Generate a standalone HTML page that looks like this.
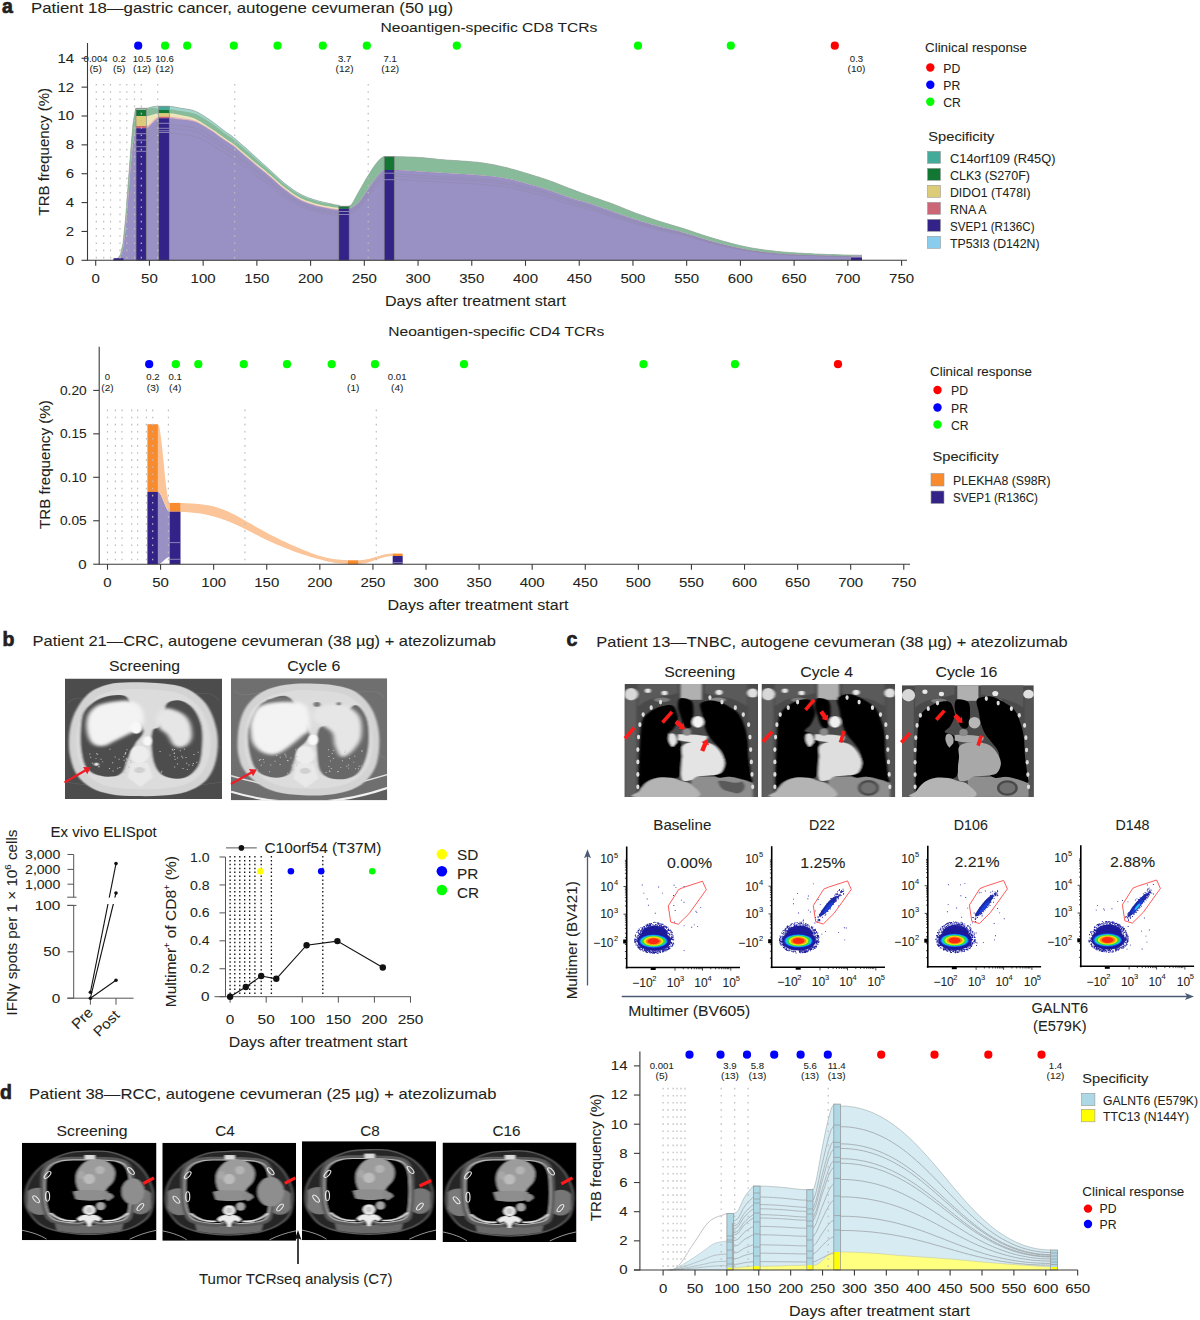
<!DOCTYPE html>
<html><head><meta charset="utf-8"><title>Figure</title>
<style>
html,body{margin:0;padding:0;background:#fff;}
body{width:1200px;height:1320px;overflow:hidden;position:relative;}
svg{position:absolute;left:0;top:0;}
text{font-family:"Liberation Sans",sans-serif;fill:#231f20;stroke:#231f20;stroke-width:0.07px;}
</style></head><body>
<svg width="1200" height="1320" viewBox="0 0 1200 1320">
<defs><filter id="bl1" x="-10%" y="-10%" width="120%" height="120%"><feGaussianBlur stdDeviation="1.2"/></filter>
<filter id="bl2" x="-10%" y="-10%" width="120%" height="120%"><feGaussianBlur stdDeviation="2.2"/></filter>
<filter id="bl05" x="-10%" y="-10%" width="120%" height="120%"><feGaussianBlur stdDeviation="0.6"/></filter>
<clipPath id="cpb1"><rect x="65" y="678.5" width="157" height="120.5"/></clipPath>
<clipPath id="cpb2"><rect x="231" y="678.2" width="156.2" height="122"/></clipPath>
<clipPath id="cpc1"><rect x="624.5" y="684" width="133.5" height="113"/></clipPath>
<clipPath id="cpc2"><rect x="761.5" y="684" width="133.7" height="113"/></clipPath>
<clipPath id="cpc3"><rect x="901.9" y="685.2" width="131.9" height="111.7"/></clipPath>
<clipPath id="cpd1"><rect x="22" y="1142.8" width="134.5" height="97.4"/></clipPath>
<clipPath id="cpd2"><rect x="162.3" y="1142.8" width="133.8" height="98"/></clipPath>
<clipPath id="cpd3"><rect x="302" y="1141.2" width="134" height="99"/></clipPath>
<clipPath id="cpd4"><rect x="442.5" y="1142.5" width="134" height="99.5"/></clipPath></defs>
<text x="2" y="12.8" font-size="19.5" font-weight="bold" style="stroke-width:0.7px">a</text>
<text x="31" y="12.8" font-size="14.6" textLength="422" lengthAdjust="spacingAndGlyphs" >Patient 18—gastric cancer, autogene cevumeran (50 µg)</text>
<text x="380.4" y="32.4" font-size="13.6" textLength="217" lengthAdjust="spacingAndGlyphs" >Neoantigen-specific CD8 TCRs</text>
<polygon points="113.0,260.3 115.5,259.8 118.0,258.2 120.5,254.5 123.0,243.4 125.5,219.1 128.0,186.4 130.5,153.1 133.0,123.7 135.5,108.8 138.1,108.3 140.6,108.3 143.1,108.3 145.6,108.3 148.1,108.1 150.6,107.3 153.1,106.7 155.6,106.4 158.1,106.3 160.6,106.3 163.1,106.3 165.6,106.3 168.1,106.3 170.6,106.4 173.1,106.7 175.6,107.2 178.1,107.7 180.6,108.2 183.1,108.6 185.6,108.9 188.2,109.3 190.7,109.8 193.2,110.5 195.7,111.4 198.2,112.6 200.7,114.0 203.2,115.5 205.7,117.1 208.2,118.8 210.7,120.5 213.2,122.3 215.7,124.2 218.2,126.1 220.7,128.1 223.2,130.0 225.7,131.9 228.2,133.6 230.7,135.3 233.2,137.2 235.7,139.3 238.3,141.5 240.8,143.8 243.3,145.9 245.8,148.1 248.3,150.3 250.8,152.6 253.3,154.9 255.8,157.2 258.3,159.4 260.8,161.7 263.3,164.0 265.8,166.2 268.3,168.5 270.8,170.7 273.3,173.1 275.8,175.4 278.3,177.8 280.8,180.0 283.3,182.2 285.8,184.2 288.4,186.2 290.9,188.1 293.4,189.9 295.9,191.5 298.4,193.0 300.9,194.4 303.4,195.6 305.9,196.7 308.4,197.7 310.9,198.6 313.4,199.4 315.9,200.2 318.4,200.9 320.9,201.6 323.4,202.2 325.9,202.7 328.4,203.3 330.9,203.8 333.4,204.4 335.9,204.9 338.5,205.2 341.0,206.3 343.5,206.3 346.0,206.3 348.5,206.3 351.0,205.3 353.5,201.6 356.0,196.7 358.5,192.2 361.0,187.9 363.5,183.5 366.0,179.1 368.5,175.1 371.0,171.0 373.5,167.2 376.0,163.8 378.5,160.8 381.0,158.2 383.5,156.8 386.0,156.7 388.6,156.7 391.1,156.7 393.6,156.7 396.1,156.7 398.6,156.7 401.1,156.8 403.6,156.8 406.1,156.9 408.6,156.9 411.1,157.0 413.6,157.1 416.1,157.3 418.6,157.4 421.1,157.6 423.6,157.8 426.1,158.0 428.6,158.3 431.1,158.6 433.6,158.8 436.1,159.1 438.7,159.4 441.2,159.6 443.7,159.8 446.2,160.0 448.7,160.2 451.2,160.3 453.7,160.5 456.2,160.6 458.7,160.8 461.2,161.0 463.7,161.1 466.2,161.3 468.7,161.5 471.2,161.7 473.7,161.9 476.2,162.1 478.7,162.4 481.2,162.7 483.7,163.1 486.2,163.4 488.8,163.9 491.3,164.3 493.8,164.8 496.3,165.3 498.8,165.9 501.3,166.4 503.8,167.0 506.3,167.6 508.8,168.2 511.3,168.9 513.8,169.6 516.3,170.3 518.8,171.0 521.3,171.8 523.8,172.5 526.3,173.3 528.8,174.0 531.3,174.8 533.8,175.6 536.3,176.4 538.9,177.1 541.4,178.0 543.9,178.8 546.4,179.6 548.9,180.5 551.4,181.4 553.9,182.3 556.4,183.3 558.9,184.3 561.4,185.3 563.9,186.3 566.4,187.2 568.9,188.2 571.4,189.1 573.9,190.1 576.4,191.0 578.9,191.9 581.4,192.9 583.9,193.8 586.4,194.7 589.0,195.6 591.5,196.5 594.0,197.4 596.5,198.3 599.0,199.1 601.5,200.0 604.0,200.9 606.5,201.7 609.0,202.6 611.5,203.5 614.0,204.5 616.5,205.4 619.0,206.4 621.5,207.4 624.0,208.5 626.5,209.5 629.0,210.5 631.5,211.5 634.0,212.4 636.5,213.4 639.1,214.3 641.6,215.2 644.1,216.1 646.6,217.0 649.1,217.8 651.6,218.7 654.1,219.5 656.6,220.4 659.1,221.2 661.6,222.0 664.1,222.7 666.6,223.5 669.1,224.2 671.6,225.0 674.1,225.7 676.6,226.5 679.1,227.2 681.6,228.0 684.1,228.8 686.6,229.6 689.2,230.5 691.7,231.3 694.2,232.2 696.7,233.0 699.2,233.8 701.7,234.7 704.2,235.5 706.7,236.3 709.2,237.1 711.7,237.8 714.2,238.6 716.7,239.3 719.2,240.0 721.7,240.7 724.2,241.4 726.7,242.1 729.2,242.8 731.7,243.5 734.2,244.1 736.7,244.8 739.3,245.4 741.8,245.9 744.3,246.5 746.8,247.0 749.3,247.5 751.8,248.0 754.3,248.4 756.8,248.8 759.3,249.2 761.8,249.5 764.3,249.9 766.8,250.2 769.3,250.5 771.8,250.8 774.3,251.1 776.8,251.4 779.3,251.6 781.8,251.9 784.3,252.1 786.8,252.3 789.4,252.5 791.9,252.7 794.4,252.8 796.9,253.0 799.4,253.1 801.9,253.2 804.4,253.4 806.9,253.5 809.4,253.6 811.9,253.7 814.4,253.9 816.9,254.0 819.4,254.1 821.9,254.2 824.4,254.3 826.9,254.4 829.4,254.5 831.9,254.6 834.4,254.6 836.9,254.7 839.5,254.8 842.0,254.9 844.5,254.9 847.0,255.0 849.5,255.1 852.0,255.1 854.5,255.2 857.0,255.2 859.5,255.3 862.0,255.3 862.0,260.3 859.5,260.3 857.0,260.3 854.5,260.3 852.0,260.3 849.5,260.3 847.0,260.3 844.5,260.3 842.0,260.3 839.5,260.3 836.9,260.3 834.4,260.3 831.9,260.3 829.4,260.3 826.9,260.3 824.4,260.3 821.9,260.3 819.4,260.3 816.9,260.3 814.4,260.3 811.9,260.3 809.4,260.3 806.9,260.3 804.4,260.3 801.9,260.3 799.4,260.3 796.9,260.3 794.4,260.3 791.9,260.3 789.4,260.3 786.8,260.3 784.3,260.3 781.8,260.3 779.3,260.3 776.8,260.3 774.3,260.3 771.8,260.3 769.3,260.3 766.8,260.3 764.3,260.3 761.8,260.3 759.3,260.3 756.8,260.3 754.3,260.3 751.8,260.3 749.3,260.3 746.8,260.3 744.3,260.3 741.8,260.3 739.3,260.3 736.7,260.3 734.2,260.3 731.7,260.3 729.2,260.3 726.7,260.3 724.2,260.3 721.7,260.3 719.2,260.3 716.7,260.3 714.2,260.3 711.7,260.3 709.2,260.3 706.7,260.3 704.2,260.3 701.7,260.3 699.2,260.3 696.7,260.3 694.2,260.3 691.7,260.3 689.2,260.3 686.6,260.3 684.1,260.3 681.6,260.3 679.1,260.3 676.6,260.3 674.1,260.3 671.6,260.3 669.1,260.3 666.6,260.3 664.1,260.3 661.6,260.3 659.1,260.3 656.6,260.3 654.1,260.3 651.6,260.3 649.1,260.3 646.6,260.3 644.1,260.3 641.6,260.3 639.1,260.3 636.5,260.3 634.0,260.3 631.5,260.3 629.0,260.3 626.5,260.3 624.0,260.3 621.5,260.3 619.0,260.3 616.5,260.3 614.0,260.3 611.5,260.3 609.0,260.3 606.5,260.3 604.0,260.3 601.5,260.3 599.0,260.3 596.5,260.3 594.0,260.3 591.5,260.3 589.0,260.3 586.4,260.3 583.9,260.3 581.4,260.3 578.9,260.3 576.4,260.3 573.9,260.3 571.4,260.3 568.9,260.3 566.4,260.3 563.9,260.3 561.4,260.3 558.9,260.3 556.4,260.3 553.9,260.3 551.4,260.3 548.9,260.3 546.4,260.3 543.9,260.3 541.4,260.3 538.9,260.3 536.3,260.3 533.8,260.3 531.3,260.3 528.8,260.3 526.3,260.3 523.8,260.3 521.3,260.3 518.8,260.3 516.3,260.3 513.8,260.3 511.3,260.3 508.8,260.3 506.3,260.3 503.8,260.3 501.3,260.3 498.8,260.3 496.3,260.3 493.8,260.3 491.3,260.3 488.8,260.3 486.2,260.3 483.7,260.3 481.2,260.3 478.7,260.3 476.2,260.3 473.7,260.3 471.2,260.3 468.7,260.3 466.2,260.3 463.7,260.3 461.2,260.3 458.7,260.3 456.2,260.3 453.7,260.3 451.2,260.3 448.7,260.3 446.2,260.3 443.7,260.3 441.2,260.3 438.7,260.3 436.1,260.3 433.6,260.3 431.1,260.3 428.6,260.3 426.1,260.3 423.6,260.3 421.1,260.3 418.6,260.3 416.1,260.3 413.6,260.3 411.1,260.3 408.6,260.3 406.1,260.3 403.6,260.3 401.1,260.3 398.6,260.3 396.1,260.3 393.6,260.3 391.1,260.3 388.6,260.3 386.0,260.3 383.5,260.3 381.0,260.3 378.5,260.3 376.0,260.3 373.5,260.3 371.0,260.3 368.5,260.3 366.0,260.3 363.5,260.3 361.0,260.3 358.5,260.3 356.0,260.3 353.5,260.3 351.0,260.3 348.5,260.3 346.0,260.3 343.5,260.3 341.0,260.3 338.5,260.3 335.9,260.3 333.4,260.3 330.9,260.3 328.4,260.3 325.9,260.3 323.4,260.3 320.9,260.3 318.4,260.3 315.9,260.3 313.4,260.3 310.9,260.3 308.4,260.3 305.9,260.3 303.4,260.3 300.9,260.3 298.4,260.3 295.9,260.3 293.4,260.3 290.9,260.3 288.4,260.3 285.8,260.3 283.3,260.3 280.8,260.3 278.3,260.3 275.8,260.3 273.3,260.3 270.8,260.3 268.3,260.3 265.8,260.3 263.3,260.3 260.8,260.3 258.3,260.3 255.8,260.3 253.3,260.3 250.8,260.3 248.3,260.3 245.8,260.3 243.3,260.3 240.8,260.3 238.3,260.3 235.7,260.3 233.2,260.3 230.7,260.3 228.2,260.3 225.7,260.3 223.2,260.3 220.7,260.3 218.2,260.3 215.7,260.3 213.2,260.3 210.7,260.3 208.2,260.3 205.7,260.3 203.2,260.3 200.7,260.3 198.2,260.3 195.7,260.3 193.2,260.3 190.7,260.3 188.2,260.3 185.6,260.3 183.1,260.3 180.6,260.3 178.1,260.3 175.6,260.3 173.1,260.3 170.6,260.3 168.1,260.3 165.6,260.3 163.1,260.3 160.6,260.3 158.1,260.3 155.6,260.3 153.1,260.3 150.6,260.3 148.1,260.3 145.6,260.3 143.1,260.3 140.6,260.3 138.1,260.3 135.5,260.3 133.0,260.3 130.5,260.3 128.0,260.3 125.5,260.3 123.0,260.3 120.5,260.3 118.0,260.3 115.5,260.3 113.0,260.3" fill="#88bb99" />
<polygon points="113.0,260.3 115.5,259.8 118.0,258.2 120.5,254.5 123.0,243.4 125.5,219.1 128.0,186.4 130.5,153.1 133.0,123.7 135.5,108.8 138.1,108.3 140.6,108.3 143.1,108.3 145.6,108.3 148.1,108.4 150.6,108.2 153.1,108.1 155.6,108.3 158.1,108.7 160.6,110.0 163.1,110.0 165.6,110.0 168.1,110.0 170.6,109.4 173.1,109.7 175.6,110.1 178.1,110.6 180.6,111.0 183.1,111.4 185.6,111.7 188.2,112.0 190.7,112.5 193.2,113.1 195.7,114.0 198.2,115.1 200.7,116.5 203.2,118.0 205.7,119.6 208.2,121.2 210.7,122.9 213.2,124.6 215.7,126.5 218.2,128.4 220.7,130.3 223.2,132.2 225.7,134.0 228.2,135.7 230.7,137.4 233.2,139.2 235.7,141.3 238.3,143.5 240.8,145.7 243.3,147.8 245.8,150.0 248.3,152.2 250.8,154.4 253.3,156.6 255.8,158.9 258.3,161.1 260.8,163.3 263.3,165.6 265.8,167.8 268.3,170.0 270.8,172.2 273.3,174.5 275.8,176.8 278.3,179.1 280.8,181.4 283.3,183.5 285.8,185.5 288.4,187.4 290.9,189.3 293.4,191.0 295.9,192.6 298.4,194.1 300.9,195.5 303.4,196.6 305.9,197.7 308.4,198.6 310.9,199.4 313.4,200.2 315.9,201.0 318.4,201.7 320.9,202.3 323.4,202.9 325.9,203.4 328.4,203.9 330.9,203.8 333.4,204.4 335.9,204.9 338.5,205.2 341.0,206.3 343.5,206.3 346.0,206.3 348.5,206.3 351.0,205.3 353.5,201.6 356.0,196.7 358.5,192.2 361.0,187.9 363.5,183.5 366.0,179.1 368.5,175.1 371.0,171.0 373.5,167.2 376.0,163.8 378.5,160.8 381.0,158.2 383.5,156.8 386.0,156.7 388.6,156.7 391.1,156.7 393.6,156.7 396.1,156.7 398.6,156.7 401.1,156.8 403.6,156.8 406.1,156.9 408.6,156.9 411.1,157.0 413.6,157.1 416.1,157.3 418.6,157.4 421.1,157.6 423.6,157.8 426.1,158.0 428.6,158.3 431.1,158.6 433.6,158.8 436.1,159.1 438.7,159.4 441.2,159.6 443.7,159.8 446.2,160.0 448.7,160.2 451.2,160.3 453.7,160.5 456.2,160.6 458.7,160.8 461.2,161.0 463.7,161.1 466.2,161.3 468.7,161.5 471.2,161.7 473.7,161.9 476.2,162.1 478.7,162.4 481.2,162.7 483.7,163.1 486.2,163.4 488.8,163.9 491.3,164.3 493.8,164.8 496.3,165.3 498.8,165.9 501.3,166.4 503.8,167.0 506.3,167.6 508.8,168.2 511.3,168.9 513.8,169.6 516.3,170.3 518.8,171.0 521.3,171.8 523.8,172.5 526.3,173.3 528.8,174.0 531.3,174.8 533.8,175.6 536.3,176.4 538.9,177.1 541.4,178.0 543.9,178.8 546.4,179.6 548.9,180.5 551.4,181.4 553.9,182.3 556.4,183.3 558.9,184.3 561.4,185.3 563.9,186.3 566.4,187.2 568.9,188.2 571.4,189.1 573.9,190.1 576.4,191.0 578.9,191.9 581.4,192.9 583.9,193.8 586.4,194.7 589.0,195.6 591.5,196.5 594.0,197.4 596.5,198.3 599.0,199.1 601.5,200.0 604.0,200.9 606.5,201.7 609.0,202.6 611.5,203.5 614.0,204.5 616.5,205.4 619.0,206.4 621.5,207.4 624.0,208.5 626.5,209.5 629.0,210.5 631.5,211.5 634.0,212.4 636.5,213.4 639.1,214.3 641.6,215.2 644.1,216.1 646.6,217.0 649.1,217.8 651.6,218.7 654.1,219.5 656.6,220.4 659.1,221.2 661.6,222.0 664.1,222.7 666.6,223.5 669.1,224.2 671.6,225.0 674.1,225.7 676.6,226.5 679.1,227.2 681.6,228.0 684.1,228.8 686.6,229.6 689.2,230.5 691.7,231.3 694.2,232.2 696.7,233.0 699.2,233.8 701.7,234.7 704.2,235.5 706.7,236.3 709.2,237.1 711.7,237.8 714.2,238.6 716.7,239.3 719.2,240.0 721.7,240.7 724.2,241.4 726.7,242.1 729.2,242.8 731.7,243.5 734.2,244.1 736.7,244.8 739.3,245.4 741.8,245.9 744.3,246.5 746.8,247.0 749.3,247.5 751.8,248.0 754.3,248.4 756.8,248.8 759.3,249.2 761.8,249.5 764.3,249.9 766.8,250.2 769.3,250.5 771.8,250.8 774.3,251.1 776.8,251.4 779.3,251.6 781.8,251.9 784.3,252.1 786.8,252.3 789.4,252.5 791.9,252.7 794.4,252.8 796.9,253.0 799.4,253.1 801.9,253.2 804.4,253.4 806.9,253.5 809.4,253.6 811.9,253.7 814.4,253.9 816.9,254.0 819.4,254.1 821.9,254.2 824.4,254.3 826.9,254.4 829.4,254.5 831.9,254.6 834.4,254.6 836.9,254.7 839.5,254.8 842.0,254.9 844.5,254.9 847.0,255.0 849.5,255.1 852.0,255.1 854.5,255.2 857.0,255.2 859.5,255.3 862.0,255.3 862.0,260.3 859.5,260.3 857.0,260.3 854.5,260.3 852.0,260.3 849.5,260.3 847.0,260.3 844.5,260.3 842.0,260.3 839.5,260.3 836.9,260.3 834.4,260.3 831.9,260.3 829.4,260.3 826.9,260.3 824.4,260.3 821.9,260.3 819.4,260.3 816.9,260.3 814.4,260.3 811.9,260.3 809.4,260.3 806.9,260.3 804.4,260.3 801.9,260.3 799.4,260.3 796.9,260.3 794.4,260.3 791.9,260.3 789.4,260.3 786.8,260.3 784.3,260.3 781.8,260.3 779.3,260.3 776.8,260.3 774.3,260.3 771.8,260.3 769.3,260.3 766.8,260.3 764.3,260.3 761.8,260.3 759.3,260.3 756.8,260.3 754.3,260.3 751.8,260.3 749.3,260.3 746.8,260.3 744.3,260.3 741.8,260.3 739.3,260.3 736.7,260.3 734.2,260.3 731.7,260.3 729.2,260.3 726.7,260.3 724.2,260.3 721.7,260.3 719.2,260.3 716.7,260.3 714.2,260.3 711.7,260.3 709.2,260.3 706.7,260.3 704.2,260.3 701.7,260.3 699.2,260.3 696.7,260.3 694.2,260.3 691.7,260.3 689.2,260.3 686.6,260.3 684.1,260.3 681.6,260.3 679.1,260.3 676.6,260.3 674.1,260.3 671.6,260.3 669.1,260.3 666.6,260.3 664.1,260.3 661.6,260.3 659.1,260.3 656.6,260.3 654.1,260.3 651.6,260.3 649.1,260.3 646.6,260.3 644.1,260.3 641.6,260.3 639.1,260.3 636.5,260.3 634.0,260.3 631.5,260.3 629.0,260.3 626.5,260.3 624.0,260.3 621.5,260.3 619.0,260.3 616.5,260.3 614.0,260.3 611.5,260.3 609.0,260.3 606.5,260.3 604.0,260.3 601.5,260.3 599.0,260.3 596.5,260.3 594.0,260.3 591.5,260.3 589.0,260.3 586.4,260.3 583.9,260.3 581.4,260.3 578.9,260.3 576.4,260.3 573.9,260.3 571.4,260.3 568.9,260.3 566.4,260.3 563.9,260.3 561.4,260.3 558.9,260.3 556.4,260.3 553.9,260.3 551.4,260.3 548.9,260.3 546.4,260.3 543.9,260.3 541.4,260.3 538.9,260.3 536.3,260.3 533.8,260.3 531.3,260.3 528.8,260.3 526.3,260.3 523.8,260.3 521.3,260.3 518.8,260.3 516.3,260.3 513.8,260.3 511.3,260.3 508.8,260.3 506.3,260.3 503.8,260.3 501.3,260.3 498.8,260.3 496.3,260.3 493.8,260.3 491.3,260.3 488.8,260.3 486.2,260.3 483.7,260.3 481.2,260.3 478.7,260.3 476.2,260.3 473.7,260.3 471.2,260.3 468.7,260.3 466.2,260.3 463.7,260.3 461.2,260.3 458.7,260.3 456.2,260.3 453.7,260.3 451.2,260.3 448.7,260.3 446.2,260.3 443.7,260.3 441.2,260.3 438.7,260.3 436.1,260.3 433.6,260.3 431.1,260.3 428.6,260.3 426.1,260.3 423.6,260.3 421.1,260.3 418.6,260.3 416.1,260.3 413.6,260.3 411.1,260.3 408.6,260.3 406.1,260.3 403.6,260.3 401.1,260.3 398.6,260.3 396.1,260.3 393.6,260.3 391.1,260.3 388.6,260.3 386.0,260.3 383.5,260.3 381.0,260.3 378.5,260.3 376.0,260.3 373.5,260.3 371.0,260.3 368.5,260.3 366.0,260.3 363.5,260.3 361.0,260.3 358.5,260.3 356.0,260.3 353.5,260.3 351.0,260.3 348.5,260.3 346.0,260.3 343.5,260.3 341.0,260.3 338.5,260.3 335.9,260.3 333.4,260.3 330.9,260.3 328.4,260.3 325.9,260.3 323.4,260.3 320.9,260.3 318.4,260.3 315.9,260.3 313.4,260.3 310.9,260.3 308.4,260.3 305.9,260.3 303.4,260.3 300.9,260.3 298.4,260.3 295.9,260.3 293.4,260.3 290.9,260.3 288.4,260.3 285.8,260.3 283.3,260.3 280.8,260.3 278.3,260.3 275.8,260.3 273.3,260.3 270.8,260.3 268.3,260.3 265.8,260.3 263.3,260.3 260.8,260.3 258.3,260.3 255.8,260.3 253.3,260.3 250.8,260.3 248.3,260.3 245.8,260.3 243.3,260.3 240.8,260.3 238.3,260.3 235.7,260.3 233.2,260.3 230.7,260.3 228.2,260.3 225.7,260.3 223.2,260.3 220.7,260.3 218.2,260.3 215.7,260.3 213.2,260.3 210.7,260.3 208.2,260.3 205.7,260.3 203.2,260.3 200.7,260.3 198.2,260.3 195.7,260.3 193.2,260.3 190.7,260.3 188.2,260.3 185.6,260.3 183.1,260.3 180.6,260.3 178.1,260.3 175.6,260.3 173.1,260.3 170.6,260.3 168.1,260.3 165.6,260.3 163.1,260.3 160.6,260.3 158.1,260.3 155.6,260.3 153.1,260.3 150.6,260.3 148.1,260.3 145.6,260.3 143.1,260.3 140.6,260.3 138.1,260.3 135.5,260.3 133.0,260.3 130.5,260.3 128.0,260.3 125.5,260.3 123.0,260.3 120.5,260.3 118.0,260.3 115.5,260.3 113.0,260.3" fill="#88bb99" />
<polygon points="146.0,108.3 148.5,107.9 151.0,107.1 153.6,106.6 156.1,106.4 158.6,106.3 161.1,106.3 163.6,106.3 166.2,106.3 168.7,106.3 171.2,106.5 173.7,106.8 176.2,107.3 178.8,107.8 181.3,108.3 183.8,108.7 186.3,109.0 188.8,109.4 191.4,110.0 193.9,110.7 196.4,111.7 198.9,113.0 201.5,114.4 204.0,116.0 206.5,117.6 209.0,119.3 211.5,121.1 214.1,122.9 216.6,124.8 219.1,126.8 221.6,128.8 224.1,130.7 226.7,132.5 229.2,134.3 231.7,136.0 234.2,137.9 236.7,140.1 239.3,142.4 241.8,144.7 244.3,146.8 246.8,149.1 249.3,151.3 251.9,153.6 254.4,155.9 256.9,158.2 259.4,160.5 261.9,162.7 264.5,165.0 267.0,167.3 269.5,169.6 272.0,171.9 274.5,174.2 277.1,176.6 279.6,178.9 282.1,181.2 284.6,183.3 287.2,185.3 289.7,187.2 292.2,189.0 294.7,190.8 297.2,192.4 299.8,193.8 302.3,195.1 304.8,196.2 307.3,197.3 309.8,198.2 312.4,199.1 314.9,199.9 317.4,200.7 319.9,201.3 322.4,202.0 325.0,202.5 327.5,203.1 330.0,203.6 330.0,203.6 327.5,203.7 325.0,203.2 322.4,202.7 319.9,202.1 317.4,201.4 314.9,200.7 312.4,199.9 309.8,199.1 307.3,198.2 304.8,197.2 302.3,196.1 299.8,194.9 297.2,193.5 294.7,191.9 292.2,190.2 289.7,188.4 287.2,186.5 284.6,184.6 282.1,182.5 279.6,180.3 277.1,178.0 274.5,175.6 272.0,173.3 269.5,171.1 267.0,168.8 264.5,166.6 261.9,164.4 259.4,162.1 256.9,159.9 254.4,157.6 251.9,155.3 249.3,153.1 246.8,150.9 244.3,148.7 241.8,146.6 239.3,144.4 236.7,142.1 234.2,140.0 231.7,138.1 229.2,136.4 226.7,134.7 224.1,132.9 221.6,131.0 219.1,129.0 216.6,127.1 214.1,125.2 211.5,123.4 209.0,121.7 206.5,120.1 204.0,118.5 201.5,116.9 198.9,115.5 196.4,114.3 193.9,113.4 191.4,112.7 188.8,112.2 186.3,111.8 183.8,111.5 181.3,111.1 178.8,110.7 176.2,110.2 173.7,109.8 171.2,109.4 168.7,110.0 166.2,110.0 163.6,110.0 161.1,110.0 158.6,108.8 156.1,108.4 153.6,108.1 151.0,108.1 148.5,108.4 146.0,108.3" fill="#a1d4cc" />
<polygon points="113.0,260.3 115.5,260.1 118.0,259.2 120.5,257.0 123.0,249.5 125.5,231.0 128.0,201.8 130.5,168.6 133.0,142.7 135.5,128.8 138.1,116.0 140.6,116.0 143.1,116.0 145.6,116.0 148.1,115.9 150.6,115.3 153.1,114.5 155.6,113.7 158.1,113.3 160.6,113.3 163.1,113.3 165.6,113.3 168.1,113.3 170.6,113.3 173.1,113.6 175.6,114.0 178.1,114.6 180.6,115.1 183.1,115.6 185.6,116.1 188.2,116.6 190.7,117.2 193.2,118.0 195.7,119.1 198.2,120.4 200.7,121.8 203.2,123.4 205.7,125.0 208.2,126.7 210.7,128.2 213.2,129.9 215.7,131.6 218.2,133.5 220.7,135.3 223.2,137.1 225.7,138.8 228.2,140.4 230.7,142.0 233.2,143.7 235.7,145.7 238.3,148.0 240.8,150.2 243.3,152.3 245.8,154.5 248.3,156.6 250.8,158.7 253.3,160.9 255.8,163.0 258.3,165.0 260.8,167.1 263.3,169.1 265.8,171.1 268.3,173.2 270.8,175.3 273.3,177.5 275.8,179.7 278.3,182.0 280.8,184.2 283.3,186.3 285.8,188.2 288.4,190.1 290.9,192.0 293.4,193.7 295.9,195.3 298.4,196.8 300.9,198.2 303.4,199.3 305.9,200.4 308.4,201.3 310.9,202.1 313.4,202.9 315.9,203.7 318.4,204.3 320.9,204.9 323.4,205.4 325.9,205.9 328.4,206.3 330.9,206.8 333.4,207.2 335.9,207.6 338.5,207.8 341.0,210.0 343.5,209.8 346.0,209.4 348.5,208.8 351.0,207.8 353.5,206.5 356.0,204.8 358.5,202.5 361.0,199.4 363.5,195.7 366.0,192.0 368.5,188.4 371.0,184.7 373.5,181.1 376.0,177.8 378.5,174.7 381.0,171.8 383.5,170.1 386.0,170.0 388.6,170.0 391.1,170.0 393.6,170.0 396.1,170.0 398.6,170.1 401.1,170.2 403.6,170.3 406.1,170.5 408.6,170.7 411.1,170.9 413.6,171.0 416.1,171.2 418.6,171.4 421.1,171.6 423.6,171.7 426.1,171.9 428.6,172.0 431.1,172.2 433.6,172.3 436.1,172.5 438.7,172.7 441.2,172.8 443.7,173.0 446.2,173.1 448.7,173.3 451.2,173.4 453.7,173.6 456.2,173.7 458.7,173.8 461.2,174.0 463.7,174.1 466.2,174.3 468.7,174.5 471.2,174.6 473.7,174.8 476.2,175.0 478.7,175.2 481.2,175.4 483.7,175.6 486.2,175.9 488.8,176.1 491.3,176.3 493.8,176.6 496.3,176.9 498.8,177.2 501.3,177.6 503.8,178.0 506.3,178.4 508.8,179.0 511.3,179.5 513.8,180.1 516.3,180.8 518.8,181.4 521.3,182.1 523.8,182.8 526.3,183.5 528.8,184.2 531.3,184.9 533.8,185.6 536.3,186.3 538.9,187.1 541.4,187.8 543.9,188.6 546.4,189.4 548.9,190.2 551.4,191.0 553.9,191.9 556.4,192.8 558.9,193.8 561.4,194.7 563.9,195.6 566.4,196.5 568.9,197.3 571.4,198.2 573.9,198.9 576.4,199.7 578.9,200.4 581.4,201.1 583.9,201.8 586.4,202.6 589.0,203.3 591.5,204.1 594.0,204.9 596.5,205.8 599.0,206.7 601.5,207.5 604.0,208.4 606.5,209.3 609.0,210.2 611.5,211.1 614.0,212.0 616.5,212.9 619.0,213.8 621.5,214.7 624.0,215.5 626.5,216.4 629.0,217.3 631.5,218.2 634.0,219.0 636.5,219.8 639.1,220.6 641.6,221.4 644.1,222.1 646.6,222.9 649.1,223.6 651.6,224.4 654.1,225.1 656.6,225.8 659.1,226.4 661.6,227.1 664.1,227.7 666.6,228.2 669.1,228.8 671.6,229.4 674.1,230.0 676.6,230.6 679.1,231.3 681.6,232.0 684.1,232.7 686.6,233.4 689.2,234.2 691.7,235.0 694.2,235.8 696.7,236.6 699.2,237.4 701.7,238.2 704.2,239.0 706.7,239.8 709.2,240.5 711.7,241.3 714.2,241.9 716.7,242.6 719.2,243.3 721.7,243.9 724.2,244.6 726.7,245.2 729.2,245.8 731.7,246.4 734.2,247.0 736.7,247.5 739.3,248.0 741.8,248.6 744.3,249.0 746.8,249.5 749.3,249.9 751.8,250.4 754.3,250.8 756.8,251.1 759.3,251.5 761.8,251.8 764.3,252.1 766.8,252.4 769.3,252.7 771.8,252.9 774.3,253.2 776.8,253.4 779.3,253.6 781.8,253.9 784.3,254.0 786.8,254.2 789.4,254.4 791.9,254.5 794.4,254.6 796.9,254.7 799.4,254.8 801.9,254.9 804.4,255.0 806.9,255.1 809.4,255.2 811.9,255.2 814.4,255.3 816.9,255.4 819.4,255.5 821.9,255.6 824.4,255.7 826.9,255.8 829.4,255.8 831.9,255.9 834.4,256.0 836.9,256.1 839.5,256.1 842.0,256.2 844.5,256.2 847.0,256.3 849.5,256.4 852.0,256.4 854.5,256.5 857.0,256.5 859.5,256.6 862.0,256.6 862.0,260.3 859.5,260.3 857.0,260.3 854.5,260.3 852.0,260.3 849.5,260.3 847.0,260.3 844.5,260.3 842.0,260.3 839.5,260.3 836.9,260.3 834.4,260.3 831.9,260.3 829.4,260.3 826.9,260.3 824.4,260.3 821.9,260.3 819.4,260.3 816.9,260.3 814.4,260.3 811.9,260.3 809.4,260.3 806.9,260.3 804.4,260.3 801.9,260.3 799.4,260.3 796.9,260.3 794.4,260.3 791.9,260.3 789.4,260.3 786.8,260.3 784.3,260.3 781.8,260.3 779.3,260.3 776.8,260.3 774.3,260.3 771.8,260.3 769.3,260.3 766.8,260.3 764.3,260.3 761.8,260.3 759.3,260.3 756.8,260.3 754.3,260.3 751.8,260.3 749.3,260.3 746.8,260.3 744.3,260.3 741.8,260.3 739.3,260.3 736.7,260.3 734.2,260.3 731.7,260.3 729.2,260.3 726.7,260.3 724.2,260.3 721.7,260.3 719.2,260.3 716.7,260.3 714.2,260.3 711.7,260.3 709.2,260.3 706.7,260.3 704.2,260.3 701.7,260.3 699.2,260.3 696.7,260.3 694.2,260.3 691.7,260.3 689.2,260.3 686.6,260.3 684.1,260.3 681.6,260.3 679.1,260.3 676.6,260.3 674.1,260.3 671.6,260.3 669.1,260.3 666.6,260.3 664.1,260.3 661.6,260.3 659.1,260.3 656.6,260.3 654.1,260.3 651.6,260.3 649.1,260.3 646.6,260.3 644.1,260.3 641.6,260.3 639.1,260.3 636.5,260.3 634.0,260.3 631.5,260.3 629.0,260.3 626.5,260.3 624.0,260.3 621.5,260.3 619.0,260.3 616.5,260.3 614.0,260.3 611.5,260.3 609.0,260.3 606.5,260.3 604.0,260.3 601.5,260.3 599.0,260.3 596.5,260.3 594.0,260.3 591.5,260.3 589.0,260.3 586.4,260.3 583.9,260.3 581.4,260.3 578.9,260.3 576.4,260.3 573.9,260.3 571.4,260.3 568.9,260.3 566.4,260.3 563.9,260.3 561.4,260.3 558.9,260.3 556.4,260.3 553.9,260.3 551.4,260.3 548.9,260.3 546.4,260.3 543.9,260.3 541.4,260.3 538.9,260.3 536.3,260.3 533.8,260.3 531.3,260.3 528.8,260.3 526.3,260.3 523.8,260.3 521.3,260.3 518.8,260.3 516.3,260.3 513.8,260.3 511.3,260.3 508.8,260.3 506.3,260.3 503.8,260.3 501.3,260.3 498.8,260.3 496.3,260.3 493.8,260.3 491.3,260.3 488.8,260.3 486.2,260.3 483.7,260.3 481.2,260.3 478.7,260.3 476.2,260.3 473.7,260.3 471.2,260.3 468.7,260.3 466.2,260.3 463.7,260.3 461.2,260.3 458.7,260.3 456.2,260.3 453.7,260.3 451.2,260.3 448.7,260.3 446.2,260.3 443.7,260.3 441.2,260.3 438.7,260.3 436.1,260.3 433.6,260.3 431.1,260.3 428.6,260.3 426.1,260.3 423.6,260.3 421.1,260.3 418.6,260.3 416.1,260.3 413.6,260.3 411.1,260.3 408.6,260.3 406.1,260.3 403.6,260.3 401.1,260.3 398.6,260.3 396.1,260.3 393.6,260.3 391.1,260.3 388.6,260.3 386.0,260.3 383.5,260.3 381.0,260.3 378.5,260.3 376.0,260.3 373.5,260.3 371.0,260.3 368.5,260.3 366.0,260.3 363.5,260.3 361.0,260.3 358.5,260.3 356.0,260.3 353.5,260.3 351.0,260.3 348.5,260.3 346.0,260.3 343.5,260.3 341.0,260.3 338.5,260.3 335.9,260.3 333.4,260.3 330.9,260.3 328.4,260.3 325.9,260.3 323.4,260.3 320.9,260.3 318.4,260.3 315.9,260.3 313.4,260.3 310.9,260.3 308.4,260.3 305.9,260.3 303.4,260.3 300.9,260.3 298.4,260.3 295.9,260.3 293.4,260.3 290.9,260.3 288.4,260.3 285.8,260.3 283.3,260.3 280.8,260.3 278.3,260.3 275.8,260.3 273.3,260.3 270.8,260.3 268.3,260.3 265.8,260.3 263.3,260.3 260.8,260.3 258.3,260.3 255.8,260.3 253.3,260.3 250.8,260.3 248.3,260.3 245.8,260.3 243.3,260.3 240.8,260.3 238.3,260.3 235.7,260.3 233.2,260.3 230.7,260.3 228.2,260.3 225.7,260.3 223.2,260.3 220.7,260.3 218.2,260.3 215.7,260.3 213.2,260.3 210.7,260.3 208.2,260.3 205.7,260.3 203.2,260.3 200.7,260.3 198.2,260.3 195.7,260.3 193.2,260.3 190.7,260.3 188.2,260.3 185.6,260.3 183.1,260.3 180.6,260.3 178.1,260.3 175.6,260.3 173.1,260.3 170.6,260.3 168.1,260.3 165.6,260.3 163.1,260.3 160.6,260.3 158.1,260.3 155.6,260.3 153.1,260.3 150.6,260.3 148.1,260.3 145.6,260.3 143.1,260.3 140.6,260.3 138.1,260.3 135.5,260.3 133.0,260.3 130.5,260.3 128.0,260.3 125.5,260.3 123.0,260.3 120.5,260.3 118.0,260.3 115.5,260.3 113.0,260.3" fill="#eee5bb" />
<polygon points="113.0,260.3 115.5,260.1 118.0,259.2 120.5,257.0 123.0,249.5 125.5,231.0 128.0,201.8 130.5,168.6 133.0,142.7 135.5,128.8 138.1,126.0 140.6,126.0 143.1,126.0 145.6,126.0 148.1,125.5 150.6,123.4 153.1,120.7 155.6,118.2 158.1,116.8 160.6,116.7 163.1,116.7 165.6,116.7 168.1,116.7 170.6,116.7 173.1,117.0 175.6,117.3 178.1,117.7 180.6,118.1 183.1,118.5 185.6,118.8 188.2,119.1 190.7,119.5 193.2,120.2 195.7,121.0 198.2,122.2 200.7,123.5 203.2,124.9 205.7,126.5 208.2,128.1 210.7,129.6 213.2,131.3 215.7,133.0 218.2,134.9 220.7,136.7 223.2,138.5 225.7,140.2 228.2,141.8 230.7,143.4 233.2,145.1 235.7,147.1 238.3,149.4 240.8,151.6 243.3,153.7 245.8,155.9 248.3,158.0 250.8,160.1 253.3,162.3 255.8,164.4 258.3,166.4 260.8,168.5 263.3,170.5 265.8,172.5 268.3,174.6 270.8,176.7 273.3,178.9 275.8,181.1 278.3,183.4 280.8,185.6 283.3,187.7 285.8,189.6 288.4,191.5 290.9,193.4 293.4,195.1 295.9,196.7 298.4,198.2 300.9,199.6 303.4,200.7 305.9,201.8 308.4,202.7 310.9,203.5 313.4,204.3 315.9,205.1 318.4,205.7 320.9,206.3 323.4,206.8 325.9,207.3 328.4,207.7 330.9,208.2 333.4,208.6 335.9,209.0 338.5,209.2 341.0,210.0 343.5,209.8 346.0,209.4 348.5,208.8 351.0,207.8 353.5,206.5 356.0,204.8 358.5,202.5 361.0,199.4 363.5,195.7 366.0,192.0 368.5,188.4 371.0,184.7 373.5,181.1 376.0,177.8 378.5,174.7 381.0,171.8 383.5,170.1 386.0,170.0 388.6,170.0 391.1,170.0 393.6,170.0 396.1,170.0 398.6,170.1 401.1,170.2 403.6,170.3 406.1,170.5 408.6,170.7 411.1,170.9 413.6,171.0 416.1,171.2 418.6,171.4 421.1,171.6 423.6,171.7 426.1,171.9 428.6,172.0 431.1,172.2 433.6,172.3 436.1,172.5 438.7,172.7 441.2,172.8 443.7,173.0 446.2,173.1 448.7,173.3 451.2,173.4 453.7,173.6 456.2,173.7 458.7,173.8 461.2,174.0 463.7,174.1 466.2,174.3 468.7,174.5 471.2,174.6 473.7,174.8 476.2,175.0 478.7,175.2 481.2,175.4 483.7,175.6 486.2,175.9 488.8,176.1 491.3,176.3 493.8,176.6 496.3,176.9 498.8,177.2 501.3,177.6 503.8,178.0 506.3,178.4 508.8,179.0 511.3,179.5 513.8,180.1 516.3,180.8 518.8,181.4 521.3,182.1 523.8,182.8 526.3,183.5 528.8,184.2 531.3,184.9 533.8,185.6 536.3,186.3 538.9,187.1 541.4,187.8 543.9,188.6 546.4,189.4 548.9,190.2 551.4,191.0 553.9,191.9 556.4,192.8 558.9,193.8 561.4,194.7 563.9,195.6 566.4,196.5 568.9,197.3 571.4,198.2 573.9,198.9 576.4,199.7 578.9,200.4 581.4,201.1 583.9,201.8 586.4,202.6 589.0,203.3 591.5,204.1 594.0,204.9 596.5,205.8 599.0,206.7 601.5,207.5 604.0,208.4 606.5,209.3 609.0,210.2 611.5,211.1 614.0,212.0 616.5,212.9 619.0,213.8 621.5,214.7 624.0,215.5 626.5,216.4 629.0,217.3 631.5,218.2 634.0,219.0 636.5,219.8 639.1,220.6 641.6,221.4 644.1,222.1 646.6,222.9 649.1,223.6 651.6,224.4 654.1,225.1 656.6,225.8 659.1,226.4 661.6,227.1 664.1,227.7 666.6,228.2 669.1,228.8 671.6,229.4 674.1,230.0 676.6,230.6 679.1,231.3 681.6,232.0 684.1,232.7 686.6,233.4 689.2,234.2 691.7,235.0 694.2,235.8 696.7,236.6 699.2,237.4 701.7,238.2 704.2,239.0 706.7,239.8 709.2,240.5 711.7,241.3 714.2,241.9 716.7,242.6 719.2,243.3 721.7,243.9 724.2,244.6 726.7,245.2 729.2,245.8 731.7,246.4 734.2,247.0 736.7,247.5 739.3,248.0 741.8,248.6 744.3,249.0 746.8,249.5 749.3,249.9 751.8,250.4 754.3,250.8 756.8,251.1 759.3,251.5 761.8,251.8 764.3,252.1 766.8,252.4 769.3,252.7 771.8,252.9 774.3,253.2 776.8,253.4 779.3,253.6 781.8,253.9 784.3,254.0 786.8,254.2 789.4,254.4 791.9,254.5 794.4,254.6 796.9,254.7 799.4,254.8 801.9,254.9 804.4,255.0 806.9,255.1 809.4,255.2 811.9,255.2 814.4,255.3 816.9,255.4 819.4,255.5 821.9,255.6 824.4,255.7 826.9,255.8 829.4,255.8 831.9,255.9 834.4,256.0 836.9,256.1 839.5,256.1 842.0,256.2 844.5,256.2 847.0,256.3 849.5,256.4 852.0,256.4 854.5,256.5 857.0,256.5 859.5,256.6 862.0,256.6 862.0,260.3 859.5,260.3 857.0,260.3 854.5,260.3 852.0,260.3 849.5,260.3 847.0,260.3 844.5,260.3 842.0,260.3 839.5,260.3 836.9,260.3 834.4,260.3 831.9,260.3 829.4,260.3 826.9,260.3 824.4,260.3 821.9,260.3 819.4,260.3 816.9,260.3 814.4,260.3 811.9,260.3 809.4,260.3 806.9,260.3 804.4,260.3 801.9,260.3 799.4,260.3 796.9,260.3 794.4,260.3 791.9,260.3 789.4,260.3 786.8,260.3 784.3,260.3 781.8,260.3 779.3,260.3 776.8,260.3 774.3,260.3 771.8,260.3 769.3,260.3 766.8,260.3 764.3,260.3 761.8,260.3 759.3,260.3 756.8,260.3 754.3,260.3 751.8,260.3 749.3,260.3 746.8,260.3 744.3,260.3 741.8,260.3 739.3,260.3 736.7,260.3 734.2,260.3 731.7,260.3 729.2,260.3 726.7,260.3 724.2,260.3 721.7,260.3 719.2,260.3 716.7,260.3 714.2,260.3 711.7,260.3 709.2,260.3 706.7,260.3 704.2,260.3 701.7,260.3 699.2,260.3 696.7,260.3 694.2,260.3 691.7,260.3 689.2,260.3 686.6,260.3 684.1,260.3 681.6,260.3 679.1,260.3 676.6,260.3 674.1,260.3 671.6,260.3 669.1,260.3 666.6,260.3 664.1,260.3 661.6,260.3 659.1,260.3 656.6,260.3 654.1,260.3 651.6,260.3 649.1,260.3 646.6,260.3 644.1,260.3 641.6,260.3 639.1,260.3 636.5,260.3 634.0,260.3 631.5,260.3 629.0,260.3 626.5,260.3 624.0,260.3 621.5,260.3 619.0,260.3 616.5,260.3 614.0,260.3 611.5,260.3 609.0,260.3 606.5,260.3 604.0,260.3 601.5,260.3 599.0,260.3 596.5,260.3 594.0,260.3 591.5,260.3 589.0,260.3 586.4,260.3 583.9,260.3 581.4,260.3 578.9,260.3 576.4,260.3 573.9,260.3 571.4,260.3 568.9,260.3 566.4,260.3 563.9,260.3 561.4,260.3 558.9,260.3 556.4,260.3 553.9,260.3 551.4,260.3 548.9,260.3 546.4,260.3 543.9,260.3 541.4,260.3 538.9,260.3 536.3,260.3 533.8,260.3 531.3,260.3 528.8,260.3 526.3,260.3 523.8,260.3 521.3,260.3 518.8,260.3 516.3,260.3 513.8,260.3 511.3,260.3 508.8,260.3 506.3,260.3 503.8,260.3 501.3,260.3 498.8,260.3 496.3,260.3 493.8,260.3 491.3,260.3 488.8,260.3 486.2,260.3 483.7,260.3 481.2,260.3 478.7,260.3 476.2,260.3 473.7,260.3 471.2,260.3 468.7,260.3 466.2,260.3 463.7,260.3 461.2,260.3 458.7,260.3 456.2,260.3 453.7,260.3 451.2,260.3 448.7,260.3 446.2,260.3 443.7,260.3 441.2,260.3 438.7,260.3 436.1,260.3 433.6,260.3 431.1,260.3 428.6,260.3 426.1,260.3 423.6,260.3 421.1,260.3 418.6,260.3 416.1,260.3 413.6,260.3 411.1,260.3 408.6,260.3 406.1,260.3 403.6,260.3 401.1,260.3 398.6,260.3 396.1,260.3 393.6,260.3 391.1,260.3 388.6,260.3 386.0,260.3 383.5,260.3 381.0,260.3 378.5,260.3 376.0,260.3 373.5,260.3 371.0,260.3 368.5,260.3 366.0,260.3 363.5,260.3 361.0,260.3 358.5,260.3 356.0,260.3 353.5,260.3 351.0,260.3 348.5,260.3 346.0,260.3 343.5,260.3 341.0,260.3 338.5,260.3 335.9,260.3 333.4,260.3 330.9,260.3 328.4,260.3 325.9,260.3 323.4,260.3 320.9,260.3 318.4,260.3 315.9,260.3 313.4,260.3 310.9,260.3 308.4,260.3 305.9,260.3 303.4,260.3 300.9,260.3 298.4,260.3 295.9,260.3 293.4,260.3 290.9,260.3 288.4,260.3 285.8,260.3 283.3,260.3 280.8,260.3 278.3,260.3 275.8,260.3 273.3,260.3 270.8,260.3 268.3,260.3 265.8,260.3 263.3,260.3 260.8,260.3 258.3,260.3 255.8,260.3 253.3,260.3 250.8,260.3 248.3,260.3 245.8,260.3 243.3,260.3 240.8,260.3 238.3,260.3 235.7,260.3 233.2,260.3 230.7,260.3 228.2,260.3 225.7,260.3 223.2,260.3 220.7,260.3 218.2,260.3 215.7,260.3 213.2,260.3 210.7,260.3 208.2,260.3 205.7,260.3 203.2,260.3 200.7,260.3 198.2,260.3 195.7,260.3 193.2,260.3 190.7,260.3 188.2,260.3 185.6,260.3 183.1,260.3 180.6,260.3 178.1,260.3 175.6,260.3 173.1,260.3 170.6,260.3 168.1,260.3 165.6,260.3 163.1,260.3 160.6,260.3 158.1,260.3 155.6,260.3 153.1,260.3 150.6,260.3 148.1,260.3 145.6,260.3 143.1,260.3 140.6,260.3 138.1,260.3 135.5,260.3 133.0,260.3 130.5,260.3 128.0,260.3 125.5,260.3 123.0,260.3 120.5,260.3 118.0,260.3 115.5,260.3 113.0,260.3" fill="#e5b2bb" />
<polygon points="113.0,260.3 115.5,260.1 118.0,259.2 120.5,257.0 123.0,249.5 125.5,231.0 128.0,201.8 130.5,168.6 133.0,142.7 135.5,128.8 138.1,128.3 140.6,128.3 143.1,128.3 145.6,128.3 148.1,127.5 150.6,125.0 153.1,122.5 155.6,120.0 158.1,118.4 160.6,118.3 163.1,118.3 165.6,118.3 168.1,118.3 170.6,118.3 173.1,118.5 175.6,118.9 178.1,119.2 180.6,119.6 183.1,119.8 185.6,120.1 188.2,120.3 190.7,120.7 193.2,121.2 195.7,122.0 198.2,123.1 200.7,124.4 203.2,125.8 205.7,127.3 208.2,128.9 210.7,130.4 213.2,132.1 215.7,133.8 218.2,135.7 220.7,137.5 223.2,139.3 225.7,141.0 228.2,142.6 230.7,144.2 233.2,145.9 235.7,147.9 238.3,150.2 240.8,152.4 243.3,154.5 245.8,156.7 248.3,158.8 250.8,160.9 253.3,163.1 255.8,165.2 258.3,167.2 260.8,169.3 263.3,171.3 265.8,173.3 268.3,175.4 270.8,177.5 273.3,179.7 275.8,181.9 278.3,184.2 280.8,186.4 283.3,188.5 285.8,190.4 288.4,192.3 290.9,194.2 293.4,195.9 295.9,197.5 298.4,199.0 300.9,200.4 303.4,201.5 305.9,202.6 308.4,203.5 310.9,204.3 313.4,205.1 315.9,205.9 318.4,206.5 320.9,207.1 323.4,207.6 325.9,208.1 328.4,208.5 330.9,209.0 333.4,209.4 335.9,209.8 338.5,210.0 341.0,210.0 343.5,209.8 346.0,209.4 348.5,208.8 351.0,207.8 353.5,206.5 356.0,204.8 358.5,202.5 361.0,199.4 363.5,195.7 366.0,192.0 368.5,188.4 371.0,184.7 373.5,181.1 376.0,177.8 378.5,174.7 381.0,171.8 383.5,170.1 386.0,170.0 388.6,170.0 391.1,170.0 393.6,170.0 396.1,170.0 398.6,170.1 401.1,170.2 403.6,170.3 406.1,170.5 408.6,170.7 411.1,170.9 413.6,171.0 416.1,171.2 418.6,171.4 421.1,171.6 423.6,171.7 426.1,171.9 428.6,172.0 431.1,172.2 433.6,172.3 436.1,172.5 438.7,172.7 441.2,172.8 443.7,173.0 446.2,173.1 448.7,173.3 451.2,173.4 453.7,173.6 456.2,173.7 458.7,173.8 461.2,174.0 463.7,174.1 466.2,174.3 468.7,174.5 471.2,174.6 473.7,174.8 476.2,175.0 478.7,175.2 481.2,175.4 483.7,175.6 486.2,175.9 488.8,176.1 491.3,176.3 493.8,176.6 496.3,176.9 498.8,177.2 501.3,177.6 503.8,178.0 506.3,178.4 508.8,179.0 511.3,179.5 513.8,180.1 516.3,180.8 518.8,181.4 521.3,182.1 523.8,182.8 526.3,183.5 528.8,184.2 531.3,184.9 533.8,185.6 536.3,186.3 538.9,187.1 541.4,187.8 543.9,188.6 546.4,189.4 548.9,190.2 551.4,191.0 553.9,191.9 556.4,192.8 558.9,193.8 561.4,194.7 563.9,195.6 566.4,196.5 568.9,197.3 571.4,198.2 573.9,198.9 576.4,199.7 578.9,200.4 581.4,201.1 583.9,201.8 586.4,202.6 589.0,203.3 591.5,204.1 594.0,204.9 596.5,205.8 599.0,206.7 601.5,207.5 604.0,208.4 606.5,209.3 609.0,210.2 611.5,211.1 614.0,212.0 616.5,212.9 619.0,213.8 621.5,214.7 624.0,215.5 626.5,216.4 629.0,217.3 631.5,218.2 634.0,219.0 636.5,219.8 639.1,220.6 641.6,221.4 644.1,222.1 646.6,222.9 649.1,223.6 651.6,224.4 654.1,225.1 656.6,225.8 659.1,226.4 661.6,227.1 664.1,227.7 666.6,228.2 669.1,228.8 671.6,229.4 674.1,230.0 676.6,230.6 679.1,231.3 681.6,232.0 684.1,232.7 686.6,233.4 689.2,234.2 691.7,235.0 694.2,235.8 696.7,236.6 699.2,237.4 701.7,238.2 704.2,239.0 706.7,239.8 709.2,240.5 711.7,241.3 714.2,241.9 716.7,242.6 719.2,243.3 721.7,243.9 724.2,244.6 726.7,245.2 729.2,245.8 731.7,246.4 734.2,247.0 736.7,247.5 739.3,248.0 741.8,248.6 744.3,249.0 746.8,249.5 749.3,249.9 751.8,250.4 754.3,250.8 756.8,251.1 759.3,251.5 761.8,251.8 764.3,252.1 766.8,252.4 769.3,252.7 771.8,252.9 774.3,253.2 776.8,253.4 779.3,253.6 781.8,253.9 784.3,254.0 786.8,254.2 789.4,254.4 791.9,254.5 794.4,254.6 796.9,254.7 799.4,254.8 801.9,254.9 804.4,255.0 806.9,255.1 809.4,255.2 811.9,255.2 814.4,255.3 816.9,255.4 819.4,255.5 821.9,255.6 824.4,255.7 826.9,255.8 829.4,255.8 831.9,255.9 834.4,256.0 836.9,256.1 839.5,256.1 842.0,256.2 844.5,256.2 847.0,256.3 849.5,256.4 852.0,256.4 854.5,256.5 857.0,256.5 859.5,256.6 862.0,256.6 862.0,260.3 859.5,260.3 857.0,260.3 854.5,260.3 852.0,260.3 849.5,260.3 847.0,260.3 844.5,260.3 842.0,260.3 839.5,260.3 836.9,260.3 834.4,260.3 831.9,260.3 829.4,260.3 826.9,260.3 824.4,260.3 821.9,260.3 819.4,260.3 816.9,260.3 814.4,260.3 811.9,260.3 809.4,260.3 806.9,260.3 804.4,260.3 801.9,260.3 799.4,260.3 796.9,260.3 794.4,260.3 791.9,260.3 789.4,260.3 786.8,260.3 784.3,260.3 781.8,260.3 779.3,260.3 776.8,260.3 774.3,260.3 771.8,260.3 769.3,260.3 766.8,260.3 764.3,260.3 761.8,260.3 759.3,260.3 756.8,260.3 754.3,260.3 751.8,260.3 749.3,260.3 746.8,260.3 744.3,260.3 741.8,260.3 739.3,260.3 736.7,260.3 734.2,260.3 731.7,260.3 729.2,260.3 726.7,260.3 724.2,260.3 721.7,260.3 719.2,260.3 716.7,260.3 714.2,260.3 711.7,260.3 709.2,260.3 706.7,260.3 704.2,260.3 701.7,260.3 699.2,260.3 696.7,260.3 694.2,260.3 691.7,260.3 689.2,260.3 686.6,260.3 684.1,260.3 681.6,260.3 679.1,260.3 676.6,260.3 674.1,260.3 671.6,260.3 669.1,260.3 666.6,260.3 664.1,260.3 661.6,260.3 659.1,260.3 656.6,260.3 654.1,260.3 651.6,260.3 649.1,260.3 646.6,260.3 644.1,260.3 641.6,260.3 639.1,260.3 636.5,260.3 634.0,260.3 631.5,260.3 629.0,260.3 626.5,260.3 624.0,260.3 621.5,260.3 619.0,260.3 616.5,260.3 614.0,260.3 611.5,260.3 609.0,260.3 606.5,260.3 604.0,260.3 601.5,260.3 599.0,260.3 596.5,260.3 594.0,260.3 591.5,260.3 589.0,260.3 586.4,260.3 583.9,260.3 581.4,260.3 578.9,260.3 576.4,260.3 573.9,260.3 571.4,260.3 568.9,260.3 566.4,260.3 563.9,260.3 561.4,260.3 558.9,260.3 556.4,260.3 553.9,260.3 551.4,260.3 548.9,260.3 546.4,260.3 543.9,260.3 541.4,260.3 538.9,260.3 536.3,260.3 533.8,260.3 531.3,260.3 528.8,260.3 526.3,260.3 523.8,260.3 521.3,260.3 518.8,260.3 516.3,260.3 513.8,260.3 511.3,260.3 508.8,260.3 506.3,260.3 503.8,260.3 501.3,260.3 498.8,260.3 496.3,260.3 493.8,260.3 491.3,260.3 488.8,260.3 486.2,260.3 483.7,260.3 481.2,260.3 478.7,260.3 476.2,260.3 473.7,260.3 471.2,260.3 468.7,260.3 466.2,260.3 463.7,260.3 461.2,260.3 458.7,260.3 456.2,260.3 453.7,260.3 451.2,260.3 448.7,260.3 446.2,260.3 443.7,260.3 441.2,260.3 438.7,260.3 436.1,260.3 433.6,260.3 431.1,260.3 428.6,260.3 426.1,260.3 423.6,260.3 421.1,260.3 418.6,260.3 416.1,260.3 413.6,260.3 411.1,260.3 408.6,260.3 406.1,260.3 403.6,260.3 401.1,260.3 398.6,260.3 396.1,260.3 393.6,260.3 391.1,260.3 388.6,260.3 386.0,260.3 383.5,260.3 381.0,260.3 378.5,260.3 376.0,260.3 373.5,260.3 371.0,260.3 368.5,260.3 366.0,260.3 363.5,260.3 361.0,260.3 358.5,260.3 356.0,260.3 353.5,260.3 351.0,260.3 348.5,260.3 346.0,260.3 343.5,260.3 341.0,260.3 338.5,260.3 335.9,260.3 333.4,260.3 330.9,260.3 328.4,260.3 325.9,260.3 323.4,260.3 320.9,260.3 318.4,260.3 315.9,260.3 313.4,260.3 310.9,260.3 308.4,260.3 305.9,260.3 303.4,260.3 300.9,260.3 298.4,260.3 295.9,260.3 293.4,260.3 290.9,260.3 288.4,260.3 285.8,260.3 283.3,260.3 280.8,260.3 278.3,260.3 275.8,260.3 273.3,260.3 270.8,260.3 268.3,260.3 265.8,260.3 263.3,260.3 260.8,260.3 258.3,260.3 255.8,260.3 253.3,260.3 250.8,260.3 248.3,260.3 245.8,260.3 243.3,260.3 240.8,260.3 238.3,260.3 235.7,260.3 233.2,260.3 230.7,260.3 228.2,260.3 225.7,260.3 223.2,260.3 220.7,260.3 218.2,260.3 215.7,260.3 213.2,260.3 210.7,260.3 208.2,260.3 205.7,260.3 203.2,260.3 200.7,260.3 198.2,260.3 195.7,260.3 193.2,260.3 190.7,260.3 188.2,260.3 185.6,260.3 183.1,260.3 180.6,260.3 178.1,260.3 175.6,260.3 173.1,260.3 170.6,260.3 168.1,260.3 165.6,260.3 163.1,260.3 160.6,260.3 158.1,260.3 155.6,260.3 153.1,260.3 150.6,260.3 148.1,260.3 145.6,260.3 143.1,260.3 140.6,260.3 138.1,260.3 135.5,260.3 133.0,260.3 130.5,260.3 128.0,260.3 125.5,260.3 123.0,260.3 120.5,260.3 118.0,260.3 115.5,260.3 113.0,260.3" fill="#9990c3" />
<polyline points="113.0,260.3 115.5,259.8 118.0,258.2 120.5,254.5 123.0,243.4 125.5,219.1 128.0,186.4 130.5,153.1 133.0,123.7 135.5,108.8 138.1,108.3 140.6,108.3 143.1,108.3 145.6,108.3 148.1,108.1 150.6,107.3 153.1,106.7 155.6,106.4 158.1,106.3 160.6,106.3 163.1,106.3 165.6,106.3 168.1,106.3 170.6,106.4 173.1,106.7 175.6,107.2 178.1,107.7 180.6,108.2 183.1,108.6 185.6,108.9 188.2,109.3 190.7,109.8 193.2,110.5 195.7,111.4 198.2,112.6 200.7,114.0 203.2,115.5 205.7,117.1 208.2,118.8 210.7,120.5 213.2,122.3 215.7,124.2 218.2,126.1 220.7,128.1 223.2,130.0 225.7,131.9 228.2,133.6 230.7,135.3 233.2,137.2 235.7,139.3 238.3,141.5 240.8,143.8 243.3,145.9 245.8,148.1 248.3,150.3 250.8,152.6 253.3,154.9 255.8,157.2 258.3,159.4 260.8,161.7 263.3,164.0 265.8,166.2 268.3,168.5 270.8,170.7 273.3,173.1 275.8,175.4 278.3,177.8 280.8,180.0 283.3,182.2 285.8,184.2 288.4,186.2 290.9,188.1 293.4,189.9 295.9,191.5 298.4,193.0 300.9,194.4 303.4,195.6 305.9,196.7 308.4,197.7 310.9,198.6 313.4,199.4 315.9,200.2 318.4,200.9 320.9,201.6 323.4,202.2 325.9,202.7 328.4,203.3 330.9,203.8 333.4,204.4 335.9,204.9 338.5,205.2 341.0,206.3 343.5,206.3 346.0,206.3 348.5,206.3 351.0,205.3 353.5,201.6 356.0,196.7 358.5,192.2 361.0,187.9 363.5,183.5 366.0,179.1 368.5,175.1 371.0,171.0 373.5,167.2 376.0,163.8 378.5,160.8 381.0,158.2 383.5,156.8 386.0,156.7 388.6,156.7 391.1,156.7 393.6,156.7 396.1,156.7 398.6,156.7 401.1,156.8 403.6,156.8 406.1,156.9 408.6,156.9 411.1,157.0 413.6,157.1 416.1,157.3 418.6,157.4 421.1,157.6 423.6,157.8 426.1,158.0 428.6,158.3 431.1,158.6 433.6,158.8 436.1,159.1 438.7,159.4 441.2,159.6 443.7,159.8 446.2,160.0 448.7,160.2 451.2,160.3 453.7,160.5 456.2,160.6 458.7,160.8 461.2,161.0 463.7,161.1 466.2,161.3 468.7,161.5 471.2,161.7 473.7,161.9 476.2,162.1 478.7,162.4 481.2,162.7 483.7,163.1 486.2,163.4 488.8,163.9 491.3,164.3 493.8,164.8 496.3,165.3 498.8,165.9 501.3,166.4 503.8,167.0 506.3,167.6 508.8,168.2 511.3,168.9 513.8,169.6 516.3,170.3 518.8,171.0 521.3,171.8 523.8,172.5 526.3,173.3 528.8,174.0 531.3,174.8 533.8,175.6 536.3,176.4 538.9,177.1 541.4,178.0 543.9,178.8 546.4,179.6 548.9,180.5 551.4,181.4 553.9,182.3 556.4,183.3 558.9,184.3 561.4,185.3 563.9,186.3 566.4,187.2 568.9,188.2 571.4,189.1 573.9,190.1 576.4,191.0 578.9,191.9 581.4,192.9 583.9,193.8 586.4,194.7 589.0,195.6 591.5,196.5 594.0,197.4 596.5,198.3 599.0,199.1 601.5,200.0 604.0,200.9 606.5,201.7 609.0,202.6 611.5,203.5 614.0,204.5 616.5,205.4 619.0,206.4 621.5,207.4 624.0,208.5 626.5,209.5 629.0,210.5 631.5,211.5 634.0,212.4 636.5,213.4 639.1,214.3 641.6,215.2 644.1,216.1 646.6,217.0 649.1,217.8 651.6,218.7 654.1,219.5 656.6,220.4 659.1,221.2 661.6,222.0 664.1,222.7 666.6,223.5 669.1,224.2 671.6,225.0 674.1,225.7 676.6,226.5 679.1,227.2 681.6,228.0 684.1,228.8 686.6,229.6 689.2,230.5 691.7,231.3 694.2,232.2 696.7,233.0 699.2,233.8 701.7,234.7 704.2,235.5 706.7,236.3 709.2,237.1 711.7,237.8 714.2,238.6 716.7,239.3 719.2,240.0 721.7,240.7 724.2,241.4 726.7,242.1 729.2,242.8 731.7,243.5 734.2,244.1 736.7,244.8 739.3,245.4 741.8,245.9 744.3,246.5 746.8,247.0 749.3,247.5 751.8,248.0 754.3,248.4 756.8,248.8 759.3,249.2 761.8,249.5 764.3,249.9 766.8,250.2 769.3,250.5 771.8,250.8 774.3,251.1 776.8,251.4 779.3,251.6 781.8,251.9 784.3,252.1 786.8,252.3 789.4,252.5 791.9,252.7 794.4,252.8 796.9,253.0 799.4,253.1 801.9,253.2 804.4,253.4 806.9,253.5 809.4,253.6 811.9,253.7 814.4,253.9 816.9,254.0 819.4,254.1 821.9,254.2 824.4,254.3 826.9,254.4 829.4,254.5 831.9,254.6 834.4,254.6 836.9,254.7 839.5,254.8 842.0,254.9 844.5,254.9 847.0,255.0 849.5,255.1 852.0,255.1 854.5,255.2 857.0,255.2 859.5,255.3 862.0,255.3" fill="none" stroke="#9aa9a0" stroke-width="0.7" />
<polyline points="146.3,134.2 148.8,132.9 151.3,130.3 153.8,128.0 156.3,125.7 158.8,124.7 161.3,124.7 163.8,124.7 166.3,124.7 168.8,124.7 171.3,124.8 173.8,125.0 176.4,125.3 178.9,125.7 181.4,126.0 183.9,126.2 186.4,126.4 188.9,126.7 191.4,127.1 193.9,127.7 196.4,128.5 198.9,129.6 201.4,130.9 203.9,132.2 206.4,133.7 208.9,135.2 211.4,136.7 213.9,138.3 216.4,140.0 218.9,141.8 221.4,143.5 223.9,145.2 226.4,146.8 228.9,148.3 231.4,149.9 233.9,151.6 236.5,153.6 239.0,155.7 241.5,157.8 244.0,159.8 246.5,161.9 249.0,163.9 251.5,166.0 254.0,168.0 256.5,170.0 259.0,172.0 261.5,173.9 264.0,175.8 266.5,177.8 269.0,179.8 271.5,181.8 274.0,183.9 276.5,186.1 279.0,188.2 281.5,190.3 284.0,192.2 286.5,194.1 289.0,195.9 291.5,197.6 294.0,199.2 296.6,200.7 299.1,202.1 301.6,203.4 304.1,204.5 306.6,205.4 309.1,206.3 311.6,207.1 314.1,207.8 316.6,208.5 319.1,209.1 321.6,209.6 324.1,210.1 326.6,210.5 329.1,211.0 331.6,211.4 334.1,211.8 336.6,212.2 339.1,212.3 341.6,212.2 344.1,212.0 346.6,211.6 349.1,210.9 351.6,209.8 354.1,208.5 356.7,206.8 359.2,204.4 361.7,201.2 364.2,197.7 366.7,194.2 369.2,190.7 371.7,187.2 374.2,183.8 376.7,180.8 379.2,177.8 381.7,175.2 384.2,174.1 386.7,174.1 389.2,174.1 391.7,174.1 394.2,174.1 396.7,174.1 399.2,174.2 401.7,174.3 404.2,174.4 406.7,174.6 409.2,174.7 411.7,174.9 414.3,175.1 416.8,175.3 419.3,175.5 421.8,175.6 424.3,175.7 426.8,175.9 429.3,176.0 431.8,176.2 434.3,176.3 436.8,176.5 439.3,176.6 441.8,176.8 444.3,176.9 446.8,177.1 449.3,177.2 451.8,177.4 454.3,177.5 456.8,177.6 459.3,177.8 461.8,177.9 464.3,178.1 466.8,178.2 469.3,178.4 471.8,178.5 474.4,178.7 476.9,178.9 479.4,179.1 481.9,179.3 484.4,179.5 486.9,179.7 489.4,180.0 491.9,180.2 494.4,180.4 496.9,180.7 499.4,181.0 501.9,181.4 504.4,181.8 506.9,182.2 509.4,182.8 511.9,183.3 514.4,183.9 516.9,184.5 519.4,185.2 521.9,185.8 524.4,186.5 526.9,187.1 529.4,187.8 531.9,188.4 534.5,189.1 537.0,189.8 539.5,190.5 542.0,191.3 544.5,192.0 547.0,192.8 549.5,193.5 552.0,194.4 554.5,195.2 557.0,196.1 559.5,197.0 562.0,197.8 564.5,198.7 567.0,199.6 569.5,200.4 572.0,201.1 574.5,201.9 577.0,202.6 579.5,203.3 582.0,204.0 584.5,204.6 587.0,205.3 589.5,206.1 592.0,206.8 594.6,207.6 597.1,208.4 599.6,209.3 602.1,210.1 604.6,211.0 607.1,211.8 609.6,212.7 612.1,213.5 614.6,214.4 617.1,215.2 619.6,216.1 622.1,216.9 624.6,217.8 627.1,218.6 629.6,219.4 632.1,220.2 634.6,221.0 637.1,221.8 639.6,222.6 642.1,223.3 644.6,224.0 647.1,224.8 649.6,225.5 652.2,226.1 654.7,226.8 657.2,227.5 659.7,228.1 662.2,228.7 664.7,229.3 667.2,229.8 669.7,230.4 672.2,230.9 674.7,231.5 677.2,232.1 679.7,232.7 682.2,233.4 684.7,234.1 687.2,234.8 689.7,235.6 692.2,236.3 694.7,237.1 697.2,237.9 699.7,238.6 702.2,239.4 704.7,240.1 707.2,240.9 709.7,241.6 712.3,242.3 714.8,242.9 717.3,243.5 719.8,244.2 722.3,244.8 724.8,245.4 727.3,246.0 729.8,246.6 732.3,247.1 734.8,247.7 737.3,248.2 739.8,248.7 742.3,249.2 744.8,249.7 747.3,250.1 749.8,250.5 752.3,250.9 754.8,251.3 757.3,251.6 759.8,251.9 762.3,252.2 764.8,252.5 767.3,252.8 769.8,253.1 772.4,253.3 774.9,253.5 777.4,253.8 779.9,254.0 782.4,254.2 784.9,254.4 787.4,254.5 789.9,254.7 792.4,254.8 794.9,254.9 797.4,255.0 799.9,255.1 802.4,255.2 804.9,255.2 807.4,255.3 809.9,255.4 812.4,255.5 814.9,255.6 817.4,255.7 819.9,255.8 822.4,255.8 824.9,255.9 827.4,256.0 829.9,256.1 832.5,256.1 835.0,256.2 837.5,256.3 840.0,256.3 842.5,256.4 845.0,256.4 847.5,256.5 850.0,256.6 852.5,256.6 855.0,256.6 857.5,256.7 860.0,256.7" fill="none" stroke="#8f8aa8" stroke-width="0.6" opacity="0.8"/>
<polyline points="146.3,137.5 148.8,136.2 151.3,133.7 153.8,131.5 156.3,129.3 158.8,128.2 161.3,128.2 163.8,128.2 166.3,128.2 168.8,128.2 171.3,128.3 173.8,128.5 176.4,128.9 178.9,129.2 181.4,129.5 183.9,129.7 186.4,129.9 188.9,130.2 191.4,130.6 193.9,131.2 196.4,132.0 198.9,133.0 201.4,134.2 203.9,135.6 206.4,137.0 208.9,138.5 211.4,140.0 213.9,141.5 216.4,143.2 218.9,144.9 221.4,146.5 223.9,148.2 226.4,149.8 228.9,151.3 231.4,152.8 233.9,154.4 236.5,156.4 239.0,158.5 241.5,160.5 244.0,162.5 246.5,164.5 249.0,166.5 251.5,168.4 254.0,170.4 256.5,172.4 259.0,174.3 261.5,176.2 264.0,178.0 266.5,179.9 269.0,181.9 271.5,183.8 274.0,185.9 276.5,188.0 279.0,190.1 281.5,192.1 284.0,194.0 286.5,195.8 289.0,197.6 291.5,199.2 294.0,200.8 296.6,202.3 299.1,203.7 301.6,204.9 304.1,205.9 306.6,206.9 309.1,207.7 311.6,208.5 314.1,209.2 316.6,209.8 319.1,210.4 321.6,211.0 324.1,211.4 326.6,211.8 329.1,212.3 331.6,212.7 334.1,213.1 336.6,213.4 339.1,213.5 341.6,213.5 344.1,213.3 346.6,212.9 349.1,212.1 351.6,211.2 354.1,209.9 356.7,208.2 359.2,205.8 361.7,202.8 364.2,199.3 366.7,195.9 369.2,192.5 371.7,189.1 374.2,185.8 376.7,182.8 379.2,179.9 381.7,177.4 384.2,176.3 386.7,176.3 389.2,176.3 391.7,176.3 394.2,176.3 396.7,176.3 399.2,176.4 401.7,176.5 404.2,176.7 406.7,176.8 409.2,177.0 411.7,177.2 414.3,177.3 416.8,177.5 419.3,177.7 421.8,177.8 424.3,178.0 426.8,178.1 429.3,178.2 431.8,178.4 434.3,178.5 436.8,178.7 439.3,178.8 441.8,179.0 444.3,179.1 446.8,179.3 449.3,179.4 451.8,179.5 454.3,179.7 456.8,179.8 459.3,179.9 461.8,180.1 464.3,180.2 466.8,180.4 469.3,180.5 471.8,180.7 474.4,180.8 476.9,181.0 479.4,181.2 481.9,181.4 484.4,181.6 486.9,181.8 489.4,182.1 491.9,182.3 494.4,182.5 496.9,182.8 499.4,183.1 501.9,183.5 504.4,183.8 506.9,184.3 509.4,184.8 511.9,185.3 514.4,185.9 516.9,186.5 519.4,187.1 521.9,187.8 524.4,188.4 526.9,189.0 529.4,189.7 531.9,190.3 534.5,191.0 537.0,191.7 539.5,192.4 542.0,193.1 544.5,193.8 547.0,194.5 549.5,195.3 552.0,196.1 554.5,196.9 557.0,197.8 559.5,198.6 562.0,199.5 564.5,200.3 567.0,201.1 569.5,201.9 572.0,202.7 574.5,203.4 577.0,204.1 579.5,204.8 582.0,205.4 584.5,206.1 587.0,206.8 589.5,207.5 592.0,208.2 594.6,209.0 597.1,209.8 599.6,210.6 602.1,211.4 604.6,212.3 607.1,213.1 609.6,213.9 612.1,214.8 614.6,215.6 617.1,216.4 619.6,217.2 622.1,218.0 624.6,218.9 627.1,219.7 629.6,220.5 632.1,221.3 634.6,222.1 637.1,222.8 639.6,223.5 642.1,224.3 644.6,225.0 647.1,225.7 649.6,226.4 652.2,227.0 654.7,227.7 657.2,228.3 659.7,228.9 662.2,229.5 664.7,230.1 667.2,230.6 669.7,231.1 672.2,231.7 674.7,232.2 677.2,232.8 679.7,233.4 682.2,234.1 684.7,234.8 687.2,235.5 689.7,236.2 692.2,237.0 694.7,237.7 697.2,238.5 699.7,239.2 702.2,239.9 704.7,240.7 707.2,241.4 709.7,242.1 712.3,242.7 714.8,243.4 717.3,244.0 719.8,244.6 722.3,245.2 724.8,245.8 727.3,246.4 729.8,246.9 732.3,247.5 734.8,248.0 737.3,248.5 739.8,249.0 742.3,249.5 744.8,249.9 747.3,250.4 749.8,250.8 752.3,251.1 754.8,251.5 757.3,251.8 759.8,252.2 762.3,252.5 764.8,252.7 767.3,253.0 769.8,253.3 772.4,253.5 774.9,253.7 777.4,253.9 779.9,254.2 782.4,254.3 784.9,254.5 787.4,254.7 789.9,254.8 792.4,254.9 794.9,255.0 797.4,255.1 799.9,255.2 802.4,255.3 804.9,255.4 807.4,255.5 809.9,255.5 812.4,255.6 814.9,255.7 817.4,255.8 819.9,255.9 822.4,256.0 824.9,256.0 827.4,256.1 829.9,256.2 832.5,256.2 835.0,256.3 837.5,256.4 840.0,256.4 842.5,256.5 845.0,256.5 847.5,256.6 850.0,256.6 852.5,256.7 855.0,256.7 857.5,256.8 860.0,256.8" fill="none" stroke="#8f8aa8" stroke-width="0.6" opacity="0.8"/>
<polyline points="146.3,142.2 148.8,140.9 151.3,138.4 153.8,136.3 156.3,134.2 158.8,133.2 161.3,133.2 163.8,133.2 166.3,133.2 168.8,133.2 171.3,133.3 173.8,133.5 176.4,133.8 178.9,134.1 181.4,134.4 183.9,134.6 186.4,134.8 188.9,135.1 191.4,135.5 193.9,136.0 196.4,136.8 198.9,137.8 201.4,139.0 203.9,140.3 206.4,141.7 208.9,143.1 211.4,144.5 213.9,146.0 216.4,147.6 218.9,149.2 221.4,150.8 223.9,152.4 226.4,153.9 228.9,155.4 231.4,156.8 233.9,158.4 236.5,160.3 239.0,162.3 241.5,164.2 244.0,166.2 246.5,168.1 249.0,170.0 251.5,171.9 254.0,173.8 256.5,175.7 259.0,177.5 261.5,179.3 264.0,181.1 266.5,183.0 269.0,184.8 271.5,186.7 274.0,188.7 276.5,190.7 279.0,192.7 281.5,194.7 284.0,196.5 286.5,198.3 289.0,199.9 291.5,201.5 294.0,203.1 296.6,204.5 299.1,205.8 301.6,206.9 304.1,208.0 306.6,208.9 309.1,209.7 311.6,210.4 314.1,211.1 316.6,211.7 319.1,212.3 321.6,212.8 324.1,213.3 326.6,213.7 329.1,214.1 331.6,214.5 334.1,214.9 336.6,215.2 339.1,215.3 341.6,215.2 344.1,215.0 346.6,214.6 349.1,214.0 351.6,213.0 354.1,211.8 356.7,210.1 359.2,207.9 361.7,204.9 364.2,201.6 366.7,198.3 369.2,195.1 371.7,191.8 374.2,188.6 376.7,185.8 379.2,183.0 381.7,180.5 384.2,179.5 386.7,179.5 389.2,179.5 391.7,179.5 394.2,179.5 396.7,179.5 399.2,179.6 401.7,179.7 404.2,179.8 406.7,180.0 409.2,180.1 411.7,180.3 414.3,180.5 416.8,180.6 419.3,180.8 421.8,180.9 424.3,181.1 426.8,181.2 429.3,181.3 431.8,181.5 434.3,181.6 436.8,181.8 439.3,181.9 441.8,182.0 444.3,182.2 446.8,182.3 449.3,182.4 451.8,182.6 454.3,182.7 456.8,182.8 459.3,183.0 461.8,183.1 464.3,183.2 466.8,183.4 469.3,183.5 471.8,183.7 474.4,183.8 476.9,184.0 479.4,184.2 481.9,184.4 484.4,184.6 486.9,184.8 489.4,185.0 491.9,185.2 494.4,185.5 496.9,185.7 499.4,186.0 501.9,186.3 504.4,186.7 506.9,187.2 509.4,187.6 511.9,188.1 514.4,188.7 516.9,189.3 519.4,189.9 521.9,190.5 524.4,191.1 526.9,191.7 529.4,192.3 531.9,193.0 534.5,193.6 537.0,194.2 539.5,194.9 542.0,195.6 544.5,196.3 547.0,197.0 549.5,197.7 552.0,198.5 554.5,199.3 557.0,200.1 559.5,200.9 562.0,201.8 564.5,202.6 567.0,203.4 569.5,204.1 572.0,204.9 574.5,205.5 577.0,206.2 579.5,206.8 582.0,207.5 584.5,208.1 587.0,208.8 589.5,209.5 592.0,210.2 594.6,210.9 597.1,211.7 599.6,212.5 602.1,213.3 604.6,214.1 607.1,214.9 609.6,215.7 612.1,216.5 614.6,217.3 617.1,218.0 619.6,218.8 622.1,219.6 624.6,220.4 627.1,221.2 629.6,222.0 632.1,222.8 634.6,223.5 637.1,224.2 639.6,224.9 642.1,225.6 644.6,226.3 647.1,227.0 649.6,227.6 652.2,228.3 654.7,228.9 657.2,229.5 659.7,230.1 662.2,230.7 664.7,231.2 667.2,231.7 669.7,232.2 672.2,232.8 674.7,233.3 677.2,233.9 679.7,234.4 682.2,235.1 684.7,235.7 687.2,236.4 689.7,237.1 692.2,237.8 694.7,238.6 697.2,239.3 699.7,240.0 702.2,240.7 704.7,241.4 707.2,242.1 709.7,242.8 712.3,243.4 714.8,244.0 717.3,244.6 719.8,245.2 722.3,245.8 724.8,246.3 727.3,246.9 729.8,247.4 732.3,248.0 734.8,248.5 737.3,249.0 739.8,249.4 742.3,249.9 744.8,250.3 747.3,250.7 749.8,251.1 752.3,251.5 754.8,251.8 757.3,252.2 759.8,252.5 762.3,252.7 764.8,253.0 767.3,253.3 769.8,253.5 772.4,253.8 774.9,254.0 777.4,254.2 779.9,254.4 782.4,254.6 784.9,254.7 787.4,254.9 789.9,255.0 792.4,255.1 794.9,255.2 797.4,255.3 799.9,255.4 802.4,255.5 804.9,255.6 807.4,255.6 809.9,255.7 812.4,255.8 814.9,255.9 817.4,256.0 819.9,256.0 822.4,256.1 824.9,256.2 827.4,256.3 829.9,256.3 832.5,256.4 835.0,256.4 837.5,256.5 840.0,256.6 842.5,256.6 845.0,256.7 847.5,256.7 850.0,256.8 852.5,256.8 855.0,256.9 857.5,256.9 860.0,257.0" fill="none" stroke="#8f8aa8" stroke-width="0.6" opacity="0.8"/>
<rect x="113.5" y="258.2" width="10" height="2.1" fill="#332288" />
<rect x="136" y="108.3" width="10.3" height="1.7" fill="#9bb8a8" /><rect x="136" y="110" width="10.3" height="6" fill="#117733" /><rect x="136" y="116" width="10.3" height="10" fill="#ddcc77" /><rect x="136" y="126" width="10.3" height="2.3" fill="#cc6677" /><rect x="136" y="128.3" width="10.3" height="132" fill="#332288" /><rect x="136" y="108.3" width="10.3" height="152" fill="none" stroke="#8a8a8a" stroke-width="0.7" />
<rect x="158.7" y="106.3" width="10.6" height="3.7" fill="#44aa99" /><rect x="158.7" y="110" width="10.6" height="3.3" fill="#117733" /><rect x="158.7" y="113.3" width="10.6" height="3.4" fill="#ddcc77" /><rect x="158.7" y="116.7" width="10.6" height="1.6" fill="#cc6677" /><rect x="158.7" y="118.3" width="10.6" height="142" fill="#332288" /><rect x="158.7" y="106.3" width="10.6" height="154" fill="none" stroke="#8a8a8a" stroke-width="0.7" />
<rect x="338.8" y="206.3" width="10.4" height="2.5" fill="#117733" /><rect x="338.8" y="208.8" width="10.4" height="51.5" fill="#332288" /><rect x="338.8" y="206.3" width="10.4" height="54" fill="none" stroke="#8a8a8a" stroke-width="0.7" />
<rect x="384.2" y="156.7" width="10.1" height="13.3" fill="#117733" /><rect x="384.2" y="170" width="10.1" height="90.3" fill="#332288" /><rect x="384.2" y="156.7" width="10.1" height="103.6" fill="none" stroke="#8a8a8a" stroke-width="0.7" />
<rect x="851" y="255.3" width="11" height="2.3" fill="#a5a0b8" />
<rect x="851" y="257.6" width="11" height="2.7" fill="#332288" />
<line x1="136" y1="133.7" x2="146.3" y2="133.7" stroke="#a29cc4" stroke-width="0.8" />
<line x1="136" y1="140" x2="146.3" y2="140" stroke="#a29cc4" stroke-width="0.8" />
<line x1="136" y1="146.7" x2="146.3" y2="146.7" stroke="#a29cc4" stroke-width="0.8" />
<line x1="136" y1="151.3" x2="146.3" y2="151.3" stroke="#a29cc4" stroke-width="0.8" />
<line x1="158.7" y1="123.3" x2="169.3" y2="123.3" stroke="#a29cc4" stroke-width="0.8" />
<line x1="158.7" y1="128.3" x2="169.3" y2="128.3" stroke="#a29cc4" stroke-width="0.8" />
<line x1="158.7" y1="130.8" x2="169.3" y2="130.8" stroke="#a29cc4" stroke-width="0.8" />
<line x1="158.7" y1="132.5" x2="169.3" y2="132.5" stroke="#a29cc4" stroke-width="0.8" />
<line x1="338.8" y1="211.5" x2="349.2" y2="211.5" stroke="#a29cc4" stroke-width="0.8" />
<line x1="338.8" y1="214.5" x2="349.2" y2="214.5" stroke="#a29cc4" stroke-width="0.8" />
<line x1="384.2" y1="173.2" x2="394.3" y2="173.2" stroke="#a29cc4" stroke-width="0.8" />
<line x1="384.2" y1="179.7" x2="394.3" y2="179.7" stroke="#a29cc4" stroke-width="0.8" />
<line x1="96.3" y1="84" x2="96.3" y2="259.5" stroke="#bdbdbd" stroke-width="1.2" stroke-dasharray="1.6 5.6"/>
<line x1="103.7" y1="84" x2="103.7" y2="259.5" stroke="#bdbdbd" stroke-width="1.2" stroke-dasharray="1.6 5.6"/>
<line x1="110.5" y1="84" x2="110.5" y2="259.5" stroke="#bdbdbd" stroke-width="1.2" stroke-dasharray="1.6 5.6"/>
<line x1="120" y1="84" x2="120" y2="259.5" stroke="#bdbdbd" stroke-width="1.2" stroke-dasharray="1.6 5.6"/>
<line x1="126.8" y1="84" x2="126.8" y2="259.5" stroke="#bdbdbd" stroke-width="1.2" stroke-dasharray="1.6 5.6"/>
<line x1="134.5" y1="84" x2="134.5" y2="259.5" stroke="#bdbdbd" stroke-width="1.2" stroke-dasharray="1.6 5.6"/>
<line x1="141.3" y1="84" x2="141.3" y2="259.5" stroke="#bdbdbd" stroke-width="1.2" stroke-dasharray="1.6 5.6"/>
<line x1="157.7" y1="84" x2="157.7" y2="259.5" stroke="#bdbdbd" stroke-width="1.2" stroke-dasharray="1.6 5.6"/>
<line x1="234.7" y1="84" x2="234.7" y2="259.5" stroke="#bdbdbd" stroke-width="1.2" stroke-dasharray="1.6 5.6"/>
<line x1="368.2" y1="84" x2="368.2" y2="259.5" stroke="#bdbdbd" stroke-width="1.2" stroke-dasharray="1.6 5.6"/>
<circle cx="138.2" cy="45.7" r="4.1" fill="#0000ff" />
<circle cx="165.1" cy="45.7" r="4.1" fill="#00ff00" />
<circle cx="187.2" cy="45.7" r="4.1" fill="#00ff00" />
<circle cx="233.8" cy="45.7" r="4.1" fill="#00ff00" />
<circle cx="277.5" cy="45.7" r="4.1" fill="#00ff00" />
<circle cx="322.8" cy="45.7" r="4.1" fill="#00ff00" />
<circle cx="366.8" cy="45.7" r="4.1" fill="#00ff00" />
<circle cx="456.8" cy="45.7" r="4.1" fill="#00ff00" />
<circle cx="638" cy="45.7" r="4.1" fill="#00ff00" />
<circle cx="730.8" cy="45.7" r="4.1" fill="#00ff00" />
<circle cx="834.8" cy="45.7" r="4.1" fill="#ff0000" />
<text x="95.6" y="61.6" font-size="9.6" text-anchor="middle" >0.004</text>
<text x="95.6" y="72.4" font-size="9.6" text-anchor="middle" textLength="12.32" lengthAdjust="spacingAndGlyphs" >(5)</text>
<text x="119.2" y="61.6" font-size="9.6" text-anchor="middle" >0.2</text>
<text x="119.2" y="72.4" font-size="9.6" text-anchor="middle" textLength="12.32" lengthAdjust="spacingAndGlyphs" >(5)</text>
<text x="142" y="61.6" font-size="9.6" text-anchor="middle" >10.5</text>
<text x="142" y="72.4" font-size="9.6" text-anchor="middle" textLength="17.93" lengthAdjust="spacingAndGlyphs" >(12)</text>
<text x="164.6" y="61.6" font-size="9.6" text-anchor="middle" >10.6</text>
<text x="164.6" y="72.4" font-size="9.6" text-anchor="middle" textLength="17.93" lengthAdjust="spacingAndGlyphs" >(12)</text>
<text x="344.6" y="61.6" font-size="9.6" text-anchor="middle" >3.7</text>
<text x="344.6" y="72.4" font-size="9.6" text-anchor="middle" textLength="17.93" lengthAdjust="spacingAndGlyphs" >(12)</text>
<text x="390.2" y="61.6" font-size="9.6" text-anchor="middle" >7.1</text>
<text x="390.2" y="72.4" font-size="9.6" text-anchor="middle" textLength="17.93" lengthAdjust="spacingAndGlyphs" >(12)</text>
<text x="856.5" y="61.6" font-size="9.6" text-anchor="middle" >0.3</text>
<text x="856.5" y="72.4" font-size="9.6" text-anchor="middle" textLength="17.93" lengthAdjust="spacingAndGlyphs" >(10)</text>
<line x1="87.5" y1="43" x2="87.5" y2="260.8" stroke="#3a3a3a" stroke-width="1.1" />
<line x1="87.5" y1="260.3" x2="907" y2="260.3" stroke="#3a3a3a" stroke-width="1.1" />
<line x1="81.5" y1="260.3" x2="87.5" y2="260.3" stroke="#3a3a3a" stroke-width="1.1" />
<text x="74.2" y="264.7" font-size="12.5" text-anchor="end" textLength="8.34" lengthAdjust="spacingAndGlyphs" >0</text>
<line x1="81.5" y1="231.44" x2="87.5" y2="231.44" stroke="#3a3a3a" stroke-width="1.1" />
<text x="74.2" y="235.84" font-size="12.5" text-anchor="end" textLength="8.34" lengthAdjust="spacingAndGlyphs" >2</text>
<line x1="81.5" y1="202.58" x2="87.5" y2="202.58" stroke="#3a3a3a" stroke-width="1.1" />
<text x="74.2" y="206.98" font-size="12.5" text-anchor="end" textLength="8.34" lengthAdjust="spacingAndGlyphs" >4</text>
<line x1="81.5" y1="173.72" x2="87.5" y2="173.72" stroke="#3a3a3a" stroke-width="1.1" />
<text x="74.2" y="178.12" font-size="12.5" text-anchor="end" textLength="8.34" lengthAdjust="spacingAndGlyphs" >6</text>
<line x1="81.5" y1="144.86" x2="87.5" y2="144.86" stroke="#3a3a3a" stroke-width="1.1" />
<text x="74.2" y="149.26" font-size="12.5" text-anchor="end" textLength="8.34" lengthAdjust="spacingAndGlyphs" >8</text>
<line x1="81.5" y1="116" x2="87.5" y2="116" stroke="#3a3a3a" stroke-width="1.1" />
<text x="74.2" y="120.4" font-size="12.5" text-anchor="end" textLength="16.69" lengthAdjust="spacingAndGlyphs" >10</text>
<line x1="81.5" y1="87.14" x2="87.5" y2="87.14" stroke="#3a3a3a" stroke-width="1.1" />
<text x="74.2" y="91.54" font-size="12.5" text-anchor="end" textLength="16.69" lengthAdjust="spacingAndGlyphs" >12</text>
<line x1="81.5" y1="58.28" x2="87.5" y2="58.28" stroke="#3a3a3a" stroke-width="1.1" />
<text x="74.2" y="62.68" font-size="12.5" text-anchor="end" textLength="16.69" lengthAdjust="spacingAndGlyphs" >14</text>
<line x1="95.7" y1="260.3" x2="95.7" y2="265.8" stroke="#3a3a3a" stroke-width="1.1" />
<text x="95.7" y="283.1" font-size="12.5" text-anchor="middle" textLength="8.34" lengthAdjust="spacingAndGlyphs" >0</text>
<line x1="149.43" y1="260.3" x2="149.43" y2="265.8" stroke="#3a3a3a" stroke-width="1.1" />
<text x="149.43" y="283.1" font-size="12.5" text-anchor="middle" textLength="16.69" lengthAdjust="spacingAndGlyphs" >50</text>
<line x1="203.15" y1="260.3" x2="203.15" y2="265.8" stroke="#3a3a3a" stroke-width="1.1" />
<text x="203.15" y="283.1" font-size="12.5" text-anchor="middle" textLength="25.03" lengthAdjust="spacingAndGlyphs" >100</text>
<line x1="256.88" y1="260.3" x2="256.88" y2="265.8" stroke="#3a3a3a" stroke-width="1.1" />
<text x="256.88" y="283.1" font-size="12.5" text-anchor="middle" textLength="25.03" lengthAdjust="spacingAndGlyphs" >150</text>
<line x1="310.6" y1="260.3" x2="310.6" y2="265.8" stroke="#3a3a3a" stroke-width="1.1" />
<text x="310.6" y="283.1" font-size="12.5" text-anchor="middle" textLength="25.03" lengthAdjust="spacingAndGlyphs" >200</text>
<line x1="364.32" y1="260.3" x2="364.32" y2="265.8" stroke="#3a3a3a" stroke-width="1.1" />
<text x="364.32" y="283.1" font-size="12.5" text-anchor="middle" textLength="25.03" lengthAdjust="spacingAndGlyphs" >250</text>
<line x1="418.05" y1="260.3" x2="418.05" y2="265.8" stroke="#3a3a3a" stroke-width="1.1" />
<text x="418.05" y="283.1" font-size="12.5" text-anchor="middle" textLength="25.03" lengthAdjust="spacingAndGlyphs" >300</text>
<line x1="471.77" y1="260.3" x2="471.77" y2="265.8" stroke="#3a3a3a" stroke-width="1.1" />
<text x="471.77" y="283.1" font-size="12.5" text-anchor="middle" textLength="25.03" lengthAdjust="spacingAndGlyphs" >350</text>
<line x1="525.5" y1="260.3" x2="525.5" y2="265.8" stroke="#3a3a3a" stroke-width="1.1" />
<text x="525.5" y="283.1" font-size="12.5" text-anchor="middle" textLength="25.03" lengthAdjust="spacingAndGlyphs" >400</text>
<line x1="579.23" y1="260.3" x2="579.23" y2="265.8" stroke="#3a3a3a" stroke-width="1.1" />
<text x="579.23" y="283.1" font-size="12.5" text-anchor="middle" textLength="25.03" lengthAdjust="spacingAndGlyphs" >450</text>
<line x1="632.95" y1="260.3" x2="632.95" y2="265.8" stroke="#3a3a3a" stroke-width="1.1" />
<text x="632.95" y="283.1" font-size="12.5" text-anchor="middle" textLength="25.03" lengthAdjust="spacingAndGlyphs" >500</text>
<line x1="686.68" y1="260.3" x2="686.68" y2="265.8" stroke="#3a3a3a" stroke-width="1.1" />
<text x="686.68" y="283.1" font-size="12.5" text-anchor="middle" textLength="25.03" lengthAdjust="spacingAndGlyphs" >550</text>
<line x1="740.4" y1="260.3" x2="740.4" y2="265.8" stroke="#3a3a3a" stroke-width="1.1" />
<text x="740.4" y="283.1" font-size="12.5" text-anchor="middle" textLength="25.03" lengthAdjust="spacingAndGlyphs" >600</text>
<line x1="794.12" y1="260.3" x2="794.12" y2="265.8" stroke="#3a3a3a" stroke-width="1.1" />
<text x="794.12" y="283.1" font-size="12.5" text-anchor="middle" textLength="25.03" lengthAdjust="spacingAndGlyphs" >650</text>
<line x1="847.85" y1="260.3" x2="847.85" y2="265.8" stroke="#3a3a3a" stroke-width="1.1" />
<text x="847.85" y="283.1" font-size="12.5" text-anchor="middle" textLength="25.03" lengthAdjust="spacingAndGlyphs" >700</text>
<line x1="901.58" y1="260.3" x2="901.58" y2="265.8" stroke="#3a3a3a" stroke-width="1.1" />
<text x="901.58" y="283.1" font-size="12.5" text-anchor="middle" textLength="25.03" lengthAdjust="spacingAndGlyphs" >750</text>
<text x="385" y="306" font-size="14.6" textLength="181" lengthAdjust="spacingAndGlyphs" >Days after treatment start</text>
<text x="48.7" y="151.7" font-size="15" text-anchor="middle" textLength="127.5" lengthAdjust="spacingAndGlyphs" transform="rotate(-90 48.7 151.7)" >TRB frequency (%)</text>
<text x="925" y="52.2" font-size="12.2" textLength="102" lengthAdjust="spacingAndGlyphs" >Clinical response</text>
<circle cx="930.3" cy="67.5" r="4.2" fill="#ff0000" />
<text x="943.3" y="72.6" font-size="12.2" >PD</text>
<circle cx="930.3" cy="84.7" r="4.2" fill="#0000ff" />
<text x="943.3" y="89.8" font-size="12.2" >PR</text>
<circle cx="930.3" cy="101.7" r="4.2" fill="#00ff00" />
<text x="943.3" y="106.8" font-size="12.2" >CR</text>
<text x="928.3" y="140.8" font-size="12.2" textLength="66" lengthAdjust="spacingAndGlyphs" >Specificity</text>
<rect x="927.5" y="151.3" width="13" height="12" fill="#44aa99" stroke="#9a9a9a" stroke-width="0.6" />
<text x="950" y="162.5" font-size="12.2" textLength="105.5" lengthAdjust="spacingAndGlyphs" >C14orf109 (R45Q)</text>
<rect x="927.5" y="168.3" width="13" height="12" fill="#117733" stroke="#9a9a9a" stroke-width="0.6" />
<text x="950" y="179.5" font-size="12.2" textLength="80" lengthAdjust="spacingAndGlyphs" >CLK3 (S270F)</text>
<rect x="927.5" y="185.3" width="13" height="12" fill="#ddcc77" stroke="#9a9a9a" stroke-width="0.6" />
<text x="950" y="196.5" font-size="12.2" textLength="80.5" lengthAdjust="spacingAndGlyphs" >DIDO1 (T478I)</text>
<rect x="927.5" y="202.3" width="13" height="12" fill="#cc6677" stroke="#9a9a9a" stroke-width="0.6" />
<text x="950" y="213.5" font-size="12.2" textLength="36.5" lengthAdjust="spacingAndGlyphs" >RNA A</text>
<rect x="927.5" y="219.3" width="13" height="12" fill="#332288" stroke="#9a9a9a" stroke-width="0.6" />
<text x="950" y="230.5" font-size="12.2" textLength="84.5" lengthAdjust="spacingAndGlyphs" >SVEP1 (R136C)</text>
<rect x="927.5" y="236.3" width="13" height="12" fill="#88ccee" stroke="#9a9a9a" stroke-width="0.6" />
<text x="950" y="247.5" font-size="12.2" textLength="89.5" lengthAdjust="spacingAndGlyphs" >TP53I3 (D142N)</text>
<text x="388.3" y="335.8" font-size="13.6" textLength="216" lengthAdjust="spacingAndGlyphs" >Neoantigen-specific CD4 TCRs</text>
<polygon points="157.9,491.9 158.6,492.1 159.4,492.8 160.1,493.7 160.8,495.0 161.6,496.5 162.3,498.2 163.0,500.0 163.8,501.8 164.5,503.6 165.2,505.4 165.9,507.1 166.7,508.6 167.4,509.9 168.1,510.8 168.9,511.5 169.6,511.7 169.6,557.0 168.9,557.1 168.1,557.3 167.4,557.7 166.7,558.1 165.9,558.7 165.2,559.3 164.5,559.9 163.8,560.6 163.0,561.3 162.3,561.9 161.6,562.5 160.8,563.1 160.1,563.5 159.4,563.9 158.6,564.1 157.9,564.2" fill="#9990c3" />
<polygon points="157.9,424.2 158.5,424.8 159.1,426.4 159.7,429.0 160.2,432.4 160.8,436.5 161.4,441.2 162.0,446.4 162.6,451.9 163.2,457.7 163.8,463.5 164.3,469.4 164.9,475.2 165.5,480.7 166.1,485.9 166.7,490.6 167.3,494.7 167.8,498.1 168.4,500.7 169.0,502.3 169.6,502.9 169.6,511.7 169.0,511.6 168.4,511.1 167.8,510.5 167.3,509.6 166.7,508.6 166.1,507.4 165.5,506.1 164.9,504.7 164.3,503.3 163.8,501.8 163.2,500.3 162.6,498.9 162.0,497.5 161.4,496.2 160.8,495.0 160.2,494.0 159.7,493.1 159.1,492.5 158.5,492.0 157.9,491.9" fill="#fbc599" />
<polygon points="180.5,502.9 183.0,503.1 185.5,503.2 188.0,503.3 190.5,503.4 193.0,503.6 195.5,503.8 198.0,504.0 200.5,504.3 203.0,504.6 205.5,504.9 208.0,505.3 210.5,505.8 213.0,506.3 215.5,507.0 218.0,507.8 220.5,508.7 223.0,509.6 225.5,510.6 228.0,511.6 230.5,512.7 233.0,513.9 235.5,515.3 238.0,516.6 240.5,518.0 243.0,519.4 245.5,520.8 248.0,522.2 250.5,523.6 253.0,525.1 255.5,526.5 258.0,527.9 260.5,529.3 263.0,530.7 265.5,532.1 268.0,533.5 270.5,534.8 273.0,536.0 275.5,537.3 278.0,538.5 280.5,539.7 283.0,540.9 285.5,542.1 288.0,543.2 290.5,544.4 293.0,545.5 295.5,546.6 298.0,547.7 300.5,548.7 303.0,549.8 305.5,550.8 308.0,551.8 310.5,552.8 313.0,553.7 315.5,554.6 318.0,555.4 320.5,556.1 323.0,556.8 325.5,557.4 328.0,558.0 330.5,558.5 333.0,558.9 335.5,559.3 338.0,559.6 340.5,559.8 343.0,560.0 345.5,560.1 348.0,560.3 348.0,564.0 345.5,563.8 343.0,563.6 340.5,563.4 338.0,563.2 335.5,562.9 333.0,562.5 330.5,562.0 328.0,561.5 325.5,560.9 323.0,560.3 320.5,559.6 318.0,559.0 315.5,558.3 313.0,557.6 310.5,556.9 308.0,556.1 305.5,555.3 303.0,554.5 300.5,553.7 298.0,552.8 295.5,551.9 293.0,551.0 290.5,550.0 288.0,549.1 285.5,548.1 283.0,547.1 280.5,546.0 278.0,545.0 275.5,543.9 273.0,542.8 270.5,541.7 268.0,540.6 265.5,539.4 263.0,538.2 260.5,536.9 258.0,535.6 255.5,534.4 253.0,533.1 250.5,531.8 248.0,530.5 245.5,529.3 243.0,528.1 240.5,526.8 238.0,525.6 235.5,524.4 233.0,523.3 230.5,522.2 228.0,521.2 225.5,520.3 223.0,519.4 220.5,518.6 218.0,517.8 215.5,517.0 213.0,516.3 210.5,515.7 208.0,515.1 205.5,514.5 203.0,514.0 200.5,513.6 198.0,513.2 195.5,512.9 193.0,512.7 190.5,512.5 188.0,512.3 185.5,512.1 183.0,511.9 180.5,511.7" fill="#fbc599" />
<polygon points="358.4,560.3 360.1,560.3 361.8,560.1 363.5,559.9 365.3,559.6 367.0,559.3 368.7,558.9 370.4,558.4 372.1,557.9 373.8,557.5 375.5,557.0 377.3,556.4 379.0,556.0 380.7,555.5 382.4,555.0 384.1,554.6 385.8,554.3 387.6,554.0 389.3,553.8 391.0,553.6 392.7,553.6 392.7,556.0 391.0,556.1 389.3,556.2 387.6,556.5 385.8,556.8 384.1,557.2 382.4,557.7 380.7,558.3 379.0,558.8 377.3,559.4 375.5,560.0 373.8,560.6 372.1,561.2 370.4,561.7 368.7,562.3 367.0,562.8 365.3,563.2 363.5,563.5 361.8,563.8 360.1,563.9 358.4,564.0" fill="#fbc599" />
<rect x="147.4" y="424.2" width="10.5" height="67.7" fill="#f78b2e" /><rect x="147.4" y="491.9" width="10.5" height="72.3" fill="#332288" /><rect x="147.4" y="424.2" width="10.5" height="-163.9" fill="none" stroke="#9a9a9a" stroke-width="0.7" />
<rect x="169.6" y="502.9" width="10.9" height="8.8" fill="#f78b2e" /><rect x="169.6" y="511.7" width="10.9" height="52.5" fill="#332288" /><rect x="169.6" y="502.9" width="10.9" height="-242.6" fill="none" stroke="#9a9a9a" stroke-width="0.7" />
<rect x="348" y="560.3" width="10.4" height="3.9" fill="#f78b2e" /><rect x="348" y="560.3" width="10.4" height="-300" fill="none" stroke="#9a9a9a" stroke-width="0.7" />
<rect x="392.7" y="553.6" width="10" height="2.4" fill="#f78b2e" /><rect x="392.7" y="556" width="10" height="8.2" fill="#332288" /><rect x="392.7" y="553.6" width="10" height="-293.3" fill="none" stroke="#9a9a9a" stroke-width="0.7" />
<line x1="169.6" y1="542.6" x2="180.5" y2="542.6" stroke="#a29cc4" stroke-width="0.8" />
<line x1="169.6" y1="559.3" x2="180.5" y2="559.3" stroke="#a29cc4" stroke-width="0.8" />
<line x1="392.7" y1="562.7" x2="402.7" y2="562.7" stroke="#a29cc4" stroke-width="0.8" />
<line x1="107.5" y1="409.6" x2="107.5" y2="563.5" stroke="#bdbdbd" stroke-width="1.2" stroke-dasharray="1.6 5.5"/>
<line x1="115.4" y1="409.6" x2="115.4" y2="563.5" stroke="#bdbdbd" stroke-width="1.2" stroke-dasharray="1.6 5.5"/>
<line x1="122" y1="409.6" x2="122" y2="563.5" stroke="#bdbdbd" stroke-width="1.2" stroke-dasharray="1.6 5.5"/>
<line x1="131.7" y1="409.6" x2="131.7" y2="563.5" stroke="#bdbdbd" stroke-width="1.2" stroke-dasharray="1.6 5.5"/>
<line x1="137.6" y1="409.6" x2="137.6" y2="563.5" stroke="#bdbdbd" stroke-width="1.2" stroke-dasharray="1.6 5.5"/>
<line x1="146.4" y1="409.6" x2="146.4" y2="563.5" stroke="#bdbdbd" stroke-width="1.2" stroke-dasharray="1.6 5.5"/>
<line x1="152.7" y1="409.6" x2="152.7" y2="563.5" stroke="#bdbdbd" stroke-width="1.2" stroke-dasharray="1.6 5.5"/>
<line x1="168.4" y1="409.6" x2="168.4" y2="563.5" stroke="#bdbdbd" stroke-width="1.2" stroke-dasharray="1.6 5.5"/>
<line x1="244.9" y1="409.6" x2="244.9" y2="563.5" stroke="#bdbdbd" stroke-width="1.2" stroke-dasharray="1.6 5.5"/>
<line x1="376.3" y1="409.6" x2="376.3" y2="563.5" stroke="#bdbdbd" stroke-width="1.2" stroke-dasharray="1.6 5.5"/>
<circle cx="149.2" cy="364.2" r="4.1" fill="#0000ff" />
<circle cx="175.8" cy="364.2" r="4.1" fill="#00ff00" />
<circle cx="198.3" cy="364.2" r="4.1" fill="#00ff00" />
<circle cx="243.75" cy="364.2" r="4.1" fill="#00ff00" />
<circle cx="287" cy="364.2" r="4.1" fill="#00ff00" />
<circle cx="331.7" cy="364.2" r="4.1" fill="#00ff00" />
<circle cx="375" cy="364.2" r="4.1" fill="#00ff00" />
<circle cx="464" cy="364.2" r="4.1" fill="#00ff00" />
<circle cx="643.5" cy="364.2" r="4.1" fill="#00ff00" />
<circle cx="735" cy="364.2" r="4.1" fill="#00ff00" />
<circle cx="838" cy="364.2" r="4.1" fill="#ff0000" />
<text x="107.5" y="379.8" font-size="9.6" text-anchor="middle" >0</text>
<text x="107.5" y="390.6" font-size="9.6" text-anchor="middle" textLength="12.32" lengthAdjust="spacingAndGlyphs" >(2)</text>
<text x="153" y="379.8" font-size="9.6" text-anchor="middle" >0.2</text>
<text x="153" y="390.6" font-size="9.6" text-anchor="middle" textLength="12.32" lengthAdjust="spacingAndGlyphs" >(3)</text>
<text x="175.2" y="379.8" font-size="9.6" text-anchor="middle" >0.1</text>
<text x="175.2" y="390.6" font-size="9.6" text-anchor="middle" textLength="12.32" lengthAdjust="spacingAndGlyphs" >(4)</text>
<text x="353.2" y="379.8" font-size="9.6" text-anchor="middle" >0</text>
<text x="353.2" y="390.6" font-size="9.6" text-anchor="middle" textLength="12.32" lengthAdjust="spacingAndGlyphs" >(1)</text>
<text x="397.2" y="379.8" font-size="9.6" text-anchor="middle" >0.01</text>
<text x="397.2" y="390.6" font-size="9.6" text-anchor="middle" textLength="12.32" lengthAdjust="spacingAndGlyphs" >(4)</text>
<line x1="99.2" y1="346.7" x2="99.2" y2="564.7" stroke="#3a3a3a" stroke-width="1.1" />
<line x1="99.2" y1="564.2" x2="910" y2="564.2" stroke="#3a3a3a" stroke-width="1.1" />
<line x1="93.2" y1="564.2" x2="99.2" y2="564.2" stroke="#3a3a3a" stroke-width="1.1" />
<text x="86.7" y="568.6" font-size="12.5" text-anchor="end" textLength="8.34" lengthAdjust="spacingAndGlyphs" >0</text>
<line x1="93.2" y1="520.75" x2="99.2" y2="520.75" stroke="#3a3a3a" stroke-width="1.1" />
<text x="86.7" y="525.15" font-size="12.5" text-anchor="end" textLength="26.76" lengthAdjust="spacingAndGlyphs" >0.05</text>
<line x1="93.2" y1="477.3" x2="99.2" y2="477.3" stroke="#3a3a3a" stroke-width="1.1" />
<text x="86.7" y="481.7" font-size="12.5" text-anchor="end" textLength="26.76" lengthAdjust="spacingAndGlyphs" >0.10</text>
<line x1="93.2" y1="433.85" x2="99.2" y2="433.85" stroke="#3a3a3a" stroke-width="1.1" />
<text x="86.7" y="438.25" font-size="12.5" text-anchor="end" textLength="26.76" lengthAdjust="spacingAndGlyphs" >0.15</text>
<line x1="93.2" y1="390.4" x2="99.2" y2="390.4" stroke="#3a3a3a" stroke-width="1.1" />
<text x="86.7" y="394.8" font-size="12.5" text-anchor="end" textLength="26.76" lengthAdjust="spacingAndGlyphs" >0.20</text>
<line x1="107.5" y1="564.2" x2="107.5" y2="569.7" stroke="#3a3a3a" stroke-width="1.1" />
<text x="107.5" y="587.2" font-size="12.5" text-anchor="middle" textLength="8.34" lengthAdjust="spacingAndGlyphs" >0</text>
<line x1="160.59" y1="564.2" x2="160.59" y2="569.7" stroke="#3a3a3a" stroke-width="1.1" />
<text x="160.59" y="587.2" font-size="12.5" text-anchor="middle" textLength="16.69" lengthAdjust="spacingAndGlyphs" >50</text>
<line x1="213.67" y1="564.2" x2="213.67" y2="569.7" stroke="#3a3a3a" stroke-width="1.1" />
<text x="213.67" y="587.2" font-size="12.5" text-anchor="middle" textLength="25.03" lengthAdjust="spacingAndGlyphs" >100</text>
<line x1="266.75" y1="564.2" x2="266.75" y2="569.7" stroke="#3a3a3a" stroke-width="1.1" />
<text x="266.75" y="587.2" font-size="12.5" text-anchor="middle" textLength="25.03" lengthAdjust="spacingAndGlyphs" >150</text>
<line x1="319.84" y1="564.2" x2="319.84" y2="569.7" stroke="#3a3a3a" stroke-width="1.1" />
<text x="319.84" y="587.2" font-size="12.5" text-anchor="middle" textLength="25.03" lengthAdjust="spacingAndGlyphs" >200</text>
<line x1="372.93" y1="564.2" x2="372.93" y2="569.7" stroke="#3a3a3a" stroke-width="1.1" />
<text x="372.93" y="587.2" font-size="12.5" text-anchor="middle" textLength="25.03" lengthAdjust="spacingAndGlyphs" >250</text>
<line x1="426.01" y1="564.2" x2="426.01" y2="569.7" stroke="#3a3a3a" stroke-width="1.1" />
<text x="426.01" y="587.2" font-size="12.5" text-anchor="middle" textLength="25.03" lengthAdjust="spacingAndGlyphs" >300</text>
<line x1="479.1" y1="564.2" x2="479.1" y2="569.7" stroke="#3a3a3a" stroke-width="1.1" />
<text x="479.1" y="587.2" font-size="12.5" text-anchor="middle" textLength="25.03" lengthAdjust="spacingAndGlyphs" >350</text>
<line x1="532.18" y1="564.2" x2="532.18" y2="569.7" stroke="#3a3a3a" stroke-width="1.1" />
<text x="532.18" y="587.2" font-size="12.5" text-anchor="middle" textLength="25.03" lengthAdjust="spacingAndGlyphs" >400</text>
<line x1="585.27" y1="564.2" x2="585.27" y2="569.7" stroke="#3a3a3a" stroke-width="1.1" />
<text x="585.27" y="587.2" font-size="12.5" text-anchor="middle" textLength="25.03" lengthAdjust="spacingAndGlyphs" >450</text>
<line x1="638.35" y1="564.2" x2="638.35" y2="569.7" stroke="#3a3a3a" stroke-width="1.1" />
<text x="638.35" y="587.2" font-size="12.5" text-anchor="middle" textLength="25.03" lengthAdjust="spacingAndGlyphs" >500</text>
<line x1="691.44" y1="564.2" x2="691.44" y2="569.7" stroke="#3a3a3a" stroke-width="1.1" />
<text x="691.44" y="587.2" font-size="12.5" text-anchor="middle" textLength="25.03" lengthAdjust="spacingAndGlyphs" >550</text>
<line x1="744.52" y1="564.2" x2="744.52" y2="569.7" stroke="#3a3a3a" stroke-width="1.1" />
<text x="744.52" y="587.2" font-size="12.5" text-anchor="middle" textLength="25.03" lengthAdjust="spacingAndGlyphs" >600</text>
<line x1="797.61" y1="564.2" x2="797.61" y2="569.7" stroke="#3a3a3a" stroke-width="1.1" />
<text x="797.61" y="587.2" font-size="12.5" text-anchor="middle" textLength="25.03" lengthAdjust="spacingAndGlyphs" >650</text>
<line x1="850.69" y1="564.2" x2="850.69" y2="569.7" stroke="#3a3a3a" stroke-width="1.1" />
<text x="850.69" y="587.2" font-size="12.5" text-anchor="middle" textLength="25.03" lengthAdjust="spacingAndGlyphs" >700</text>
<line x1="903.78" y1="564.2" x2="903.78" y2="569.7" stroke="#3a3a3a" stroke-width="1.1" />
<text x="903.78" y="587.2" font-size="12.5" text-anchor="middle" textLength="25.03" lengthAdjust="spacingAndGlyphs" >750</text>
<text x="387.5" y="609.5" font-size="14.6" textLength="181" lengthAdjust="spacingAndGlyphs" >Days after treatment start</text>
<text x="49.7" y="464.6" font-size="15" text-anchor="middle" textLength="128.6" lengthAdjust="spacingAndGlyphs" transform="rotate(-90 49.7 464.6)" >TRB frequency (%)</text>
<text x="930" y="376" font-size="12.2" textLength="102" lengthAdjust="spacingAndGlyphs" >Clinical response</text>
<circle cx="937.5" cy="390" r="4.2" fill="#ff0000" />
<text x="951" y="395.1" font-size="12.2" >PD</text>
<circle cx="937.5" cy="407.5" r="4.2" fill="#0000ff" />
<text x="951" y="412.6" font-size="12.2" >PR</text>
<circle cx="937.5" cy="424.5" r="4.2" fill="#00ff00" />
<text x="951" y="429.6" font-size="12.2" >CR</text>
<text x="932.5" y="461" font-size="12.2" textLength="66" lengthAdjust="spacingAndGlyphs" >Specificity</text>
<rect x="931" y="473.5" width="13" height="12.5" fill="#f78b2e" stroke="#9a9a9a" stroke-width="0.6" />
<text x="953" y="484.5" font-size="12.2" textLength="97.5" lengthAdjust="spacingAndGlyphs" >PLEKHA8 (S98R)</text>
<rect x="931" y="491" width="13" height="12.5" fill="#332288" stroke="#9a9a9a" stroke-width="0.6" />
<text x="953" y="502" font-size="12.2" textLength="85" lengthAdjust="spacingAndGlyphs" >SVEP1 (R136C)</text>
<text x="2.5" y="646.3" font-size="19.5" font-weight="bold" style="stroke-width:0.7px">b</text>
<text x="32.5" y="646.3" font-size="14.6" textLength="463.5" lengthAdjust="spacingAndGlyphs" >Patient 21—CRC, autogene cevumeran (38 µg) + atezolizumab</text>
<text x="144.6" y="670.8" font-size="14.6" text-anchor="middle" textLength="71" lengthAdjust="spacingAndGlyphs" >Screening</text>
<text x="313.8" y="670.8" font-size="14.6" text-anchor="middle" textLength="53" lengthAdjust="spacingAndGlyphs" >Cycle 6</text>
<g clip-path="url(#cpb1)"><rect x="65" y="678.5" width="157" height="120.5" fill="#4c4c4c" /><g transform="translate(65 678.5) scale(1.5700 1.2050)"><path d="M2 20 C10 10 20 25 30 12 M70 8 C80 20 90 5 98 18 M88 30 C95 40 90 50 99 58 M5 60 C10 50 3 40 8 30" stroke="#5a5a5a" stroke-width="0.7" fill="none"/><path d="M0 86 Q50 96 100 86" stroke="#5e5e5e" stroke-width="0.8" fill="none"/><g filter="url(#bl05)"><path d="M2.5 50.7 C2.6 45.9 3.1 40.5 4.2 35.6 C5.3 30.8 7.1 25.7 9.2 21.6 C11.3 17.5 13.6 13.6 16.7 10.8 C19.8 8.0 23.3 6.2 27.5 4.9 C31.7 3.6 36.6 3.4 41.7 3.2 C46.8 3.0 53.0 3.2 58.3 3.8 C63.6 4.3 69.1 5.0 73.3 6.5 C77.5 8.0 80.2 9.8 83.3 12.9 C86.4 16.0 89.5 19.8 91.7 24.8 C93.9 29.8 95.8 37.2 96.7 43.1 C97.6 49.0 97.5 55.0 97.1 60.4 C96.7 65.8 95.7 71.2 94.2 75.5 C92.7 79.8 91.1 83.2 88.3 86.3 C85.5 89.4 81.8 92.1 77.5 93.9 C73.2 95.7 67.8 96.5 62.5 97.1 C57.2 97.7 51.3 97.8 45.8 97.6 C40.2 97.4 34.0 97.2 29.2 96.0 C24.4 94.8 20.3 93.3 16.7 90.6 C13.1 87.9 9.7 84.1 7.5 79.8 C5.3 75.5 4.1 69.5 3.3 64.7 C2.5 59.9 2.4 55.6 2.5 50.7Z" fill="#d3d3d3"/><path d="M7.2 50.6 C7.4 46.3 7.8 41.6 8.8 37.3 C9.8 33.1 11.4 28.6 13.3 25.0 C15.2 21.4 17.3 18.0 20.0 15.5 C22.8 13.1 26.0 11.4 29.8 10.3 C33.5 9.2 37.9 9.0 42.5 8.8 C47.1 8.7 52.7 8.9 57.5 9.3 C62.2 9.8 67.2 10.4 71.0 11.7 C74.7 13.1 77.2 14.7 80.0 17.4 C82.7 20.0 85.5 23.4 87.5 27.8 C89.5 32.3 91.2 38.7 92.0 43.9 C92.8 49.1 92.8 54.4 92.4 59.2 C92.0 63.9 91.1 68.6 89.8 72.4 C88.5 76.2 87.0 79.2 84.5 81.9 C82.0 84.6 78.6 87.0 74.8 88.6 C70.9 90.2 66.0 90.9 61.2 91.4 C56.5 92.0 51.2 92.0 46.2 91.9 C41.2 91.7 35.6 91.5 31.3 90.5 C26.9 89.5 23.3 88.1 20.0 85.7 C16.8 83.4 13.8 80.0 11.8 76.2 C9.7 72.4 8.7 67.2 8.0 62.9 C7.2 58.7 7.1 54.9 7.2 50.6Z" fill="#dcdcdc"/><path d="M12.5 27.0 C14.7 22.5 19.0 18.3 23.3 16.2 C27.6 14.1 35.0 12.8 38.3 14.6 C41.6 16.4 41.3 22.2 43.3 27.0 C45.2 31.8 49.7 38.6 50.0 43.1 C50.3 47.6 46.7 49.9 45.0 53.9 C43.3 57.9 41.4 62.9 40.0 66.9 C38.6 70.9 38.4 75.3 36.7 77.7 C35.0 80.1 32.8 81.1 30.0 81.4 C27.2 81.8 22.8 81.1 20.0 79.8 C17.2 78.5 14.9 76.6 13.3 73.4 C11.7 70.2 11.0 65.5 10.4 60.4 C9.8 55.3 9.7 48.7 10.0 43.1 C10.3 37.5 10.3 31.5 12.5 27.0Z" fill="#4e4e4e"/><path d="M65.0 20.5 C66.7 18.6 70.5 17.6 73.3 18.3 C76.1 19.0 79.5 21.6 81.7 24.8 C83.9 28.1 85.7 32.9 86.7 37.8 C87.7 42.6 87.7 48.5 87.5 53.9 C87.3 59.3 87.0 65.8 85.8 70.1 C84.5 74.4 82.3 77.6 80.0 79.8 C77.7 82.0 74.8 83.1 71.7 83.1 C68.7 83.1 64.2 82.0 61.7 79.8 C59.2 77.6 57.8 74.4 56.7 70.1 C55.6 65.8 55.1 58.4 55.0 53.9 C54.9 49.4 55.0 45.4 55.8 43.1 C56.6 40.8 58.8 42.1 60.0 39.9 C61.2 37.7 62.2 33.2 63.0 30.0 C63.8 26.8 63.3 22.4 65.0 20.5Z" fill="#4e4e4e"/></g><g filter="url(#bl1)"><path d="M14.2 32.4 C15.0 28.8 17.0 25.8 19.2 23.7 C21.4 21.6 24.2 20.9 27.5 20.0 C30.8 19.1 36.0 18.0 39.2 18.3 C42.4 18.6 44.9 19.6 46.7 21.6 C48.5 23.6 49.7 27.0 50.0 30.2 C50.3 33.4 50.0 38.3 48.3 41.0 C46.6 43.7 42.8 44.6 40.0 46.4 C37.2 48.2 34.3 50.2 31.7 51.8 C29.1 53.4 26.6 55.8 24.2 56.1 C21.8 56.5 19.2 55.7 17.5 53.9 C15.8 52.1 14.8 48.9 14.2 45.3 C13.6 41.7 13.4 36.0 14.2 32.4Z" fill="#f3f3f3"/><path d="M63.3 24.8 C65.8 24.1 70.6 26.2 73.3 28.0 C76.0 29.8 78.0 32.2 79.2 35.6 C80.5 39.0 81.2 45.1 80.8 48.5 C80.4 51.9 78.5 54.8 76.7 56.1 C74.9 57.4 72.0 57.7 70.0 56.1 C68.0 54.5 66.7 48.9 65.0 46.4 C63.3 43.9 61.1 43.3 60.0 41.0 C58.9 38.7 57.8 35.1 58.3 32.4 C58.8 29.7 60.8 25.5 63.3 24.8Z" fill="#e6e6e6"/></g><g filter="url(#bl05)"><ellipse cx="47.5" cy="63" rx="6" ry="7.5" fill="#ededed"/><path d="M42 70 L53 70 L56 82 L48 90 L40 82Z" fill="#e9e9e9"/><ellipse cx="47.5" cy="76" rx="3.5" ry="2.5" fill="#d0d0d0"/><ellipse cx="45.4" cy="41" rx="3.75" ry="4.9" fill="#f8f8f8"/><ellipse cx="52.5" cy="51.8" rx="2.9" ry="3.8" fill="#f8f8f8"/><circle cx="20" cy="71.2" r="1.4" fill="#f0f0f0"/></g><path fill="#bdbdbd" d="M73.1 59.6h.7v.8h-.7zM68.4 59.1h.7v.8h-.7zM69.5 64.5h.7v.8h-.7zM28.0 74.3h.7v.8h-.7zM76.7 65.2h.7v.8h-.7zM61.3 76.6h.7v.8h-.7zM38.9 66.5h.7v.8h-.7zM69.5 73.1h.7v.8h-.7zM66.5 63.2h.7v.8h-.7zM75.7 58.3h.7v.8h-.7zM16.0 64.9h.7v.8h-.7zM19.4 65.9h.7v.8h-.7zM78.6 71.4h.7v.8h-.7zM37.3 67.5h.7v.8h-.7zM37.9 62.4h.7v.8h-.7zM69.4 58.5h.7v.8h-.7zM74.0 64.1h.7v.8h-.7zM38.4 69.6h.7v.8h-.7zM81.8 62.7h.7v.8h-.7zM15.5 62.3h.7v.8h-.7zM33.2 74.1h.7v.8h-.7zM41.7 69.5h.7v.8h-.7zM77.1 70.0h.7v.8h-.7zM21.1 72.9h.7v.8h-.7zM22.6 66.7h.7v.8h-.7zM34.1 66.7h.7v.8h-.7zM69.8 66.9h.7v.8h-.7zM69.3 61.4h.7v.8h-.7zM40.3 73.2h.7v.8h-.7zM30.0 69.6h.7v.8h-.7zM30.2 76.3h.7v.8h-.7zM81.4 70.2h.7v.8h-.7zM23.6 68.8h.7v.8h-.7zM38.3 61.0h.7v.8h-.7zM39.4 67.1h.7v.8h-.7zM81.0 71.6h.7v.8h-.7zM77.6 75.0h.7v.8h-.7zM39.1 58.7h.7v.8h-.7zM31.6 64.8h.7v.8h-.7zM21.4 72.9h.7v.8h-.7zM84.5 60.8h.7v.8h-.7zM17.1 70.0h.7v.8h-.7zM74.6 65.3h.7v.8h-.7zM71.3 65.5h.7v.8h-.7zM38.6 66.2h.7v.8h-.7zM37.0 64.5h.7v.8h-.7zM69.2 61.8h.7v.8h-.7zM41.4 67.6h.7v.8h-.7zM38.2 61.9h.7v.8h-.7zM28.3 58.3h.7v.8h-.7zM71.3 70.5h.7v.8h-.7zM68.0 58.4h.7v.8h-.7zM19.8 62.0h.7v.8h-.7zM74.8 74.2h.7v.8h-.7zM34.6 73.5h.7v.8h-.7zM20.4 62.5h.7v.8h-.7zM83.6 69.1h.7v.8h-.7zM37.9 77.4h.7v.8h-.7zM61.0 77.5h.7v.8h-.7zM60.2 60.2h.7v.8h-.7z"/></g></g>
<g clip-path="url(#cpb2)"><rect x="231" y="678.2" width="156.2" height="122" fill="#6f6f6f" /><g transform="translate(231 678.2) scale(1.5620 1.2200)"><path d="M2 10 C10 20 20 5 30 15 M70 6 C80 18 92 4 98 16 M90 40 C96 50 90 60 99 66 M4 60 C10 50 3 40 8 30" stroke="#7a7a7a" stroke-width="0.7" fill="none"/><path d="M0 93 Q50 112 100 90 L100 100 L0 100Z" fill="#5e5e5e"/><path d="M0 80 Q50 100 100 79" stroke="#e0e0e0" stroke-width="1.2" fill="none"/><path d="M0 93 Q50 112 100 90" stroke="#f0f0f0" stroke-width="1.6" fill="none"/><g filter="url(#bl05)"><path d="M4.2 51.5 C4.3 46.7 4.7 40.4 5.8 35.4 C6.9 30.4 8.3 25.6 10.8 21.5 C13.3 17.4 16.8 13.4 20.8 10.7 C24.8 8.0 30.1 6.5 35.0 5.4 C39.9 4.3 44.7 4.2 50.0 4.3 C55.3 4.4 61.8 4.8 66.7 5.9 C71.6 7.0 75.6 8.1 79.2 10.7 C82.8 13.3 86.0 17.4 88.3 21.5 C90.6 25.6 92.2 30.4 93.3 35.4 C94.4 40.4 95.0 45.8 95.0 51.5 C95.0 57.2 94.5 64.5 93.3 69.7 C92.0 74.9 90.1 79.0 87.5 82.6 C84.9 86.2 81.7 89.0 77.5 91.2 C73.3 93.4 67.8 94.7 62.5 95.5 C57.2 96.3 51.3 96.4 45.8 96.0 C40.2 95.6 34.0 95.0 29.2 93.3 C24.4 91.6 20.2 88.8 16.7 85.8 C13.2 82.8 10.2 78.7 8.3 75.1 C6.4 71.5 5.7 68.3 5.0 64.4 C4.3 60.5 4.1 56.3 4.2 51.5Z" fill="#d3d3d3"/><path d="M8.8 51.3 C8.9 47.1 9.2 41.6 10.2 37.2 C11.2 32.8 12.5 28.5 14.7 24.9 C17.0 21.3 20.1 17.8 23.7 15.4 C27.3 13.1 32.1 11.7 36.5 10.8 C40.9 9.8 45.2 9.7 50.0 9.8 C54.8 9.9 60.6 10.3 65.0 11.2 C69.4 12.1 73.0 13.1 76.3 15.4 C79.5 17.7 82.4 21.3 84.5 24.9 C86.6 28.5 88.0 32.8 89.0 37.2 C90.0 41.6 90.5 46.3 90.5 51.3 C90.5 56.4 90.1 62.8 89.0 67.3 C87.8 71.9 86.1 75.5 83.8 78.7 C81.4 81.8 78.5 84.4 74.8 86.3 C71.0 88.1 66.0 89.3 61.2 90.0 C56.5 90.7 51.2 90.8 46.2 90.5 C41.2 90.2 35.6 89.6 31.3 88.1 C26.9 86.6 23.2 84.2 20.0 81.5 C16.9 78.8 14.2 75.2 12.5 72.1 C10.7 68.9 10.1 66.1 9.5 62.7 C8.9 59.2 8.7 55.6 8.8 51.3Z" fill="#dcdcdc"/><path d="M12.5 35.4 C13.5 31.8 14.9 27.6 16.7 24.7 C18.5 21.8 19.8 19.6 23.3 18.2 C26.8 16.8 33.0 11.8 37.5 16.1 C42.0 20.4 48.2 38.1 50.0 44.0 C51.8 49.9 49.4 49.2 48.3 51.5 C47.2 53.8 44.7 55.0 43.3 58.0 C41.9 61.0 41.0 66.3 40.0 69.7 C39.0 73.1 39.2 76.3 37.5 78.3 C35.8 80.3 32.8 81.3 30.0 81.5 C27.2 81.7 23.3 80.8 20.8 79.4 C18.3 78.0 16.5 76.2 15.0 73.0 C13.5 69.8 12.4 64.6 11.7 60.1 C11.0 55.6 10.7 50.2 10.8 46.1 C10.9 42.0 11.5 39.0 12.5 35.4Z" fill="#686868"/><path d="M56.7 40.8 C57.9 39.1 59.5 39.8 62.0 38.0 C64.5 36.2 69.0 32.7 72.0 30.0 C75.0 27.3 77.5 21.6 80.0 22.0 C82.5 22.4 85.3 27.8 86.7 32.2 C88.1 36.6 88.3 42.9 88.3 48.3 C88.3 53.7 87.8 59.6 86.7 64.4 C85.6 69.2 83.9 74.3 81.7 77.3 C79.5 80.3 76.5 81.9 73.3 82.6 C70.1 83.3 65.3 82.8 62.5 81.5 C59.7 80.2 58.0 78.7 56.7 75.1 C55.5 71.5 55.3 64.6 55.0 60.1 C54.7 55.6 54.7 51.5 55.0 48.3 C55.3 45.1 55.5 42.5 56.7 40.8Z" fill="#686868"/></g><g filter="url(#bl1)"><path d="M12.8 35.4 C13.5 32.4 14.7 27.2 16.7 24.7 C18.7 22.2 21.5 21.3 25.0 20.4 C28.5 19.5 33.9 19.1 37.5 19.3 C41.1 19.5 44.6 19.7 46.7 21.5 C48.8 23.3 49.5 26.4 50.0 30.0 C50.5 33.6 50.5 40.2 50.0 42.9 C49.5 45.6 48.8 44.0 46.7 46.1 C44.6 48.2 40.4 53.1 37.5 55.8 C34.6 58.5 32.0 61.3 29.2 62.2 C26.4 63.1 23.3 62.6 20.8 61.2 C18.3 59.8 15.6 56.7 14.2 53.6 C12.8 50.5 12.7 45.9 12.5 42.9 C12.3 39.9 12.1 38.4 12.8 35.4Z" fill="#f3f3f3"/><path d="M53.3 26.8 C54.8 24.5 59.7 22.0 63.3 21.5 C66.9 21.0 71.8 21.8 75.0 23.6 C78.2 25.4 81.1 28.1 82.5 32.2 C83.9 36.3 84.1 43.6 83.3 48.3 C82.5 52.9 79.6 57.4 77.5 60.1 C75.4 62.8 72.6 65.1 70.8 64.4 C69.0 63.7 67.7 59.0 66.7 55.8 C65.7 52.6 66.1 47.8 65.0 45.1 C63.9 42.4 61.8 41.3 60.0 39.7 C58.2 38.1 55.3 37.5 54.2 35.4 C53.1 33.2 51.8 29.1 53.3 26.8Z" fill="#e6e6e6"/></g><g filter="url(#bl05)"><ellipse cx="47.5" cy="63" rx="6" ry="7.5" fill="#ededed"/><path d="M42 70 L53 70 L56 82 L48 90 L40 82Z" fill="#e9e9e9"/><ellipse cx="47.5" cy="76" rx="3.5" ry="2.5" fill="#d0d0d0"/><ellipse cx="52.5" cy="50.4" rx="3.3" ry="4.3" fill="#f8f8f8"/><ellipse cx="55" cy="21.5" rx="2.2" ry="2" fill="#7a7a7a"/><ellipse cx="69" cy="21" rx="1.6" ry="1.4" fill="#8a8a8a"/><path d="M23 18.5 C28 16.5 33 16.5 38 17.5" stroke="#777" stroke-width="1.2" fill="none"/></g><path fill="#bdbdbd" d="M84.6 71.4h.7v.8h-.7zM68.4 76.0h.7v.8h-.7zM36.2 67.2h.7v.8h-.7zM64.5 61.4h.7v.8h-.7zM70.0 72.7h.7v.8h-.7zM20.4 66.2h.7v.8h-.7zM83.6 59.5h.7v.8h-.7zM35.8 67.0h.7v.8h-.7zM41.1 68.4h.7v.8h-.7zM41.8 71.0h.7v.8h-.7zM27.8 67.6h.7v.8h-.7zM31.1 70.3h.7v.8h-.7zM25.1 70.7h.7v.8h-.7zM74.9 70.8h.7v.8h-.7zM65.3 65.4h.7v.8h-.7zM34.9 64.1h.7v.8h-.7zM41.1 58.3h.7v.8h-.7zM75.6 65.5h.7v.8h-.7zM38.0 65.0h.7v.8h-.7zM17.8 67.1h.7v.8h-.7zM73.7 71.8h.7v.8h-.7zM34.7 62.7h.7v.8h-.7zM72.8 59.2h.7v.8h-.7zM20.8 68.4h.7v.8h-.7zM74.9 73.3h.7v.8h-.7zM63.3 67.5h.7v.8h-.7zM62.1 58.2h.7v.8h-.7zM19.1 70.9h.7v.8h-.7zM18.7 66.3h.7v.8h-.7zM72.4 60.6h.7v.8h-.7zM31.2 64.4h.7v.8h-.7zM81.7 71.8h.7v.8h-.7zM18.3 58.5h.7v.8h-.7zM83.3 59.0h.7v.8h-.7zM38.0 76.1h.7v.8h-.7zM14.2 77.8h.7v.8h-.7zM71.0 67.2h.7v.8h-.7zM28.9 63.0h.7v.8h-.7zM62.7 75.6h.7v.8h-.7zM83.1 71.6h.7v.8h-.7zM62.3 71.9h.7v.8h-.7zM62.3 63.7h.7v.8h-.7zM41.9 63.8h.7v.8h-.7zM79.4 73.8h.7v.8h-.7zM60.6 76.9h.7v.8h-.7zM65.2 58.8h.7v.8h-.7zM62.9 76.1h.7v.8h-.7zM78.9 63.6h.7v.8h-.7zM24.3 76.2h.7v.8h-.7zM34.1 61.7h.7v.8h-.7zM38.8 70.9h.7v.8h-.7zM68.0 76.2h.7v.8h-.7zM36.0 77.6h.7v.8h-.7zM39.7 74.4h.7v.8h-.7zM63.9 73.6h.7v.8h-.7zM16.7 74.7h.7v.8h-.7zM39.4 71.1h.7v.8h-.7zM17.9 66.7h.7v.8h-.7zM78.2 68.4h.7v.8h-.7zM81.2 73.9h.7v.8h-.7z"/></g></g>
<line x1="64.5" y1="782.5" x2="85.61" y2="770.3" stroke="#ee1c25" stroke-width="2.2" /><polygon points="90.8,767.3 87.27,774.19 83.07,766.92" fill="#ee1c25"/>
<line x1="231" y1="784" x2="251.47" y2="772.45" stroke="#ee1c25" stroke-width="2.2" /><polygon points="256.7,769.5 253.1,776.35 248.98,769.04" fill="#ee1c25"/>
<text x="50.5" y="836.7" font-size="14.6" textLength="106.3" lengthAdjust="spacingAndGlyphs" >Ex vivo ELISpot</text>
<line x1="73.7" y1="854.5" x2="73.7" y2="897.2" stroke="#555" stroke-width="1" />
<line x1="73.7" y1="905.4" x2="73.7" y2="998.2" stroke="#555" stroke-width="1" />
<line x1="67.2" y1="998.2" x2="133.6" y2="998.2" stroke="#555" stroke-width="1" />
<line x1="67.5" y1="854.5" x2="73.7" y2="854.5" stroke="#555" stroke-width="1" />
<text x="60.3" y="859.1" font-size="12.8" text-anchor="end" textLength="35.24" lengthAdjust="spacingAndGlyphs" >3,000</text>
<line x1="67.5" y1="869.4" x2="73.7" y2="869.4" stroke="#555" stroke-width="1" />
<text x="60.3" y="874" font-size="12.8" text-anchor="end" textLength="35.24" lengthAdjust="spacingAndGlyphs" >2,000</text>
<line x1="67.5" y1="884.2" x2="73.7" y2="884.2" stroke="#555" stroke-width="1" />
<text x="60.3" y="888.8" font-size="12.8" text-anchor="end" textLength="35.24" lengthAdjust="spacingAndGlyphs" >1,000</text>
<line x1="67.5" y1="905.4" x2="73.7" y2="905.4" stroke="#555" stroke-width="1" />
<text x="60.3" y="910" font-size="12.8" text-anchor="end" textLength="25.63" lengthAdjust="spacingAndGlyphs" >100</text>
<line x1="67.5" y1="951.8" x2="73.7" y2="951.8" stroke="#555" stroke-width="1" />
<text x="60.3" y="956.4" font-size="12.8" text-anchor="end" textLength="17.09" lengthAdjust="spacingAndGlyphs" >50</text>
<line x1="67.5" y1="998.2" x2="73.7" y2="998.2" stroke="#555" stroke-width="1" />
<text x="60.3" y="1002.8" font-size="12.8" text-anchor="end" textLength="8.54" lengthAdjust="spacingAndGlyphs" >0</text>
<line x1="67.2" y1="897.2" x2="76.5" y2="897.2" stroke="#555" stroke-width="1" />
<line x1="67.2" y1="905.4" x2="76.5" y2="905.4" stroke="#555" stroke-width="1" />
<line x1="90.4" y1="998.2" x2="90.4" y2="1004.7" stroke="#555" stroke-width="1" />
<line x1="116" y1="998.2" x2="116" y2="1004.7" stroke="#555" stroke-width="1" />
<line x1="90.4" y1="998.2" x2="116" y2="980.2" stroke="#111" stroke-width="1.1" />
<line x1="90.4" y1="992.3" x2="116" y2="863.6" stroke="#111" stroke-width="1.1" />
<line x1="90.4" y1="998.2" x2="116" y2="893" stroke="#111" stroke-width="1.1" />
<rect x="78" y="897.6" width="40" height="6.4" fill="#fff" />
<circle cx="90.4" cy="992.3" r="1.8" fill="#111" />
<circle cx="90.4" cy="998.2" r="1.8" fill="#111" />
<circle cx="116" cy="863.6" r="1.8" fill="#111" />
<circle cx="116" cy="893" r="1.8" fill="#111" />
<circle cx="116" cy="980.2" r="1.8" fill="#111" />
<text x="94" y="1013.5" font-size="14.5" text-anchor="end" textLength="23.5" lengthAdjust="spacingAndGlyphs" transform="rotate(-45 94 1013.5)" >Pre</text>
<text x="120.5" y="1016" font-size="14" text-anchor="end" textLength="30.5" lengthAdjust="spacingAndGlyphs" transform="rotate(-45 120.5 1016)" >Post</text>
<text x="17.5" y="922.6" font-size="14.2" text-anchor="middle" transform="rotate(-90 17.5 922.6)" textLength="186" lengthAdjust="spacingAndGlyphs">IFNγ spots per 1 × 10<tspan font-size="9" dy="-6">6</tspan><tspan dy="6"> cells</tspan></text>
<line x1="230.1" y1="856" x2="230.1" y2="996.7" stroke="#111" stroke-width="1.3" stroke-dasharray="1.5 2.4"/>
<line x1="234.8" y1="856" x2="234.8" y2="996.7" stroke="#111" stroke-width="1.3" stroke-dasharray="1.5 2.4"/>
<line x1="239.8" y1="856" x2="239.8" y2="996.7" stroke="#111" stroke-width="1.3" stroke-dasharray="1.5 2.4"/>
<line x1="244.7" y1="856" x2="244.7" y2="996.7" stroke="#111" stroke-width="1.3" stroke-dasharray="1.5 2.4"/>
<line x1="249.7" y1="856" x2="249.7" y2="996.7" stroke="#111" stroke-width="1.3" stroke-dasharray="1.5 2.4"/>
<line x1="254.9" y1="856" x2="254.9" y2="996.7" stroke="#111" stroke-width="1.3" stroke-dasharray="1.5 2.4"/>
<line x1="261.2" y1="856" x2="261.2" y2="996.7" stroke="#111" stroke-width="1.3" stroke-dasharray="1.5 2.4"/>
<line x1="271.4" y1="856" x2="271.4" y2="996.7" stroke="#111" stroke-width="1.3" stroke-dasharray="1.5 2.4"/>
<line x1="322.8" y1="856" x2="322.8" y2="996.7" stroke="#111" stroke-width="1.3" stroke-dasharray="1.5 2.4"/>
<line x1="225.5" y1="857" x2="225.5" y2="996.7" stroke="#555" stroke-width="1" />
<line x1="214.5" y1="996.7" x2="410.8" y2="996.7" stroke="#555" stroke-width="1" />
<line x1="219.5" y1="996.7" x2="225.5" y2="996.7" stroke="#555" stroke-width="1" />
<text x="209.5" y="1001.3" font-size="12.8" text-anchor="end" textLength="8.54" lengthAdjust="spacingAndGlyphs" >0</text>
<line x1="219.5" y1="968.76" x2="225.5" y2="968.76" stroke="#555" stroke-width="1" />
<text x="209.5" y="973.36" font-size="12.8" text-anchor="end" textLength="19.57" lengthAdjust="spacingAndGlyphs" >0.2</text>
<line x1="219.5" y1="940.82" x2="225.5" y2="940.82" stroke="#555" stroke-width="1" />
<text x="209.5" y="945.42" font-size="12.8" text-anchor="end" textLength="19.57" lengthAdjust="spacingAndGlyphs" >0.4</text>
<line x1="219.5" y1="912.88" x2="225.5" y2="912.88" stroke="#555" stroke-width="1" />
<text x="209.5" y="917.48" font-size="12.8" text-anchor="end" textLength="19.57" lengthAdjust="spacingAndGlyphs" >0.6</text>
<line x1="219.5" y1="884.94" x2="225.5" y2="884.94" stroke="#555" stroke-width="1" />
<text x="209.5" y="889.54" font-size="12.8" text-anchor="end" textLength="19.57" lengthAdjust="spacingAndGlyphs" >0.8</text>
<line x1="219.5" y1="857" x2="225.5" y2="857" stroke="#555" stroke-width="1" />
<text x="209.5" y="861.6" font-size="12.8" text-anchor="end" textLength="19.57" lengthAdjust="spacingAndGlyphs" >1.0</text>
<line x1="230.1" y1="996.7" x2="230.1" y2="1002.7" stroke="#555" stroke-width="1" />
<text x="230.1" y="1023.9" font-size="12.8" text-anchor="middle" textLength="8.54" lengthAdjust="spacingAndGlyphs" >0</text>
<line x1="266.18" y1="996.7" x2="266.18" y2="1002.7" stroke="#555" stroke-width="1" />
<text x="266.18" y="1023.9" font-size="12.8" text-anchor="middle" textLength="17.09" lengthAdjust="spacingAndGlyphs" >50</text>
<line x1="302.25" y1="996.7" x2="302.25" y2="1002.7" stroke="#555" stroke-width="1" />
<text x="302.25" y="1023.9" font-size="12.8" text-anchor="middle" textLength="25.63" lengthAdjust="spacingAndGlyphs" >100</text>
<line x1="338.32" y1="996.7" x2="338.32" y2="1002.7" stroke="#555" stroke-width="1" />
<text x="338.32" y="1023.9" font-size="12.8" text-anchor="middle" textLength="25.63" lengthAdjust="spacingAndGlyphs" >150</text>
<line x1="374.4" y1="996.7" x2="374.4" y2="1002.7" stroke="#555" stroke-width="1" />
<text x="374.4" y="1023.9" font-size="12.8" text-anchor="middle" textLength="25.63" lengthAdjust="spacingAndGlyphs" >200</text>
<line x1="410.48" y1="996.7" x2="410.48" y2="1002.7" stroke="#555" stroke-width="1" />
<text x="410.48" y="1023.9" font-size="12.8" text-anchor="middle" textLength="25.63" lengthAdjust="spacingAndGlyphs" >250</text>
<text x="228.8" y="1047.3" font-size="14.6" textLength="178.7" lengthAdjust="spacingAndGlyphs" >Days after treatment start</text>
<text x="176" y="931.7" font-size="14.2" text-anchor="middle" transform="rotate(-90 176 931.7)" textLength="151" lengthAdjust="spacingAndGlyphs">Multimer<tspan font-size="8.5" dy="-5.5">+</tspan><tspan dy="5.5"> of CD8</tspan><tspan font-size="8.5" dy="-5.5">+</tspan><tspan dy="5.5"> (%)</tspan></text>
<polyline points="230.1,996.7 245.8,987.0 261.2,976.0 276.3,978.8 306.6,945.2 337.4,941.1 382.8,967.5" fill="none" stroke="#111" stroke-width="1.1" />
<circle cx="230.1" cy="996.7" r="3.2" fill="#111" />
<circle cx="245.8" cy="987" r="3.2" fill="#111" />
<circle cx="261.2" cy="976" r="3.2" fill="#111" />
<circle cx="276.3" cy="978.8" r="3.2" fill="#111" />
<circle cx="306.6" cy="945.2" r="3.2" fill="#111" />
<circle cx="337.4" cy="941.1" r="3.2" fill="#111" />
<circle cx="382.8" cy="967.5" r="3.2" fill="#111" />
<line x1="226" y1="847.9" x2="256.8" y2="847.9" stroke="#555" stroke-width="1" />
<circle cx="241.4" cy="847.9" r="2.8" fill="#111" />
<text x="264.5" y="852.8" font-size="14.6" textLength="117" lengthAdjust="spacingAndGlyphs" >C10orf54 (T37M)</text>
<circle cx="260.4" cy="871.3" r="3.3" fill="#ffff00" />
<circle cx="290.9" cy="871.3" r="3.3" fill="#0000ff" />
<circle cx="321.2" cy="871.3" r="3.3" fill="#0000ff" />
<circle cx="372.3" cy="871.3" r="3.3" fill="#00ff00" />
<circle cx="441.9" cy="854.2" r="5.3" fill="#ffff00" />
<text x="457" y="859.9" font-size="14.6" textLength="21.3" lengthAdjust="spacingAndGlyphs" >SD</text>
<circle cx="441.9" cy="871.3" r="5.3" fill="#0000ff" />
<text x="457" y="879.4" font-size="14.6" textLength="21.3" lengthAdjust="spacingAndGlyphs" >PR</text>
<circle cx="441.9" cy="890" r="5.3" fill="#00ff00" />
<text x="457" y="898.4" font-size="14.6" textLength="22.14" lengthAdjust="spacingAndGlyphs" >CR</text>
<text x="566.5" y="646.3" font-size="19.5" font-weight="bold" style="stroke-width:0.7px">c</text>
<text x="596.3" y="646.5" font-size="14.6" textLength="471.4" lengthAdjust="spacingAndGlyphs" >Patient 13—TNBC, autogene cevumeran (38 µg) + atezolizumab</text>
<text x="699.7" y="676.8" font-size="14.6" text-anchor="middle" textLength="71" lengthAdjust="spacingAndGlyphs" >Screening</text>
<text x="826.7" y="676.8" font-size="14.6" text-anchor="middle" textLength="53" lengthAdjust="spacingAndGlyphs" >Cycle 4</text>
<text x="966.4" y="676.8" font-size="14.6" text-anchor="middle" textLength="62" lengthAdjust="spacingAndGlyphs" >Cycle 16</text>
<g clip-path="url(#cpc1)"><rect x="624.5" y="684" width="133.5" height="113" fill="#4a4a4a" /><g transform="translate(624.5 684) scale(1.3350 1.1300)"><g filter="url(#bl05)"><rect x="0" y="10" width="9" height="90" fill="#5e5e5e"/><rect x="93" y="10" width="7" height="90" fill="#525252"/><path d="M10 20 C20 10 30 12 40 8 L40 0 L10 0Z" fill="#5a5a5a"/><path d="M60 8 C70 12 80 10 92 20 L92 0 L60 0Z" fill="#5a5a5a"/><path d="M42 0 L58 0 L58 14 L42 14Z" fill="#b0b0b0"/><ellipse cx="5" cy="9" rx="5" ry="5.5" fill="#d8d8d8"/><ellipse cx="96" cy="8" rx="4" ry="4" fill="#e0e0e0"/><circle cx="17.5" cy="5.9" r="2" fill="#e8e8e8"/><circle cx="30" cy="7.9" r="2" fill="#e8e8e8"/><circle cx="70.8" cy="7.4" r="2.3" fill="#e8e8e8"/><ellipse cx="70" cy="14" rx="6" ry="2" fill="#8a8a8a"/><ellipse cx="28" cy="14" rx="6" ry="2" fill="#7a7a7a"/><rect x="50" y="82" width="46" height="18" fill="#8e8e8e"/><path d="M70 86 C76 84 82 90 88 86 C92 90 90 96 84 97 C78 94 72 96 70 86Z" fill="#5a5a5a"/><path d="M15.0 28.7 C16.8 26.1 20.5 23.3 23.3 21.7 C26.1 20.1 29.5 19.1 31.7 18.8 C33.9 18.5 35.5 18.7 36.7 19.8 C38.0 20.9 38.7 23.7 39.2 25.7 C39.8 27.7 40.4 29.3 40.0 31.6 C39.6 33.9 38.0 37.4 36.7 39.5 C35.5 41.6 32.1 43.2 32.5 44.5 C32.9 45.8 37.4 45.6 39.2 47.4 C41.0 49.2 42.6 51.7 43.3 55.3 C44.0 58.9 43.6 64.9 43.3 69.2 C43.0 73.5 43.1 78.5 41.7 81.0 C40.3 83.5 37.8 83.7 35.0 84.0 C32.2 84.3 28.1 82.5 25.0 83.0 C21.9 83.5 19.1 85.0 16.7 87.0 C14.3 89.0 11.8 97.9 10.8 94.9 C9.8 91.9 10.7 76.8 10.8 69.2 C11.0 61.6 11.4 54.7 11.7 49.4 C12.0 44.1 11.9 41.0 12.5 37.5 C13.1 34.0 13.2 31.3 15.0 28.7Z" fill="#000"/><path d="M56.7 17.8 C57.5 15.7 60.9 15.1 63.3 14.8 C65.6 14.5 68.1 14.8 70.8 15.8 C73.5 16.8 76.7 19.0 79.2 20.8 C81.7 22.6 84.0 23.9 85.8 26.7 C87.6 29.5 88.9 33.7 90.0 37.5 C91.1 41.3 92.0 44.9 92.5 49.4 C93.0 53.9 92.9 59.3 93.3 64.2 C93.7 69.1 94.6 75.2 95.0 79.0 C95.4 82.8 96.6 86.0 95.8 87.0 C95.0 88.0 92.8 85.8 90.0 85.0 C87.2 84.2 82.4 82.3 79.2 82.0 C76.0 81.7 72.9 83.5 70.8 83.0 C68.7 82.5 66.3 81.0 66.7 79.0 C67.1 77.0 72.2 74.0 73.3 71.1 C74.4 68.1 74.1 64.2 73.3 61.3 C72.5 58.3 70.0 55.9 68.3 53.4 C66.6 50.9 64.7 49.0 63.3 46.4 C61.9 43.8 60.8 40.6 60.0 37.5 C59.2 34.4 58.8 31.0 58.3 27.7 C57.8 24.4 55.9 19.9 56.7 17.8Z" fill="#000"/><path d="M41.7 12.8 C43.4 12.0 48.3 12.8 50.0 14.8 C51.7 16.8 51.7 20.9 51.7 24.7 C51.7 28.5 51.1 35.4 50.0 37.5 C48.9 39.6 46.4 39.1 45.0 37.5 C43.6 35.9 42.5 30.6 41.7 27.7 C40.9 24.8 40.0 22.3 40.0 19.8 C40.0 17.3 40.0 13.6 41.7 12.8Z" fill="#050505"/><path d="M10.8 94.9 C12.2 92.7 14.3 89.0 16.7 87.0 C19.1 85.0 21.9 83.7 25.0 83.0 C28.1 82.3 31.9 82.5 35.0 83.0 C38.0 83.5 40.8 85.0 43.3 86.0 C45.8 87.0 48.2 86.6 50.0 88.9 C51.8 91.2 61.2 98.2 54.2 100.0 C47.2 101.8 15.5 100.8 8.3 100.0 C1.1 99.2 9.4 97.1 10.8 94.9Z" fill="#b4b4b4"/><path d="M43.3 55.3 C44.4 53.2 47.2 52.0 50.0 51.4 C52.8 50.8 57.0 50.8 60.0 51.4 C63.0 52.0 66.1 53.3 68.3 55.3 C70.5 57.3 72.2 60.6 73.3 63.2 C74.4 65.8 75.3 68.5 75.0 71.1 C74.7 73.7 73.7 77.3 71.7 79.0 C69.8 80.7 66.2 80.5 63.3 81.0 C60.4 81.5 56.4 81.3 54.2 82.0 C52.0 82.7 51.8 84.5 50.0 85.0 C48.2 85.5 44.5 86.8 43.3 85.0 C42.0 83.2 42.5 77.6 42.5 74.1 C42.5 70.6 43.2 67.3 43.3 64.2 C43.4 61.1 42.2 57.4 43.3 55.3Z" fill="#e4e4e4"/><ellipse cx="55" cy="33.6" rx="4.4" ry="5.2" fill="#f4f4f4"/><path d="M40 44.5 C48 44 56 45 61.7 46 C63 49 60 51.5 56 51.5 C50 51.5 44 51 40 49.5Z" fill="#e4e4e4"/><circle cx="46.7" cy="42.5" r="3.2" fill="#8a8a8a"/><path d="M34 44 C37 42 40 46 39 52 L36 56 C33 52 32 47 34 44Z" fill="#e4e4e4"/></g><ellipse cx="11.5" cy="36" rx="1.2" ry="2.1" fill="#dcdcdc"/><ellipse cx="10.5" cy="47" rx="1.2" ry="2.1" fill="#dcdcdc"/><ellipse cx="10" cy="58" rx="1.2" ry="2.1" fill="#dcdcdc"/><ellipse cx="10" cy="69" rx="1.2" ry="2.1" fill="#dcdcdc"/><ellipse cx="10" cy="80" rx="1.2" ry="2.1" fill="#dcdcdc"/><ellipse cx="10" cy="91" rx="1.2" ry="2.1" fill="#dcdcdc"/><ellipse cx="14" cy="27" rx="1.2" ry="2.1" fill="#dcdcdc"/><ellipse cx="20" cy="21" rx="1.2" ry="2.1" fill="#dcdcdc"/><ellipse cx="27" cy="16" rx="1.2" ry="2.1" fill="#dcdcdc"/><ellipse cx="93" cy="36" rx="1.2" ry="2.1" fill="#dcdcdc"/><ellipse cx="94" cy="47" rx="1.2" ry="2.1" fill="#dcdcdc"/><ellipse cx="94.5" cy="58" rx="1.2" ry="2.1" fill="#dcdcdc"/><ellipse cx="95" cy="69" rx="1.2" ry="2.1" fill="#dcdcdc"/><ellipse cx="95.5" cy="80" rx="1.2" ry="2.1" fill="#dcdcdc"/><ellipse cx="96" cy="91" rx="1.2" ry="2.1" fill="#dcdcdc"/><ellipse cx="89" cy="27" rx="1.2" ry="2.1" fill="#dcdcdc"/><ellipse cx="83" cy="21" rx="1.2" ry="2.1" fill="#dcdcdc"/><ellipse cx="73" cy="16" rx="1.2" ry="2.1" fill="#dcdcdc"/><ellipse cx="64" cy="12" rx="1.2" ry="2.1" fill="#dcdcdc"/></g></g>
<g clip-path="url(#cpc2)"><rect x="761.5" y="684" width="133.7" height="113" fill="#4a4a4a" /><g transform="translate(761.5 684) scale(1.3370 1.1300)"><g filter="url(#bl05)"><rect x="0" y="10" width="9" height="90" fill="#5e5e5e"/><rect x="93" y="10" width="7" height="90" fill="#525252"/><path d="M10 20 C20 10 30 12 40 8 L40 0 L10 0Z" fill="#5a5a5a"/><path d="M60 8 C70 12 80 10 92 20 L92 0 L60 0Z" fill="#5a5a5a"/><path d="M42 0 L58 0 L58 14 L42 14Z" fill="#b0b0b0"/><ellipse cx="5" cy="9" rx="5" ry="5.5" fill="#d8d8d8"/><ellipse cx="96" cy="8" rx="4" ry="4" fill="#e0e0e0"/><circle cx="17.5" cy="5.9" r="2" fill="#e8e8e8"/><circle cx="30" cy="7.9" r="2" fill="#e8e8e8"/><circle cx="70.8" cy="7.4" r="2.3" fill="#e8e8e8"/><ellipse cx="70" cy="14" rx="6" ry="2" fill="#8a8a8a"/><ellipse cx="28" cy="14" rx="6" ry="2" fill="#7a7a7a"/><rect x="50" y="82" width="46" height="18" fill="#8e8e8e"/><ellipse cx="80" cy="92" rx="8" ry="7" fill="#4a4a4a"/><ellipse cx="80" cy="92" rx="6" ry="5" fill="#707070"/><path d="M15.0 24.3 C16.8 21.4 20.5 18.5 23.3 16.7 C26.1 14.9 29.5 13.9 31.7 13.6 C33.9 13.2 35.5 13.4 36.7 14.6 C38.0 15.9 38.7 18.9 39.2 21.0 C39.8 23.2 40.4 25.0 40.0 27.5 C39.6 29.9 38.0 33.7 36.7 36.0 C35.5 38.4 32.1 40.0 32.5 41.5 C32.9 42.9 37.4 42.7 39.2 44.6 C41.0 46.6 42.6 49.2 43.3 53.2 C44.0 57.1 43.6 63.6 43.3 68.3 C43.0 72.9 43.1 78.4 41.7 81.0 C40.3 83.6 37.8 83.7 35.0 84.0 C32.2 84.3 28.1 82.5 25.0 83.0 C21.9 83.5 19.1 85.0 16.7 87.0 C14.3 89.0 11.8 98.0 10.8 94.9 C9.8 91.8 10.7 76.3 10.8 68.3 C11.0 60.3 11.4 52.5 11.7 46.8 C12.0 41.0 11.9 37.6 12.5 33.9 C13.1 30.1 13.2 27.2 15.0 24.3Z" fill="#000"/><path d="M56.7 12.5 C57.5 10.1 60.9 9.6 63.3 9.2 C65.6 8.8 68.1 9.2 70.8 10.3 C73.5 11.4 76.7 13.8 79.2 15.7 C81.7 17.7 84.0 19.1 85.8 22.1 C87.6 25.2 88.9 29.7 90.0 33.9 C91.1 38.0 92.0 41.9 92.5 46.8 C93.0 51.6 92.9 57.5 93.3 62.8 C93.7 68.2 94.6 74.9 95.0 78.9 C95.4 82.9 96.6 86.0 95.8 87.0 C95.0 88.0 92.8 85.8 90.0 85.0 C87.2 84.2 82.4 82.3 79.2 82.0 C76.0 81.7 72.9 83.5 70.8 83.0 C68.7 82.5 66.3 81.0 66.7 78.9 C67.1 76.8 72.2 73.5 73.3 70.3 C74.4 67.1 74.1 62.9 73.3 59.7 C72.5 56.5 70.0 53.8 68.3 51.1 C66.6 48.4 64.7 46.4 63.3 43.5 C61.9 40.6 60.8 37.2 60.0 33.9 C59.2 30.5 58.8 26.8 58.3 23.2 C57.8 19.7 55.9 14.8 56.7 12.5Z" fill="#000"/><path d="M41.7 12.8 C43.4 12.0 48.3 12.8 50.0 14.8 C51.7 16.8 51.7 20.9 51.7 24.7 C51.7 28.5 51.1 35.4 50.0 37.5 C48.9 39.6 46.4 39.1 45.0 37.5 C43.6 35.9 42.5 30.6 41.7 27.7 C40.9 24.8 40.0 22.3 40.0 19.8 C40.0 17.3 40.0 13.6 41.7 12.8Z" fill="#050505"/><path d="M10.8 94.9 C12.2 92.7 14.3 89.0 16.7 87.0 C19.1 85.0 21.9 83.7 25.0 83.0 C28.1 82.3 31.9 82.5 35.0 83.0 C38.0 83.5 40.8 85.0 43.3 86.0 C45.8 87.0 48.2 86.6 50.0 88.9 C51.8 91.2 61.2 98.2 54.2 100.0 C47.2 101.8 15.5 100.8 8.3 100.0 C1.1 99.2 9.4 97.1 10.8 94.9Z" fill="#b4b4b4"/><path d="M43.3 55.3 C44.4 53.2 47.2 52.0 50.0 51.4 C52.8 50.8 57.0 50.8 60.0 51.4 C63.0 52.0 66.1 53.3 68.3 55.3 C70.5 57.3 72.2 60.6 73.3 63.2 C74.4 65.8 75.3 68.5 75.0 71.1 C74.7 73.7 73.7 77.3 71.7 79.0 C69.8 80.7 66.2 80.5 63.3 81.0 C60.4 81.5 56.4 81.3 54.2 82.0 C52.0 82.7 51.8 84.5 50.0 85.0 C48.2 85.5 44.5 86.8 43.3 85.0 C42.0 83.2 42.5 77.6 42.5 74.1 C42.5 70.6 43.2 67.3 43.3 64.2 C43.4 61.1 42.2 57.4 43.3 55.3Z" fill="#dedede"/><ellipse cx="55" cy="33.6" rx="4.4" ry="5.2" fill="#f0f0f0"/><path d="M40 44.5 C48 44 56 45 61.7 46 C63 49 60 51.5 56 51.5 C50 51.5 44 51 40 49.5Z" fill="#dedede"/><circle cx="46.7" cy="42.5" r="3.2" fill="#8a8a8a"/><path d="M34 44 C37 42 40 46 39 52 L36 56 C33 52 32 47 34 44Z" fill="#dedede"/></g><ellipse cx="11.5" cy="36" rx="1.2" ry="2.1" fill="#dcdcdc"/><ellipse cx="10.5" cy="47" rx="1.2" ry="2.1" fill="#dcdcdc"/><ellipse cx="10" cy="58" rx="1.2" ry="2.1" fill="#dcdcdc"/><ellipse cx="10" cy="69" rx="1.2" ry="2.1" fill="#dcdcdc"/><ellipse cx="10" cy="80" rx="1.2" ry="2.1" fill="#dcdcdc"/><ellipse cx="10" cy="91" rx="1.2" ry="2.1" fill="#dcdcdc"/><ellipse cx="14" cy="27" rx="1.2" ry="2.1" fill="#dcdcdc"/><ellipse cx="20" cy="21" rx="1.2" ry="2.1" fill="#dcdcdc"/><ellipse cx="27" cy="16" rx="1.2" ry="2.1" fill="#dcdcdc"/><ellipse cx="93" cy="36" rx="1.2" ry="2.1" fill="#dcdcdc"/><ellipse cx="94" cy="47" rx="1.2" ry="2.1" fill="#dcdcdc"/><ellipse cx="94.5" cy="58" rx="1.2" ry="2.1" fill="#dcdcdc"/><ellipse cx="95" cy="69" rx="1.2" ry="2.1" fill="#dcdcdc"/><ellipse cx="95.5" cy="80" rx="1.2" ry="2.1" fill="#dcdcdc"/><ellipse cx="96" cy="91" rx="1.2" ry="2.1" fill="#dcdcdc"/><ellipse cx="89" cy="27" rx="1.2" ry="2.1" fill="#dcdcdc"/><ellipse cx="83" cy="21" rx="1.2" ry="2.1" fill="#dcdcdc"/><ellipse cx="73" cy="16" rx="1.2" ry="2.1" fill="#dcdcdc"/><ellipse cx="64" cy="12" rx="1.2" ry="2.1" fill="#dcdcdc"/></g></g>
<g clip-path="url(#cpc3)"><rect x="901.9" y="685.2" width="131.9" height="111.7" fill="#4a4a4a" /><g transform="translate(901.9 685.2) scale(1.3190 1.1170)"><g filter="url(#bl05)"><rect x="0" y="10" width="9" height="90" fill="#5e5e5e"/><rect x="93" y="10" width="7" height="90" fill="#525252"/><path d="M10 20 C20 10 30 12 40 8 L40 0 L10 0Z" fill="#5a5a5a"/><path d="M60 8 C70 12 80 10 92 20 L92 0 L60 0Z" fill="#5a5a5a"/><path d="M42 0 L58 0 L58 14 L42 14Z" fill="#b0b0b0"/><ellipse cx="5" cy="9" rx="5" ry="5.5" fill="#d8d8d8"/><ellipse cx="96" cy="8" rx="4" ry="4" fill="#e0e0e0"/><circle cx="17.5" cy="5.9" r="2" fill="#e8e8e8"/><circle cx="30" cy="7.9" r="2" fill="#e8e8e8"/><circle cx="70.8" cy="7.4" r="2.3" fill="#e8e8e8"/><ellipse cx="70" cy="14" rx="6" ry="2" fill="#8a8a8a"/><ellipse cx="28" cy="14" rx="6" ry="2" fill="#7a7a7a"/><rect x="50" y="82" width="46" height="18" fill="#8e8e8e"/><ellipse cx="80" cy="92" rx="8" ry="7" fill="#4a4a4a"/><ellipse cx="80" cy="92" rx="6" ry="5" fill="#707070"/><path d="M15.0 25.0 C16.8 22.2 20.5 19.3 23.3 17.5 C26.1 15.8 29.5 14.8 31.7 14.4 C33.9 14.1 35.5 14.3 36.7 15.5 C38.0 16.7 38.7 19.7 39.2 21.8 C39.8 23.9 40.4 25.7 40.0 28.1 C39.6 30.6 38.0 34.3 36.7 36.6 C35.5 38.9 32.1 40.6 32.5 42.0 C32.9 43.4 37.4 43.1 39.2 45.1 C41.0 47.0 42.6 49.6 43.3 53.5 C44.0 57.4 43.6 63.9 43.3 68.4 C43.0 73.0 43.1 78.4 41.7 81.0 C40.3 83.6 37.8 83.7 35.0 84.0 C32.2 84.3 28.1 82.5 25.0 83.0 C21.9 83.5 19.1 85.0 16.7 87.0 C14.3 89.0 11.8 98.0 10.8 94.9 C9.8 91.8 10.7 76.4 10.8 68.4 C11.0 60.5 11.4 52.9 11.7 47.2 C12.0 41.6 11.9 38.2 12.5 34.5 C13.1 30.8 13.2 27.9 15.0 25.0Z" fill="#000"/><path d="M56.7 13.4 C57.5 11.1 60.9 10.5 63.3 10.1 C65.6 9.8 68.1 10.1 70.8 11.2 C73.5 12.3 76.7 14.6 79.2 16.6 C81.7 18.5 84.0 19.9 85.8 22.9 C87.6 25.9 88.9 30.4 90.0 34.5 C91.1 38.5 92.0 42.4 92.5 47.2 C93.0 52.0 92.9 57.8 93.3 63.1 C93.7 68.4 94.6 74.9 95.0 78.9 C95.4 82.9 96.6 86.0 95.8 87.0 C95.0 88.0 92.8 85.8 90.0 85.0 C87.2 84.2 82.4 82.3 79.2 82.0 C76.0 81.7 72.9 83.5 70.8 83.0 C68.7 82.5 66.3 81.0 66.7 78.9 C67.1 76.8 72.2 73.6 73.3 70.5 C74.4 67.3 74.1 63.1 73.3 60.0 C72.5 56.8 70.0 54.2 68.3 51.5 C66.6 48.8 64.7 46.8 63.3 44.0 C61.9 41.2 60.8 37.8 60.0 34.5 C59.2 31.1 58.8 27.5 58.3 24.0 C57.8 20.4 55.9 15.7 56.7 13.4Z" fill="#000"/><path d="M41.7 12.8 C43.4 12.0 48.3 12.8 50.0 14.8 C51.7 16.8 51.7 20.9 51.7 24.7 C51.7 28.5 51.1 35.4 50.0 37.5 C48.9 39.6 46.4 39.1 45.0 37.5 C43.6 35.9 42.5 30.6 41.7 27.7 C40.9 24.8 40.0 22.3 40.0 19.8 C40.0 17.3 40.0 13.6 41.7 12.8Z" fill="#050505"/><path d="M10.8 94.9 C12.2 92.7 14.3 89.0 16.7 87.0 C19.1 85.0 21.9 83.7 25.0 83.0 C28.1 82.3 31.9 82.5 35.0 83.0 C38.0 83.5 40.8 85.0 43.3 86.0 C45.8 87.0 48.2 86.6 50.0 88.9 C51.8 91.2 61.2 98.2 54.2 100.0 C47.2 101.8 15.5 100.8 8.3 100.0 C1.1 99.2 9.4 97.1 10.8 94.9Z" fill="#b4b4b4"/><path d="M43.3 55.3 C44.4 53.2 47.2 52.0 50.0 51.4 C52.8 50.8 57.0 50.8 60.0 51.4 C63.0 52.0 66.1 53.3 68.3 55.3 C70.5 57.3 72.2 60.6 73.3 63.2 C74.4 65.8 75.3 68.5 75.0 71.1 C74.7 73.7 73.7 77.3 71.7 79.0 C69.8 80.7 66.2 80.5 63.3 81.0 C60.4 81.5 56.4 81.3 54.2 82.0 C52.0 82.7 51.8 84.5 50.0 85.0 C48.2 85.5 44.5 86.8 43.3 85.0 C42.0 83.2 42.5 77.6 42.5 74.1 C42.5 70.6 43.2 67.3 43.3 64.2 C43.4 61.1 42.2 57.4 43.3 55.3Z" fill="#a8a8a8"/><ellipse cx="55" cy="33.6" rx="4.4" ry="5.2" fill="#b8b8b8"/><path d="M40 44.5 C48 44 56 45 61.7 46 C63 49 60 51.5 56 51.5 C50 51.5 44 51 40 49.5Z" fill="#a8a8a8"/><circle cx="46.7" cy="42.5" r="3.2" fill="#8a8a8a"/><path d="M34 44 C37 42 40 46 39 52 L36 56 C33 52 32 47 34 44Z" fill="#a8a8a8"/></g><ellipse cx="11.5" cy="36" rx="1.2" ry="2.1" fill="#dcdcdc"/><ellipse cx="10.5" cy="47" rx="1.2" ry="2.1" fill="#dcdcdc"/><ellipse cx="10" cy="58" rx="1.2" ry="2.1" fill="#dcdcdc"/><ellipse cx="10" cy="69" rx="1.2" ry="2.1" fill="#dcdcdc"/><ellipse cx="10" cy="80" rx="1.2" ry="2.1" fill="#dcdcdc"/><ellipse cx="10" cy="91" rx="1.2" ry="2.1" fill="#dcdcdc"/><ellipse cx="14" cy="27" rx="1.2" ry="2.1" fill="#dcdcdc"/><ellipse cx="20" cy="21" rx="1.2" ry="2.1" fill="#dcdcdc"/><ellipse cx="27" cy="16" rx="1.2" ry="2.1" fill="#dcdcdc"/><ellipse cx="93" cy="36" rx="1.2" ry="2.1" fill="#dcdcdc"/><ellipse cx="94" cy="47" rx="1.2" ry="2.1" fill="#dcdcdc"/><ellipse cx="94.5" cy="58" rx="1.2" ry="2.1" fill="#dcdcdc"/><ellipse cx="95" cy="69" rx="1.2" ry="2.1" fill="#dcdcdc"/><ellipse cx="95.5" cy="80" rx="1.2" ry="2.1" fill="#dcdcdc"/><ellipse cx="96" cy="91" rx="1.2" ry="2.1" fill="#dcdcdc"/><ellipse cx="89" cy="27" rx="1.2" ry="2.1" fill="#dcdcdc"/><ellipse cx="83" cy="21" rx="1.2" ry="2.1" fill="#dcdcdc"/><ellipse cx="73" cy="16" rx="1.2" ry="2.1" fill="#dcdcdc"/><ellipse cx="64" cy="12" rx="1.2" ry="2.1" fill="#dcdcdc"/></g></g>
<line x1="625.1" y1="738.3" x2="634" y2="727.8" stroke="#ff1a1a" stroke-width="3.6" stroke-linecap="butt"/>
<line x1="662.5" y1="722.5" x2="672" y2="711.9" stroke="#ff1a1a" stroke-width="3.6" stroke-linecap="butt"/>
<line x1="762.8" y1="741.8" x2="772.1" y2="731.8" stroke="#ff1a1a" stroke-width="3.6" stroke-linecap="butt"/>
<line x1="805.5" y1="709.9" x2="814.1" y2="699.8" stroke="#ff1a1a" stroke-width="3.6" stroke-linecap="butt"/>
<line x1="840.5" y1="742.5" x2="844" y2="730.9" stroke="#ff1a1a" stroke-width="3.6" stroke-linecap="butt"/>
<line x1="901.3" y1="742.5" x2="910" y2="733.1" stroke="#ff1a1a" stroke-width="3.6" stroke-linecap="butt"/>
<line x1="936.3" y1="719.8" x2="944.4" y2="710.6" stroke="#ff1a1a" stroke-width="3.6" stroke-linecap="butt"/>
<line x1="978.1" y1="745.6" x2="981.3" y2="735.6" stroke="#ff1a1a" stroke-width="3.6" stroke-linecap="butt"/>
<line x1="675.9" y1="721.5" x2="681.48" y2="726.27" stroke="#ff1a1a" stroke-width="4.4" /><polygon points="684.9,729.2 678.5,728.99 683.7,722.91" fill="#ff1a1a"/>
<line x1="821.1" y1="711.5" x2="825.1" y2="717.13" stroke="#ff1a1a" stroke-width="4.4" /><polygon points="827.7,720.8 821.54,719.04 828.07,714.41" fill="#ff1a1a"/>
<line x1="955" y1="715.3" x2="959.38" y2="719.86" stroke="#ff1a1a" stroke-width="4.4" /><polygon points="962.5,723.1 956.15,722.27 961.92,716.72" fill="#ff1a1a"/>
<line x1="702.2" y1="751" x2="705.44" y2="743.34" stroke="#ff1a1a" stroke-width="4.4" /><polygon points="707.2,739.2 708.93,745.36 701.57,742.24" fill="#ff1a1a"/>
<text x="682.3" y="830" font-size="14.6" text-anchor="middle" textLength="58" lengthAdjust="spacingAndGlyphs" >Baseline</text>
<text x="822" y="830" font-size="14.6" text-anchor="middle" textLength="26" lengthAdjust="spacingAndGlyphs" >D22</text>
<text x="970.8" y="830" font-size="14.6" text-anchor="middle" textLength="34" lengthAdjust="spacingAndGlyphs" >D106</text>
<text x="1132.5" y="830" font-size="14.6" text-anchor="middle" textLength="34" lengthAdjust="spacingAndGlyphs" >D148</text>
<ellipse cx="654" cy="940.7" rx="16.8" ry="10" fill="#1a1a9a"/><ellipse cx="654.5" cy="933.7" rx="13" ry="8" fill="#1a1a9a"/><path fill="#2020a0" d="M666.8 949.5h.9v.9h-.9zM655.4 925.8h.9v.9h-.9zM637.0 940.5h.9v.9h-.9zM643.1 926.2h.9v.9h-.9zM666.1 945.5h.9v.9h-.9zM662.7 927.0h.9v.9h-.9zM655.1 927.1h.9v.9h-.9zM636.6 944.2h.9v.9h-.9zM656.6 952.9h.9v.9h-.9zM665.9 932.5h.9v.9h-.9zM671.3 942.0h.9v.9h-.9zM669.4 934.6h.9v.9h-.9zM657.5 950.8h.9v.9h-.9zM669.4 942.0h.9v.9h-.9zM638.1 944.4h.9v.9h-.9zM655.7 950.3h.9v.9h-.9zM657.3 951.0h.9v.9h-.9zM650.4 949.3h.9v.9h-.9zM663.2 926.5h.9v.9h-.9zM644.3 929.2h.9v.9h-.9zM673.3 939.4h.9v.9h-.9zM665.8 947.5h.9v.9h-.9zM650.7 923.7h.9v.9h-.9zM669.5 934.2h.9v.9h-.9zM662.8 925.7h.9v.9h-.9zM648.2 951.0h.9v.9h-.9zM668.2 928.4h.9v.9h-.9zM636.3 939.7h.9v.9h-.9zM669.4 942.4h.9v.9h-.9zM658.9 925.6h.9v.9h-.9zM662.2 950.2h.9v.9h-.9zM648.7 924.3h.9v.9h-.9zM642.1 948.0h.9v.9h-.9zM635.2 939.3h.9v.9h-.9zM637.5 938.2h.9v.9h-.9zM639.4 940.8h.9v.9h-.9zM671.7 943.4h.9v.9h-.9zM671.7 938.5h.9v.9h-.9zM641.9 946.4h.9v.9h-.9zM634.0 939.9h.9v.9h-.9zM656.2 924.4h.9v.9h-.9zM664.1 929.2h.9v.9h-.9zM634.3 938.6h.9v.9h-.9zM639.0 932.9h.9v.9h-.9zM651.9 951.5h.9v.9h-.9zM668.0 936.7h.9v.9h-.9zM658.0 923.2h.9v.9h-.9zM668.0 929.1h.9v.9h-.9zM660.3 925.5h.9v.9h-.9zM638.4 934.4h.9v.9h-.9zM672.1 944.5h.9v.9h-.9zM639.9 934.2h.9v.9h-.9zM636.8 939.7h.9v.9h-.9zM643.8 948.5h.9v.9h-.9zM636.6 936.3h.9v.9h-.9zM641.1 930.1h.9v.9h-.9zM669.5 942.0h.9v.9h-.9zM661.8 950.5h.9v.9h-.9zM666.2 927.0h.9v.9h-.9zM659.5 923.6h.9v.9h-.9zM653.4 952.6h.9v.9h-.9zM647.1 928.2h.9v.9h-.9zM668.5 941.2h.9v.9h-.9zM654.6 925.8h.9v.9h-.9zM667.9 947.6h.9v.9h-.9zM645.7 948.2h.9v.9h-.9zM663.4 949.7h.9v.9h-.9zM661.9 949.2h.9v.9h-.9zM649.9 925.1h.9v.9h-.9zM646.5 950.2h.9v.9h-.9zM670.4 941.8h.9v.9h-.9zM640.4 945.0h.9v.9h-.9zM669.1 948.2h.9v.9h-.9zM638.4 939.3h.9v.9h-.9zM639.0 929.5h.9v.9h-.9zM668.4 941.4h.9v.9h-.9zM665.2 949.7h.9v.9h-.9zM663.8 950.3h.9v.9h-.9zM646.4 925.8h.9v.9h-.9zM657.7 952.9h.9v.9h-.9zM659.1 925.1h.9v.9h-.9zM657.0 951.7h.9v.9h-.9zM640.0 947.2h.9v.9h-.9zM646.2 950.7h.9v.9h-.9zM669.0 944.0h.9v.9h-.9zM673.0 936.7h.9v.9h-.9zM647.3 951.9h.9v.9h-.9zM646.7 952.1h.9v.9h-.9zM653.4 924.9h.9v.9h-.9zM653.8 949.6h.9v.9h-.9zM664.6 931.0h.9v.9h-.9zM662.4 923.8h.9v.9h-.9zM640.1 934.2h.9v.9h-.9zM667.4 926.8h.9v.9h-.9zM649.1 925.1h.9v.9h-.9zM642.2 947.6h.9v.9h-.9zM659.0 951.5h.9v.9h-.9zM639.8 944.3h.9v.9h-.9zM668.4 947.4h.9v.9h-.9zM649.1 950.9h.9v.9h-.9zM645.2 951.3h.9v.9h-.9zM665.8 932.4h.9v.9h-.9zM659.0 950.2h.9v.9h-.9zM672.8 938.8h.9v.9h-.9zM645.7 948.8h.9v.9h-.9zM645.2 924.7h.9v.9h-.9zM668.9 934.0h.9v.9h-.9zM667.5 929.0h.9v.9h-.9zM634.1 941.5h.9v.9h-.9zM655.8 952.1h.9v.9h-.9zM667.3 945.3h.9v.9h-.9zM667.3 932.6h.9v.9h-.9zM655.0 924.0h.9v.9h-.9zM662.9 927.5h.9v.9h-.9zM645.4 949.0h.9v.9h-.9zM666.0 928.2h.9v.9h-.9zM672.6 935.2h.9v.9h-.9zM665.6 948.7h.9v.9h-.9zM665.6 946.0h.9v.9h-.9zM671.3 945.7h.9v.9h-.9zM658.5 923.3h.9v.9h-.9zM644.3 949.9h.9v.9h-.9zM657.3 925.4h.9v.9h-.9zM639.8 934.0h.9v.9h-.9zM667.9 945.3h.9v.9h-.9zM667.6 930.0h.9v.9h-.9zM669.2 933.2h.9v.9h-.9zM650.8 952.2h.9v.9h-.9zM660.8 928.5h.9v.9h-.9zM646.8 928.2h.9v.9h-.9zM668.6 948.5h.9v.9h-.9zM669.3 942.7h.9v.9h-.9zM670.8 939.1h.9v.9h-.9zM665.5 946.8h.9v.9h-.9zM655.0 952.2h.9v.9h-.9zM669.6 947.8h.9v.9h-.9zM639.6 949.1h.9v.9h-.9zM667.6 932.3h.9v.9h-.9zM653.6 951.3h.9v.9h-.9zM668.6 947.1h.9v.9h-.9zM668.1 942.5h.9v.9h-.9zM670.0 938.6h.9v.9h-.9zM640.1 931.4h.9v.9h-.9zM648.3 949.0h.9v.9h-.9zM671.0 930.8h.9v.9h-.9zM668.8 937.6h.9v.9h-.9zM657.9 951.5h.9v.9h-.9zM671.4 938.2h.9v.9h-.9zM647.1 924.9h.9v.9h-.9zM653.0 951.5h.9v.9h-.9zM648.4 949.8h.9v.9h-.9zM668.0 945.3h.9v.9h-.9zM670.9 938.6h.9v.9h-.9zM643.6 926.8h.9v.9h-.9zM669.5 934.7h.9v.9h-.9zM648.3 950.1h.9v.9h-.9zM646.2 951.5h.9v.9h-.9zM666.7 931.1h.9v.9h-.9zM645.2 950.0h.9v.9h-.9zM638.4 932.5h.9v.9h-.9zM654.4 949.6h.9v.9h-.9zM654.6 949.8h.9v.9h-.9zM639.9 935.9h.9v.9h-.9zM670.0 945.5h.9v.9h-.9zM649.2 952.0h.9v.9h-.9zM634.7 940.7h.9v.9h-.9zM663.8 949.4h.9v.9h-.9zM658.2 927.2h.9v.9h-.9zM668.6 935.8h.9v.9h-.9zM657.3 922.2h.9v.9h-.9zM661.1 926.9h.9v.9h-.9zM667.6 947.2h.9v.9h-.9zM668.1 933.1h.9v.9h-.9zM666.0 931.6h.9v.9h-.9zM666.4 933.1h.9v.9h-.9zM646.1 951.8h.9v.9h-.9zM660.5 923.4h.9v.9h-.9zM664.1 925.9h.9v.9h-.9zM648.3 927.1h.9v.9h-.9zM640.0 944.3h.9v.9h-.9zM650.0 924.0h.9v.9h-.9zM653.8 949.8h.9v.9h-.9zM672.5 936.3h.9v.9h-.9zM637.3 935.3h.9v.9h-.9zM664.1 927.7h.9v.9h-.9zM641.0 946.6h.9v.9h-.9zM653.3 949.6h.9v.9h-.9zM643.8 928.0h.9v.9h-.9zM640.6 934.4h.9v.9h-.9zM644.7 948.0h.9v.9h-.9zM665.2 947.5h.9v.9h-.9zM661.9 926.8h.9v.9h-.9zM639.5 946.9h.9v.9h-.9zM655.5 949.5h.9v.9h-.9zM637.0 937.4h.9v.9h-.9zM644.0 927.8h.9v.9h-.9zM646.8 924.6h.9v.9h-.9zM655.3 951.3h.9v.9h-.9zM638.4 941.5h.9v.9h-.9zM639.0 946.2h.9v.9h-.9zM670.3 930.3h.9v.9h-.9zM651.1 951.7h.9v.9h-.9zM668.2 943.1h.9v.9h-.9zM634.7 938.9h.9v.9h-.9zM664.1 950.4h.9v.9h-.9zM666.0 930.3h.9v.9h-.9zM647.2 923.8h.9v.9h-.9zM641.3 948.8h.9v.9h-.9zM652.5 924.0h.9v.9h-.9zM666.1 926.3h.9v.9h-.9zM671.1 936.2h.9v.9h-.9zM661.1 949.4h.9v.9h-.9zM657.6 951.4h.9v.9h-.9zM654.7 926.8h.9v.9h-.9zM646.3 924.9h.9v.9h-.9zM644.0 949.4h.9v.9h-.9zM663.5 950.5h.9v.9h-.9zM673.3 943.5h.9v.9h-.9zM660.4 924.9h.9v.9h-.9zM651.8 952.8h.9v.9h-.9zM668.7 936.7h.9v.9h-.9zM657.1 922.9h.9v.9h-.9zM644.1 926.1h.9v.9h-.9zM635.5 944.5h.9v.9h-.9zM670.3 937.5h.9v.9h-.9zM659.5 925.6h.9v.9h-.9zM662.3 949.3h.9v.9h-.9zM667.7 949.2h.9v.9h-.9zM668.6 936.7h.9v.9h-.9zM640.5 931.2h.9v.9h-.9zM665.9 947.2h.9v.9h-.9zM654.2 952.3h.9v.9h-.9zM669.5 940.5h.9v.9h-.9zM640.5 943.7h.9v.9h-.9zM641.6 928.5h.9v.9h-.9zM662.0 928.0h.9v.9h-.9zM650.2 951.2h.9v.9h-.9zM651.4 951.6h.9v.9h-.9zM653.9 952.0h.9v.9h-.9zM658.8 923.5h.9v.9h-.9zM671.3 937.6h.9v.9h-.9zM634.8 940.9h.9v.9h-.9zM656.1 924.2h.9v.9h-.9zM642.1 947.2h.9v.9h-.9zM668.8 947.9h.9v.9h-.9zM667.7 948.4h.9v.9h-.9zM634.9 935.1h.9v.9h-.9zM655.4 922.1h.9v.9h-.9zM665.3 948.6h.9v.9h-.9zM639.5 933.7h.9v.9h-.9zM637.6 939.9h.9v.9h-.9zM639.8 937.9h.9v.9h-.9zM638.1 944.1h.9v.9h-.9zM648.4 950.4h.9v.9h-.9zM657.8 923.9h.9v.9h-.9zM635.9 940.8h.9v.9h-.9zM642.8 947.2h.9v.9h-.9zM670.0 940.5h.9v.9h-.9zM638.2 930.0h.9v.9h-.9zM662.3 926.3h.9v.9h-.9zM671.0 938.9h.9v.9h-.9zM662.5 927.0h.9v.9h-.9zM653.3 922.0h.9v.9h-.9zM648.8 949.6h.9v.9h-.9zM641.3 929.3h.9v.9h-.9zM644.8 947.4h.9v.9h-.9zM641.1 947.2h.9v.9h-.9zM638.0 947.2h.9v.9h-.9zM638.0 931.6h.9v.9h-.9zM668.9 930.0h.9v.9h-.9zM635.4 940.8h.9v.9h-.9zM642.5 927.5h.9v.9h-.9zM642.5 929.1h.9v.9h-.9zM641.6 928.3h.9v.9h-.9zM671.4 933.6h.9v.9h-.9zM664.7 926.1h.9v.9h-.9zM661.1 925.3h.9v.9h-.9zM644.7 948.6h.9v.9h-.9zM649.0 923.2h.9v.9h-.9zM639.3 936.4h.9v.9h-.9zM662.6 926.6h.9v.9h-.9zM639.6 942.2h.9v.9h-.9zM635.4 939.1h.9v.9h-.9zM639.5 945.2h.9v.9h-.9zM646.0 929.1h.9v.9h-.9zM634.3 939.4h.9v.9h-.9zM647.9 926.0h.9v.9h-.9zM647.3 925.1h.9v.9h-.9zM658.0 950.0h.9v.9h-.9zM666.0 930.6h.9v.9h-.9zM671.0 945.8h.9v.9h-.9zM637.7 938.0h.9v.9h-.9zM635.5 939.0h.9v.9h-.9zM662.9 950.4h.9v.9h-.9zM649.7 923.3h.9v.9h-.9zM651.8 951.7h.9v.9h-.9zM656.0 951.5h.9v.9h-.9zM662.8 951.0h.9v.9h-.9zM664.9 929.2h.9v.9h-.9zM657.4 952.9h.9v.9h-.9zM648.8 923.4h.9v.9h-.9zM673.1 942.6h.9v.9h-.9zM642.3 929.9h.9v.9h-.9zM637.0 945.2h.9v.9h-.9zM657.4 926.4h.9v.9h-.9zM643.2 930.2h.9v.9h-.9zM670.7 937.6h.9v.9h-.9zM669.8 931.4h.9v.9h-.9zM641.5 931.2h.9v.9h-.9zM639.0 937.9h.9v.9h-.9zM665.9 949.3h.9v.9h-.9zM642.0 949.5h.9v.9h-.9zM655.1 952.1h.9v.9h-.9zM650.8 925.8h.9v.9h-.9zM667.1 946.9h.9v.9h-.9zM639.0 940.7h.9v.9h-.9zM659.7 949.0h.9v.9h-.9zM638.1 930.0h.9v.9h-.9zM657.1 949.5h.9v.9h-.9zM648.6 923.6h.9v.9h-.9zM671.4 936.6h.9v.9h-.9zM643.5 950.6h.9v.9h-.9zM667.5 948.2h.9v.9h-.9zM667.8 946.3h.9v.9h-.9zM637.4 940.5h.9v.9h-.9zM661.7 949.1h.9v.9h-.9zM661.3 926.1h.9v.9h-.9zM640.3 933.3h.9v.9h-.9zM650.4 925.7h.9v.9h-.9zM637.7 930.3h.9v.9h-.9zM668.7 939.7h.9v.9h-.9zM659.7 923.4h.9v.9h-.9zM647.0 949.9h.9v.9h-.9zM636.8 931.6h.9v.9h-.9zM638.3 947.6h.9v.9h-.9zM654.8 926.3h.9v.9h-.9zM666.4 933.4h.9v.9h-.9zM665.1 949.5h.9v.9h-.9zM669.5 944.0h.9v.9h-.9zM665.7 948.2h.9v.9h-.9zM664.5 925.2h.9v.9h-.9zM668.4 942.3h.9v.9h-.9zM661.9 928.9h.9v.9h-.9zM651.8 949.9h.9v.9h-.9zM666.3 945.3h.9v.9h-.9zM641.9 927.3h.9v.9h-.9zM646.6 924.1h.9v.9h-.9zM645.4 927.2h.9v.9h-.9zM640.5 926.9h.9v.9h-.9zM644.0 929.0h.9v.9h-.9zM672.3 944.9h.9v.9h-.9zM640.2 932.1h.9v.9h-.9zM640.1 930.3h.9v.9h-.9zM639.4 938.3h.9v.9h-.9zM643.9 948.8h.9v.9h-.9zM660.1 952.1h.9v.9h-.9zM637.9 945.6h.9v.9h-.9zM649.8 923.7h.9v.9h-.9zM650.6 923.5h.9v.9h-.9zM653.8 953.1h.9v.9h-.9zM665.4 950.5h.9v.9h-.9zM665.7 926.3h.9v.9h-.9zM668.1 943.4h.9v.9h-.9zM660.6 925.8h.9v.9h-.9zM640.3 949.6h.9v.9h-.9zM670.9 943.0h.9v.9h-.9zM639.8 943.6h.9v.9h-.9zM639.4 947.5h.9v.9h-.9zM664.8 931.2h.9v.9h-.9zM639.2 938.1h.9v.9h-.9zM658.6 927.3h.9v.9h-.9zM670.2 942.5h.9v.9h-.9zM652.2 925.5h.9v.9h-.9zM666.9 949.1h.9v.9h-.9zM660.7 923.8h.9v.9h-.9zM648.4 950.5h.9v.9h-.9zM654.5 951.6h.9v.9h-.9zM646.1 949.5h.9v.9h-.9zM658.2 922.5h.9v.9h-.9zM641.0 933.3h.9v.9h-.9zM644.3 927.5h.9v.9h-.9zM672.4 938.9h.9v.9h-.9zM663.3 925.8h.9v.9h-.9zM635.0 936.3h.9v.9h-.9zM661.9 927.4h.9v.9h-.9zM663.1 949.1h.9v.9h-.9zM639.1 938.4h.9v.9h-.9zM644.0 949.6h.9v.9h-.9zM672.3 943.5h.9v.9h-.9zM644.6 928.2h.9v.9h-.9zM649.1 950.3h.9v.9h-.9zM645.5 950.9h.9v.9h-.9zM636.6 940.1h.9v.9h-.9zM665.6 950.4h.9v.9h-.9zM646.6 949.6h.9v.9h-.9zM672.1 945.6h.9v.9h-.9zM634.6 941.8h.9v.9h-.9zM671.9 932.2h.9v.9h-.9zM661.9 923.8h.9v.9h-.9zM670.7 932.1h.9v.9h-.9zM665.5 948.6h.9v.9h-.9zM636.2 931.9h.9v.9h-.9zM657.9 923.8h.9v.9h-.9zM653.7 925.2h.9v.9h-.9zM670.9 934.4h.9v.9h-.9zM640.0 946.5h.9v.9h-.9zM671.3 938.2h.9v.9h-.9zM661.5 948.8h.9v.9h-.9zM647.2 925.4h.9v.9h-.9zM666.9 932.4h.9v.9h-.9zM638.3 946.6h.9v.9h-.9zM668.3 943.2h.9v.9h-.9zM638.7 936.1h.9v.9h-.9zM666.5 946.6h.9v.9h-.9zM642.3 928.5h.9v.9h-.9zM667.1 944.8h.9v.9h-.9zM664.7 926.9h.9v.9h-.9zM662.9 951.3h.9v.9h-.9zM670.4 941.7h.9v.9h-.9zM664.6 926.5h.9v.9h-.9zM649.9 952.5h.9v.9h-.9zM638.2 930.0h.9v.9h-.9zM667.2 930.6h.9v.9h-.9zM646.1 926.0h.9v.9h-.9zM671.8 934.3h.9v.9h-.9zM651.1 923.1h.9v.9h-.9zM669.9 940.0h.9v.9h-.9zM659.6 951.7h.9v.9h-.9zM656.2 924.5h.9v.9h-.9zM637.3 941.1h.9v.9h-.9zM668.0 928.6h.9v.9h-.9zM641.3 933.4h.9v.9h-.9zM664.1 927.7h.9v.9h-.9zM660.0 949.9h.9v.9h-.9zM648.8 927.9h.9v.9h-.9zM665.8 947.4h.9v.9h-.9zM668.2 929.1h.9v.9h-.9zM671.2 937.3h.9v.9h-.9zM638.2 933.2h.9v.9h-.9zM636.7 937.6h.9v.9h-.9zM662.3 923.8h.9v.9h-.9zM638.9 946.5h.9v.9h-.9zM648.3 950.0h.9v.9h-.9zM636.3 939.6h.9v.9h-.9zM635.0 934.6h.9v.9h-.9zM663.4 950.2h.9v.9h-.9zM672.6 939.6h.9v.9h-.9zM638.9 934.1h.9v.9h-.9zM637.9 947.6h.9v.9h-.9zM668.4 930.1h.9v.9h-.9zM669.8 929.6h.9v.9h-.9zM663.4 927.8h.9v.9h-.9zM635.6 942.9h.9v.9h-.9zM641.0 948.9h.9v.9h-.9zM637.8 941.4h.9v.9h-.9zM639.5 942.9h.9v.9h-.9zM643.8 948.8h.9v.9h-.9zM669.3 941.3h.9v.9h-.9zM652.8 952.6h.9v.9h-.9zM640.4 932.4h.9v.9h-.9zM669.9 940.0h.9v.9h-.9zM635.5 938.7h.9v.9h-.9zM647.9 925.8h.9v.9h-.9zM656.9 924.8h.9v.9h-.9zM650.3 924.9h.9v.9h-.9zM672.2 937.2h.9v.9h-.9zM666.7 945.5h.9v.9h-.9zM669.4 937.2h.9v.9h-.9zM669.7 941.9h.9v.9h-.9zM634.4 941.8h.9v.9h-.9zM639.1 947.3h.9v.9h-.9zM661.6 928.4h.9v.9h-.9zM638.7 928.4h.9v.9h-.9zM637.4 935.3h.9v.9h-.9zM642.7 950.7h.9v.9h-.9zM668.8 937.6h.9v.9h-.9zM638.1 935.2h.9v.9h-.9zM646.9 928.1h.9v.9h-.9zM652.5 950.5h.9v.9h-.9zM635.3 941.8h.9v.9h-.9zM665.8 926.8h.9v.9h-.9zM647.4 928.0h.9v.9h-.9zM640.0 947.7h.9v.9h-.9zM649.3 951.0h.9v.9h-.9zM666.5 932.5h.9v.9h-.9zM663.1 929.3h.9v.9h-.9zM639.2 948.5h.9v.9h-.9zM659.2 950.9h.9v.9h-.9zM637.2 946.5h.9v.9h-.9zM670.0 939.5h.9v.9h-.9zM634.6 940.8h.9v.9h-.9zM639.0 936.2h.9v.9h-.9zM655.0 925.3h.9v.9h-.9zM639.6 941.0h.9v.9h-.9zM672.1 939.1h.9v.9h-.9zM671.8 932.1h.9v.9h-.9zM652.1 951.4h.9v.9h-.9zM636.6 944.6h.9v.9h-.9zM662.6 928.2h.9v.9h-.9zM651.2 952.0h.9v.9h-.9zM641.1 945.4h.9v.9h-.9zM659.9 950.9h.9v.9h-.9zM637.8 929.7h.9v.9h-.9zM636.5 936.9h.9v.9h-.9zM664.0 948.9h.9v.9h-.9zM650.6 951.9h.9v.9h-.9zM652.3 950.3h.9v.9h-.9zM642.5 948.4h.9v.9h-.9zM644.6 950.0h.9v.9h-.9zM662.1 951.6h.9v.9h-.9zM648.0 925.3h.9v.9h-.9zM669.2 944.0h.9v.9h-.9zM647.4 924.9h.9v.9h-.9zM661.4 923.8h.9v.9h-.9zM647.1 950.4h.9v.9h-.9zM646.7 948.8h.9v.9h-.9zM664.1 948.1h.9v.9h-.9zM668.9 946.1h.9v.9h-.9zM648.9 924.8h.9v.9h-.9zM647.7 927.1h.9v.9h-.9zM653.9 921.8h.9v.9h-.9zM696.3 911.9h.9v.9h-.9zM641.8 884.6h.9v.9h-.9zM660.4 925.0h.9v.9h-.9zM646.7 898.5h.9v.9h-.9zM683.7 950.2h.9v.9h-.9zM662.6 924.1h.9v.9h-.9zM673.6 884.8h.9v.9h-.9zM661.9 892.7h.9v.9h-.9zM657.1 935.6h.9v.9h-.9zM683.7 886.0h.9v.9h-.9zM646.3 932.5h.9v.9h-.9zM647.9 904.8h.9v.9h-.9zM658.2 886.6h.9v.9h-.9zM643.4 892.7h.9v.9h-.9zM666.3 946.7h.9v.9h-.9zM681.1 899.7h.9v.9h-.9zM683.6 901.8h.9v.9h-.9zM673.4 905.1h.9v.9h-.9zM700.3 907.2h.9v.9h-.9zM691.3 926.8h.9v.9h-.9zM693.8 924.4h.9v.9h-.9zM695.5 910.8h.9v.9h-.9zM683.6 925.4h.9v.9h-.9zM674.2 921.6h.9v.9h-.9zM674.7 910.0h.9v.9h-.9zM697.2 926.2h.9v.9h-.9zM675.5 886.9h.9v.9h-.9zM673.0 895.1h.9v.9h-.9zM654.8 912.8h.9v.9h-.9z"/><ellipse cx="653.5" cy="941.2" rx="14.4" ry="6.7" fill="#1848f0"/><ellipse cx="653.5" cy="941.2" rx="13.2" ry="6.1" fill="#10c0f0"/><ellipse cx="653.5" cy="941.2" rx="11.8" ry="5.4" fill="#30dc40"/><ellipse cx="653.5" cy="941.2" rx="9.8" ry="4.6" fill="#f0ea10"/><ellipse cx="653.5" cy="941.2" rx="7.9" ry="3.8" fill="#ff8c10"/><ellipse cx="653.5" cy="941.2" rx="5.9" ry="2.9" fill="#ff2810"/><polygon points="668.3,905.9 678.7,889.5 683.3,887.5 702.5,881.2 706.3,889.7 689.2,913.5 678.3,924.3 670.7,922.0" fill="none" stroke="#ff3030" stroke-width="0.8"/><line x1="626.7" y1="846.5" x2="626.7" y2="968.5" stroke="#000" stroke-width="1.6" /><line x1="625.7" y1="967.5" x2="740" y2="967.5" stroke="#000" stroke-width="1.6" /><line x1="623.5" y1="886.5" x2="626.7" y2="886.5" stroke="#000" stroke-width="0.7" /><line x1="624.9" y1="878.22" x2="626.7" y2="878.22" stroke="#000" stroke-width="0.7" /><line x1="624.9" y1="873.38" x2="626.7" y2="873.38" stroke="#000" stroke-width="0.7" /><line x1="624.9" y1="869.94" x2="626.7" y2="869.94" stroke="#000" stroke-width="0.7" /><line x1="624.9" y1="867.28" x2="626.7" y2="867.28" stroke="#000" stroke-width="0.7" /><line x1="624.9" y1="865.1" x2="626.7" y2="865.1" stroke="#000" stroke-width="0.7" /><line x1="624.9" y1="863.26" x2="626.7" y2="863.26" stroke="#000" stroke-width="0.7" /><line x1="624.9" y1="861.67" x2="626.7" y2="861.67" stroke="#000" stroke-width="0.7" /><line x1="624.9" y1="860.26" x2="626.7" y2="860.26" stroke="#000" stroke-width="0.7" /><line x1="623.5" y1="914.2" x2="626.7" y2="914.2" stroke="#000" stroke-width="0.7" /><line x1="624.9" y1="905.92" x2="626.7" y2="905.92" stroke="#000" stroke-width="0.7" /><line x1="624.9" y1="901.08" x2="626.7" y2="901.08" stroke="#000" stroke-width="0.7" /><line x1="624.9" y1="897.64" x2="626.7" y2="897.64" stroke="#000" stroke-width="0.7" /><line x1="624.9" y1="894.98" x2="626.7" y2="894.98" stroke="#000" stroke-width="0.7" /><line x1="624.9" y1="892.8" x2="626.7" y2="892.8" stroke="#000" stroke-width="0.7" /><line x1="624.9" y1="890.96" x2="626.7" y2="890.96" stroke="#000" stroke-width="0.7" /><line x1="624.9" y1="889.37" x2="626.7" y2="889.37" stroke="#000" stroke-width="0.7" /><line x1="624.9" y1="887.96" x2="626.7" y2="887.96" stroke="#000" stroke-width="0.7" /><line x1="623.5" y1="941.5" x2="626.7" y2="941.5" stroke="#000" stroke-width="0.7" /><line x1="624.9" y1="933.22" x2="626.7" y2="933.22" stroke="#000" stroke-width="0.7" /><line x1="624.9" y1="928.38" x2="626.7" y2="928.38" stroke="#000" stroke-width="0.7" /><line x1="624.9" y1="924.94" x2="626.7" y2="924.94" stroke="#000" stroke-width="0.7" /><line x1="624.9" y1="922.28" x2="626.7" y2="922.28" stroke="#000" stroke-width="0.7" /><line x1="624.9" y1="920.1" x2="626.7" y2="920.1" stroke="#000" stroke-width="0.7" /><line x1="624.9" y1="918.26" x2="626.7" y2="918.26" stroke="#000" stroke-width="0.7" /><line x1="624.9" y1="916.67" x2="626.7" y2="916.67" stroke="#000" stroke-width="0.7" /><line x1="624.9" y1="915.26" x2="626.7" y2="915.26" stroke="#000" stroke-width="0.7" /><line x1="675" y1="967.5" x2="675" y2="970.7" stroke="#000" stroke-width="0.7" /><line x1="683.28" y1="967.5" x2="683.28" y2="969.3" stroke="#000" stroke-width="0.7" /><line x1="688.12" y1="967.5" x2="688.12" y2="969.3" stroke="#000" stroke-width="0.7" /><line x1="691.56" y1="967.5" x2="691.56" y2="969.3" stroke="#000" stroke-width="0.7" /><line x1="694.22" y1="967.5" x2="694.22" y2="969.3" stroke="#000" stroke-width="0.7" /><line x1="696.4" y1="967.5" x2="696.4" y2="969.3" stroke="#000" stroke-width="0.7" /><line x1="698.24" y1="967.5" x2="698.24" y2="969.3" stroke="#000" stroke-width="0.7" /><line x1="699.83" y1="967.5" x2="699.83" y2="969.3" stroke="#000" stroke-width="0.7" /><line x1="701.24" y1="967.5" x2="701.24" y2="969.3" stroke="#000" stroke-width="0.7" /><line x1="702.5" y1="967.5" x2="702.5" y2="970.7" stroke="#000" stroke-width="0.7" /><line x1="710.78" y1="967.5" x2="710.78" y2="969.3" stroke="#000" stroke-width="0.7" /><line x1="715.62" y1="967.5" x2="715.62" y2="969.3" stroke="#000" stroke-width="0.7" /><line x1="719.06" y1="967.5" x2="719.06" y2="969.3" stroke="#000" stroke-width="0.7" /><line x1="721.72" y1="967.5" x2="721.72" y2="969.3" stroke="#000" stroke-width="0.7" /><line x1="723.9" y1="967.5" x2="723.9" y2="969.3" stroke="#000" stroke-width="0.7" /><line x1="725.74" y1="967.5" x2="725.74" y2="969.3" stroke="#000" stroke-width="0.7" /><line x1="727.33" y1="967.5" x2="727.33" y2="969.3" stroke="#000" stroke-width="0.7" /><line x1="728.74" y1="967.5" x2="728.74" y2="969.3" stroke="#000" stroke-width="0.7" /><line x1="730.8" y1="967.5" x2="730.8" y2="970.7" stroke="#000" stroke-width="0.7" /><line x1="624.9" y1="937.5" x2="626.7" y2="937.5" stroke="#000" stroke-width="0.7" /><line x1="624.9" y1="944.5" x2="626.7" y2="944.5" stroke="#000" stroke-width="0.7" /><line x1="624.9" y1="951.5" x2="626.7" y2="951.5" stroke="#000" stroke-width="0.7" /><line x1="624.9" y1="958.5" x2="626.7" y2="958.5" stroke="#000" stroke-width="0.7" /><rect x="623.2" y="939.5" width="3.5" height="4" fill="#000" /><rect x="650.7" y="967.5" width="5" height="2.5" fill="#000" /><text x="613.5" y="863.3" font-size="12" text-anchor="end">10</text><text x="613.9" y="857.5" font-size="7.5">5</text><text x="613.5" y="891" font-size="12" text-anchor="end">10</text><text x="613.9" y="885.2" font-size="7.5">4</text><text x="613.5" y="918.3" font-size="12" text-anchor="end">10</text><text x="613.9" y="912.5" font-size="7.5">3</text><text x="613.5" y="946.8" font-size="12" text-anchor="end">−10</text><text x="613.9" y="941" font-size="7.5">2</text><text x="642.5" y="986.7" font-size="12" text-anchor="middle">−10</text><text x="652.2" y="980.5" font-size="7.5">2</text><text x="673.5" y="986.7" font-size="12" text-anchor="middle">10</text><text x="679.95" y="980.5" font-size="7.5">3</text><text x="701" y="986.7" font-size="12" text-anchor="middle">10</text><text x="707.45" y="980.5" font-size="7.5">4</text><text x="729.3" y="986.7" font-size="12" text-anchor="middle">10</text><text x="735.75" y="980.5" font-size="7.5">5</text><text x="689.5" y="867.9" font-size="14.2" text-anchor="middle" textLength="45.1" lengthAdjust="spacingAndGlyphs" >0.00%</text>
<ellipse cx="799" cy="940.4" rx="16.8" ry="10" fill="#1a1a9a"/><ellipse cx="799.5" cy="933.4" rx="13" ry="8" fill="#1a1a9a"/><path fill="#2020a0" d="M818.0 935.0h.9v.9h-.9zM813.0 943.3h.9v.9h-.9zM808.5 925.3h.9v.9h-.9zM791.2 927.0h.9v.9h-.9zM785.0 929.8h.9v.9h-.9zM785.6 933.1h.9v.9h-.9zM783.9 944.4h.9v.9h-.9zM795.6 921.9h.9v.9h-.9zM815.6 934.9h.9v.9h-.9zM784.0 943.4h.9v.9h-.9zM813.2 942.0h.9v.9h-.9zM783.2 942.2h.9v.9h-.9zM784.8 948.5h.9v.9h-.9zM781.6 937.3h.9v.9h-.9zM800.3 949.3h.9v.9h-.9zM792.1 948.7h.9v.9h-.9zM779.0 938.7h.9v.9h-.9zM791.9 927.4h.9v.9h-.9zM813.8 929.2h.9v.9h-.9zM797.1 922.2h.9v.9h-.9zM800.5 922.7h.9v.9h-.9zM786.9 950.2h.9v.9h-.9zM813.9 936.6h.9v.9h-.9zM799.5 923.1h.9v.9h-.9zM782.1 942.6h.9v.9h-.9zM779.4 940.7h.9v.9h-.9zM779.9 939.8h.9v.9h-.9zM787.2 949.9h.9v.9h-.9zM812.8 930.7h.9v.9h-.9zM781.1 932.5h.9v.9h-.9zM796.2 924.4h.9v.9h-.9zM801.9 950.3h.9v.9h-.9zM794.2 926.6h.9v.9h-.9zM812.4 931.9h.9v.9h-.9zM812.7 932.1h.9v.9h-.9zM816.8 935.5h.9v.9h-.9zM781.7 939.5h.9v.9h-.9zM788.7 926.7h.9v.9h-.9zM793.1 949.3h.9v.9h-.9zM779.4 938.6h.9v.9h-.9zM788.4 930.4h.9v.9h-.9zM806.9 924.6h.9v.9h-.9zM812.0 932.1h.9v.9h-.9zM798.5 926.4h.9v.9h-.9zM789.8 928.0h.9v.9h-.9zM801.8 952.3h.9v.9h-.9zM812.6 946.9h.9v.9h-.9zM808.6 928.4h.9v.9h-.9zM803.8 952.1h.9v.9h-.9zM782.7 945.5h.9v.9h-.9zM815.2 942.0h.9v.9h-.9zM807.6 950.3h.9v.9h-.9zM816.2 946.3h.9v.9h-.9zM817.3 941.8h.9v.9h-.9zM814.7 941.3h.9v.9h-.9zM804.9 927.0h.9v.9h-.9zM806.4 950.7h.9v.9h-.9zM787.9 946.2h.9v.9h-.9zM814.3 939.0h.9v.9h-.9zM815.0 942.3h.9v.9h-.9zM785.1 928.7h.9v.9h-.9zM811.4 946.8h.9v.9h-.9zM815.6 942.0h.9v.9h-.9zM800.9 923.0h.9v.9h-.9zM814.3 930.1h.9v.9h-.9zM810.9 927.1h.9v.9h-.9zM783.5 941.6h.9v.9h-.9zM790.4 927.4h.9v.9h-.9zM812.6 946.5h.9v.9h-.9zM809.7 930.1h.9v.9h-.9zM784.7 932.2h.9v.9h-.9zM783.8 938.6h.9v.9h-.9zM814.4 936.3h.9v.9h-.9zM785.8 930.4h.9v.9h-.9zM816.5 941.2h.9v.9h-.9zM808.4 947.3h.9v.9h-.9zM814.0 942.0h.9v.9h-.9zM813.8 946.5h.9v.9h-.9zM779.1 939.0h.9v.9h-.9zM817.3 932.6h.9v.9h-.9zM800.9 950.8h.9v.9h-.9zM798.9 951.4h.9v.9h-.9zM785.5 927.8h.9v.9h-.9zM795.0 925.9h.9v.9h-.9zM783.6 945.1h.9v.9h-.9zM813.6 940.2h.9v.9h-.9zM786.3 945.2h.9v.9h-.9zM796.4 925.7h.9v.9h-.9zM811.5 945.8h.9v.9h-.9zM800.8 950.0h.9v.9h-.9zM782.1 937.9h.9v.9h-.9zM792.4 950.8h.9v.9h-.9zM803.6 952.2h.9v.9h-.9zM817.0 936.0h.9v.9h-.9zM783.2 944.4h.9v.9h-.9zM786.1 933.3h.9v.9h-.9zM783.9 945.4h.9v.9h-.9zM805.3 948.7h.9v.9h-.9zM804.4 925.7h.9v.9h-.9zM779.5 937.7h.9v.9h-.9zM786.6 930.5h.9v.9h-.9zM815.4 938.3h.9v.9h-.9zM817.2 941.3h.9v.9h-.9zM812.0 946.1h.9v.9h-.9zM808.8 925.9h.9v.9h-.9zM815.9 941.0h.9v.9h-.9zM784.5 945.8h.9v.9h-.9zM803.6 951.0h.9v.9h-.9zM813.4 944.5h.9v.9h-.9zM785.3 949.0h.9v.9h-.9zM815.6 945.5h.9v.9h-.9zM805.3 950.6h.9v.9h-.9zM785.7 946.8h.9v.9h-.9zM799.4 924.7h.9v.9h-.9zM809.9 946.7h.9v.9h-.9zM815.8 945.9h.9v.9h-.9zM786.5 925.9h.9v.9h-.9zM793.9 927.5h.9v.9h-.9zM788.8 925.5h.9v.9h-.9zM796.1 924.4h.9v.9h-.9zM788.4 948.5h.9v.9h-.9zM803.8 926.0h.9v.9h-.9zM782.1 937.3h.9v.9h-.9zM817.2 935.0h.9v.9h-.9zM816.4 932.7h.9v.9h-.9zM794.4 949.7h.9v.9h-.9zM783.1 940.6h.9v.9h-.9zM782.6 945.1h.9v.9h-.9zM814.5 932.0h.9v.9h-.9zM805.2 927.5h.9v.9h-.9zM786.6 950.1h.9v.9h-.9zM809.2 948.5h.9v.9h-.9zM812.6 943.8h.9v.9h-.9zM814.8 928.8h.9v.9h-.9zM789.9 928.8h.9v.9h-.9zM794.5 949.7h.9v.9h-.9zM790.3 925.3h.9v.9h-.9zM782.9 944.1h.9v.9h-.9zM812.3 947.2h.9v.9h-.9zM816.8 934.6h.9v.9h-.9zM813.3 946.3h.9v.9h-.9zM795.6 925.8h.9v.9h-.9zM812.5 930.4h.9v.9h-.9zM794.2 925.3h.9v.9h-.9zM817.8 939.4h.9v.9h-.9zM785.3 933.7h.9v.9h-.9zM785.4 943.3h.9v.9h-.9zM783.0 929.9h.9v.9h-.9zM806.3 950.0h.9v.9h-.9zM782.4 941.1h.9v.9h-.9zM794.2 922.5h.9v.9h-.9zM794.3 924.9h.9v.9h-.9zM814.8 936.4h.9v.9h-.9zM798.5 923.4h.9v.9h-.9zM800.4 922.4h.9v.9h-.9zM801.8 951.4h.9v.9h-.9zM784.1 946.7h.9v.9h-.9zM816.8 937.6h.9v.9h-.9zM816.0 940.7h.9v.9h-.9zM794.4 922.7h.9v.9h-.9zM787.8 925.9h.9v.9h-.9zM818.6 941.3h.9v.9h-.9zM796.7 923.8h.9v.9h-.9zM815.1 930.0h.9v.9h-.9zM814.4 947.2h.9v.9h-.9zM800.7 925.8h.9v.9h-.9zM798.4 923.7h.9v.9h-.9zM805.8 951.3h.9v.9h-.9zM810.6 948.7h.9v.9h-.9zM784.5 944.0h.9v.9h-.9zM783.4 933.6h.9v.9h-.9zM804.5 952.2h.9v.9h-.9zM812.0 944.0h.9v.9h-.9zM779.9 941.0h.9v.9h-.9zM788.8 925.6h.9v.9h-.9zM780.8 941.0h.9v.9h-.9zM790.9 948.8h.9v.9h-.9zM784.4 939.7h.9v.9h-.9zM815.4 945.7h.9v.9h-.9zM807.6 950.6h.9v.9h-.9zM802.6 925.0h.9v.9h-.9zM790.4 924.6h.9v.9h-.9zM809.0 929.4h.9v.9h-.9zM807.7 949.1h.9v.9h-.9zM783.3 942.2h.9v.9h-.9zM816.5 940.6h.9v.9h-.9zM815.2 936.8h.9v.9h-.9zM782.9 936.3h.9v.9h-.9zM780.9 944.3h.9v.9h-.9zM792.5 950.8h.9v.9h-.9zM781.6 941.0h.9v.9h-.9zM811.8 933.0h.9v.9h-.9zM806.3 926.7h.9v.9h-.9zM787.5 926.2h.9v.9h-.9zM789.5 927.4h.9v.9h-.9zM807.1 928.4h.9v.9h-.9zM787.9 928.6h.9v.9h-.9zM780.1 936.6h.9v.9h-.9zM804.3 924.2h.9v.9h-.9zM793.4 949.4h.9v.9h-.9zM783.8 942.6h.9v.9h-.9zM795.6 952.5h.9v.9h-.9zM813.5 947.9h.9v.9h-.9zM787.0 947.2h.9v.9h-.9zM792.8 948.7h.9v.9h-.9zM784.2 942.5h.9v.9h-.9zM784.0 943.6h.9v.9h-.9zM814.5 928.9h.9v.9h-.9zM782.1 944.1h.9v.9h-.9zM813.7 933.5h.9v.9h-.9zM811.8 945.9h.9v.9h-.9zM805.8 950.9h.9v.9h-.9zM787.5 947.5h.9v.9h-.9zM803.4 926.1h.9v.9h-.9zM805.5 924.6h.9v.9h-.9zM783.6 947.1h.9v.9h-.9zM788.4 950.4h.9v.9h-.9zM814.4 932.8h.9v.9h-.9zM791.7 923.1h.9v.9h-.9zM798.1 922.9h.9v.9h-.9zM812.4 926.8h.9v.9h-.9zM799.4 921.7h.9v.9h-.9zM794.4 951.1h.9v.9h-.9zM791.1 926.7h.9v.9h-.9zM786.8 946.0h.9v.9h-.9zM814.9 936.0h.9v.9h-.9zM779.7 941.7h.9v.9h-.9zM806.7 951.7h.9v.9h-.9zM809.2 946.7h.9v.9h-.9zM789.3 948.5h.9v.9h-.9zM815.9 931.1h.9v.9h-.9zM800.2 924.5h.9v.9h-.9zM783.8 936.1h.9v.9h-.9zM807.3 926.8h.9v.9h-.9zM795.1 951.3h.9v.9h-.9zM808.5 948.4h.9v.9h-.9zM812.4 933.8h.9v.9h-.9zM808.8 947.8h.9v.9h-.9zM798.9 950.8h.9v.9h-.9zM799.0 950.5h.9v.9h-.9zM799.3 950.1h.9v.9h-.9zM786.5 930.4h.9v.9h-.9zM785.9 948.6h.9v.9h-.9zM813.1 943.6h.9v.9h-.9zM809.0 927.5h.9v.9h-.9zM801.7 926.3h.9v.9h-.9zM780.0 937.4h.9v.9h-.9zM789.1 950.2h.9v.9h-.9zM786.2 930.2h.9v.9h-.9zM815.6 939.6h.9v.9h-.9zM781.3 941.8h.9v.9h-.9zM791.2 951.2h.9v.9h-.9zM784.5 930.6h.9v.9h-.9zM779.6 935.5h.9v.9h-.9zM818.1 938.7h.9v.9h-.9zM782.9 943.0h.9v.9h-.9zM784.5 937.8h.9v.9h-.9zM814.6 948.1h.9v.9h-.9zM812.7 949.1h.9v.9h-.9zM790.6 923.8h.9v.9h-.9zM813.3 944.8h.9v.9h-.9zM803.3 927.3h.9v.9h-.9zM811.9 946.5h.9v.9h-.9zM806.1 948.7h.9v.9h-.9zM791.8 928.0h.9v.9h-.9zM816.8 937.0h.9v.9h-.9zM817.5 943.8h.9v.9h-.9zM799.9 951.0h.9v.9h-.9zM784.8 934.9h.9v.9h-.9zM784.2 939.7h.9v.9h-.9zM805.1 952.0h.9v.9h-.9zM806.6 925.6h.9v.9h-.9zM791.0 923.8h.9v.9h-.9zM810.0 948.5h.9v.9h-.9zM809.2 947.1h.9v.9h-.9zM811.2 946.3h.9v.9h-.9zM813.8 943.2h.9v.9h-.9zM786.0 947.9h.9v.9h-.9zM811.3 926.1h.9v.9h-.9zM795.5 924.5h.9v.9h-.9zM812.3 932.9h.9v.9h-.9zM814.0 947.5h.9v.9h-.9zM788.1 929.7h.9v.9h-.9zM787.4 947.2h.9v.9h-.9zM783.7 944.5h.9v.9h-.9zM783.8 947.2h.9v.9h-.9zM805.6 925.0h.9v.9h-.9zM783.2 941.7h.9v.9h-.9zM800.9 921.8h.9v.9h-.9zM801.4 951.7h.9v.9h-.9zM793.3 924.2h.9v.9h-.9zM816.2 942.1h.9v.9h-.9zM803.6 949.5h.9v.9h-.9zM783.2 932.0h.9v.9h-.9zM785.9 927.9h.9v.9h-.9zM794.0 925.0h.9v.9h-.9zM816.9 943.5h.9v.9h-.9zM807.5 924.3h.9v.9h-.9zM787.0 932.2h.9v.9h-.9zM804.0 949.1h.9v.9h-.9zM787.5 927.9h.9v.9h-.9zM806.7 951.7h.9v.9h-.9zM818.3 937.4h.9v.9h-.9zM783.3 942.2h.9v.9h-.9zM803.9 951.8h.9v.9h-.9zM794.1 926.0h.9v.9h-.9zM813.4 930.6h.9v.9h-.9zM784.7 945.6h.9v.9h-.9zM795.9 924.7h.9v.9h-.9zM790.8 928.3h.9v.9h-.9zM794.3 926.0h.9v.9h-.9zM812.2 932.3h.9v.9h-.9zM790.3 949.7h.9v.9h-.9zM785.4 946.9h.9v.9h-.9zM812.8 933.4h.9v.9h-.9zM801.5 923.3h.9v.9h-.9zM802.8 924.8h.9v.9h-.9zM783.3 942.9h.9v.9h-.9zM783.3 941.6h.9v.9h-.9zM805.2 950.2h.9v.9h-.9zM805.1 950.2h.9v.9h-.9zM784.5 933.3h.9v.9h-.9zM807.6 950.0h.9v.9h-.9zM809.0 928.9h.9v.9h-.9zM785.4 928.9h.9v.9h-.9zM812.7 928.9h.9v.9h-.9zM793.5 949.3h.9v.9h-.9zM807.4 927.3h.9v.9h-.9zM818.3 940.9h.9v.9h-.9zM804.2 949.8h.9v.9h-.9zM792.3 949.2h.9v.9h-.9zM796.4 925.2h.9v.9h-.9zM783.4 943.9h.9v.9h-.9zM806.3 928.4h.9v.9h-.9zM785.7 933.2h.9v.9h-.9zM809.4 949.3h.9v.9h-.9zM788.5 946.6h.9v.9h-.9zM782.4 930.5h.9v.9h-.9zM788.4 927.5h.9v.9h-.9zM805.1 922.9h.9v.9h-.9zM808.4 948.4h.9v.9h-.9zM818.2 936.0h.9v.9h-.9zM804.4 951.3h.9v.9h-.9zM811.5 928.4h.9v.9h-.9zM793.9 924.8h.9v.9h-.9zM800.5 950.0h.9v.9h-.9zM815.8 944.4h.9v.9h-.9zM810.6 948.8h.9v.9h-.9zM785.9 946.8h.9v.9h-.9zM815.4 937.1h.9v.9h-.9zM782.6 941.6h.9v.9h-.9zM802.4 949.8h.9v.9h-.9zM780.4 936.4h.9v.9h-.9zM815.6 946.8h.9v.9h-.9zM792.3 927.9h.9v.9h-.9zM794.5 925.2h.9v.9h-.9zM784.0 938.6h.9v.9h-.9zM781.7 938.9h.9v.9h-.9zM802.6 924.1h.9v.9h-.9zM793.8 923.6h.9v.9h-.9zM801.6 949.2h.9v.9h-.9zM784.0 941.2h.9v.9h-.9zM809.2 948.1h.9v.9h-.9zM781.6 936.1h.9v.9h-.9zM787.0 925.6h.9v.9h-.9zM813.1 946.7h.9v.9h-.9zM814.6 946.0h.9v.9h-.9zM784.9 943.7h.9v.9h-.9zM792.3 950.8h.9v.9h-.9zM779.5 942.0h.9v.9h-.9zM789.0 948.3h.9v.9h-.9zM814.8 932.3h.9v.9h-.9zM813.7 947.5h.9v.9h-.9zM786.1 949.6h.9v.9h-.9zM786.5 926.9h.9v.9h-.9zM812.7 930.3h.9v.9h-.9zM813.3 937.2h.9v.9h-.9zM788.7 950.3h.9v.9h-.9zM817.2 940.5h.9v.9h-.9zM817.5 939.8h.9v.9h-.9zM808.6 929.6h.9v.9h-.9zM781.7 935.8h.9v.9h-.9zM783.6 944.2h.9v.9h-.9zM802.9 926.3h.9v.9h-.9zM816.1 943.1h.9v.9h-.9zM817.7 936.3h.9v.9h-.9zM791.5 926.9h.9v.9h-.9zM811.1 932.3h.9v.9h-.9zM799.4 952.1h.9v.9h-.9zM812.2 930.5h.9v.9h-.9zM811.7 932.5h.9v.9h-.9zM786.8 932.2h.9v.9h-.9zM800.6 949.9h.9v.9h-.9zM815.7 940.3h.9v.9h-.9zM783.0 939.9h.9v.9h-.9zM790.5 928.9h.9v.9h-.9zM781.7 938.2h.9v.9h-.9zM782.9 947.1h.9v.9h-.9zM810.8 947.7h.9v.9h-.9zM783.0 942.6h.9v.9h-.9zM816.4 937.3h.9v.9h-.9zM782.2 938.3h.9v.9h-.9zM780.7 944.8h.9v.9h-.9zM804.5 924.2h.9v.9h-.9zM808.3 949.7h.9v.9h-.9zM810.4 947.5h.9v.9h-.9zM817.2 941.6h.9v.9h-.9zM816.8 937.6h.9v.9h-.9zM784.6 933.8h.9v.9h-.9zM783.1 943.8h.9v.9h-.9zM784.9 944.7h.9v.9h-.9zM802.6 951.8h.9v.9h-.9zM817.2 934.8h.9v.9h-.9zM788.4 930.7h.9v.9h-.9zM792.8 951.6h.9v.9h-.9zM816.3 937.2h.9v.9h-.9zM782.4 932.9h.9v.9h-.9zM799.3 951.8h.9v.9h-.9zM786.3 949.2h.9v.9h-.9zM781.4 942.7h.9v.9h-.9zM782.6 934.4h.9v.9h-.9zM779.8 943.0h.9v.9h-.9zM799.5 924.6h.9v.9h-.9zM779.5 939.3h.9v.9h-.9zM798.7 923.4h.9v.9h-.9zM813.6 936.4h.9v.9h-.9zM784.3 930.4h.9v.9h-.9zM779.9 943.5h.9v.9h-.9zM815.3 936.8h.9v.9h-.9zM785.0 928.5h.9v.9h-.9zM793.5 925.7h.9v.9h-.9zM803.9 925.6h.9v.9h-.9zM810.0 949.3h.9v.9h-.9zM789.1 927.6h.9v.9h-.9zM779.0 940.0h.9v.9h-.9zM805.0 925.6h.9v.9h-.9zM814.0 931.4h.9v.9h-.9zM784.1 946.5h.9v.9h-.9zM803.1 922.5h.9v.9h-.9zM790.3 925.3h.9v.9h-.9zM787.1 945.4h.9v.9h-.9zM784.5 942.6h.9v.9h-.9zM814.4 934.6h.9v.9h-.9zM784.3 929.5h.9v.9h-.9zM807.3 951.1h.9v.9h-.9zM792.2 948.5h.9v.9h-.9zM785.5 931.0h.9v.9h-.9zM813.8 932.4h.9v.9h-.9zM811.1 945.2h.9v.9h-.9zM815.9 942.0h.9v.9h-.9zM795.7 926.8h.9v.9h-.9zM790.8 949.6h.9v.9h-.9zM814.9 929.0h.9v.9h-.9zM811.8 928.3h.9v.9h-.9zM785.0 933.4h.9v.9h-.9zM787.3 930.8h.9v.9h-.9zM792.7 951.6h.9v.9h-.9zM782.1 932.9h.9v.9h-.9zM783.4 942.1h.9v.9h-.9zM781.3 939.5h.9v.9h-.9zM800.0 952.3h.9v.9h-.9zM814.4 938.2h.9v.9h-.9zM799.9 952.2h.9v.9h-.9zM796.2 925.8h.9v.9h-.9zM785.5 932.5h.9v.9h-.9zM810.6 927.6h.9v.9h-.9zM783.7 938.9h.9v.9h-.9zM784.8 946.1h.9v.9h-.9zM789.0 947.5h.9v.9h-.9zM804.9 951.2h.9v.9h-.9zM816.1 932.0h.9v.9h-.9zM784.8 928.5h.9v.9h-.9zM809.4 947.4h.9v.9h-.9zM794.9 927.3h.9v.9h-.9zM815.3 946.0h.9v.9h-.9zM804.1 949.4h.9v.9h-.9zM783.8 947.5h.9v.9h-.9zM818.3 940.7h.9v.9h-.9zM793.0 950.7h.9v.9h-.9zM784.1 941.6h.9v.9h-.9zM813.9 936.3h.9v.9h-.9zM805.6 923.3h.9v.9h-.9zM780.0 943.6h.9v.9h-.9zM813.1 943.7h.9v.9h-.9zM784.2 940.9h.9v.9h-.9zM805.2 925.1h.9v.9h-.9zM803.9 925.9h.9v.9h-.9zM818.2 942.0h.9v.9h-.9zM803.3 950.4h.9v.9h-.9zM811.5 948.1h.9v.9h-.9zM783.8 942.2h.9v.9h-.9zM814.9 942.5h.9v.9h-.9zM802.2 926.2h.9v.9h-.9zM801.4 951.4h.9v.9h-.9zM786.5 926.9h.9v.9h-.9zM787.2 926.1h.9v.9h-.9zM810.0 950.4h.9v.9h-.9zM813.9 941.7h.9v.9h-.9zM814.0 947.3h.9v.9h-.9zM779.4 939.4h.9v.9h-.9zM818.5 937.1h.9v.9h-.9zM786.6 930.1h.9v.9h-.9zM816.9 935.4h.9v.9h-.9zM804.8 950.6h.9v.9h-.9zM813.4 941.1h.9v.9h-.9zM787.1 927.0h.9v.9h-.9zM811.0 926.9h.9v.9h-.9zM811.1 949.0h.9v.9h-.9zM817.1 937.9h.9v.9h-.9zM783.0 941.2h.9v.9h-.9zM815.5 944.4h.9v.9h-.9zM813.7 936.6h.9v.9h-.9zM807.4 923.9h.9v.9h-.9zM787.5 949.8h.9v.9h-.9zM808.0 948.6h.9v.9h-.9zM781.3 932.7h.9v.9h-.9zM784.4 936.9h.9v.9h-.9zM815.0 933.0h.9v.9h-.9zM801.8 925.8h.9v.9h-.9zM791.4 948.2h.9v.9h-.9zM798.1 912.6h.9v.9h-.9zM812.0 927.6h.9v.9h-.9zM838.2 905.6h.9v.9h-.9zM843.9 927.3h.9v.9h-.9zM807.9 895.5h.9v.9h-.9zM845.8 927.6h.9v.9h-.9zM789.2 929.5h.9v.9h-.9zM809.9 911.5h.9v.9h-.9zM834.0 898.1h.9v.9h-.9zM803.1 919.6h.9v.9h-.9zM842.6 888.8h.9v.9h-.9zM838.2 931.9h.9v.9h-.9zM797.5 927.9h.9v.9h-.9zM825.0 931.2h.9v.9h-.9zM819.8 904.2h.9v.9h-.9zM817.7 899.1h.9v.9h-.9zM814.7 910.5h.9v.9h-.9zM793.1 898.7h.9v.9h-.9zM807.9 909.7h.9v.9h-.9zM821.4 933.7h.9v.9h-.9zM802.6 920.6h.9v.9h-.9zM807.4 898.3h.9v.9h-.9zM795.2 948.2h.9v.9h-.9zM844.3 939.4h.9v.9h-.9zM797.1 893.2h.9v.9h-.9zM793.0 903.3h.9v.9h-.9zM812.9 883.4h.9v.9h-.9zM812.7 929.8h.9v.9h-.9zM838.2 895.8h.9v.9h-.9zM786.6 937.0h.9v.9h-.9zM827.4 907.7h.9v.9h-.9zM824.8 911.5h.9v.9h-.9zM821.1 911.0h.9v.9h-.9zM824.4 909.9h.9v.9h-.9zM838.5 889.9h.9v.9h-.9zM822.8 912.1h.9v.9h-.9zM830.2 901.0h.9v.9h-.9zM826.5 908.7h.9v.9h-.9zM841.1 891.3h.9v.9h-.9zM820.8 914.7h.9v.9h-.9zM829.3 903.6h.9v.9h-.9zM824.6 909.4h.9v.9h-.9zM837.0 892.8h.9v.9h-.9zM835.6 893.2h.9v.9h-.9zM824.7 914.9h.9v.9h-.9zM818.8 914.2h.9v.9h-.9zM835.1 901.4h.9v.9h-.9zM815.0 917.0h.9v.9h-.9zM829.8 907.4h.9v.9h-.9zM836.4 894.2h.9v.9h-.9zM837.2 890.9h.9v.9h-.9zM830.6 904.7h.9v.9h-.9zM827.0 910.8h.9v.9h-.9zM828.7 906.0h.9v.9h-.9zM837.2 897.4h.9v.9h-.9zM827.8 908.9h.9v.9h-.9zM830.0 904.8h.9v.9h-.9zM829.1 907.0h.9v.9h-.9zM834.8 898.4h.9v.9h-.9zM825.3 909.2h.9v.9h-.9zM827.4 906.0h.9v.9h-.9zM834.2 900.5h.9v.9h-.9zM822.8 911.7h.9v.9h-.9zM839.9 894.4h.9v.9h-.9zM814.4 922.6h.9v.9h-.9zM834.1 897.6h.9v.9h-.9zM841.8 890.9h.9v.9h-.9zM832.7 901.2h.9v.9h-.9zM822.7 909.2h.9v.9h-.9zM836.8 896.1h.9v.9h-.9zM817.6 919.3h.9v.9h-.9zM835.6 899.7h.9v.9h-.9zM819.1 913.7h.9v.9h-.9zM833.1 899.9h.9v.9h-.9zM841.0 892.0h.9v.9h-.9zM832.8 902.5h.9v.9h-.9zM824.2 912.2h.9v.9h-.9zM833.9 898.1h.9v.9h-.9zM843.2 893.1h.9v.9h-.9zM831.6 900.2h.9v.9h-.9zM835.6 897.6h.9v.9h-.9zM821.4 913.6h.9v.9h-.9zM819.3 915.8h.9v.9h-.9zM823.3 912.6h.9v.9h-.9zM835.4 894.2h.9v.9h-.9zM826.2 905.5h.9v.9h-.9zM842.5 891.1h.9v.9h-.9zM817.5 916.7h.9v.9h-.9zM830.5 903.8h.9v.9h-.9zM835.0 900.1h.9v.9h-.9zM835.4 900.7h.9v.9h-.9zM834.1 901.8h.9v.9h-.9zM819.0 915.3h.9v.9h-.9zM830.7 904.9h.9v.9h-.9zM826.6 905.6h.9v.9h-.9zM822.4 913.6h.9v.9h-.9zM819.8 913.6h.9v.9h-.9zM829.9 908.5h.9v.9h-.9zM819.3 919.1h.9v.9h-.9zM839.4 894.8h.9v.9h-.9zM823.5 911.9h.9v.9h-.9zM822.1 916.8h.9v.9h-.9zM830.0 898.2h.9v.9h-.9zM836.1 895.8h.9v.9h-.9zM842.0 891.4h.9v.9h-.9zM819.1 914.8h.9v.9h-.9zM831.1 905.2h.9v.9h-.9zM837.4 894.1h.9v.9h-.9zM837.8 898.5h.9v.9h-.9zM818.5 918.9h.9v.9h-.9zM835.8 899.2h.9v.9h-.9zM831.2 898.0h.9v.9h-.9zM841.2 890.1h.9v.9h-.9zM820.3 916.2h.9v.9h-.9zM836.9 895.9h.9v.9h-.9zM820.2 914.1h.9v.9h-.9zM839.5 894.3h.9v.9h-.9zM834.4 899.0h.9v.9h-.9zM833.0 904.2h.9v.9h-.9zM826.9 905.3h.9v.9h-.9zM826.9 907.0h.9v.9h-.9zM828.6 903.1h.9v.9h-.9zM837.3 895.8h.9v.9h-.9zM826.4 903.6h.9v.9h-.9zM817.6 916.1h.9v.9h-.9zM829.3 907.1h.9v.9h-.9zM839.6 893.7h.9v.9h-.9zM838.3 894.7h.9v.9h-.9zM820.9 910.6h.9v.9h-.9zM835.7 899.3h.9v.9h-.9zM825.6 907.6h.9v.9h-.9zM836.0 900.5h.9v.9h-.9zM819.6 920.4h.9v.9h-.9zM839.4 895.5h.9v.9h-.9zM821.1 913.0h.9v.9h-.9zM817.8 917.4h.9v.9h-.9zM839.2 895.1h.9v.9h-.9zM816.8 921.5h.9v.9h-.9zM838.6 894.7h.9v.9h-.9zM828.3 903.7h.9v.9h-.9zM840.8 891.5h.9v.9h-.9zM826.1 905.6h.9v.9h-.9zM831.6 902.0h.9v.9h-.9zM830.1 903.7h.9v.9h-.9zM821.7 912.7h.9v.9h-.9zM832.3 903.0h.9v.9h-.9zM827.1 906.1h.9v.9h-.9zM831.9 899.4h.9v.9h-.9zM838.9 890.0h.9v.9h-.9zM819.1 919.4h.9v.9h-.9zM840.2 891.3h.9v.9h-.9zM837.8 897.5h.9v.9h-.9zM825.4 913.8h.9v.9h-.9zM828.3 902.3h.9v.9h-.9zM831.5 901.6h.9v.9h-.9zM831.3 903.9h.9v.9h-.9zM835.9 897.5h.9v.9h-.9zM831.8 899.3h.9v.9h-.9zM829.6 908.4h.9v.9h-.9zM835.8 893.3h.9v.9h-.9zM826.4 907.0h.9v.9h-.9zM838.1 896.5h.9v.9h-.9zM840.3 892.0h.9v.9h-.9zM821.4 912.8h.9v.9h-.9zM843.0 893.8h.9v.9h-.9zM828.4 906.9h.9v.9h-.9zM819.9 914.3h.9v.9h-.9zM840.5 891.0h.9v.9h-.9zM827.7 902.9h.9v.9h-.9zM823.0 909.6h.9v.9h-.9zM830.9 900.5h.9v.9h-.9zM823.8 909.8h.9v.9h-.9zM832.3 903.9h.9v.9h-.9zM836.1 895.9h.9v.9h-.9zM825.6 906.8h.9v.9h-.9zM827.4 908.8h.9v.9h-.9zM815.3 919.4h.9v.9h-.9zM834.3 899.2h.9v.9h-.9zM840.7 895.1h.9v.9h-.9zM827.6 910.9h.9v.9h-.9zM839.1 889.1h.9v.9h-.9zM828.2 908.7h.9v.9h-.9zM837.1 896.9h.9v.9h-.9zM824.7 913.4h.9v.9h-.9zM817.7 920.3h.9v.9h-.9zM834.4 894.8h.9v.9h-.9zM836.5 896.9h.9v.9h-.9zM818.7 920.3h.9v.9h-.9zM820.3 916.4h.9v.9h-.9zM843.2 890.6h.9v.9h-.9z"/><ellipse cx="828.2" cy="906.2" rx="13" ry="2.8" transform="rotate(-50.2 828.2 906.2)" fill="#1a2aa8"/><ellipse cx="827.2" cy="907.2" rx="7" ry="1.5" transform="rotate(-50.2 828.2 906.2)" fill="#1840e0"/><ellipse cx="798.5" cy="940.9" rx="14.4" ry="6.7" fill="#1848f0"/><ellipse cx="798.5" cy="940.9" rx="13.2" ry="6.1" fill="#10c0f0"/><ellipse cx="798.5" cy="940.9" rx="11.8" ry="5.4" fill="#30dc40"/><ellipse cx="798.5" cy="940.9" rx="9.8" ry="4.6" fill="#f0ea10"/><ellipse cx="798.5" cy="940.9" rx="7.9" ry="3.8" fill="#ff8c10"/><ellipse cx="798.5" cy="940.9" rx="5.9" ry="2.9" fill="#ff2810"/><polygon points="813.3,905.6 823.7,889.2 828.3,887.2 847.5,880.9 851.3,889.4 834.2,913.2 823.3,924.0 815.7,921.7" fill="none" stroke="#ff3030" stroke-width="0.8"/><line x1="771.7" y1="846.2" x2="771.7" y2="968.2" stroke="#000" stroke-width="1.6" /><line x1="770.7" y1="967.2" x2="885" y2="967.2" stroke="#000" stroke-width="1.6" /><line x1="768.5" y1="886.2" x2="771.7" y2="886.2" stroke="#000" stroke-width="0.7" /><line x1="769.9" y1="877.92" x2="771.7" y2="877.92" stroke="#000" stroke-width="0.7" /><line x1="769.9" y1="873.08" x2="771.7" y2="873.08" stroke="#000" stroke-width="0.7" /><line x1="769.9" y1="869.64" x2="771.7" y2="869.64" stroke="#000" stroke-width="0.7" /><line x1="769.9" y1="866.98" x2="771.7" y2="866.98" stroke="#000" stroke-width="0.7" /><line x1="769.9" y1="864.8" x2="771.7" y2="864.8" stroke="#000" stroke-width="0.7" /><line x1="769.9" y1="862.96" x2="771.7" y2="862.96" stroke="#000" stroke-width="0.7" /><line x1="769.9" y1="861.37" x2="771.7" y2="861.37" stroke="#000" stroke-width="0.7" /><line x1="769.9" y1="859.96" x2="771.7" y2="859.96" stroke="#000" stroke-width="0.7" /><line x1="768.5" y1="913.9" x2="771.7" y2="913.9" stroke="#000" stroke-width="0.7" /><line x1="769.9" y1="905.62" x2="771.7" y2="905.62" stroke="#000" stroke-width="0.7" /><line x1="769.9" y1="900.78" x2="771.7" y2="900.78" stroke="#000" stroke-width="0.7" /><line x1="769.9" y1="897.34" x2="771.7" y2="897.34" stroke="#000" stroke-width="0.7" /><line x1="769.9" y1="894.68" x2="771.7" y2="894.68" stroke="#000" stroke-width="0.7" /><line x1="769.9" y1="892.5" x2="771.7" y2="892.5" stroke="#000" stroke-width="0.7" /><line x1="769.9" y1="890.66" x2="771.7" y2="890.66" stroke="#000" stroke-width="0.7" /><line x1="769.9" y1="889.07" x2="771.7" y2="889.07" stroke="#000" stroke-width="0.7" /><line x1="769.9" y1="887.66" x2="771.7" y2="887.66" stroke="#000" stroke-width="0.7" /><line x1="768.5" y1="941.2" x2="771.7" y2="941.2" stroke="#000" stroke-width="0.7" /><line x1="769.9" y1="932.92" x2="771.7" y2="932.92" stroke="#000" stroke-width="0.7" /><line x1="769.9" y1="928.08" x2="771.7" y2="928.08" stroke="#000" stroke-width="0.7" /><line x1="769.9" y1="924.64" x2="771.7" y2="924.64" stroke="#000" stroke-width="0.7" /><line x1="769.9" y1="921.98" x2="771.7" y2="921.98" stroke="#000" stroke-width="0.7" /><line x1="769.9" y1="919.8" x2="771.7" y2="919.8" stroke="#000" stroke-width="0.7" /><line x1="769.9" y1="917.96" x2="771.7" y2="917.96" stroke="#000" stroke-width="0.7" /><line x1="769.9" y1="916.37" x2="771.7" y2="916.37" stroke="#000" stroke-width="0.7" /><line x1="769.9" y1="914.96" x2="771.7" y2="914.96" stroke="#000" stroke-width="0.7" /><line x1="820" y1="967.2" x2="820" y2="970.4" stroke="#000" stroke-width="0.7" /><line x1="828.28" y1="967.2" x2="828.28" y2="969" stroke="#000" stroke-width="0.7" /><line x1="833.12" y1="967.2" x2="833.12" y2="969" stroke="#000" stroke-width="0.7" /><line x1="836.56" y1="967.2" x2="836.56" y2="969" stroke="#000" stroke-width="0.7" /><line x1="839.22" y1="967.2" x2="839.22" y2="969" stroke="#000" stroke-width="0.7" /><line x1="841.4" y1="967.2" x2="841.4" y2="969" stroke="#000" stroke-width="0.7" /><line x1="843.24" y1="967.2" x2="843.24" y2="969" stroke="#000" stroke-width="0.7" /><line x1="844.83" y1="967.2" x2="844.83" y2="969" stroke="#000" stroke-width="0.7" /><line x1="846.24" y1="967.2" x2="846.24" y2="969" stroke="#000" stroke-width="0.7" /><line x1="847.5" y1="967.2" x2="847.5" y2="970.4" stroke="#000" stroke-width="0.7" /><line x1="855.78" y1="967.2" x2="855.78" y2="969" stroke="#000" stroke-width="0.7" /><line x1="860.62" y1="967.2" x2="860.62" y2="969" stroke="#000" stroke-width="0.7" /><line x1="864.06" y1="967.2" x2="864.06" y2="969" stroke="#000" stroke-width="0.7" /><line x1="866.72" y1="967.2" x2="866.72" y2="969" stroke="#000" stroke-width="0.7" /><line x1="868.9" y1="967.2" x2="868.9" y2="969" stroke="#000" stroke-width="0.7" /><line x1="870.74" y1="967.2" x2="870.74" y2="969" stroke="#000" stroke-width="0.7" /><line x1="872.33" y1="967.2" x2="872.33" y2="969" stroke="#000" stroke-width="0.7" /><line x1="873.74" y1="967.2" x2="873.74" y2="969" stroke="#000" stroke-width="0.7" /><line x1="875.8" y1="967.2" x2="875.8" y2="970.4" stroke="#000" stroke-width="0.7" /><line x1="769.9" y1="937.2" x2="771.7" y2="937.2" stroke="#000" stroke-width="0.7" /><line x1="769.9" y1="944.2" x2="771.7" y2="944.2" stroke="#000" stroke-width="0.7" /><line x1="769.9" y1="951.2" x2="771.7" y2="951.2" stroke="#000" stroke-width="0.7" /><line x1="769.9" y1="958.2" x2="771.7" y2="958.2" stroke="#000" stroke-width="0.7" /><rect x="768.2" y="939.2" width="3.5" height="4" fill="#000" /><rect x="795.7" y="967.2" width="5" height="2.5" fill="#000" /><text x="758.5" y="863" font-size="12" text-anchor="end">10</text><text x="758.9" y="857.2" font-size="7.5">5</text><text x="758.5" y="890.7" font-size="12" text-anchor="end">10</text><text x="758.9" y="884.9" font-size="7.5">4</text><text x="758.5" y="918" font-size="12" text-anchor="end">10</text><text x="758.9" y="912.2" font-size="7.5">3</text><text x="758.5" y="946.5" font-size="12" text-anchor="end">−10</text><text x="758.9" y="940.7" font-size="7.5">2</text><text x="787.5" y="986.4" font-size="12" text-anchor="middle">−10</text><text x="797.2" y="980.2" font-size="7.5">2</text><text x="818.5" y="986.4" font-size="12" text-anchor="middle">10</text><text x="824.95" y="980.2" font-size="7.5">3</text><text x="846" y="986.4" font-size="12" text-anchor="middle">10</text><text x="852.45" y="980.2" font-size="7.5">4</text><text x="874.3" y="986.4" font-size="12" text-anchor="middle">10</text><text x="880.75" y="980.2" font-size="7.5">5</text><text x="822.9" y="867.6" font-size="14.2" text-anchor="middle" textLength="45.1" lengthAdjust="spacingAndGlyphs" >1.25%</text>
<ellipse cx="955.1" cy="939.9" rx="16.8" ry="10" fill="#1a1a9a"/><ellipse cx="955.6" cy="932.9" rx="13" ry="8" fill="#1a1a9a"/><path fill="#2020a0" d="M956.4 950.7h.9v.9h-.9zM942.9 947.8h.9v.9h-.9zM944.7 929.8h.9v.9h-.9zM974.2 940.4h.9v.9h-.9zM954.2 949.6h.9v.9h-.9zM972.2 939.0h.9v.9h-.9zM964.0 926.0h.9v.9h-.9zM945.3 928.7h.9v.9h-.9zM942.3 926.2h.9v.9h-.9zM936.7 936.9h.9v.9h-.9zM948.1 927.5h.9v.9h-.9zM956.0 923.2h.9v.9h-.9zM950.5 948.4h.9v.9h-.9zM966.5 927.7h.9v.9h-.9zM951.3 922.1h.9v.9h-.9zM950.7 922.0h.9v.9h-.9zM940.1 946.9h.9v.9h-.9zM936.6 943.7h.9v.9h-.9zM966.0 930.0h.9v.9h-.9zM965.4 947.0h.9v.9h-.9zM971.6 936.1h.9v.9h-.9zM943.8 928.9h.9v.9h-.9zM938.5 938.7h.9v.9h-.9zM944.6 948.6h.9v.9h-.9zM938.2 930.4h.9v.9h-.9zM947.0 923.1h.9v.9h-.9zM967.5 925.1h.9v.9h-.9zM947.8 927.1h.9v.9h-.9zM967.8 925.5h.9v.9h-.9zM969.7 930.3h.9v.9h-.9zM951.6 925.5h.9v.9h-.9zM963.8 925.4h.9v.9h-.9zM951.9 948.8h.9v.9h-.9zM967.3 924.9h.9v.9h-.9zM971.2 945.9h.9v.9h-.9zM942.2 944.7h.9v.9h-.9zM950.0 951.1h.9v.9h-.9zM965.3 929.8h.9v.9h-.9zM944.0 930.6h.9v.9h-.9zM951.9 924.8h.9v.9h-.9zM969.7 927.0h.9v.9h-.9zM935.1 938.8h.9v.9h-.9zM949.7 948.4h.9v.9h-.9zM943.3 931.6h.9v.9h-.9zM960.5 949.6h.9v.9h-.9zM943.3 930.5h.9v.9h-.9zM973.7 942.7h.9v.9h-.9zM947.4 951.2h.9v.9h-.9zM968.3 930.3h.9v.9h-.9zM938.3 942.2h.9v.9h-.9zM944.1 926.7h.9v.9h-.9zM938.4 933.5h.9v.9h-.9zM971.2 933.7h.9v.9h-.9zM938.3 944.4h.9v.9h-.9zM956.4 949.8h.9v.9h-.9zM972.3 937.2h.9v.9h-.9zM941.3 935.4h.9v.9h-.9zM939.8 945.2h.9v.9h-.9zM972.9 940.9h.9v.9h-.9zM945.1 929.4h.9v.9h-.9zM943.2 928.2h.9v.9h-.9zM948.0 925.9h.9v.9h-.9zM950.1 923.1h.9v.9h-.9zM969.7 940.7h.9v.9h-.9zM946.2 923.2h.9v.9h-.9zM955.0 950.4h.9v.9h-.9zM941.5 931.3h.9v.9h-.9zM944.5 947.3h.9v.9h-.9zM943.0 947.8h.9v.9h-.9zM949.9 949.6h.9v.9h-.9zM957.1 926.2h.9v.9h-.9zM938.3 932.3h.9v.9h-.9zM949.3 948.8h.9v.9h-.9zM960.3 925.8h.9v.9h-.9zM961.6 949.5h.9v.9h-.9zM950.3 926.4h.9v.9h-.9zM948.0 948.9h.9v.9h-.9zM963.6 926.1h.9v.9h-.9zM964.6 928.3h.9v.9h-.9zM945.7 949.4h.9v.9h-.9zM967.8 929.2h.9v.9h-.9zM957.5 949.1h.9v.9h-.9zM939.8 936.8h.9v.9h-.9zM961.8 923.0h.9v.9h-.9zM961.6 948.9h.9v.9h-.9zM961.5 924.0h.9v.9h-.9zM960.8 925.4h.9v.9h-.9zM966.1 947.0h.9v.9h-.9zM959.4 925.4h.9v.9h-.9zM945.5 948.3h.9v.9h-.9zM940.4 944.6h.9v.9h-.9zM968.6 932.7h.9v.9h-.9zM974.8 939.8h.9v.9h-.9zM969.7 926.9h.9v.9h-.9zM937.0 944.5h.9v.9h-.9zM969.2 933.1h.9v.9h-.9zM954.6 922.0h.9v.9h-.9zM946.1 925.9h.9v.9h-.9zM951.1 949.7h.9v.9h-.9zM957.2 948.9h.9v.9h-.9zM941.5 931.7h.9v.9h-.9zM960.5 926.9h.9v.9h-.9zM970.2 929.9h.9v.9h-.9zM972.4 931.2h.9v.9h-.9zM969.4 929.9h.9v.9h-.9zM973.7 940.4h.9v.9h-.9zM962.7 948.6h.9v.9h-.9zM946.0 925.9h.9v.9h-.9zM938.2 946.0h.9v.9h-.9zM942.6 929.7h.9v.9h-.9zM954.8 951.9h.9v.9h-.9zM936.5 941.1h.9v.9h-.9zM945.8 947.5h.9v.9h-.9zM936.5 935.7h.9v.9h-.9zM964.1 950.2h.9v.9h-.9zM971.8 931.2h.9v.9h-.9zM961.6 927.6h.9v.9h-.9zM941.8 926.7h.9v.9h-.9zM970.3 942.6h.9v.9h-.9zM953.1 950.6h.9v.9h-.9zM940.0 944.5h.9v.9h-.9zM957.5 926.4h.9v.9h-.9zM969.4 942.7h.9v.9h-.9zM965.6 946.2h.9v.9h-.9zM974.1 936.6h.9v.9h-.9zM969.9 945.2h.9v.9h-.9zM948.6 949.0h.9v.9h-.9zM944.4 948.8h.9v.9h-.9zM941.0 931.6h.9v.9h-.9zM961.0 949.2h.9v.9h-.9zM967.6 947.4h.9v.9h-.9zM951.6 924.6h.9v.9h-.9zM968.6 944.2h.9v.9h-.9zM942.6 947.7h.9v.9h-.9zM958.5 924.6h.9v.9h-.9zM960.8 923.9h.9v.9h-.9zM940.1 943.9h.9v.9h-.9zM936.7 939.7h.9v.9h-.9zM939.0 945.1h.9v.9h-.9zM939.8 941.9h.9v.9h-.9zM937.2 935.7h.9v.9h-.9zM970.3 944.1h.9v.9h-.9zM937.8 945.0h.9v.9h-.9zM970.3 933.5h.9v.9h-.9zM970.2 929.1h.9v.9h-.9zM953.8 950.4h.9v.9h-.9zM968.7 948.0h.9v.9h-.9zM944.9 924.3h.9v.9h-.9zM959.9 923.4h.9v.9h-.9zM953.3 923.4h.9v.9h-.9zM969.2 946.3h.9v.9h-.9zM970.3 939.7h.9v.9h-.9zM957.3 926.2h.9v.9h-.9zM967.7 944.7h.9v.9h-.9zM966.4 929.8h.9v.9h-.9zM974.1 941.2h.9v.9h-.9zM969.0 948.0h.9v.9h-.9zM946.3 923.9h.9v.9h-.9zM972.0 934.6h.9v.9h-.9zM959.5 926.7h.9v.9h-.9zM957.0 923.7h.9v.9h-.9zM951.8 926.0h.9v.9h-.9zM955.0 921.4h.9v.9h-.9zM970.2 943.3h.9v.9h-.9zM937.5 932.6h.9v.9h-.9zM955.9 949.4h.9v.9h-.9zM955.1 951.0h.9v.9h-.9zM955.5 924.2h.9v.9h-.9zM943.9 947.4h.9v.9h-.9zM945.2 948.2h.9v.9h-.9zM970.0 945.0h.9v.9h-.9zM971.6 936.8h.9v.9h-.9zM954.9 925.4h.9v.9h-.9zM948.3 923.5h.9v.9h-.9zM947.1 925.4h.9v.9h-.9zM937.1 940.6h.9v.9h-.9zM967.3 931.0h.9v.9h-.9zM970.5 946.2h.9v.9h-.9zM970.1 931.5h.9v.9h-.9zM937.8 943.6h.9v.9h-.9zM961.3 948.9h.9v.9h-.9zM960.7 950.3h.9v.9h-.9zM948.9 948.8h.9v.9h-.9zM947.9 922.6h.9v.9h-.9zM949.9 950.8h.9v.9h-.9zM938.7 945.9h.9v.9h-.9zM941.4 932.0h.9v.9h-.9zM958.0 948.6h.9v.9h-.9zM938.6 940.8h.9v.9h-.9zM962.8 948.8h.9v.9h-.9zM946.9 950.3h.9v.9h-.9zM967.5 949.6h.9v.9h-.9zM937.4 940.9h.9v.9h-.9zM936.4 941.9h.9v.9h-.9zM962.7 925.0h.9v.9h-.9zM936.7 940.8h.9v.9h-.9zM965.5 927.5h.9v.9h-.9zM953.1 921.4h.9v.9h-.9zM939.7 941.5h.9v.9h-.9zM956.9 951.3h.9v.9h-.9zM946.1 923.3h.9v.9h-.9zM964.7 927.9h.9v.9h-.9zM961.0 949.0h.9v.9h-.9zM962.2 950.4h.9v.9h-.9zM967.4 925.6h.9v.9h-.9zM954.5 951.9h.9v.9h-.9zM948.6 949.4h.9v.9h-.9zM953.1 925.9h.9v.9h-.9zM971.1 946.2h.9v.9h-.9zM950.8 949.7h.9v.9h-.9zM939.1 931.4h.9v.9h-.9zM971.4 939.9h.9v.9h-.9zM939.3 943.7h.9v.9h-.9zM959.5 950.5h.9v.9h-.9zM971.1 935.2h.9v.9h-.9zM940.6 935.6h.9v.9h-.9zM952.3 951.0h.9v.9h-.9zM969.9 947.6h.9v.9h-.9zM967.7 932.0h.9v.9h-.9zM970.5 934.0h.9v.9h-.9zM957.7 922.5h.9v.9h-.9zM950.0 950.7h.9v.9h-.9zM944.3 925.1h.9v.9h-.9zM953.3 951.4h.9v.9h-.9zM972.8 935.4h.9v.9h-.9zM940.4 936.3h.9v.9h-.9zM938.7 939.8h.9v.9h-.9zM951.5 923.1h.9v.9h-.9zM941.0 933.7h.9v.9h-.9zM944.1 926.4h.9v.9h-.9zM963.5 950.8h.9v.9h-.9zM946.6 928.0h.9v.9h-.9zM969.0 933.6h.9v.9h-.9zM946.0 949.8h.9v.9h-.9zM940.7 930.2h.9v.9h-.9zM944.9 927.0h.9v.9h-.9zM949.2 948.6h.9v.9h-.9zM971.9 944.4h.9v.9h-.9zM955.6 923.5h.9v.9h-.9zM954.0 924.4h.9v.9h-.9zM953.4 950.1h.9v.9h-.9zM965.3 929.8h.9v.9h-.9zM939.3 939.0h.9v.9h-.9zM957.0 924.5h.9v.9h-.9zM946.8 948.8h.9v.9h-.9zM937.0 935.0h.9v.9h-.9zM943.5 949.3h.9v.9h-.9zM967.3 946.1h.9v.9h-.9zM967.3 945.1h.9v.9h-.9zM958.5 922.8h.9v.9h-.9zM961.3 948.6h.9v.9h-.9zM939.0 945.4h.9v.9h-.9zM962.6 923.8h.9v.9h-.9zM942.3 931.8h.9v.9h-.9zM942.6 945.4h.9v.9h-.9zM937.7 936.6h.9v.9h-.9zM959.8 949.2h.9v.9h-.9zM958.0 926.3h.9v.9h-.9zM961.5 922.6h.9v.9h-.9zM970.9 934.7h.9v.9h-.9zM938.3 934.2h.9v.9h-.9zM941.8 925.9h.9v.9h-.9zM948.8 925.8h.9v.9h-.9zM966.0 927.3h.9v.9h-.9zM940.2 929.4h.9v.9h-.9zM973.9 939.6h.9v.9h-.9zM946.1 926.1h.9v.9h-.9zM938.3 937.1h.9v.9h-.9zM961.2 950.0h.9v.9h-.9zM971.9 942.0h.9v.9h-.9zM944.8 927.1h.9v.9h-.9zM937.0 932.1h.9v.9h-.9zM966.9 930.7h.9v.9h-.9zM959.8 923.6h.9v.9h-.9zM970.7 942.7h.9v.9h-.9zM956.6 949.0h.9v.9h-.9zM936.0 935.1h.9v.9h-.9zM946.5 950.6h.9v.9h-.9zM949.9 926.4h.9v.9h-.9zM966.3 926.8h.9v.9h-.9zM971.7 931.9h.9v.9h-.9zM954.0 924.5h.9v.9h-.9zM962.0 922.6h.9v.9h-.9zM966.0 927.6h.9v.9h-.9zM955.8 923.8h.9v.9h-.9zM966.5 945.4h.9v.9h-.9zM968.8 944.1h.9v.9h-.9zM964.3 948.8h.9v.9h-.9zM949.6 924.3h.9v.9h-.9zM939.1 944.9h.9v.9h-.9zM949.4 949.8h.9v.9h-.9zM955.8 924.2h.9v.9h-.9zM963.3 950.8h.9v.9h-.9zM952.0 924.6h.9v.9h-.9zM943.1 947.6h.9v.9h-.9zM942.2 931.2h.9v.9h-.9zM970.7 939.6h.9v.9h-.9zM958.3 925.8h.9v.9h-.9zM940.0 941.9h.9v.9h-.9zM959.0 949.0h.9v.9h-.9zM942.4 945.1h.9v.9h-.9zM969.9 941.1h.9v.9h-.9zM963.6 949.1h.9v.9h-.9zM968.7 942.9h.9v.9h-.9zM939.2 942.9h.9v.9h-.9zM950.9 926.5h.9v.9h-.9zM941.4 945.6h.9v.9h-.9zM974.7 941.5h.9v.9h-.9zM958.0 948.9h.9v.9h-.9zM939.9 941.0h.9v.9h-.9zM943.3 929.0h.9v.9h-.9zM965.6 946.1h.9v.9h-.9zM952.9 925.0h.9v.9h-.9zM959.1 924.3h.9v.9h-.9zM969.8 933.4h.9v.9h-.9zM955.1 949.7h.9v.9h-.9zM962.2 924.3h.9v.9h-.9zM946.7 947.4h.9v.9h-.9zM946.9 922.9h.9v.9h-.9zM943.0 932.2h.9v.9h-.9zM969.8 941.2h.9v.9h-.9zM962.1 947.7h.9v.9h-.9zM972.2 943.3h.9v.9h-.9zM967.7 931.1h.9v.9h-.9zM972.0 936.8h.9v.9h-.9zM961.6 922.5h.9v.9h-.9zM968.7 934.5h.9v.9h-.9zM949.1 950.3h.9v.9h-.9zM969.2 934.9h.9v.9h-.9zM949.9 951.4h.9v.9h-.9zM967.6 946.5h.9v.9h-.9zM945.9 949.6h.9v.9h-.9zM969.0 933.3h.9v.9h-.9zM953.9 922.5h.9v.9h-.9zM964.1 925.7h.9v.9h-.9zM969.7 932.5h.9v.9h-.9zM941.6 944.6h.9v.9h-.9zM958.3 924.0h.9v.9h-.9zM953.2 949.3h.9v.9h-.9zM951.8 923.4h.9v.9h-.9zM951.0 924.7h.9v.9h-.9zM939.8 940.2h.9v.9h-.9zM951.5 926.5h.9v.9h-.9zM936.8 941.9h.9v.9h-.9zM948.5 927.1h.9v.9h-.9zM956.6 951.8h.9v.9h-.9zM943.0 925.6h.9v.9h-.9zM966.9 928.3h.9v.9h-.9zM969.9 929.2h.9v.9h-.9zM946.8 948.6h.9v.9h-.9zM970.1 944.1h.9v.9h-.9zM969.6 935.6h.9v.9h-.9zM941.4 933.6h.9v.9h-.9zM970.9 945.1h.9v.9h-.9zM956.0 948.9h.9v.9h-.9zM965.5 949.0h.9v.9h-.9zM942.6 932.6h.9v.9h-.9zM957.6 952.2h.9v.9h-.9zM958.4 950.6h.9v.9h-.9zM938.6 945.3h.9v.9h-.9zM940.1 928.9h.9v.9h-.9zM940.0 936.3h.9v.9h-.9zM961.6 948.1h.9v.9h-.9zM962.0 927.2h.9v.9h-.9zM974.7 941.3h.9v.9h-.9zM961.2 951.4h.9v.9h-.9zM969.7 945.1h.9v.9h-.9zM958.4 951.6h.9v.9h-.9zM941.6 928.5h.9v.9h-.9zM956.5 921.8h.9v.9h-.9zM945.0 948.9h.9v.9h-.9zM940.9 942.7h.9v.9h-.9zM964.2 925.5h.9v.9h-.9zM961.3 926.3h.9v.9h-.9zM938.6 935.6h.9v.9h-.9zM953.1 926.0h.9v.9h-.9zM945.3 948.5h.9v.9h-.9zM970.9 944.3h.9v.9h-.9zM953.6 924.1h.9v.9h-.9zM944.5 926.3h.9v.9h-.9zM958.8 949.8h.9v.9h-.9zM971.4 939.0h.9v.9h-.9zM941.6 943.5h.9v.9h-.9zM958.2 949.1h.9v.9h-.9zM971.9 932.3h.9v.9h-.9zM969.2 926.5h.9v.9h-.9zM940.1 927.8h.9v.9h-.9zM938.7 936.0h.9v.9h-.9zM973.6 933.7h.9v.9h-.9zM971.4 934.5h.9v.9h-.9zM957.6 924.3h.9v.9h-.9zM974.7 939.1h.9v.9h-.9zM950.0 951.7h.9v.9h-.9zM961.1 948.3h.9v.9h-.9zM952.3 924.9h.9v.9h-.9zM937.2 937.4h.9v.9h-.9zM973.1 942.4h.9v.9h-.9zM952.4 950.2h.9v.9h-.9zM944.7 949.4h.9v.9h-.9zM954.8 924.8h.9v.9h-.9zM967.9 945.7h.9v.9h-.9zM942.5 944.5h.9v.9h-.9zM965.8 949.3h.9v.9h-.9zM949.0 922.1h.9v.9h-.9zM974.3 937.1h.9v.9h-.9zM944.4 946.5h.9v.9h-.9zM948.6 949.6h.9v.9h-.9zM937.8 936.8h.9v.9h-.9zM942.9 949.0h.9v.9h-.9zM951.4 950.2h.9v.9h-.9zM969.5 928.1h.9v.9h-.9zM950.5 949.2h.9v.9h-.9zM960.2 927.0h.9v.9h-.9zM966.9 947.7h.9v.9h-.9zM940.1 936.3h.9v.9h-.9zM969.9 942.5h.9v.9h-.9zM957.2 924.0h.9v.9h-.9zM973.8 937.2h.9v.9h-.9zM969.6 937.7h.9v.9h-.9zM960.9 948.0h.9v.9h-.9zM940.2 943.8h.9v.9h-.9zM971.7 943.0h.9v.9h-.9zM968.6 945.2h.9v.9h-.9zM955.4 951.7h.9v.9h-.9zM941.2 944.5h.9v.9h-.9zM971.3 942.4h.9v.9h-.9zM942.4 927.5h.9v.9h-.9zM971.3 930.4h.9v.9h-.9zM955.4 949.2h.9v.9h-.9zM956.1 922.2h.9v.9h-.9zM936.0 938.4h.9v.9h-.9zM939.9 934.7h.9v.9h-.9zM962.2 947.6h.9v.9h-.9zM943.0 925.5h.9v.9h-.9zM969.3 930.7h.9v.9h-.9zM945.1 923.9h.9v.9h-.9zM962.1 924.4h.9v.9h-.9zM940.2 945.2h.9v.9h-.9zM962.5 948.2h.9v.9h-.9zM947.0 922.7h.9v.9h-.9zM939.1 935.0h.9v.9h-.9zM944.9 948.2h.9v.9h-.9zM960.6 924.8h.9v.9h-.9zM969.9 935.9h.9v.9h-.9zM948.2 949.7h.9v.9h-.9zM938.7 945.9h.9v.9h-.9zM964.3 923.6h.9v.9h-.9zM944.0 930.7h.9v.9h-.9zM939.5 932.2h.9v.9h-.9zM939.1 940.2h.9v.9h-.9zM950.2 922.1h.9v.9h-.9zM969.7 946.5h.9v.9h-.9zM943.1 947.5h.9v.9h-.9zM970.8 928.4h.9v.9h-.9zM945.5 928.3h.9v.9h-.9zM968.7 932.7h.9v.9h-.9zM940.9 947.7h.9v.9h-.9zM948.6 948.9h.9v.9h-.9zM973.9 933.8h.9v.9h-.9zM948.3 949.2h.9v.9h-.9zM952.1 949.0h.9v.9h-.9zM955.1 952.3h.9v.9h-.9zM968.9 944.3h.9v.9h-.9zM959.7 948.6h.9v.9h-.9zM936.7 936.6h.9v.9h-.9zM964.6 925.5h.9v.9h-.9zM961.1 927.4h.9v.9h-.9zM951.1 952.0h.9v.9h-.9zM969.6 943.8h.9v.9h-.9zM939.2 940.5h.9v.9h-.9zM941.0 935.6h.9v.9h-.9zM956.8 952.2h.9v.9h-.9zM967.1 949.3h.9v.9h-.9zM963.9 951.0h.9v.9h-.9zM946.9 924.7h.9v.9h-.9zM964.3 946.8h.9v.9h-.9zM956.0 925.3h.9v.9h-.9zM962.2 950.9h.9v.9h-.9zM965.5 929.9h.9v.9h-.9zM972.0 935.5h.9v.9h-.9zM944.0 946.0h.9v.9h-.9zM939.7 947.7h.9v.9h-.9zM952.2 949.0h.9v.9h-.9zM964.4 947.2h.9v.9h-.9zM943.4 949.5h.9v.9h-.9zM968.8 944.1h.9v.9h-.9zM973.7 932.6h.9v.9h-.9zM970.8 937.6h.9v.9h-.9zM943.0 949.5h.9v.9h-.9zM936.8 940.5h.9v.9h-.9zM949.5 948.1h.9v.9h-.9zM944.6 949.4h.9v.9h-.9zM958.6 923.6h.9v.9h-.9zM938.1 941.9h.9v.9h-.9zM938.8 943.4h.9v.9h-.9zM962.9 927.1h.9v.9h-.9zM938.8 929.4h.9v.9h-.9zM964.1 927.9h.9v.9h-.9zM973.8 935.4h.9v.9h-.9zM963.0 948.4h.9v.9h-.9zM959.4 948.5h.9v.9h-.9zM971.7 937.3h.9v.9h-.9zM965.6 929.5h.9v.9h-.9zM974.4 940.5h.9v.9h-.9zM960.6 921.8h.9v.9h-.9zM948.2 924.8h.9v.9h-.9zM956.6 925.8h.9v.9h-.9zM938.7 935.5h.9v.9h-.9zM965.9 948.6h.9v.9h-.9zM947.4 949.4h.9v.9h-.9zM943.7 946.9h.9v.9h-.9zM943.9 948.4h.9v.9h-.9zM974.7 937.2h.9v.9h-.9zM967.5 926.1h.9v.9h-.9zM950.5 952.0h.9v.9h-.9zM953.2 949.1h.9v.9h-.9zM936.5 939.3h.9v.9h-.9zM945.3 949.2h.9v.9h-.9zM951.1 952.0h.9v.9h-.9zM938.7 942.6h.9v.9h-.9zM975.5 941.9h.9v.9h-.9zM1003.8 918.3h.9v.9h-.9zM970.0 924.4h.9v.9h-.9zM946.9 911.3h.9v.9h-.9zM995.1 935.3h.9v.9h-.9zM946.3 940.5h.9v.9h-.9zM966.4 949.1h.9v.9h-.9zM965.3 897.0h.9v.9h-.9zM976.6 942.5h.9v.9h-.9zM969.3 941.4h.9v.9h-.9zM986.7 907.0h.9v.9h-.9zM961.2 916.8h.9v.9h-.9zM967.3 907.7h.9v.9h-.9zM983.0 941.9h.9v.9h-.9zM978.8 892.3h.9v.9h-.9zM956.2 907.6h.9v.9h-.9zM980.7 891.9h.9v.9h-.9zM947.7 904.2h.9v.9h-.9zM960.1 884.4h.9v.9h-.9zM976.0 945.0h.9v.9h-.9zM975.7 932.5h.9v.9h-.9zM994.0 939.4h.9v.9h-.9zM999.2 912.4h.9v.9h-.9zM984.9 890.6h.9v.9h-.9zM997.2 908.1h.9v.9h-.9zM972.1 942.9h.9v.9h-.9zM960.4 895.3h.9v.9h-.9zM993.7 923.1h.9v.9h-.9zM947.9 884.3h.9v.9h-.9zM964.4 882.9h.9v.9h-.9zM994.4 895.5h.9v.9h-.9zM982.3 906.0h.9v.9h-.9zM988.6 898.1h.9v.9h-.9zM978.6 915.2h.9v.9h-.9zM973.2 917.0h.9v.9h-.9zM997.3 890.5h.9v.9h-.9zM983.2 905.1h.9v.9h-.9zM992.9 895.9h.9v.9h-.9zM989.3 900.0h.9v.9h-.9zM986.1 907.2h.9v.9h-.9zM975.5 917.8h.9v.9h-.9zM989.3 901.6h.9v.9h-.9zM987.2 902.3h.9v.9h-.9zM983.8 909.0h.9v.9h-.9zM987.7 903.5h.9v.9h-.9zM996.6 894.1h.9v.9h-.9zM987.7 901.9h.9v.9h-.9zM997.1 890.3h.9v.9h-.9zM980.9 912.4h.9v.9h-.9zM983.3 911.4h.9v.9h-.9zM981.3 908.0h.9v.9h-.9zM978.3 913.9h.9v.9h-.9zM979.7 911.9h.9v.9h-.9zM984.3 905.1h.9v.9h-.9zM995.4 894.8h.9v.9h-.9zM984.6 907.2h.9v.9h-.9zM980.4 908.5h.9v.9h-.9zM976.9 916.7h.9v.9h-.9zM988.2 903.7h.9v.9h-.9zM978.6 909.5h.9v.9h-.9zM978.5 911.1h.9v.9h-.9zM985.7 900.6h.9v.9h-.9zM988.0 905.5h.9v.9h-.9zM992.4 893.7h.9v.9h-.9zM983.0 908.3h.9v.9h-.9zM981.7 906.9h.9v.9h-.9zM984.8 907.3h.9v.9h-.9zM978.3 911.2h.9v.9h-.9zM991.1 896.4h.9v.9h-.9zM988.4 900.7h.9v.9h-.9zM988.7 900.6h.9v.9h-.9zM983.9 901.7h.9v.9h-.9zM981.5 913.3h.9v.9h-.9zM986.8 904.7h.9v.9h-.9zM990.3 891.8h.9v.9h-.9zM993.9 892.9h.9v.9h-.9zM971.8 917.0h.9v.9h-.9zM981.1 907.5h.9v.9h-.9zM979.9 908.4h.9v.9h-.9zM985.5 907.5h.9v.9h-.9zM982.2 907.2h.9v.9h-.9zM984.7 907.5h.9v.9h-.9zM988.8 901.2h.9v.9h-.9zM986.8 905.3h.9v.9h-.9zM979.9 914.2h.9v.9h-.9zM997.1 890.6h.9v.9h-.9zM985.4 906.4h.9v.9h-.9zM982.9 908.0h.9v.9h-.9zM994.6 891.7h.9v.9h-.9zM981.9 909.7h.9v.9h-.9zM987.2 901.0h.9v.9h-.9zM982.6 910.9h.9v.9h-.9zM992.4 896.4h.9v.9h-.9zM991.2 896.4h.9v.9h-.9zM987.1 903.9h.9v.9h-.9zM993.6 898.1h.9v.9h-.9zM979.5 909.6h.9v.9h-.9zM994.6 891.5h.9v.9h-.9zM988.2 899.2h.9v.9h-.9zM978.7 909.5h.9v.9h-.9zM985.0 906.4h.9v.9h-.9zM990.5 901.8h.9v.9h-.9zM989.7 901.9h.9v.9h-.9zM991.3 897.3h.9v.9h-.9zM987.8 897.8h.9v.9h-.9zM981.7 915.6h.9v.9h-.9zM989.3 896.9h.9v.9h-.9zM975.5 913.0h.9v.9h-.9zM989.5 900.9h.9v.9h-.9zM990.1 899.0h.9v.9h-.9zM975.2 921.0h.9v.9h-.9zM979.2 907.5h.9v.9h-.9zM989.0 902.4h.9v.9h-.9zM972.0 922.4h.9v.9h-.9zM980.3 913.3h.9v.9h-.9zM983.3 907.8h.9v.9h-.9zM991.0 896.9h.9v.9h-.9zM984.7 903.3h.9v.9h-.9zM977.1 912.0h.9v.9h-.9zM983.2 909.0h.9v.9h-.9zM975.3 917.5h.9v.9h-.9zM986.6 901.0h.9v.9h-.9zM975.0 918.9h.9v.9h-.9zM978.0 911.5h.9v.9h-.9zM990.5 894.7h.9v.9h-.9zM990.2 896.5h.9v.9h-.9zM984.7 909.6h.9v.9h-.9zM989.6 905.1h.9v.9h-.9zM987.3 899.5h.9v.9h-.9zM978.0 914.5h.9v.9h-.9zM984.3 906.8h.9v.9h-.9zM985.4 903.1h.9v.9h-.9zM995.6 892.1h.9v.9h-.9zM988.6 903.8h.9v.9h-.9zM995.1 893.1h.9v.9h-.9zM989.9 900.0h.9v.9h-.9zM981.6 909.5h.9v.9h-.9zM993.0 901.8h.9v.9h-.9zM975.4 917.5h.9v.9h-.9zM975.7 914.1h.9v.9h-.9zM990.3 895.8h.9v.9h-.9zM974.8 914.4h.9v.9h-.9zM997.1 891.1h.9v.9h-.9zM992.1 897.5h.9v.9h-.9zM989.8 896.8h.9v.9h-.9zM985.5 903.7h.9v.9h-.9zM981.9 907.3h.9v.9h-.9zM986.0 905.2h.9v.9h-.9zM989.9 894.9h.9v.9h-.9zM986.5 905.0h.9v.9h-.9zM975.0 919.2h.9v.9h-.9zM989.2 901.0h.9v.9h-.9zM977.0 917.2h.9v.9h-.9zM982.2 908.8h.9v.9h-.9zM982.4 907.7h.9v.9h-.9zM991.8 895.3h.9v.9h-.9zM991.5 898.1h.9v.9h-.9zM980.7 913.1h.9v.9h-.9zM989.7 898.4h.9v.9h-.9zM991.0 896.2h.9v.9h-.9zM985.8 903.3h.9v.9h-.9zM982.7 903.9h.9v.9h-.9zM996.7 895.4h.9v.9h-.9zM992.2 890.8h.9v.9h-.9zM978.0 910.7h.9v.9h-.9zM973.7 912.5h.9v.9h-.9zM983.8 906.2h.9v.9h-.9zM985.8 905.7h.9v.9h-.9zM992.6 895.0h.9v.9h-.9zM986.4 904.0h.9v.9h-.9zM974.6 918.5h.9v.9h-.9zM985.2 906.0h.9v.9h-.9zM976.7 915.2h.9v.9h-.9zM980.9 910.8h.9v.9h-.9zM994.6 893.8h.9v.9h-.9zM977.7 910.9h.9v.9h-.9zM982.9 905.8h.9v.9h-.9zM996.4 893.1h.9v.9h-.9zM994.7 895.1h.9v.9h-.9zM981.7 915.3h.9v.9h-.9zM997.1 891.4h.9v.9h-.9zM976.3 915.1h.9v.9h-.9zM995.2 893.8h.9v.9h-.9zM997.3 895.0h.9v.9h-.9zM981.7 907.8h.9v.9h-.9zM994.1 893.5h.9v.9h-.9zM989.1 898.2h.9v.9h-.9zM976.7 914.4h.9v.9h-.9zM994.2 894.1h.9v.9h-.9zM983.6 908.8h.9v.9h-.9z"/><ellipse cx="984.3" cy="905.7" rx="14" ry="2.8" transform="rotate(-50.2 984.3 905.7)" fill="#1a2aa8"/><ellipse cx="983.3" cy="906.7" rx="8" ry="1.5" transform="rotate(-50.2 984.3 905.7)" fill="#1840e0"/><ellipse cx="954.6" cy="940.4" rx="14.4" ry="6.7" fill="#1848f0"/><ellipse cx="954.6" cy="940.4" rx="13.2" ry="6.1" fill="#10c0f0"/><ellipse cx="954.6" cy="940.4" rx="11.8" ry="5.4" fill="#30dc40"/><ellipse cx="954.6" cy="940.4" rx="9.8" ry="4.6" fill="#f0ea10"/><ellipse cx="954.6" cy="940.4" rx="7.9" ry="3.8" fill="#ff8c10"/><ellipse cx="954.6" cy="940.4" rx="5.9" ry="2.9" fill="#ff2810"/><polygon points="969.4,905.1 979.8,888.7 984.4,886.7 1003.6,880.4 1007.4,888.9 990.3,912.7 979.4,923.5 971.8,921.2" fill="none" stroke="#ff3030" stroke-width="0.8"/><line x1="927.8" y1="845.7" x2="927.8" y2="967.7" stroke="#000" stroke-width="1.6" /><line x1="926.8" y1="966.7" x2="1041.1" y2="966.7" stroke="#000" stroke-width="1.6" /><line x1="924.6" y1="885.7" x2="927.8" y2="885.7" stroke="#000" stroke-width="0.7" /><line x1="926" y1="877.42" x2="927.8" y2="877.42" stroke="#000" stroke-width="0.7" /><line x1="926" y1="872.58" x2="927.8" y2="872.58" stroke="#000" stroke-width="0.7" /><line x1="926" y1="869.14" x2="927.8" y2="869.14" stroke="#000" stroke-width="0.7" /><line x1="926" y1="866.48" x2="927.8" y2="866.48" stroke="#000" stroke-width="0.7" /><line x1="926" y1="864.3" x2="927.8" y2="864.3" stroke="#000" stroke-width="0.7" /><line x1="926" y1="862.46" x2="927.8" y2="862.46" stroke="#000" stroke-width="0.7" /><line x1="926" y1="860.87" x2="927.8" y2="860.87" stroke="#000" stroke-width="0.7" /><line x1="926" y1="859.46" x2="927.8" y2="859.46" stroke="#000" stroke-width="0.7" /><line x1="924.6" y1="913.4" x2="927.8" y2="913.4" stroke="#000" stroke-width="0.7" /><line x1="926" y1="905.12" x2="927.8" y2="905.12" stroke="#000" stroke-width="0.7" /><line x1="926" y1="900.28" x2="927.8" y2="900.28" stroke="#000" stroke-width="0.7" /><line x1="926" y1="896.84" x2="927.8" y2="896.84" stroke="#000" stroke-width="0.7" /><line x1="926" y1="894.18" x2="927.8" y2="894.18" stroke="#000" stroke-width="0.7" /><line x1="926" y1="892" x2="927.8" y2="892" stroke="#000" stroke-width="0.7" /><line x1="926" y1="890.16" x2="927.8" y2="890.16" stroke="#000" stroke-width="0.7" /><line x1="926" y1="888.57" x2="927.8" y2="888.57" stroke="#000" stroke-width="0.7" /><line x1="926" y1="887.16" x2="927.8" y2="887.16" stroke="#000" stroke-width="0.7" /><line x1="924.6" y1="940.7" x2="927.8" y2="940.7" stroke="#000" stroke-width="0.7" /><line x1="926" y1="932.42" x2="927.8" y2="932.42" stroke="#000" stroke-width="0.7" /><line x1="926" y1="927.58" x2="927.8" y2="927.58" stroke="#000" stroke-width="0.7" /><line x1="926" y1="924.14" x2="927.8" y2="924.14" stroke="#000" stroke-width="0.7" /><line x1="926" y1="921.48" x2="927.8" y2="921.48" stroke="#000" stroke-width="0.7" /><line x1="926" y1="919.3" x2="927.8" y2="919.3" stroke="#000" stroke-width="0.7" /><line x1="926" y1="917.46" x2="927.8" y2="917.46" stroke="#000" stroke-width="0.7" /><line x1="926" y1="915.87" x2="927.8" y2="915.87" stroke="#000" stroke-width="0.7" /><line x1="926" y1="914.46" x2="927.8" y2="914.46" stroke="#000" stroke-width="0.7" /><line x1="976.1" y1="966.7" x2="976.1" y2="969.9" stroke="#000" stroke-width="0.7" /><line x1="984.38" y1="966.7" x2="984.38" y2="968.5" stroke="#000" stroke-width="0.7" /><line x1="989.22" y1="966.7" x2="989.22" y2="968.5" stroke="#000" stroke-width="0.7" /><line x1="992.66" y1="966.7" x2="992.66" y2="968.5" stroke="#000" stroke-width="0.7" /><line x1="995.32" y1="966.7" x2="995.32" y2="968.5" stroke="#000" stroke-width="0.7" /><line x1="997.5" y1="966.7" x2="997.5" y2="968.5" stroke="#000" stroke-width="0.7" /><line x1="999.34" y1="966.7" x2="999.34" y2="968.5" stroke="#000" stroke-width="0.7" /><line x1="1000.93" y1="966.7" x2="1000.93" y2="968.5" stroke="#000" stroke-width="0.7" /><line x1="1002.34" y1="966.7" x2="1002.34" y2="968.5" stroke="#000" stroke-width="0.7" /><line x1="1003.6" y1="966.7" x2="1003.6" y2="969.9" stroke="#000" stroke-width="0.7" /><line x1="1011.88" y1="966.7" x2="1011.88" y2="968.5" stroke="#000" stroke-width="0.7" /><line x1="1016.72" y1="966.7" x2="1016.72" y2="968.5" stroke="#000" stroke-width="0.7" /><line x1="1020.16" y1="966.7" x2="1020.16" y2="968.5" stroke="#000" stroke-width="0.7" /><line x1="1022.82" y1="966.7" x2="1022.82" y2="968.5" stroke="#000" stroke-width="0.7" /><line x1="1025" y1="966.7" x2="1025" y2="968.5" stroke="#000" stroke-width="0.7" /><line x1="1026.84" y1="966.7" x2="1026.84" y2="968.5" stroke="#000" stroke-width="0.7" /><line x1="1028.43" y1="966.7" x2="1028.43" y2="968.5" stroke="#000" stroke-width="0.7" /><line x1="1029.84" y1="966.7" x2="1029.84" y2="968.5" stroke="#000" stroke-width="0.7" /><line x1="1031.9" y1="966.7" x2="1031.9" y2="969.9" stroke="#000" stroke-width="0.7" /><line x1="926" y1="936.7" x2="927.8" y2="936.7" stroke="#000" stroke-width="0.7" /><line x1="926" y1="943.7" x2="927.8" y2="943.7" stroke="#000" stroke-width="0.7" /><line x1="926" y1="950.7" x2="927.8" y2="950.7" stroke="#000" stroke-width="0.7" /><line x1="926" y1="957.7" x2="927.8" y2="957.7" stroke="#000" stroke-width="0.7" /><rect x="924.3" y="938.7" width="3.5" height="4" fill="#000" /><rect x="951.8" y="966.7" width="5" height="2.5" fill="#000" /><text x="914.6" y="862.5" font-size="12" text-anchor="end">10</text><text x="915" y="856.7" font-size="7.5">5</text><text x="914.6" y="890.2" font-size="12" text-anchor="end">10</text><text x="915" y="884.4" font-size="7.5">4</text><text x="914.6" y="917.5" font-size="12" text-anchor="end">10</text><text x="915" y="911.7" font-size="7.5">3</text><text x="914.6" y="946" font-size="12" text-anchor="end">−10</text><text x="915" y="940.2" font-size="7.5">2</text><text x="943.6" y="985.9" font-size="12" text-anchor="middle">−10</text><text x="953.3" y="979.7" font-size="7.5">2</text><text x="974.6" y="985.9" font-size="12" text-anchor="middle">10</text><text x="981.05" y="979.7" font-size="7.5">3</text><text x="1002.1" y="985.9" font-size="12" text-anchor="middle">10</text><text x="1008.55" y="979.7" font-size="7.5">4</text><text x="1030.4" y="985.9" font-size="12" text-anchor="middle">10</text><text x="1036.85" y="979.7" font-size="7.5">5</text><text x="977" y="867.1" font-size="14.2" text-anchor="middle" textLength="45.1" lengthAdjust="spacingAndGlyphs" >2.21%</text>
<ellipse cx="1108.1" cy="939.5" rx="16.8" ry="10" fill="#1a1a9a"/><ellipse cx="1108.6" cy="932.5" rx="13" ry="8" fill="#1a1a9a"/><path fill="#2020a0" d="M1109.4 948.7h.9v.9h-.9zM1095.9 945.0h.9v.9h-.9zM1123.4 943.4h.9v.9h-.9zM1124.6 930.5h.9v.9h-.9zM1109.6 924.8h.9v.9h-.9zM1092.5 935.7h.9v.9h-.9zM1115.1 947.6h.9v.9h-.9zM1112.5 951.4h.9v.9h-.9zM1117.1 923.8h.9v.9h-.9zM1112.9 925.5h.9v.9h-.9zM1101.5 949.8h.9v.9h-.9zM1105.9 921.6h.9v.9h-.9zM1119.0 929.7h.9v.9h-.9zM1093.8 928.7h.9v.9h-.9zM1092.7 938.5h.9v.9h-.9zM1093.4 940.6h.9v.9h-.9zM1125.8 932.0h.9v.9h-.9zM1092.7 934.7h.9v.9h-.9zM1122.9 930.3h.9v.9h-.9zM1122.3 927.2h.9v.9h-.9zM1091.4 938.2h.9v.9h-.9zM1094.4 930.0h.9v.9h-.9zM1116.6 947.9h.9v.9h-.9zM1113.7 926.6h.9v.9h-.9zM1125.3 942.3h.9v.9h-.9zM1104.8 950.1h.9v.9h-.9zM1092.0 940.9h.9v.9h-.9zM1123.6 938.8h.9v.9h-.9zM1094.8 944.3h.9v.9h-.9zM1097.3 928.2h.9v.9h-.9zM1096.6 948.5h.9v.9h-.9zM1100.5 949.3h.9v.9h-.9zM1120.5 931.3h.9v.9h-.9zM1122.7 942.8h.9v.9h-.9zM1109.8 922.8h.9v.9h-.9zM1109.4 949.5h.9v.9h-.9zM1115.6 948.9h.9v.9h-.9zM1125.8 942.2h.9v.9h-.9zM1123.8 928.0h.9v.9h-.9zM1106.2 921.0h.9v.9h-.9zM1124.1 940.2h.9v.9h-.9zM1126.5 935.4h.9v.9h-.9zM1091.4 945.8h.9v.9h-.9zM1094.3 927.1h.9v.9h-.9zM1103.9 948.7h.9v.9h-.9zM1093.8 942.4h.9v.9h-.9zM1093.5 947.7h.9v.9h-.9zM1101.0 947.2h.9v.9h-.9zM1122.9 941.8h.9v.9h-.9zM1111.6 924.3h.9v.9h-.9zM1104.3 948.4h.9v.9h-.9zM1124.8 937.2h.9v.9h-.9zM1112.0 948.2h.9v.9h-.9zM1122.6 942.4h.9v.9h-.9zM1101.3 926.5h.9v.9h-.9zM1124.7 941.8h.9v.9h-.9zM1108.2 952.0h.9v.9h-.9zM1120.6 946.8h.9v.9h-.9zM1110.6 923.9h.9v.9h-.9zM1125.2 937.8h.9v.9h-.9zM1109.0 949.8h.9v.9h-.9zM1124.5 941.5h.9v.9h-.9zM1108.3 951.6h.9v.9h-.9zM1116.5 925.3h.9v.9h-.9zM1123.7 941.0h.9v.9h-.9zM1108.8 949.1h.9v.9h-.9zM1110.3 951.4h.9v.9h-.9zM1117.4 946.4h.9v.9h-.9zM1124.0 932.0h.9v.9h-.9zM1124.8 938.1h.9v.9h-.9zM1122.8 929.4h.9v.9h-.9zM1112.8 922.6h.9v.9h-.9zM1093.1 939.3h.9v.9h-.9zM1112.8 951.1h.9v.9h-.9zM1124.0 928.5h.9v.9h-.9zM1098.7 949.0h.9v.9h-.9zM1113.6 923.3h.9v.9h-.9zM1115.0 924.4h.9v.9h-.9zM1097.8 925.2h.9v.9h-.9zM1105.8 951.6h.9v.9h-.9zM1122.4 935.3h.9v.9h-.9zM1127.6 935.7h.9v.9h-.9zM1100.9 927.3h.9v.9h-.9zM1120.3 930.8h.9v.9h-.9zM1125.9 935.7h.9v.9h-.9zM1122.4 942.7h.9v.9h-.9zM1096.4 926.9h.9v.9h-.9zM1107.7 921.1h.9v.9h-.9zM1110.9 948.2h.9v.9h-.9zM1120.9 932.8h.9v.9h-.9zM1118.9 929.4h.9v.9h-.9zM1115.0 923.0h.9v.9h-.9zM1120.7 927.9h.9v.9h-.9zM1119.4 929.2h.9v.9h-.9zM1100.4 925.9h.9v.9h-.9zM1122.7 928.2h.9v.9h-.9zM1091.0 941.0h.9v.9h-.9zM1122.5 940.6h.9v.9h-.9zM1093.8 930.2h.9v.9h-.9zM1119.9 926.8h.9v.9h-.9zM1118.7 947.2h.9v.9h-.9zM1110.0 923.2h.9v.9h-.9zM1127.2 939.8h.9v.9h-.9zM1115.1 927.0h.9v.9h-.9zM1092.1 934.9h.9v.9h-.9zM1111.9 924.6h.9v.9h-.9zM1109.9 950.1h.9v.9h-.9zM1122.7 936.1h.9v.9h-.9zM1121.6 946.6h.9v.9h-.9zM1121.1 928.6h.9v.9h-.9zM1090.5 944.0h.9v.9h-.9zM1110.6 925.7h.9v.9h-.9zM1119.5 929.4h.9v.9h-.9zM1101.9 950.7h.9v.9h-.9zM1091.4 944.7h.9v.9h-.9zM1117.7 949.9h.9v.9h-.9zM1114.9 947.9h.9v.9h-.9zM1091.8 939.4h.9v.9h-.9zM1089.2 934.4h.9v.9h-.9zM1104.5 926.2h.9v.9h-.9zM1101.5 949.5h.9v.9h-.9zM1089.7 940.0h.9v.9h-.9zM1093.3 940.0h.9v.9h-.9zM1108.7 951.4h.9v.9h-.9zM1096.4 948.5h.9v.9h-.9zM1126.0 937.5h.9v.9h-.9zM1100.2 924.4h.9v.9h-.9zM1100.5 950.7h.9v.9h-.9zM1089.0 941.6h.9v.9h-.9zM1101.5 950.7h.9v.9h-.9zM1112.2 923.1h.9v.9h-.9zM1093.9 942.5h.9v.9h-.9zM1110.3 924.1h.9v.9h-.9zM1100.1 927.2h.9v.9h-.9zM1121.4 943.9h.9v.9h-.9zM1113.7 925.9h.9v.9h-.9zM1121.6 930.3h.9v.9h-.9zM1093.5 932.1h.9v.9h-.9zM1097.2 929.6h.9v.9h-.9zM1092.0 946.3h.9v.9h-.9zM1115.8 949.6h.9v.9h-.9zM1100.6 948.3h.9v.9h-.9zM1122.5 940.4h.9v.9h-.9zM1126.2 933.6h.9v.9h-.9zM1114.1 922.6h.9v.9h-.9zM1122.8 935.0h.9v.9h-.9zM1093.2 931.1h.9v.9h-.9zM1090.5 931.0h.9v.9h-.9zM1109.4 920.9h.9v.9h-.9zM1121.5 946.8h.9v.9h-.9zM1099.7 923.8h.9v.9h-.9zM1094.0 927.2h.9v.9h-.9zM1101.7 951.0h.9v.9h-.9zM1093.3 945.4h.9v.9h-.9zM1122.8 928.9h.9v.9h-.9zM1102.3 948.5h.9v.9h-.9zM1099.8 949.3h.9v.9h-.9zM1127.6 938.6h.9v.9h-.9zM1094.6 945.3h.9v.9h-.9zM1114.7 925.7h.9v.9h-.9zM1095.8 944.0h.9v.9h-.9zM1115.2 949.3h.9v.9h-.9zM1101.9 923.7h.9v.9h-.9zM1095.1 948.6h.9v.9h-.9zM1097.1 929.2h.9v.9h-.9zM1126.2 944.3h.9v.9h-.9zM1127.7 937.6h.9v.9h-.9zM1095.2 930.0h.9v.9h-.9zM1121.4 944.6h.9v.9h-.9zM1111.5 951.5h.9v.9h-.9zM1122.8 928.3h.9v.9h-.9zM1117.5 947.2h.9v.9h-.9zM1102.1 951.2h.9v.9h-.9zM1117.9 949.5h.9v.9h-.9zM1100.7 924.5h.9v.9h-.9zM1123.5 935.3h.9v.9h-.9zM1092.9 936.9h.9v.9h-.9zM1120.1 944.4h.9v.9h-.9zM1102.0 947.9h.9v.9h-.9zM1126.7 943.9h.9v.9h-.9zM1103.4 951.2h.9v.9h-.9zM1102.6 922.8h.9v.9h-.9zM1097.0 924.1h.9v.9h-.9zM1121.5 927.3h.9v.9h-.9zM1091.0 932.8h.9v.9h-.9zM1105.2 923.2h.9v.9h-.9zM1092.8 938.8h.9v.9h-.9zM1117.7 926.0h.9v.9h-.9zM1122.1 943.1h.9v.9h-.9zM1119.3 928.7h.9v.9h-.9zM1093.9 946.5h.9v.9h-.9zM1118.6 927.6h.9v.9h-.9zM1095.4 946.1h.9v.9h-.9zM1127.2 941.2h.9v.9h-.9zM1127.8 940.5h.9v.9h-.9zM1116.9 947.1h.9v.9h-.9zM1119.2 924.8h.9v.9h-.9zM1110.1 950.3h.9v.9h-.9zM1089.8 940.7h.9v.9h-.9zM1115.7 950.3h.9v.9h-.9zM1126.5 938.6h.9v.9h-.9zM1125.4 930.5h.9v.9h-.9zM1094.1 947.5h.9v.9h-.9zM1117.0 925.0h.9v.9h-.9zM1122.1 946.2h.9v.9h-.9zM1121.8 931.2h.9v.9h-.9zM1096.3 924.8h.9v.9h-.9zM1096.2 931.1h.9v.9h-.9zM1097.4 928.3h.9v.9h-.9zM1119.5 926.1h.9v.9h-.9zM1101.2 950.8h.9v.9h-.9zM1096.5 928.5h.9v.9h-.9zM1117.9 923.7h.9v.9h-.9zM1123.3 928.0h.9v.9h-.9zM1098.1 925.0h.9v.9h-.9zM1094.3 929.3h.9v.9h-.9zM1124.5 937.8h.9v.9h-.9zM1124.2 944.9h.9v.9h-.9zM1090.6 939.1h.9v.9h-.9zM1095.2 930.7h.9v.9h-.9zM1112.6 948.2h.9v.9h-.9zM1112.0 921.5h.9v.9h-.9zM1103.1 926.0h.9v.9h-.9zM1127.0 936.7h.9v.9h-.9zM1093.7 938.2h.9v.9h-.9zM1118.1 925.4h.9v.9h-.9zM1097.6 929.8h.9v.9h-.9zM1106.5 925.7h.9v.9h-.9zM1093.0 940.4h.9v.9h-.9zM1095.7 948.7h.9v.9h-.9zM1107.9 921.7h.9v.9h-.9zM1103.1 949.3h.9v.9h-.9zM1096.5 930.8h.9v.9h-.9zM1091.1 945.7h.9v.9h-.9zM1108.6 921.4h.9v.9h-.9zM1102.6 950.3h.9v.9h-.9zM1112.5 922.7h.9v.9h-.9zM1093.8 942.8h.9v.9h-.9zM1127.4 940.4h.9v.9h-.9zM1122.7 932.9h.9v.9h-.9zM1108.7 923.8h.9v.9h-.9zM1094.8 926.4h.9v.9h-.9zM1100.3 949.5h.9v.9h-.9zM1107.4 950.2h.9v.9h-.9zM1123.7 940.9h.9v.9h-.9zM1103.6 951.3h.9v.9h-.9zM1120.7 947.9h.9v.9h-.9zM1125.2 945.7h.9v.9h-.9zM1115.6 947.4h.9v.9h-.9zM1112.8 951.4h.9v.9h-.9zM1098.6 923.5h.9v.9h-.9zM1093.0 939.0h.9v.9h-.9zM1098.9 948.3h.9v.9h-.9zM1123.5 938.1h.9v.9h-.9zM1108.8 951.4h.9v.9h-.9zM1123.1 947.5h.9v.9h-.9zM1103.0 949.9h.9v.9h-.9zM1097.7 923.9h.9v.9h-.9zM1125.2 944.7h.9v.9h-.9zM1116.0 949.8h.9v.9h-.9zM1126.6 941.1h.9v.9h-.9zM1114.6 948.2h.9v.9h-.9zM1124.0 941.3h.9v.9h-.9zM1098.7 950.4h.9v.9h-.9zM1095.2 929.6h.9v.9h-.9zM1123.5 938.1h.9v.9h-.9zM1112.4 951.5h.9v.9h-.9zM1125.5 934.0h.9v.9h-.9zM1122.7 937.2h.9v.9h-.9zM1123.2 929.4h.9v.9h-.9zM1098.7 923.8h.9v.9h-.9zM1120.4 945.1h.9v.9h-.9zM1119.2 947.4h.9v.9h-.9zM1091.3 934.4h.9v.9h-.9zM1096.0 948.2h.9v.9h-.9zM1118.0 924.5h.9v.9h-.9zM1123.0 941.3h.9v.9h-.9zM1111.1 949.0h.9v.9h-.9zM1094.2 932.7h.9v.9h-.9zM1096.5 928.5h.9v.9h-.9zM1096.0 948.0h.9v.9h-.9zM1122.7 934.2h.9v.9h-.9zM1096.5 949.5h.9v.9h-.9zM1111.5 948.2h.9v.9h-.9zM1115.0 950.5h.9v.9h-.9zM1105.8 921.1h.9v.9h-.9zM1093.4 939.2h.9v.9h-.9zM1101.7 950.2h.9v.9h-.9zM1096.2 945.1h.9v.9h-.9zM1096.0 946.8h.9v.9h-.9zM1097.6 947.6h.9v.9h-.9zM1117.7 946.1h.9v.9h-.9zM1112.0 922.5h.9v.9h-.9zM1094.9 943.8h.9v.9h-.9zM1103.1 949.9h.9v.9h-.9zM1121.6 929.4h.9v.9h-.9zM1125.3 936.4h.9v.9h-.9zM1115.6 949.5h.9v.9h-.9zM1093.7 929.4h.9v.9h-.9zM1105.8 925.9h.9v.9h-.9zM1090.6 943.7h.9v.9h-.9zM1117.6 946.3h.9v.9h-.9zM1114.7 948.5h.9v.9h-.9zM1093.2 943.2h.9v.9h-.9zM1097.9 928.5h.9v.9h-.9zM1097.8 948.7h.9v.9h-.9zM1089.0 934.0h.9v.9h-.9zM1122.7 933.3h.9v.9h-.9zM1099.2 948.7h.9v.9h-.9zM1092.2 934.9h.9v.9h-.9zM1118.2 928.2h.9v.9h-.9zM1093.2 940.8h.9v.9h-.9zM1121.3 928.1h.9v.9h-.9zM1123.3 937.9h.9v.9h-.9zM1103.8 923.3h.9v.9h-.9zM1126.2 942.9h.9v.9h-.9zM1118.6 929.3h.9v.9h-.9zM1125.7 932.8h.9v.9h-.9zM1094.2 929.3h.9v.9h-.9zM1106.9 948.5h.9v.9h-.9zM1089.0 940.9h.9v.9h-.9zM1112.4 949.7h.9v.9h-.9zM1104.4 950.6h.9v.9h-.9zM1126.9 934.6h.9v.9h-.9zM1104.1 949.6h.9v.9h-.9zM1125.5 939.2h.9v.9h-.9zM1119.7 925.1h.9v.9h-.9zM1123.3 943.8h.9v.9h-.9zM1122.8 944.2h.9v.9h-.9zM1121.8 931.4h.9v.9h-.9zM1119.3 924.1h.9v.9h-.9zM1114.6 926.1h.9v.9h-.9zM1125.2 930.2h.9v.9h-.9zM1122.6 938.9h.9v.9h-.9zM1124.2 939.2h.9v.9h-.9zM1091.4 937.3h.9v.9h-.9zM1123.2 945.4h.9v.9h-.9zM1099.2 924.7h.9v.9h-.9zM1090.6 937.9h.9v.9h-.9zM1102.6 926.5h.9v.9h-.9zM1094.1 942.8h.9v.9h-.9zM1123.0 946.4h.9v.9h-.9zM1100.7 948.4h.9v.9h-.9zM1105.1 950.3h.9v.9h-.9zM1121.4 946.9h.9v.9h-.9zM1126.0 944.5h.9v.9h-.9zM1118.4 949.1h.9v.9h-.9zM1091.9 934.7h.9v.9h-.9zM1102.6 949.0h.9v.9h-.9zM1109.1 923.2h.9v.9h-.9zM1092.7 935.7h.9v.9h-.9zM1097.2 929.1h.9v.9h-.9zM1090.1 940.3h.9v.9h-.9zM1091.1 934.6h.9v.9h-.9zM1094.0 933.0h.9v.9h-.9zM1125.7 934.6h.9v.9h-.9zM1105.1 921.2h.9v.9h-.9zM1092.5 942.2h.9v.9h-.9zM1102.7 948.9h.9v.9h-.9zM1103.1 949.0h.9v.9h-.9zM1112.5 949.7h.9v.9h-.9zM1103.8 949.3h.9v.9h-.9zM1099.7 926.3h.9v.9h-.9zM1120.5 925.9h.9v.9h-.9zM1099.0 949.9h.9v.9h-.9zM1114.8 947.7h.9v.9h-.9zM1122.7 938.6h.9v.9h-.9zM1127.4 939.4h.9v.9h-.9zM1126.2 939.2h.9v.9h-.9zM1093.4 934.1h.9v.9h-.9zM1108.7 951.9h.9v.9h-.9zM1095.7 945.3h.9v.9h-.9zM1090.8 943.3h.9v.9h-.9zM1104.3 948.4h.9v.9h-.9zM1111.9 925.8h.9v.9h-.9zM1121.7 942.2h.9v.9h-.9zM1125.0 938.4h.9v.9h-.9zM1106.7 923.0h.9v.9h-.9zM1124.3 936.7h.9v.9h-.9zM1097.4 948.6h.9v.9h-.9zM1124.6 939.0h.9v.9h-.9zM1109.1 922.9h.9v.9h-.9zM1088.4 939.8h.9v.9h-.9zM1091.2 943.9h.9v.9h-.9zM1096.4 945.0h.9v.9h-.9zM1096.2 945.6h.9v.9h-.9zM1123.9 940.8h.9v.9h-.9zM1120.0 946.8h.9v.9h-.9zM1106.7 922.0h.9v.9h-.9zM1120.2 929.1h.9v.9h-.9zM1098.7 923.5h.9v.9h-.9zM1092.6 946.7h.9v.9h-.9zM1123.8 946.6h.9v.9h-.9zM1122.7 926.6h.9v.9h-.9zM1117.1 924.3h.9v.9h-.9zM1091.1 943.7h.9v.9h-.9zM1120.9 927.9h.9v.9h-.9zM1093.9 926.6h.9v.9h-.9zM1104.6 949.3h.9v.9h-.9zM1127.0 941.8h.9v.9h-.9zM1095.6 926.9h.9v.9h-.9zM1109.3 949.0h.9v.9h-.9zM1088.9 940.7h.9v.9h-.9zM1097.8 947.6h.9v.9h-.9zM1091.4 945.1h.9v.9h-.9zM1121.8 947.8h.9v.9h-.9zM1126.4 939.9h.9v.9h-.9zM1109.6 923.5h.9v.9h-.9zM1107.3 924.4h.9v.9h-.9zM1118.5 947.3h.9v.9h-.9zM1106.3 950.9h.9v.9h-.9zM1091.4 932.5h.9v.9h-.9zM1126.7 936.4h.9v.9h-.9zM1113.2 921.5h.9v.9h-.9zM1124.9 931.7h.9v.9h-.9zM1098.1 948.1h.9v.9h-.9zM1108.8 921.8h.9v.9h-.9zM1123.2 929.0h.9v.9h-.9zM1100.4 926.4h.9v.9h-.9zM1096.9 929.2h.9v.9h-.9zM1098.8 927.8h.9v.9h-.9zM1127.8 940.4h.9v.9h-.9zM1119.2 928.3h.9v.9h-.9zM1126.4 942.4h.9v.9h-.9zM1110.1 925.2h.9v.9h-.9zM1115.9 923.1h.9v.9h-.9zM1093.8 932.4h.9v.9h-.9zM1122.0 942.3h.9v.9h-.9zM1090.9 943.3h.9v.9h-.9zM1098.0 928.1h.9v.9h-.9zM1112.5 926.1h.9v.9h-.9zM1096.5 929.8h.9v.9h-.9zM1123.6 939.3h.9v.9h-.9zM1112.6 925.3h.9v.9h-.9zM1125.2 940.0h.9v.9h-.9zM1097.8 948.3h.9v.9h-.9zM1091.8 931.2h.9v.9h-.9zM1122.2 931.4h.9v.9h-.9zM1098.1 928.7h.9v.9h-.9zM1108.0 948.7h.9v.9h-.9zM1118.7 927.6h.9v.9h-.9zM1103.3 921.9h.9v.9h-.9zM1096.4 945.7h.9v.9h-.9zM1108.3 950.1h.9v.9h-.9zM1096.8 945.2h.9v.9h-.9zM1118.7 925.7h.9v.9h-.9zM1121.4 926.4h.9v.9h-.9zM1105.2 921.8h.9v.9h-.9zM1103.3 924.3h.9v.9h-.9zM1116.3 922.8h.9v.9h-.9zM1120.0 945.2h.9v.9h-.9zM1116.3 948.6h.9v.9h-.9zM1119.6 927.1h.9v.9h-.9zM1118.2 927.1h.9v.9h-.9zM1093.6 933.2h.9v.9h-.9zM1097.9 927.8h.9v.9h-.9zM1124.8 939.5h.9v.9h-.9zM1090.2 932.1h.9v.9h-.9zM1103.6 951.4h.9v.9h-.9zM1113.9 926.1h.9v.9h-.9zM1111.6 921.3h.9v.9h-.9zM1125.9 935.1h.9v.9h-.9zM1094.6 946.2h.9v.9h-.9zM1097.7 925.8h.9v.9h-.9zM1115.3 950.7h.9v.9h-.9zM1093.7 935.6h.9v.9h-.9zM1102.9 948.0h.9v.9h-.9zM1093.6 941.4h.9v.9h-.9zM1092.4 936.3h.9v.9h-.9zM1116.8 923.9h.9v.9h-.9zM1115.4 950.4h.9v.9h-.9zM1094.2 931.8h.9v.9h-.9zM1120.4 932.0h.9v.9h-.9zM1093.8 945.8h.9v.9h-.9zM1117.1 948.5h.9v.9h-.9zM1120.3 929.1h.9v.9h-.9zM1104.1 925.3h.9v.9h-.9zM1127.7 936.2h.9v.9h-.9zM1117.6 949.4h.9v.9h-.9zM1100.7 947.2h.9v.9h-.9zM1112.6 950.6h.9v.9h-.9zM1091.1 941.4h.9v.9h-.9zM1118.8 946.2h.9v.9h-.9zM1096.6 947.4h.9v.9h-.9zM1115.4 925.0h.9v.9h-.9zM1098.9 950.2h.9v.9h-.9zM1101.3 923.1h.9v.9h-.9zM1114.0 924.3h.9v.9h-.9zM1107.1 948.7h.9v.9h-.9zM1097.9 924.8h.9v.9h-.9zM1124.1 928.7h.9v.9h-.9zM1090.9 938.6h.9v.9h-.9zM1122.7 936.0h.9v.9h-.9zM1095.7 947.0h.9v.9h-.9zM1093.7 929.3h.9v.9h-.9zM1117.5 948.4h.9v.9h-.9zM1115.6 948.6h.9v.9h-.9zM1115.1 948.5h.9v.9h-.9zM1096.4 928.1h.9v.9h-.9zM1116.5 948.6h.9v.9h-.9zM1100.3 926.1h.9v.9h-.9zM1105.8 949.8h.9v.9h-.9zM1103.2 926.4h.9v.9h-.9zM1101.2 927.1h.9v.9h-.9zM1120.1 930.0h.9v.9h-.9zM1114.7 927.1h.9v.9h-.9zM1092.2 939.4h.9v.9h-.9zM1111.2 922.1h.9v.9h-.9zM1118.4 945.8h.9v.9h-.9zM1106.0 923.8h.9v.9h-.9zM1096.7 946.6h.9v.9h-.9zM1096.3 947.5h.9v.9h-.9zM1096.5 945.3h.9v.9h-.9zM1088.4 941.3h.9v.9h-.9zM1110.0 922.2h.9v.9h-.9zM1123.3 932.2h.9v.9h-.9zM1095.8 948.3h.9v.9h-.9zM1123.1 946.3h.9v.9h-.9zM1118.8 948.3h.9v.9h-.9zM1089.4 937.5h.9v.9h-.9zM1099.5 927.7h.9v.9h-.9zM1146.9 884.6h.9v.9h-.9zM1138.0 901.0h.9v.9h-.9zM1141.7 948.6h.9v.9h-.9zM1095.8 909.7h.9v.9h-.9zM1126.6 948.7h.9v.9h-.9zM1152.9 884.0h.9v.9h-.9zM1104.1 909.7h.9v.9h-.9zM1145.5 935.7h.9v.9h-.9zM1130.1 944.7h.9v.9h-.9zM1146.5 941.7h.9v.9h-.9zM1134.9 899.6h.9v.9h-.9zM1141.1 930.7h.9v.9h-.9zM1153.1 893.6h.9v.9h-.9zM1097.0 905.2h.9v.9h-.9zM1111.5 908.3h.9v.9h-.9zM1099.3 923.5h.9v.9h-.9zM1122.1 900.0h.9v.9h-.9zM1101.9 921.0h.9v.9h-.9zM1101.8 940.5h.9v.9h-.9zM1112.8 943.1h.9v.9h-.9zM1103.3 908.5h.9v.9h-.9zM1143.9 917.5h.9v.9h-.9zM1123.4 941.9h.9v.9h-.9zM1105.8 939.9h.9v.9h-.9zM1127.5 901.4h.9v.9h-.9zM1117.3 900.9h.9v.9h-.9zM1134.8 912.0h.9v.9h-.9zM1127.7 926.1h.9v.9h-.9zM1148.9 929.5h.9v.9h-.9zM1133.5 906.4h.9v.9h-.9zM1147.0 893.3h.9v.9h-.9zM1144.6 897.0h.9v.9h-.9zM1140.2 901.5h.9v.9h-.9zM1136.4 909.1h.9v.9h-.9zM1145.7 899.7h.9v.9h-.9zM1135.6 905.5h.9v.9h-.9zM1138.4 901.6h.9v.9h-.9zM1149.7 891.4h.9v.9h-.9zM1146.1 895.2h.9v.9h-.9zM1149.3 891.9h.9v.9h-.9zM1140.2 903.7h.9v.9h-.9zM1143.0 901.0h.9v.9h-.9zM1137.1 906.1h.9v.9h-.9zM1139.0 902.5h.9v.9h-.9zM1135.0 908.1h.9v.9h-.9zM1139.3 900.4h.9v.9h-.9zM1136.8 903.1h.9v.9h-.9zM1129.1 912.7h.9v.9h-.9zM1148.7 894.9h.9v.9h-.9zM1132.8 906.2h.9v.9h-.9zM1139.7 896.9h.9v.9h-.9zM1134.6 910.6h.9v.9h-.9zM1142.9 899.3h.9v.9h-.9zM1129.9 912.6h.9v.9h-.9zM1147.4 896.8h.9v.9h-.9zM1147.0 888.8h.9v.9h-.9zM1147.0 893.8h.9v.9h-.9zM1139.4 903.9h.9v.9h-.9zM1144.6 895.4h.9v.9h-.9zM1133.8 913.6h.9v.9h-.9zM1147.4 894.6h.9v.9h-.9zM1131.0 913.6h.9v.9h-.9zM1142.1 899.8h.9v.9h-.9zM1142.5 899.6h.9v.9h-.9zM1140.9 906.2h.9v.9h-.9zM1141.8 902.3h.9v.9h-.9zM1149.2 890.3h.9v.9h-.9zM1128.0 919.3h.9v.9h-.9zM1146.8 893.6h.9v.9h-.9zM1143.9 896.7h.9v.9h-.9zM1142.4 900.6h.9v.9h-.9zM1147.4 895.7h.9v.9h-.9zM1136.9 901.4h.9v.9h-.9zM1137.7 902.1h.9v.9h-.9zM1142.1 897.1h.9v.9h-.9zM1135.5 907.7h.9v.9h-.9zM1143.7 901.6h.9v.9h-.9zM1131.3 911.7h.9v.9h-.9zM1147.7 891.5h.9v.9h-.9zM1133.3 908.4h.9v.9h-.9zM1133.5 913.9h.9v.9h-.9zM1143.5 897.7h.9v.9h-.9zM1140.5 904.8h.9v.9h-.9zM1133.3 912.6h.9v.9h-.9zM1131.5 911.8h.9v.9h-.9zM1134.0 908.1h.9v.9h-.9zM1135.2 906.4h.9v.9h-.9zM1149.2 891.4h.9v.9h-.9zM1127.5 916.7h.9v.9h-.9zM1135.6 907.6h.9v.9h-.9zM1150.4 892.3h.9v.9h-.9zM1143.0 897.3h.9v.9h-.9zM1147.8 893.7h.9v.9h-.9zM1132.7 913.5h.9v.9h-.9zM1145.4 898.2h.9v.9h-.9zM1140.0 904.2h.9v.9h-.9zM1146.7 897.9h.9v.9h-.9zM1127.9 920.2h.9v.9h-.9zM1138.2 901.4h.9v.9h-.9zM1135.2 905.5h.9v.9h-.9zM1141.3 898.9h.9v.9h-.9zM1147.6 891.4h.9v.9h-.9zM1127.2 917.0h.9v.9h-.9zM1128.6 913.1h.9v.9h-.9zM1130.9 911.1h.9v.9h-.9zM1149.7 889.5h.9v.9h-.9zM1143.3 896.2h.9v.9h-.9zM1144.5 897.6h.9v.9h-.9zM1147.2 893.2h.9v.9h-.9zM1147.0 895.0h.9v.9h-.9zM1147.9 894.0h.9v.9h-.9zM1136.9 904.6h.9v.9h-.9zM1136.4 908.4h.9v.9h-.9zM1143.7 894.4h.9v.9h-.9zM1149.5 892.5h.9v.9h-.9zM1139.9 902.3h.9v.9h-.9zM1135.4 910.1h.9v.9h-.9zM1145.2 897.2h.9v.9h-.9zM1133.4 908.2h.9v.9h-.9zM1144.7 892.1h.9v.9h-.9zM1143.5 897.3h.9v.9h-.9zM1145.4 893.7h.9v.9h-.9zM1129.3 913.3h.9v.9h-.9zM1135.3 906.2h.9v.9h-.9zM1134.4 911.2h.9v.9h-.9zM1146.8 895.3h.9v.9h-.9zM1128.3 912.1h.9v.9h-.9zM1131.9 911.7h.9v.9h-.9zM1132.1 916.0h.9v.9h-.9zM1128.6 914.6h.9v.9h-.9zM1137.2 910.1h.9v.9h-.9zM1138.8 905.2h.9v.9h-.9zM1139.1 901.4h.9v.9h-.9zM1142.6 900.2h.9v.9h-.9zM1134.0 912.2h.9v.9h-.9zM1142.4 899.1h.9v.9h-.9zM1133.2 909.6h.9v.9h-.9zM1141.0 899.8h.9v.9h-.9zM1130.1 917.8h.9v.9h-.9zM1131.1 910.1h.9v.9h-.9zM1146.3 897.1h.9v.9h-.9zM1144.4 894.3h.9v.9h-.9zM1143.5 895.6h.9v.9h-.9zM1141.0 902.3h.9v.9h-.9zM1142.6 896.6h.9v.9h-.9zM1144.4 898.9h.9v.9h-.9zM1136.8 901.8h.9v.9h-.9zM1135.4 910.0h.9v.9h-.9zM1148.1 893.0h.9v.9h-.9zM1132.4 907.8h.9v.9h-.9zM1137.3 902.6h.9v.9h-.9zM1147.1 894.6h.9v.9h-.9zM1148.8 887.7h.9v.9h-.9zM1138.1 899.1h.9v.9h-.9zM1151.2 889.7h.9v.9h-.9zM1138.1 903.6h.9v.9h-.9zM1147.9 888.5h.9v.9h-.9zM1144.8 899.1h.9v.9h-.9zM1138.5 906.4h.9v.9h-.9zM1133.1 906.1h.9v.9h-.9zM1139.9 900.3h.9v.9h-.9zM1138.1 903.6h.9v.9h-.9zM1146.4 893.5h.9v.9h-.9zM1136.5 898.4h.9v.9h-.9zM1147.4 893.4h.9v.9h-.9zM1130.6 913.2h.9v.9h-.9zM1143.6 899.7h.9v.9h-.9zM1141.0 898.6h.9v.9h-.9zM1136.8 908.4h.9v.9h-.9zM1149.8 891.0h.9v.9h-.9zM1129.5 916.6h.9v.9h-.9zM1127.0 913.6h.9v.9h-.9zM1134.7 909.3h.9v.9h-.9zM1125.9 915.9h.9v.9h-.9zM1130.9 910.3h.9v.9h-.9zM1144.0 898.5h.9v.9h-.9zM1146.8 890.3h.9v.9h-.9zM1134.6 906.3h.9v.9h-.9zM1145.4 897.3h.9v.9h-.9zM1138.1 902.0h.9v.9h-.9zM1139.5 906.7h.9v.9h-.9zM1140.7 901.1h.9v.9h-.9zM1148.4 891.5h.9v.9h-.9zM1148.0 895.9h.9v.9h-.9zM1145.6 893.9h.9v.9h-.9zM1137.6 909.9h.9v.9h-.9zM1142.1 898.3h.9v.9h-.9zM1141.6 903.1h.9v.9h-.9zM1143.0 893.4h.9v.9h-.9zM1134.2 910.2h.9v.9h-.9zM1143.8 895.4h.9v.9h-.9zM1139.4 907.2h.9v.9h-.9zM1146.3 892.7h.9v.9h-.9zM1147.6 894.5h.9v.9h-.9zM1138.7 900.8h.9v.9h-.9zM1127.4 918.2h.9v.9h-.9zM1141.1 902.9h.9v.9h-.9zM1140.8 902.1h.9v.9h-.9zM1132.5 911.3h.9v.9h-.9zM1136.3 902.3h.9v.9h-.9zM1137.1 904.2h.9v.9h-.9zM1133.1 911.6h.9v.9h-.9zM1125.4 917.0h.9v.9h-.9zM1148.8 894.0h.9v.9h-.9zM1149.0 892.6h.9v.9h-.9zM1132.3 911.1h.9v.9h-.9zM1144.3 897.8h.9v.9h-.9zM1134.1 908.2h.9v.9h-.9zM1138.3 901.6h.9v.9h-.9zM1143.9 894.4h.9v.9h-.9zM1147.2 895.1h.9v.9h-.9zM1136.0 911.9h.9v.9h-.9zM1148.5 892.5h.9v.9h-.9zM1149.8 892.3h.9v.9h-.9zM1147.1 893.3h.9v.9h-.9zM1135.4 909.5h.9v.9h-.9zM1142.2 900.2h.9v.9h-.9zM1151.4 892.7h.9v.9h-.9zM1133.2 907.0h.9v.9h-.9zM1125.5 916.0h.9v.9h-.9zM1135.6 910.8h.9v.9h-.9zM1134.3 910.6h.9v.9h-.9zM1139.7 900.9h.9v.9h-.9zM1130.2 916.5h.9v.9h-.9zM1138.5 908.1h.9v.9h-.9zM1138.3 904.8h.9v.9h-.9zM1141.6 903.0h.9v.9h-.9zM1135.5 907.1h.9v.9h-.9zM1130.0 917.8h.9v.9h-.9z"/><ellipse cx="1137.3" cy="905.3" rx="15" ry="2.8" transform="rotate(-50.2 1137.3 905.3)" fill="#1a2aa8"/><ellipse cx="1136.3" cy="906.3" rx="9" ry="1.5" transform="rotate(-50.2 1137.3 905.3)" fill="#1840e0"/><ellipse cx="1136.3" cy="906.3" rx="4" ry="1.1" transform="rotate(-50.2 1137.3 905.3)" fill="#22c0f0"/><ellipse cx="1107.6" cy="940" rx="14.4" ry="6.7" fill="#1848f0"/><ellipse cx="1107.6" cy="940" rx="13.2" ry="6.1" fill="#10c0f0"/><ellipse cx="1107.6" cy="940" rx="11.8" ry="5.4" fill="#30dc40"/><ellipse cx="1107.6" cy="940" rx="9.8" ry="4.6" fill="#f0ea10"/><ellipse cx="1107.6" cy="940" rx="7.9" ry="3.8" fill="#ff8c10"/><ellipse cx="1107.6" cy="940" rx="5.9" ry="2.9" fill="#ff2810"/><polygon points="1122.4,904.7 1132.8,888.3 1137.4,886.3 1156.6,880.0 1160.4,888.5 1143.3,912.3 1132.4,923.1 1124.8,920.8" fill="none" stroke="#ff3030" stroke-width="0.8"/><line x1="1080.8" y1="845.3" x2="1080.8" y2="967.3" stroke="#000" stroke-width="1.6" /><line x1="1079.8" y1="966.3" x2="1194.1" y2="966.3" stroke="#000" stroke-width="1.6" /><line x1="1077.6" y1="885.3" x2="1080.8" y2="885.3" stroke="#000" stroke-width="0.7" /><line x1="1079" y1="877.02" x2="1080.8" y2="877.02" stroke="#000" stroke-width="0.7" /><line x1="1079" y1="872.18" x2="1080.8" y2="872.18" stroke="#000" stroke-width="0.7" /><line x1="1079" y1="868.74" x2="1080.8" y2="868.74" stroke="#000" stroke-width="0.7" /><line x1="1079" y1="866.08" x2="1080.8" y2="866.08" stroke="#000" stroke-width="0.7" /><line x1="1079" y1="863.9" x2="1080.8" y2="863.9" stroke="#000" stroke-width="0.7" /><line x1="1079" y1="862.06" x2="1080.8" y2="862.06" stroke="#000" stroke-width="0.7" /><line x1="1079" y1="860.47" x2="1080.8" y2="860.47" stroke="#000" stroke-width="0.7" /><line x1="1079" y1="859.06" x2="1080.8" y2="859.06" stroke="#000" stroke-width="0.7" /><line x1="1077.6" y1="913" x2="1080.8" y2="913" stroke="#000" stroke-width="0.7" /><line x1="1079" y1="904.72" x2="1080.8" y2="904.72" stroke="#000" stroke-width="0.7" /><line x1="1079" y1="899.88" x2="1080.8" y2="899.88" stroke="#000" stroke-width="0.7" /><line x1="1079" y1="896.44" x2="1080.8" y2="896.44" stroke="#000" stroke-width="0.7" /><line x1="1079" y1="893.78" x2="1080.8" y2="893.78" stroke="#000" stroke-width="0.7" /><line x1="1079" y1="891.6" x2="1080.8" y2="891.6" stroke="#000" stroke-width="0.7" /><line x1="1079" y1="889.76" x2="1080.8" y2="889.76" stroke="#000" stroke-width="0.7" /><line x1="1079" y1="888.17" x2="1080.8" y2="888.17" stroke="#000" stroke-width="0.7" /><line x1="1079" y1="886.76" x2="1080.8" y2="886.76" stroke="#000" stroke-width="0.7" /><line x1="1077.6" y1="940.3" x2="1080.8" y2="940.3" stroke="#000" stroke-width="0.7" /><line x1="1079" y1="932.02" x2="1080.8" y2="932.02" stroke="#000" stroke-width="0.7" /><line x1="1079" y1="927.18" x2="1080.8" y2="927.18" stroke="#000" stroke-width="0.7" /><line x1="1079" y1="923.74" x2="1080.8" y2="923.74" stroke="#000" stroke-width="0.7" /><line x1="1079" y1="921.08" x2="1080.8" y2="921.08" stroke="#000" stroke-width="0.7" /><line x1="1079" y1="918.9" x2="1080.8" y2="918.9" stroke="#000" stroke-width="0.7" /><line x1="1079" y1="917.06" x2="1080.8" y2="917.06" stroke="#000" stroke-width="0.7" /><line x1="1079" y1="915.47" x2="1080.8" y2="915.47" stroke="#000" stroke-width="0.7" /><line x1="1079" y1="914.06" x2="1080.8" y2="914.06" stroke="#000" stroke-width="0.7" /><line x1="1129.1" y1="966.3" x2="1129.1" y2="969.5" stroke="#000" stroke-width="0.7" /><line x1="1137.38" y1="966.3" x2="1137.38" y2="968.1" stroke="#000" stroke-width="0.7" /><line x1="1142.22" y1="966.3" x2="1142.22" y2="968.1" stroke="#000" stroke-width="0.7" /><line x1="1145.66" y1="966.3" x2="1145.66" y2="968.1" stroke="#000" stroke-width="0.7" /><line x1="1148.32" y1="966.3" x2="1148.32" y2="968.1" stroke="#000" stroke-width="0.7" /><line x1="1150.5" y1="966.3" x2="1150.5" y2="968.1" stroke="#000" stroke-width="0.7" /><line x1="1152.34" y1="966.3" x2="1152.34" y2="968.1" stroke="#000" stroke-width="0.7" /><line x1="1153.93" y1="966.3" x2="1153.93" y2="968.1" stroke="#000" stroke-width="0.7" /><line x1="1155.34" y1="966.3" x2="1155.34" y2="968.1" stroke="#000" stroke-width="0.7" /><line x1="1156.6" y1="966.3" x2="1156.6" y2="969.5" stroke="#000" stroke-width="0.7" /><line x1="1164.88" y1="966.3" x2="1164.88" y2="968.1" stroke="#000" stroke-width="0.7" /><line x1="1169.72" y1="966.3" x2="1169.72" y2="968.1" stroke="#000" stroke-width="0.7" /><line x1="1173.16" y1="966.3" x2="1173.16" y2="968.1" stroke="#000" stroke-width="0.7" /><line x1="1175.82" y1="966.3" x2="1175.82" y2="968.1" stroke="#000" stroke-width="0.7" /><line x1="1178" y1="966.3" x2="1178" y2="968.1" stroke="#000" stroke-width="0.7" /><line x1="1179.84" y1="966.3" x2="1179.84" y2="968.1" stroke="#000" stroke-width="0.7" /><line x1="1181.43" y1="966.3" x2="1181.43" y2="968.1" stroke="#000" stroke-width="0.7" /><line x1="1182.84" y1="966.3" x2="1182.84" y2="968.1" stroke="#000" stroke-width="0.7" /><line x1="1184.9" y1="966.3" x2="1184.9" y2="969.5" stroke="#000" stroke-width="0.7" /><line x1="1079" y1="936.3" x2="1080.8" y2="936.3" stroke="#000" stroke-width="0.7" /><line x1="1079" y1="943.3" x2="1080.8" y2="943.3" stroke="#000" stroke-width="0.7" /><line x1="1079" y1="950.3" x2="1080.8" y2="950.3" stroke="#000" stroke-width="0.7" /><line x1="1079" y1="957.3" x2="1080.8" y2="957.3" stroke="#000" stroke-width="0.7" /><rect x="1077.3" y="938.3" width="3.5" height="4" fill="#000" /><rect x="1104.8" y="966.3" width="5" height="2.5" fill="#000" /><text x="1067.6" y="862.1" font-size="12" text-anchor="end">10</text><text x="1068" y="856.3" font-size="7.5">5</text><text x="1067.6" y="889.8" font-size="12" text-anchor="end">10</text><text x="1068" y="884" font-size="7.5">4</text><text x="1067.6" y="917.1" font-size="12" text-anchor="end">10</text><text x="1068" y="911.3" font-size="7.5">3</text><text x="1067.6" y="945.6" font-size="12" text-anchor="end">−10</text><text x="1068" y="939.8" font-size="7.5">2</text><text x="1096.6" y="985.5" font-size="12" text-anchor="middle">−10</text><text x="1106.3" y="979.3" font-size="7.5">2</text><text x="1127.6" y="985.5" font-size="12" text-anchor="middle">10</text><text x="1134.05" y="979.3" font-size="7.5">3</text><text x="1155.1" y="985.5" font-size="12" text-anchor="middle">10</text><text x="1161.55" y="979.3" font-size="7.5">4</text><text x="1183.4" y="985.5" font-size="12" text-anchor="middle">10</text><text x="1189.85" y="979.3" font-size="7.5">5</text><text x="1132.5" y="866.7" font-size="14.2" text-anchor="middle" textLength="45.1" lengthAdjust="spacingAndGlyphs" >2.88%</text>
<line x1="587.5" y1="985.5" x2="587.5" y2="856" stroke="#4b5b74" stroke-width="1.3" />
<polygon points="587.5,849.3 584,858.3 587.5,856.3 591,858.3" fill="#4b5b74"/>
<line x1="621.7" y1="996.5" x2="1188" y2="996.5" stroke="#4b5b74" stroke-width="1.3" />
<polygon points="1194,996.5 1185,993 1187,996.5 1185,1000" fill="#4b5b74"/>
<text x="628.3" y="1016.4" font-size="14.6" textLength="122" lengthAdjust="spacingAndGlyphs" >Multimer (BV605)</text>
<text x="577.5" y="940.3" font-size="14.6" text-anchor="middle" textLength="118" lengthAdjust="spacingAndGlyphs" transform="rotate(-90 577.5 940.3)" >Multimer (BV421)</text>
<text x="1059.8" y="1012.6" font-size="14.6" text-anchor="middle" textLength="56.5" lengthAdjust="spacingAndGlyphs" >GALNT6</text>
<text x="1059.8" y="1030.5" font-size="14.6" text-anchor="middle" textLength="53.5" lengthAdjust="spacingAndGlyphs" >(E579K)</text>
<polygon points="663.0,1270.0 665.6,1269.8 668.1,1269.7 670.7,1269.5 673.2,1269.1 675.8,1268.3 678.3,1267.2 680.9,1265.8 683.4,1264.2 686.0,1262.6 688.6,1260.9 691.1,1259.3 693.7,1257.7 696.2,1256.0 698.8,1254.3 701.3,1252.6 703.9,1250.7 706.5,1248.7 709.0,1246.8 711.6,1245.0 714.1,1243.6 716.7,1242.7 719.2,1242.1 721.8,1241.7 724.3,1241.4 726.9,1241.0 726.9,1270.0 724.3,1270.0 721.8,1270.0 719.2,1270.0 716.7,1270.0 714.1,1270.0 711.6,1270.0 709.0,1270.0 706.5,1270.0 703.9,1270.0 701.3,1270.0 698.8,1270.0 696.2,1270.0 693.7,1270.0 691.1,1270.0 688.6,1270.0 686.0,1270.0 683.4,1270.0 680.9,1270.0 678.3,1270.0 675.8,1270.0 673.2,1270.0 670.7,1270.0 668.1,1270.0 665.6,1270.0 663.0,1270.0" fill="#d6ebf2" />
<polygon points="733.4,1213.5 735.9,1212.7 738.4,1210.3 741.0,1204.6 743.5,1198.9 746.0,1194.9 748.5,1191.6 751.0,1188.5 753.5,1186.1 756.1,1186.1 758.6,1186.1 761.1,1186.1 763.6,1186.2 766.1,1186.2 768.6,1186.4 771.2,1186.5 773.7,1186.7 776.2,1186.9 778.7,1187.1 781.2,1187.3 783.7,1187.5 786.3,1187.8 788.8,1188.1 791.3,1188.4 793.8,1188.7 796.3,1189.0 798.9,1189.3 801.4,1189.5 803.9,1189.6 806.4,1189.7 808.9,1189.7 811.4,1189.7 814.0,1188.5 816.5,1179.1 819.0,1165.7 821.5,1151.6 824.0,1139.0 826.5,1126.8 829.1,1116.1 831.6,1107.6 834.1,1104.1 836.6,1104.7 839.1,1105.7 841.7,1106.1 844.2,1106.1 846.7,1106.2 849.2,1106.5 851.7,1106.8 854.2,1107.2 856.8,1107.7 859.3,1108.3 861.8,1108.9 864.3,1109.7 866.8,1110.5 869.3,1111.4 871.9,1112.4 874.4,1113.5 876.9,1114.7 879.4,1116.0 881.9,1117.3 884.4,1118.8 887.0,1120.3 889.5,1122.0 892.0,1123.7 894.5,1125.5 897.0,1127.4 899.6,1129.4 902.1,1131.4 904.6,1133.6 907.1,1135.8 909.6,1138.1 912.1,1140.5 914.7,1143.0 917.2,1145.6 919.7,1148.2 922.2,1150.9 924.7,1153.6 927.2,1156.4 929.8,1159.3 932.3,1162.2 934.8,1165.1 937.3,1168.1 939.8,1171.1 942.3,1174.1 944.9,1177.1 947.4,1180.1 949.9,1183.2 952.4,1186.2 954.9,1189.1 957.5,1192.1 960.0,1195.0 962.5,1197.9 965.0,1200.7 967.5,1203.5 970.0,1206.2 972.6,1208.9 975.1,1211.5 977.6,1214.0 980.1,1216.5 982.6,1218.8 985.1,1221.1 987.7,1223.3 990.2,1225.5 992.7,1227.5 995.2,1229.4 997.7,1231.3 1000.3,1233.1 1002.8,1234.7 1005.3,1236.3 1007.8,1237.8 1010.3,1239.2 1012.8,1240.6 1015.4,1241.8 1017.9,1242.9 1020.4,1244.0 1022.9,1245.0 1025.4,1245.8 1027.9,1246.6 1030.5,1247.3 1033.0,1248.0 1035.5,1248.5 1038.0,1249.0 1040.5,1249.3 1043.0,1249.6 1045.6,1249.8 1048.1,1249.9 1050.6,1250.0 1050.6,1270.0 1048.1,1270.0 1045.6,1270.0 1043.0,1270.0 1040.5,1270.0 1038.0,1270.0 1035.5,1270.0 1033.0,1270.0 1030.5,1270.0 1027.9,1270.0 1025.4,1270.0 1022.9,1270.0 1020.4,1270.0 1017.9,1270.0 1015.4,1270.0 1012.8,1270.0 1010.3,1270.0 1007.8,1270.0 1005.3,1270.0 1002.8,1270.0 1000.3,1270.0 997.7,1270.0 995.2,1270.0 992.7,1270.0 990.2,1270.0 987.7,1270.0 985.1,1270.0 982.6,1270.0 980.1,1270.0 977.6,1270.0 975.1,1270.0 972.6,1270.0 970.0,1270.0 967.5,1270.0 965.0,1270.0 962.5,1270.0 960.0,1270.0 957.5,1270.0 954.9,1270.0 952.4,1270.0 949.9,1270.0 947.4,1270.0 944.9,1270.0 942.3,1270.0 939.8,1270.0 937.3,1270.0 934.8,1270.0 932.3,1270.0 929.8,1270.0 927.2,1270.0 924.7,1270.0 922.2,1270.0 919.7,1270.0 917.2,1270.0 914.7,1270.0 912.1,1270.0 909.6,1270.0 907.1,1270.0 904.6,1270.0 902.1,1270.0 899.6,1270.0 897.0,1270.0 894.5,1270.0 892.0,1270.0 889.5,1270.0 887.0,1270.0 884.4,1270.0 881.9,1270.0 879.4,1270.0 876.9,1270.0 874.4,1270.0 871.9,1270.0 869.3,1270.0 866.8,1270.0 864.3,1270.0 861.8,1270.0 859.3,1270.0 856.8,1270.0 854.2,1270.0 851.7,1270.0 849.2,1270.0 846.7,1270.0 844.2,1270.0 841.7,1270.0 839.1,1270.0 836.6,1270.0 834.1,1270.0 831.6,1270.0 829.1,1270.0 826.5,1270.0 824.0,1270.0 821.5,1270.0 819.0,1270.0 816.5,1270.0 814.0,1270.0 811.4,1270.0 808.9,1270.0 806.4,1270.0 803.9,1270.0 801.4,1270.0 798.9,1270.0 796.3,1270.0 793.8,1270.0 791.3,1270.0 788.8,1270.0 786.3,1270.0 783.7,1270.0 781.2,1270.0 778.7,1270.0 776.2,1270.0 773.7,1270.0 771.2,1270.0 768.6,1270.0 766.1,1270.0 763.6,1270.0 761.1,1270.0 758.6,1270.0 756.1,1270.0 753.5,1270.0 751.0,1270.0 748.5,1270.0 746.0,1270.0 743.5,1270.0 741.0,1270.0 738.4,1270.0 735.9,1270.0 733.4,1270.0" fill="#d6ebf2" />
<polyline points="663.0,1270.0 665.6,1269.8 668.1,1269.7 670.7,1269.5 673.2,1269.1 675.8,1268.3 678.3,1267.2 680.9,1265.8 683.4,1264.2 686.0,1262.6 688.6,1260.9 691.1,1259.3 693.7,1257.7 696.2,1256.0 698.8,1254.3 701.3,1252.6 703.9,1250.7 706.5,1248.7 709.0,1246.8 711.6,1245.0 714.1,1243.6 716.7,1242.7 719.2,1242.1 721.8,1241.7 724.3,1241.4 726.9,1241.0" fill="none" stroke="#b8c4c8" stroke-width="0.7" />
<polyline points="733.4,1213.5 735.9,1212.7 738.4,1210.3 741.0,1204.6 743.5,1198.9 746.0,1194.9 748.5,1191.6 751.0,1188.5 753.5,1186.1 756.1,1186.1 758.6,1186.1 761.1,1186.1 763.6,1186.2 766.1,1186.2 768.6,1186.4 771.2,1186.5 773.7,1186.7 776.2,1186.9 778.7,1187.1 781.2,1187.3 783.7,1187.5 786.3,1187.8 788.8,1188.1 791.3,1188.4 793.8,1188.7 796.3,1189.0 798.9,1189.3 801.4,1189.5 803.9,1189.6 806.4,1189.7 808.9,1189.7 811.4,1189.7 814.0,1188.5 816.5,1179.1 819.0,1165.7 821.5,1151.6 824.0,1139.0 826.5,1126.8 829.1,1116.1 831.6,1107.6 834.1,1104.1 836.6,1104.7 839.1,1105.7 841.7,1106.1 844.2,1106.1 846.7,1106.2 849.2,1106.5 851.7,1106.8 854.2,1107.2 856.8,1107.7 859.3,1108.3 861.8,1108.9 864.3,1109.7 866.8,1110.5 869.3,1111.4 871.9,1112.4 874.4,1113.5 876.9,1114.7 879.4,1116.0 881.9,1117.3 884.4,1118.8 887.0,1120.3 889.5,1122.0 892.0,1123.7 894.5,1125.5 897.0,1127.4 899.6,1129.4 902.1,1131.4 904.6,1133.6 907.1,1135.8 909.6,1138.1 912.1,1140.5 914.7,1143.0 917.2,1145.6 919.7,1148.2 922.2,1150.9 924.7,1153.6 927.2,1156.4 929.8,1159.3 932.3,1162.2 934.8,1165.1 937.3,1168.1 939.8,1171.1 942.3,1174.1 944.9,1177.1 947.4,1180.1 949.9,1183.2 952.4,1186.2 954.9,1189.1 957.5,1192.1 960.0,1195.0 962.5,1197.9 965.0,1200.7 967.5,1203.5 970.0,1206.2 972.6,1208.9 975.1,1211.5 977.6,1214.0 980.1,1216.5 982.6,1218.8 985.1,1221.1 987.7,1223.3 990.2,1225.5 992.7,1227.5 995.2,1229.4 997.7,1231.3 1000.3,1233.1 1002.8,1234.7 1005.3,1236.3 1007.8,1237.8 1010.3,1239.2 1012.8,1240.6 1015.4,1241.8 1017.9,1242.9 1020.4,1244.0 1022.9,1245.0 1025.4,1245.8 1027.9,1246.6 1030.5,1247.3 1033.0,1248.0 1035.5,1248.5 1038.0,1249.0 1040.5,1249.3 1043.0,1249.6 1045.6,1249.8 1048.1,1249.9 1050.6,1250.0" fill="none" stroke="#a9b4b8" stroke-width="0.7" />
<polyline points="668.0,1270.0 669.8,1269.8 671.6,1269.7 673.4,1269.3 675.2,1268.6 677.0,1267.3 678.8,1265.5 680.6,1263.4 682.4,1260.9 684.2,1258.2 686.1,1255.3 687.9,1252.4 689.7,1249.4 691.5,1246.6 693.3,1244.0 695.2,1241.2 697.2,1238.2 699.1,1235.2 701.0,1232.2 703.0,1229.2 704.9,1226.5 706.9,1224.1 708.8,1222.0 710.7,1220.3 712.7,1219.0 714.6,1218.0 716.5,1217.1 718.5,1216.4 720.4,1215.8 722.4,1215.1 724.3,1214.4 725.6,1214.0 726.9,1213.6" fill="none" stroke="#bbbbbb" stroke-width="0.9" />
<polygon points="733.4,1268.0 735.9,1267.8 738.4,1267.5 741.0,1267.2 743.5,1266.9 746.0,1266.7 748.5,1266.5 751.0,1266.3 753.5,1266.3 756.1,1266.3 758.6,1266.3 761.1,1266.3 763.6,1266.3 766.1,1266.3 768.6,1266.2 771.2,1266.2 773.7,1266.1 776.2,1266.0 778.7,1266.0 781.2,1265.9 783.7,1265.8 786.3,1265.7 788.8,1265.6 791.3,1265.6 793.8,1265.5 796.3,1265.4 798.9,1265.4 801.4,1265.3 803.9,1265.3 806.4,1265.3 808.9,1265.3 811.4,1265.3 814.0,1265.3 816.5,1264.7 819.0,1263.4 821.5,1261.2 824.0,1258.7 826.5,1256.6 829.1,1254.4 831.6,1252.6 834.1,1252.0 836.6,1252.0 839.1,1252.0 841.7,1252.0 844.2,1252.0 846.7,1252.1 849.2,1252.1 851.7,1252.2 854.2,1252.2 856.8,1252.3 859.3,1252.4 861.8,1252.6 864.3,1252.7 866.8,1252.8 869.3,1253.0 871.9,1253.1 874.4,1253.3 876.9,1253.5 879.4,1253.7 881.9,1253.9 884.4,1254.1 887.0,1254.4 889.5,1254.6 892.0,1254.8 894.5,1255.0 897.0,1255.3 899.6,1255.5 902.1,1255.7 904.6,1255.8 907.1,1256.0 909.6,1256.2 912.1,1256.4 914.7,1256.5 917.2,1256.7 919.7,1256.9 922.2,1257.0 924.7,1257.2 927.2,1257.4 929.8,1257.5 932.3,1257.7 934.8,1257.9 937.3,1258.1 939.8,1258.2 942.3,1258.4 944.9,1258.6 947.4,1258.8 949.9,1259.0 952.4,1259.2 954.9,1259.4 957.5,1259.6 960.0,1259.9 962.5,1260.1 965.0,1260.3 967.5,1260.5 970.0,1260.8 972.6,1261.0 975.1,1261.3 977.6,1261.5 980.1,1261.7 982.6,1262.0 985.1,1262.2 987.7,1262.4 990.2,1262.7 992.7,1262.9 995.2,1263.1 997.7,1263.3 1000.3,1263.5 1002.8,1263.7 1005.3,1263.9 1007.8,1264.1 1010.3,1264.3 1012.8,1264.5 1015.4,1264.6 1017.9,1264.8 1020.4,1265.0 1022.9,1265.2 1025.4,1265.3 1027.9,1265.5 1030.5,1265.7 1033.0,1265.8 1035.5,1266.0 1038.0,1266.2 1040.5,1266.3 1043.0,1266.5 1045.6,1266.7 1048.1,1266.8 1050.6,1267.0 1050.6,1270.0 1048.1,1270.0 1045.6,1270.0 1043.0,1270.0 1040.5,1270.0 1038.0,1270.0 1035.5,1270.0 1033.0,1270.0 1030.5,1270.0 1027.9,1270.0 1025.4,1270.0 1022.9,1270.0 1020.4,1270.0 1017.9,1270.0 1015.4,1270.0 1012.8,1270.0 1010.3,1270.0 1007.8,1270.0 1005.3,1270.0 1002.8,1270.0 1000.3,1270.0 997.7,1270.0 995.2,1270.0 992.7,1270.0 990.2,1270.0 987.7,1270.0 985.1,1270.0 982.6,1270.0 980.1,1270.0 977.6,1270.0 975.1,1270.0 972.6,1270.0 970.0,1270.0 967.5,1270.0 965.0,1270.0 962.5,1270.0 960.0,1270.0 957.5,1270.0 954.9,1270.0 952.4,1270.0 949.9,1270.0 947.4,1270.0 944.9,1270.0 942.3,1270.0 939.8,1270.0 937.3,1270.0 934.8,1270.0 932.3,1270.0 929.8,1270.0 927.2,1270.0 924.7,1270.0 922.2,1270.0 919.7,1270.0 917.2,1270.0 914.7,1270.0 912.1,1270.0 909.6,1270.0 907.1,1270.0 904.6,1270.0 902.1,1270.0 899.6,1270.0 897.0,1270.0 894.5,1270.0 892.0,1270.0 889.5,1270.0 887.0,1270.0 884.4,1270.0 881.9,1270.0 879.4,1270.0 876.9,1270.0 874.4,1270.0 871.9,1270.0 869.3,1270.0 866.8,1270.0 864.3,1270.0 861.8,1270.0 859.3,1270.0 856.8,1270.0 854.2,1270.0 851.7,1270.0 849.2,1270.0 846.7,1270.0 844.2,1270.0 841.7,1270.0 839.1,1270.0 836.6,1270.0 834.1,1270.0 831.6,1270.0 829.1,1270.0 826.5,1270.0 824.0,1270.0 821.5,1270.0 819.0,1270.0 816.5,1270.0 814.0,1270.0 811.4,1270.0 808.9,1270.0 806.4,1270.0 803.9,1270.0 801.4,1270.0 798.9,1270.0 796.3,1270.0 793.8,1270.0 791.3,1270.0 788.8,1270.0 786.3,1270.0 783.7,1270.0 781.2,1270.0 778.7,1270.0 776.2,1270.0 773.7,1270.0 771.2,1270.0 768.6,1270.0 766.1,1270.0 763.6,1270.0 761.1,1270.0 758.6,1270.0 756.1,1270.0 753.5,1270.0 751.0,1270.0 748.5,1270.0 746.0,1270.0 743.5,1270.0 741.0,1270.0 738.4,1270.0 735.9,1270.0 733.4,1270.0" fill="#ffff80" />
<polyline points="733.4,1268.0 735.9,1267.8 738.4,1267.5 741.0,1267.2 743.5,1266.9 746.0,1266.7 748.5,1266.5 751.0,1266.3 753.5,1266.3 756.1,1266.3 758.6,1266.3 761.1,1266.3 763.6,1266.3 766.1,1266.3 768.6,1266.2 771.2,1266.2 773.7,1266.1 776.2,1266.0 778.7,1266.0 781.2,1265.9 783.7,1265.8 786.3,1265.7 788.8,1265.6 791.3,1265.6 793.8,1265.5 796.3,1265.4 798.9,1265.4 801.4,1265.3 803.9,1265.3 806.4,1265.3 808.9,1265.3 811.4,1265.3 814.0,1265.3 816.5,1264.7 819.0,1263.4 821.5,1261.2 824.0,1258.7 826.5,1256.6 829.1,1254.4 831.6,1252.6 834.1,1252.0 836.6,1252.0 839.1,1252.0 841.7,1252.0 844.2,1252.0 846.7,1252.1 849.2,1252.1 851.7,1252.2 854.2,1252.2 856.8,1252.3 859.3,1252.4 861.8,1252.6 864.3,1252.7 866.8,1252.8 869.3,1253.0 871.9,1253.1 874.4,1253.3 876.9,1253.5 879.4,1253.7 881.9,1253.9 884.4,1254.1 887.0,1254.4 889.5,1254.6 892.0,1254.8 894.5,1255.0 897.0,1255.3 899.6,1255.5 902.1,1255.7 904.6,1255.8 907.1,1256.0 909.6,1256.2 912.1,1256.4 914.7,1256.5 917.2,1256.7 919.7,1256.9 922.2,1257.0 924.7,1257.2 927.2,1257.4 929.8,1257.5 932.3,1257.7 934.8,1257.9 937.3,1258.1 939.8,1258.2 942.3,1258.4 944.9,1258.6 947.4,1258.8 949.9,1259.0 952.4,1259.2 954.9,1259.4 957.5,1259.6 960.0,1259.9 962.5,1260.1 965.0,1260.3 967.5,1260.5 970.0,1260.8 972.6,1261.0 975.1,1261.3 977.6,1261.5 980.1,1261.7 982.6,1262.0 985.1,1262.2 987.7,1262.4 990.2,1262.7 992.7,1262.9 995.2,1263.1 997.7,1263.3 1000.3,1263.5 1002.8,1263.7 1005.3,1263.9 1007.8,1264.1 1010.3,1264.3 1012.8,1264.5 1015.4,1264.6 1017.9,1264.8 1020.4,1265.0 1022.9,1265.2 1025.4,1265.3 1027.9,1265.5 1030.5,1265.7 1033.0,1265.8 1035.5,1266.0 1038.0,1266.2 1040.5,1266.3 1043.0,1266.5 1045.6,1266.7 1048.1,1266.8 1050.6,1267.0" fill="none" stroke="#c8c8a0" stroke-width="0.6" />
<polyline points="840.6,1126.7 843.1,1126.8 845.7,1126.8 848.2,1127.0 850.7,1127.2 853.3,1127.6 855.8,1128.0 858.3,1128.5 860.8,1129.0 863.4,1129.6 865.9,1130.3 868.4,1131.1 871.0,1132.0 873.5,1132.9 876.0,1133.9 878.6,1135.0 881.1,1136.2 883.6,1137.4 886.1,1138.7 888.7,1140.1 891.2,1141.6 893.7,1143.2 896.3,1144.8 898.8,1146.5 901.3,1148.3 903.9,1150.2 906.4,1152.2 908.9,1154.2 911.4,1156.3 914.0,1158.4 916.5,1160.7 919.0,1162.9 921.6,1165.3 924.1,1167.7 926.6,1170.1 929.2,1172.6 931.7,1175.2 934.2,1177.7 936.7,1180.3 939.3,1183.0 941.8,1185.6 944.3,1188.3 946.9,1190.9 949.4,1193.6 951.9,1196.2 954.5,1198.8 957.0,1201.4 959.5,1204.0 962.0,1206.5 964.6,1209.0 967.1,1211.5 969.6,1213.9 972.2,1216.2 974.7,1218.5 977.2,1220.8 979.8,1222.9 982.3,1225.0 984.8,1227.0 987.3,1229.0 989.9,1230.8 992.4,1232.6 994.9,1234.4 997.5,1236.0 1000.0,1237.6 1002.5,1239.0 1005.1,1240.4 1007.6,1241.8 1010.1,1243.0 1012.6,1244.2 1015.2,1245.3 1017.7,1246.3 1020.2,1247.2 1022.8,1248.1 1025.3,1248.8 1027.8,1249.5 1030.4,1250.2 1032.9,1250.7 1035.4,1251.2 1037.9,1251.6 1040.5,1251.9 1043.0,1252.2 1045.5,1252.4 1048.1,1252.5 1050.6,1252.5" fill="none" stroke="#9da2a6" stroke-width="0.8" />
<polyline points="840.6,1143.9 843.1,1143.9 845.7,1144.0 848.2,1144.1 850.7,1144.4 853.3,1144.7 855.8,1145.0 858.3,1145.4 860.8,1145.9 863.4,1146.5 865.9,1147.1 868.4,1147.8 871.0,1148.5 873.5,1149.4 876.0,1150.2 878.6,1151.2 881.1,1152.2 883.6,1153.3 886.1,1154.5 888.7,1155.7 891.2,1157.0 893.7,1158.4 896.3,1159.8 898.8,1161.4 901.3,1162.9 903.9,1164.6 906.4,1166.3 908.9,1168.1 911.4,1169.9 914.0,1171.8 916.5,1173.8 919.0,1175.8 921.6,1177.9 924.1,1180.0 926.6,1182.1 929.2,1184.3 931.7,1186.6 934.2,1188.8 936.7,1191.1 939.3,1193.4 941.8,1195.7 944.3,1198.1 946.9,1200.4 949.4,1202.7 951.9,1205.1 954.5,1207.4 957.0,1209.7 959.5,1211.9 962.0,1214.2 964.6,1216.4 967.1,1218.5 969.6,1220.6 972.2,1222.7 974.7,1224.7 977.2,1226.7 979.8,1228.6 982.3,1230.4 984.8,1232.2 987.3,1233.9 989.9,1235.5 992.4,1237.1 994.9,1238.6 997.5,1240.1 1000.0,1241.5 1002.5,1242.8 1005.1,1244.0 1007.6,1245.2 1010.1,1246.2 1012.6,1247.3 1015.2,1248.2 1017.7,1249.1 1020.2,1249.9 1022.8,1250.7 1025.3,1251.4 1027.8,1252.0 1030.4,1252.5 1032.9,1253.0 1035.4,1253.5 1037.9,1253.8 1040.5,1254.1 1043.0,1254.3 1045.5,1254.5 1048.1,1254.6 1050.6,1254.6" fill="none" stroke="#9da2a6" stroke-width="0.8" />
<polyline points="840.6,1148.4 843.1,1148.5 845.7,1148.5 848.2,1148.7 850.7,1148.9 853.3,1149.2 855.8,1149.5 858.3,1149.9 860.8,1150.4 863.4,1150.9 865.9,1151.5 868.4,1152.2 871.0,1152.9 873.5,1153.7 876.0,1154.6 878.6,1155.5 881.1,1156.5 883.6,1157.5 886.1,1158.7 888.7,1159.8 891.2,1161.1 893.7,1162.4 896.3,1163.8 898.8,1165.3 901.3,1166.8 903.9,1168.4 906.4,1170.0 908.9,1171.7 911.4,1173.5 914.0,1175.4 916.5,1177.2 919.0,1179.2 921.6,1181.2 924.1,1183.2 926.6,1185.3 929.2,1187.4 931.7,1189.6 934.2,1191.7 936.7,1194.0 939.3,1196.2 941.8,1198.4 944.3,1200.7 946.9,1202.9 949.4,1205.2 951.9,1207.4 954.5,1209.6 957.0,1211.8 959.5,1214.0 962.0,1216.2 964.6,1218.3 967.1,1220.4 969.6,1222.4 972.2,1224.4 974.7,1226.3 977.2,1228.2 979.8,1230.1 982.3,1231.8 984.8,1233.5 987.3,1235.2 989.9,1236.8 992.4,1238.3 994.9,1239.8 997.5,1241.2 1000.0,1242.5 1002.5,1243.7 1005.1,1244.9 1007.6,1246.0 1010.1,1247.1 1012.6,1248.1 1015.2,1249.0 1017.7,1249.9 1020.2,1250.7 1022.8,1251.4 1025.3,1252.1 1027.8,1252.6 1030.4,1253.2 1032.9,1253.6 1035.4,1254.1 1037.9,1254.4 1040.5,1254.7 1043.0,1254.9 1045.5,1255.0 1048.1,1255.1 1050.6,1255.2" fill="none" stroke="#9da2a6" stroke-width="0.8" />
<polyline points="840.6,1158.7 843.1,1158.8 845.7,1158.8 848.2,1158.9 850.7,1159.1 853.3,1159.4 855.8,1159.7 858.3,1160.1 860.8,1160.5 863.4,1161.0 865.9,1161.5 868.4,1162.2 871.0,1162.8 873.5,1163.5 876.0,1164.3 878.6,1165.2 881.1,1166.1 883.6,1167.0 886.1,1168.1 888.7,1169.2 891.2,1170.3 893.7,1171.5 896.3,1172.8 898.8,1174.1 901.3,1175.5 903.9,1177.0 906.4,1178.5 908.9,1180.1 911.4,1181.7 914.0,1183.4 916.5,1185.1 919.0,1186.9 921.6,1188.7 924.1,1190.6 926.6,1192.5 929.2,1194.4 931.7,1196.4 934.2,1198.4 936.7,1200.4 939.3,1202.4 941.8,1204.5 944.3,1206.5 946.9,1208.6 949.4,1210.6 951.9,1212.7 954.5,1214.7 957.0,1216.8 959.5,1218.8 962.0,1220.7 964.6,1222.7 967.1,1224.6 969.6,1226.4 972.2,1228.3 974.7,1230.0 977.2,1231.8 979.8,1233.4 982.3,1235.1 984.8,1236.6 987.3,1238.1 989.9,1239.6 992.4,1241.0 994.9,1242.3 997.5,1243.6 1000.0,1244.8 1002.5,1246.0 1005.1,1247.0 1007.6,1248.1 1010.1,1249.0 1012.6,1249.9 1015.2,1250.8 1017.7,1251.6 1020.2,1252.3 1022.8,1253.0 1025.3,1253.6 1027.8,1254.1 1030.4,1254.6 1032.9,1255.0 1035.4,1255.4 1037.9,1255.7 1040.5,1256.0 1043.0,1256.2 1045.5,1256.3 1048.1,1256.4 1050.6,1256.4" fill="none" stroke="#9da2a6" stroke-width="0.8" />
<polyline points="840.6,1163.2 843.1,1163.3 845.7,1163.3 848.2,1163.5 850.7,1163.7 853.3,1163.9 855.8,1164.2 858.3,1164.6 860.8,1165.0 863.4,1165.5 865.9,1166.0 868.4,1166.6 871.0,1167.2 873.5,1167.9 876.0,1168.6 878.6,1169.5 881.1,1170.3 883.6,1171.2 886.1,1172.2 888.7,1173.3 891.2,1174.4 893.7,1175.5 896.3,1176.8 898.8,1178.0 901.3,1179.4 903.9,1180.8 906.4,1182.2 908.9,1183.7 911.4,1185.3 914.0,1186.9 916.5,1188.6 919.0,1190.3 921.6,1192.0 924.1,1193.8 926.6,1195.6 929.2,1197.5 931.7,1199.4 934.2,1201.3 936.7,1203.2 939.3,1205.2 941.8,1207.1 944.3,1209.1 946.9,1211.1 949.4,1213.1 951.9,1215.0 954.5,1217.0 957.0,1218.9 959.5,1220.8 962.0,1222.7 964.6,1224.6 967.1,1226.4 969.6,1228.2 972.2,1230.0 974.7,1231.7 977.2,1233.3 979.8,1234.9 982.3,1236.5 984.8,1238.0 987.3,1239.4 989.9,1240.8 992.4,1242.2 994.9,1243.5 997.5,1244.7 1000.0,1245.8 1002.5,1246.9 1005.1,1248.0 1007.6,1249.0 1010.1,1249.9 1012.6,1250.8 1015.2,1251.6 1017.7,1252.3 1020.2,1253.0 1022.8,1253.7 1025.3,1254.2 1027.8,1254.8 1030.4,1255.2 1032.9,1255.6 1035.4,1256.0 1037.9,1256.3 1040.5,1256.5 1043.0,1256.7 1045.5,1256.9 1048.1,1256.9 1050.6,1257.0" fill="none" stroke="#9da2a6" stroke-width="0.8" />
<polyline points="840.6,1179.4 843.1,1179.5 845.7,1179.5 848.2,1179.6 850.7,1179.8 853.3,1180.0 855.8,1180.3 858.3,1180.6 860.8,1180.9 863.4,1181.3 865.9,1181.8 868.4,1182.3 871.0,1182.8 873.5,1183.4 876.0,1184.0 878.6,1184.7 881.1,1185.5 883.6,1186.2 886.1,1187.1 888.7,1188.0 891.2,1188.9 893.7,1189.9 896.3,1190.9 898.8,1192.0 901.3,1193.1 903.9,1194.3 906.4,1195.6 908.9,1196.8 911.4,1198.2 914.0,1199.5 916.5,1200.9 919.0,1202.4 921.6,1203.8 924.1,1205.4 926.6,1206.9 929.2,1208.5 931.7,1210.1 934.2,1211.7 936.7,1213.4 939.3,1215.0 941.8,1216.7 944.3,1218.4 946.9,1220.0 949.4,1221.7 951.9,1223.4 954.5,1225.0 957.0,1226.7 959.5,1228.3 962.0,1229.9 964.6,1231.5 967.1,1233.0 969.6,1234.6 972.2,1236.0 974.7,1237.5 977.2,1238.9 979.8,1240.3 982.3,1241.6 984.8,1242.9 987.3,1244.1 989.9,1245.3 992.4,1246.4 994.9,1247.5 997.5,1248.5 1000.0,1249.5 1002.5,1250.4 1005.1,1251.3 1007.6,1252.2 1010.1,1253.0 1012.6,1253.7 1015.2,1254.4 1017.7,1255.0 1020.2,1255.6 1022.8,1256.1 1025.3,1256.6 1027.8,1257.1 1030.4,1257.5 1032.9,1257.8 1035.4,1258.1 1037.9,1258.4 1040.5,1258.6 1043.0,1258.7 1045.5,1258.9 1048.1,1258.9 1050.6,1259.0" fill="none" stroke="#9da2a6" stroke-width="0.8" />
<polyline points="840.6,1196.8 843.1,1196.9 845.7,1196.9 848.2,1197.0 850.7,1197.1 853.3,1197.3 855.8,1197.5 858.3,1197.8 860.8,1198.0 863.4,1198.4 865.9,1198.7 868.4,1199.1 871.0,1199.6 873.5,1200.0 876.0,1200.6 878.6,1201.1 881.1,1201.7 883.6,1202.3 886.1,1203.0 888.7,1203.7 891.2,1204.5 893.7,1205.3 896.3,1206.1 898.8,1207.0 901.3,1207.9 903.9,1208.9 906.4,1209.9 908.9,1210.9 911.4,1212.0 914.0,1213.1 916.5,1214.2 919.0,1215.4 921.6,1216.6 924.1,1217.8 926.6,1219.0 929.2,1220.3 931.7,1221.6 934.2,1222.9 936.7,1224.2 939.3,1225.6 941.8,1226.9 944.3,1228.3 946.9,1229.6 949.4,1231.0 951.9,1232.3 954.5,1233.7 957.0,1235.0 959.5,1236.3 962.0,1237.6 964.6,1238.9 967.1,1240.1 969.6,1241.4 972.2,1242.6 974.7,1243.7 977.2,1244.9 979.8,1246.0 982.3,1247.0 984.8,1248.1 987.3,1249.1 989.9,1250.0 992.4,1250.9 994.9,1251.8 997.5,1252.6 1000.0,1253.4 1002.5,1254.2 1005.1,1254.9 1007.6,1255.6 1010.1,1256.2 1012.6,1256.8 1015.2,1257.4 1017.7,1257.9 1020.2,1258.4 1022.8,1258.8 1025.3,1259.2 1027.8,1259.6 1030.4,1259.9 1032.9,1260.2 1035.4,1260.4 1037.9,1260.6 1040.5,1260.8 1043.0,1260.9 1045.5,1261.0 1048.1,1261.1 1050.6,1261.1" fill="none" stroke="#9da2a6" stroke-width="0.8" />
<polyline points="840.6,1216.2 843.1,1216.3 845.7,1216.3 848.2,1216.3 850.7,1216.4 853.3,1216.6 855.8,1216.7 858.3,1216.9 860.8,1217.1 863.4,1217.3 865.9,1217.6 868.4,1217.9 871.0,1218.2 873.5,1218.6 876.0,1218.9 878.6,1219.4 881.1,1219.8 883.6,1220.3 886.1,1220.8 888.7,1221.3 891.2,1221.8 893.7,1222.4 896.3,1223.0 898.8,1223.7 901.3,1224.4 903.9,1225.1 906.4,1225.8 908.9,1226.5 911.4,1227.3 914.0,1228.1 916.5,1229.0 919.0,1229.8 921.6,1230.7 924.1,1231.6 926.6,1232.5 929.2,1233.5 931.7,1234.4 934.2,1235.4 936.7,1236.4 939.3,1237.4 941.8,1238.3 944.3,1239.3 946.9,1240.3 949.4,1241.3 951.9,1242.3 954.5,1243.3 957.0,1244.3 959.5,1245.2 962.0,1246.2 964.6,1247.1 967.1,1248.0 969.6,1249.0 972.2,1249.8 974.7,1250.7 977.2,1251.5 979.8,1252.3 982.3,1253.1 984.8,1253.9 987.3,1254.6 989.9,1255.3 992.4,1256.0 994.9,1256.6 997.5,1257.2 1000.0,1257.8 1002.5,1258.4 1005.1,1258.9 1007.6,1259.4 1010.1,1259.9 1012.6,1260.3 1015.2,1260.7 1017.7,1261.1 1020.2,1261.4 1022.8,1261.8 1025.3,1262.1 1027.8,1262.3 1030.4,1262.6 1032.9,1262.8 1035.4,1262.9 1037.9,1263.1 1040.5,1263.2 1043.0,1263.3 1045.5,1263.4 1048.1,1263.4 1050.6,1263.4" fill="none" stroke="#9da2a6" stroke-width="0.8" />
<polyline points="840.6,1230.5 843.1,1230.5 845.7,1230.5 848.2,1230.5 850.7,1230.6 853.3,1230.7 855.8,1230.8 858.3,1231.0 860.8,1231.1 863.4,1231.3 865.9,1231.5 868.4,1231.7 871.0,1231.9 873.5,1232.2 876.0,1232.5 878.6,1232.8 881.1,1233.1 883.6,1233.4 886.1,1233.8 888.7,1234.2 891.2,1234.6 893.7,1235.0 896.3,1235.5 898.8,1235.9 901.3,1236.4 903.9,1237.0 906.4,1237.5 908.9,1238.0 911.4,1238.6 914.0,1239.2 916.5,1239.8 919.0,1240.5 921.6,1241.1 924.1,1241.8 926.6,1242.5 929.2,1243.1 931.7,1243.8 934.2,1244.6 936.7,1245.3 939.3,1246.0 941.8,1246.7 944.3,1247.5 946.9,1248.2 949.4,1248.9 951.9,1249.6 954.5,1250.4 957.0,1251.1 959.5,1251.8 962.0,1252.5 964.6,1253.2 967.1,1253.9 969.6,1254.5 972.2,1255.2 974.7,1255.8 977.2,1256.4 979.8,1257.0 982.3,1257.6 984.8,1258.1 987.3,1258.7 989.9,1259.2 992.4,1259.7 994.9,1260.2 997.5,1260.6 1000.0,1261.1 1002.5,1261.5 1005.1,1261.8 1007.6,1262.2 1010.1,1262.6 1012.6,1262.9 1015.2,1263.2 1017.7,1263.5 1020.2,1263.7 1022.8,1263.9 1025.3,1264.2 1027.8,1264.4 1030.4,1264.5 1032.9,1264.7 1035.4,1264.8 1037.9,1264.9 1040.5,1265.0 1043.0,1265.1 1045.5,1265.1 1048.1,1265.2 1050.6,1265.2" fill="none" stroke="#9da2a6" stroke-width="0.8" />
<polyline points="733.4,1220.8 735.9,1220.1 738.4,1218.1 740.9,1213.1 743.4,1208.2 745.9,1204.7 748.5,1201.9 751.0,1199.1 753.5,1197.0 756.0,1197.0 758.5,1197.0 761.0,1197.0 763.5,1197.1 766.0,1197.1 768.5,1197.2 771.0,1197.4 773.6,1197.5 776.1,1197.7 778.6,1197.9 781.1,1198.0 783.6,1198.2 786.1,1198.5 788.6,1198.8 791.1,1199.0 793.6,1199.3 796.1,1199.5 798.7,1199.8 801.2,1200.0 803.7,1200.1 806.2,1200.1 808.7,1200.1 811.2,1200.1 813.7,1199.5 816.2,1191.9 818.7,1180.5 821.2,1168.2 823.8,1157.2 826.3,1146.5 828.8,1137.0 831.3,1129.5 833.8,1125.7" fill="none" stroke="#9da2a6" stroke-width="0.7" />
<polyline points="733.4,1225.9 735.9,1225.3 738.4,1223.5 740.9,1219.0 743.4,1214.6 745.9,1211.5 748.5,1208.9 751.0,1206.5 753.5,1204.6 756.0,1204.6 758.5,1204.6 761.0,1204.6 763.5,1204.6 766.0,1204.7 768.5,1204.8 771.0,1204.9 773.6,1205.0 776.1,1205.2 778.6,1205.3 781.1,1205.5 783.6,1205.7 786.1,1205.9 788.6,1206.1 791.1,1206.4 793.6,1206.6 796.1,1206.8 798.7,1207.0 801.2,1207.2 803.7,1207.3 806.2,1207.4 808.7,1207.4 811.2,1207.4 813.7,1206.8 816.2,1200.0 818.7,1189.8 821.2,1178.8 823.8,1168.9 826.3,1159.3 828.8,1150.8 831.3,1144.0 833.8,1140.6" fill="none" stroke="#9da2a6" stroke-width="0.7" />
<polyline points="733.4,1228.8 735.9,1228.1 738.4,1226.4 740.9,1222.3 743.4,1218.2 745.9,1215.2 748.5,1212.8 751.0,1210.5 753.5,1208.8 756.0,1208.8 758.5,1208.8 761.0,1208.8 763.5,1208.8 766.0,1208.9 768.5,1209.0 771.0,1209.1 773.6,1209.2 776.1,1209.3 778.6,1209.5 781.1,1209.6 783.6,1209.8 786.1,1210.0 788.6,1210.2 791.1,1210.4 793.6,1210.7 796.1,1210.9 798.7,1211.1 801.2,1211.2 803.7,1211.3 806.2,1211.4 808.7,1211.4 811.2,1211.4 813.7,1210.9 816.2,1204.5 818.7,1194.9 821.2,1184.6 823.8,1175.4 826.3,1166.4 828.8,1158.4 831.3,1152.1 833.8,1148.9" fill="none" stroke="#9da2a6" stroke-width="0.7" />
<polyline points="733.4,1232.7 735.9,1232.2 738.4,1230.6 740.9,1226.9 743.4,1223.1 745.9,1220.5 748.5,1218.3 751.0,1216.2 753.5,1214.6 756.0,1214.6 758.5,1214.6 761.0,1214.6 763.5,1214.7 766.0,1214.7 768.5,1214.8 771.0,1214.9 773.6,1215.0 776.1,1215.2 778.6,1215.3 781.1,1215.4 783.6,1215.6 786.1,1215.7 788.6,1215.9 791.1,1216.2 793.6,1216.4 796.1,1216.6 798.7,1216.7 801.2,1216.9 803.7,1217.0 806.2,1217.0 808.7,1217.0 811.2,1217.0 813.7,1216.5 816.2,1210.8 818.7,1202.1 821.2,1192.8 823.8,1184.4 826.3,1176.3 828.8,1169.1 831.3,1163.4 833.8,1160.5" fill="none" stroke="#9da2a6" stroke-width="0.7" />
<polyline points="733.4,1235.0 735.9,1234.4 738.4,1233.0 740.9,1229.5 743.4,1226.0 745.9,1223.5 748.5,1221.4 751.0,1219.5 753.5,1218.0 756.0,1218.0 758.5,1218.0 761.0,1218.0 763.5,1218.0 766.0,1218.1 768.5,1218.2 771.0,1218.2 773.6,1218.4 776.1,1218.5 778.6,1218.6 781.1,1218.7 783.6,1218.9 786.1,1219.0 788.6,1219.2 791.1,1219.4 793.6,1219.6 796.1,1219.8 798.7,1220.0 801.2,1220.1 803.7,1220.2 806.2,1220.2 808.7,1220.2 811.2,1220.2 813.7,1219.8 816.2,1214.4 818.7,1206.2 821.2,1197.5 823.8,1189.6 826.3,1182.0 828.8,1175.2 831.3,1169.9 833.8,1167.1" fill="none" stroke="#9da2a6" stroke-width="0.7" />
<polyline points="733.4,1240.6 735.9,1240.2 738.4,1239.0 740.9,1236.0 743.4,1233.1 745.9,1231.0 748.5,1229.3 751.0,1227.6 753.5,1226.4 756.0,1226.4 758.5,1226.4 761.0,1226.4 763.5,1226.4 766.0,1226.4 768.5,1226.5 771.0,1226.6 773.6,1226.7 776.1,1226.8 778.6,1226.9 781.1,1227.0 783.6,1227.1 786.1,1227.3 788.6,1227.4 791.1,1227.6 793.6,1227.7 796.1,1227.9 798.7,1228.0 801.2,1228.1 803.7,1228.2 806.2,1228.2 808.7,1228.2 811.2,1228.2 813.7,1227.9 816.2,1223.3 818.7,1216.5 821.2,1209.2 823.8,1202.6 826.3,1196.2 828.8,1190.5 831.3,1186.0 833.8,1183.7" fill="none" stroke="#9da2a6" stroke-width="0.7" />
<polyline points="733.4,1246.3 735.9,1245.9 738.4,1244.9 740.9,1242.5 743.4,1240.2 745.9,1238.5 748.5,1237.1 751.0,1235.8 753.5,1234.8 756.0,1234.8 758.5,1234.8 761.0,1234.8 763.5,1234.8 766.0,1234.8 768.5,1234.9 771.0,1234.9 773.6,1235.0 776.1,1235.1 778.6,1235.2 781.1,1235.3 783.6,1235.4 786.1,1235.5 788.6,1235.6 791.1,1235.7 793.6,1235.9 796.1,1236.0 798.7,1236.1 801.2,1236.2 803.7,1236.2 806.2,1236.3 808.7,1236.3 811.2,1236.3 813.7,1236.0 816.2,1232.3 818.7,1226.8 821.2,1220.9 823.8,1215.5 826.3,1210.4 828.8,1205.8 831.3,1202.2 833.8,1200.3" fill="none" stroke="#9da2a6" stroke-width="0.7" />
<polyline points="733.4,1253.0 735.9,1252.8 738.4,1252.1 740.9,1250.4 743.4,1248.7 745.9,1247.5 748.5,1246.5 751.0,1245.6 753.5,1244.8 756.0,1244.8 758.5,1244.8 761.0,1244.8 763.5,1244.8 766.0,1244.9 768.5,1244.9 771.0,1245.0 773.6,1245.0 776.1,1245.1 778.6,1245.1 781.1,1245.2 783.6,1245.3 786.1,1245.3 788.6,1245.4 791.1,1245.5 793.6,1245.6 796.1,1245.7 798.7,1245.8 801.2,1245.8 803.7,1245.9 806.2,1245.9 808.7,1245.9 811.2,1245.9 813.7,1245.7 816.2,1243.1 818.7,1239.1 821.2,1234.9 823.8,1231.1 826.3,1227.4 828.8,1224.2 831.3,1221.5 833.8,1220.2" fill="none" stroke="#9da2a6" stroke-width="0.7" />
<polyline points="733.4,1258.7 735.9,1258.5 738.4,1258.1 740.9,1256.9 743.4,1255.8 745.9,1255.0 748.5,1254.3 751.0,1253.7 753.5,1253.2 756.0,1253.2 758.5,1253.2 761.0,1253.2 763.5,1253.2 766.0,1253.2 768.5,1253.3 771.0,1253.3 773.6,1253.3 776.1,1253.4 778.6,1253.4 781.1,1253.5 783.6,1253.5 786.1,1253.6 788.6,1253.6 791.1,1253.7 793.6,1253.7 796.1,1253.8 798.7,1253.9 801.2,1253.9 803.7,1253.9 806.2,1253.9 808.7,1253.9 811.2,1253.9 813.7,1253.8 816.2,1252.1 818.7,1249.4 821.2,1246.6 823.8,1244.1 826.3,1241.6 828.8,1239.4 831.3,1237.7 833.8,1236.8" fill="none" stroke="#9da2a6" stroke-width="0.7" />
<polyline points="733.4,1264.3 735.9,1264.3 738.4,1264.0 740.9,1263.5 743.4,1262.9 745.9,1262.5 748.5,1262.2 751.0,1261.9 753.5,1261.6 756.0,1261.6 758.5,1261.6 761.0,1261.6 763.5,1261.6 766.0,1261.6 768.5,1261.6 771.0,1261.7 773.6,1261.7 776.1,1261.7 778.6,1261.7 781.1,1261.7 783.6,1261.8 786.1,1261.8 788.6,1261.8 791.1,1261.8 793.6,1261.9 796.1,1261.9 798.7,1261.9 801.2,1261.9 803.7,1262.0 806.2,1262.0 808.7,1262.0 811.2,1262.0 813.7,1261.9 816.2,1261.0 818.7,1259.7 821.2,1258.3 823.8,1257.0 826.3,1255.8 828.8,1254.7 831.3,1253.8 833.8,1253.4" fill="none" stroke="#9da2a6" stroke-width="0.7" />
<polyline points="670.0,1269.8 672.6,1269.6 675.2,1269.2 677.8,1268.6 680.3,1267.9 682.9,1267.0 685.5,1266.1 688.1,1265.2 690.7,1264.3 693.3,1263.4 695.9,1262.4 698.5,1261.5 701.0,1260.5 703.6,1259.5 706.2,1258.4 708.8,1257.3 711.4,1256.3 714.0,1255.5 716.6,1255.0 719.1,1254.7 721.7,1254.4 724.3,1254.3 726.9,1254.0" fill="none" stroke="#a9b0b4" stroke-width="0.7" />
<polyline points="670.0,1269.9 672.6,1269.8 675.2,1269.6 677.8,1269.2 680.3,1268.8 682.9,1268.4 685.5,1267.9 688.1,1267.4 690.7,1266.9 693.3,1266.4 695.9,1265.9 698.5,1265.4 701.0,1264.8 703.6,1264.3 706.2,1263.7 708.8,1263.1 711.4,1262.5 714.0,1262.1 716.6,1261.8 719.1,1261.6 721.7,1261.5 724.3,1261.4 726.9,1261.3" fill="none" stroke="#a9b0b4" stroke-width="0.7" />
<polyline points="670.0,1269.9 672.6,1269.9 675.2,1269.8 677.8,1269.6 680.3,1269.4 682.9,1269.2 685.5,1268.9 688.1,1268.7 690.7,1268.4 693.3,1268.2 695.9,1267.9 698.5,1267.7 701.0,1267.4 703.6,1267.1 706.2,1266.8 708.8,1266.5 711.4,1266.3 714.0,1266.1 716.6,1265.9 719.1,1265.8 721.7,1265.8 724.3,1265.7 726.9,1265.7" fill="none" stroke="#a9b0b4" stroke-width="0.7" />
<rect x="726.9" y="1213.5" width="6.5" height="54.2" fill="#add8e6" /><rect x="726.9" y="1267.7" width="6.5" height="2.3" fill="#ffff00" /><line x1="726.9" y1="1236" x2="733.4" y2="1236" stroke="#9a9a9a" stroke-width="0.7" /><line x1="726.9" y1="1240" x2="733.4" y2="1240" stroke="#9a9a9a" stroke-width="0.7" /><line x1="726.9" y1="1242" x2="733.4" y2="1242" stroke="#9a9a9a" stroke-width="0.7" /><line x1="726.9" y1="1250" x2="733.4" y2="1250" stroke="#9a9a9a" stroke-width="0.7" /><line x1="726.9" y1="1258" x2="733.4" y2="1258" stroke="#9a9a9a" stroke-width="0.7" /><line x1="726.9" y1="1264" x2="733.4" y2="1264" stroke="#9a9a9a" stroke-width="0.7" /><rect x="726.9" y="1213.5" width="6.5" height="56.5" fill="none" stroke="#999" stroke-width="0.8" />
<line x1="732.4" y1="1223" x2="732.4" y2="1270" stroke="#999" stroke-width="0.8" />
<rect x="753.5" y="1186.1" width="6.6" height="80.2" fill="#add8e6" /><rect x="753.5" y="1266.3" width="6.6" height="3.7" fill="#ffff00" /><line x1="753.5" y1="1193" x2="760.1" y2="1193" stroke="#9a9a9a" stroke-width="0.7" /><line x1="753.5" y1="1199" x2="760.1" y2="1199" stroke="#9a9a9a" stroke-width="0.7" /><line x1="753.5" y1="1203" x2="760.1" y2="1203" stroke="#9a9a9a" stroke-width="0.7" /><line x1="753.5" y1="1213" x2="760.1" y2="1213" stroke="#9a9a9a" stroke-width="0.7" /><line x1="753.5" y1="1222" x2="760.1" y2="1222" stroke="#9a9a9a" stroke-width="0.7" /><line x1="753.5" y1="1234" x2="760.1" y2="1234" stroke="#9a9a9a" stroke-width="0.7" /><line x1="753.5" y1="1247" x2="760.1" y2="1247" stroke="#9a9a9a" stroke-width="0.7" /><line x1="753.5" y1="1256" x2="760.1" y2="1256" stroke="#9a9a9a" stroke-width="0.7" /><rect x="753.5" y="1186.1" width="6.6" height="83.9" fill="none" stroke="#999" stroke-width="0.8" />
<rect x="806.8" y="1189.7" width="6.2" height="75.6" fill="#add8e6" /><rect x="806.8" y="1265.3" width="6.2" height="4.7" fill="#ffff00" /><line x1="806.8" y1="1201" x2="813" y2="1201" stroke="#9a9a9a" stroke-width="0.7" /><line x1="806.8" y1="1209" x2="813" y2="1209" stroke="#9a9a9a" stroke-width="0.7" /><line x1="806.8" y1="1214" x2="813" y2="1214" stroke="#9a9a9a" stroke-width="0.7" /><line x1="806.8" y1="1221" x2="813" y2="1221" stroke="#9a9a9a" stroke-width="0.7" /><line x1="806.8" y1="1226" x2="813" y2="1226" stroke="#9a9a9a" stroke-width="0.7" /><line x1="806.8" y1="1240" x2="813" y2="1240" stroke="#9a9a9a" stroke-width="0.7" /><line x1="806.8" y1="1251" x2="813" y2="1251" stroke="#9a9a9a" stroke-width="0.7" /><line x1="806.8" y1="1258" x2="813" y2="1258" stroke="#9a9a9a" stroke-width="0.7" /><rect x="806.8" y="1189.7" width="6.2" height="80.3" fill="none" stroke="#999" stroke-width="0.8" />
<rect x="833.8" y="1104.1" width="6.8" height="147.9" fill="#add8e6" /><rect x="833.8" y="1252" width="6.8" height="18" fill="#ffff00" /><line x1="833.8" y1="1125" x2="840.6" y2="1125" stroke="#9a9a9a" stroke-width="0.7" /><line x1="833.8" y1="1142.4" x2="840.6" y2="1142.4" stroke="#9a9a9a" stroke-width="0.7" /><line x1="833.8" y1="1147" x2="840.6" y2="1147" stroke="#9a9a9a" stroke-width="0.7" /><line x1="833.8" y1="1157.4" x2="840.6" y2="1157.4" stroke="#9a9a9a" stroke-width="0.7" /><line x1="833.8" y1="1162" x2="840.6" y2="1162" stroke="#9a9a9a" stroke-width="0.7" /><line x1="833.8" y1="1178.4" x2="840.6" y2="1178.4" stroke="#9a9a9a" stroke-width="0.7" /><line x1="833.8" y1="1196" x2="840.6" y2="1196" stroke="#9a9a9a" stroke-width="0.7" /><line x1="833.8" y1="1215.6" x2="840.6" y2="1215.6" stroke="#9a9a9a" stroke-width="0.7" /><line x1="833.8" y1="1230" x2="840.6" y2="1230" stroke="#9a9a9a" stroke-width="0.7" /><rect x="833.8" y="1104.1" width="6.8" height="165.9" fill="none" stroke="#999" stroke-width="0.8" />
<rect x="1050.6" y="1250" width="7" height="17" fill="#add8e6" /><rect x="1050.6" y="1267" width="7" height="3" fill="#ffff00" /><line x1="1050.6" y1="1253" x2="1057.6" y2="1253" stroke="#9a9a9a" stroke-width="0.7" /><line x1="1050.6" y1="1256" x2="1057.6" y2="1256" stroke="#9a9a9a" stroke-width="0.7" /><line x1="1050.6" y1="1259" x2="1057.6" y2="1259" stroke="#9a9a9a" stroke-width="0.7" /><line x1="1050.6" y1="1262" x2="1057.6" y2="1262" stroke="#9a9a9a" stroke-width="0.7" /><line x1="1050.6" y1="1264.5" x2="1057.6" y2="1264.5" stroke="#9a9a9a" stroke-width="0.7" /><rect x="1050.6" y="1250" width="7" height="20" fill="none" stroke="#999" stroke-width="0.8" />
<line x1="663.1" y1="1087.8" x2="663.1" y2="1269" stroke="#bdbdbd" stroke-width="1.2" stroke-dasharray="1.6 5.5"/>
<line x1="668" y1="1087.8" x2="668" y2="1269" stroke="#bdbdbd" stroke-width="1.2" stroke-dasharray="1.6 5.5"/>
<line x1="673.2" y1="1087.8" x2="673.2" y2="1269" stroke="#bdbdbd" stroke-width="1.2" stroke-dasharray="1.6 5.5"/>
<line x1="677" y1="1087.8" x2="677" y2="1269" stroke="#bdbdbd" stroke-width="1.2" stroke-dasharray="1.6 5.5"/>
<line x1="681" y1="1087.8" x2="681" y2="1269" stroke="#bdbdbd" stroke-width="1.2" stroke-dasharray="1.6 5.5"/>
<line x1="685" y1="1087.8" x2="685" y2="1269" stroke="#bdbdbd" stroke-width="1.2" stroke-dasharray="1.6 5.5"/>
<line x1="721.2" y1="1087.8" x2="721.2" y2="1269" stroke="#bdbdbd" stroke-width="1.2" stroke-dasharray="1.6 5.5"/>
<line x1="734.7" y1="1087.8" x2="734.7" y2="1269" stroke="#bdbdbd" stroke-width="1.2" stroke-dasharray="1.6 5.5"/>
<line x1="748.1" y1="1087.8" x2="748.1" y2="1269" stroke="#bdbdbd" stroke-width="1.2" stroke-dasharray="1.6 5.5"/>
<line x1="828.2" y1="1087.8" x2="828.2" y2="1269" stroke="#bdbdbd" stroke-width="1.2" stroke-dasharray="1.6 5.5"/>
<circle cx="689.5" cy="1054.7" r="4.1" fill="#0000ff" />
<circle cx="720.5" cy="1054.7" r="4.1" fill="#0000ff" />
<circle cx="747" cy="1054.7" r="4.1" fill="#0000ff" />
<circle cx="774.2" cy="1054.7" r="4.1" fill="#0000ff" />
<circle cx="800.6" cy="1054.7" r="4.1" fill="#0000ff" />
<circle cx="827.8" cy="1054.7" r="4.1" fill="#0000ff" />
<circle cx="881.2" cy="1054.7" r="4.1" fill="#ff0000" />
<circle cx="934.5" cy="1054.7" r="4.1" fill="#ff0000" />
<circle cx="988.3" cy="1054.7" r="4.1" fill="#ff0000" />
<circle cx="1041.5" cy="1054.7" r="4.1" fill="#ff0000" />
<text x="661.8" y="1068.6" font-size="9.6" text-anchor="middle" >0.001</text>
<text x="661.8" y="1078.6" font-size="9.6" text-anchor="middle" textLength="12.32" lengthAdjust="spacingAndGlyphs" >(5)</text>
<text x="730" y="1068.6" font-size="9.6" text-anchor="middle" >3.9</text>
<text x="730" y="1078.6" font-size="9.6" text-anchor="middle" textLength="17.93" lengthAdjust="spacingAndGlyphs" >(13)</text>
<text x="757.4" y="1068.6" font-size="9.6" text-anchor="middle" >5.8</text>
<text x="757.4" y="1078.6" font-size="9.6" text-anchor="middle" textLength="17.93" lengthAdjust="spacingAndGlyphs" >(13)</text>
<text x="810.1" y="1068.6" font-size="9.6" text-anchor="middle" >5.6</text>
<text x="810.1" y="1078.6" font-size="9.6" text-anchor="middle" textLength="17.93" lengthAdjust="spacingAndGlyphs" >(13)</text>
<text x="836.7" y="1068.6" font-size="9.6" text-anchor="middle" >11.4</text>
<text x="836.7" y="1078.6" font-size="9.6" text-anchor="middle" textLength="17.93" lengthAdjust="spacingAndGlyphs" >(13)</text>
<text x="1055.5" y="1068.6" font-size="9.6" text-anchor="middle" >1.4</text>
<text x="1055.5" y="1078.6" font-size="9.6" text-anchor="middle" textLength="17.93" lengthAdjust="spacingAndGlyphs" >(12)</text>
<line x1="639.9" y1="1051.6" x2="639.9" y2="1270.5" stroke="#3a3a3a" stroke-width="1.1" />
<line x1="633.9" y1="1270" x2="1077.8" y2="1270" stroke="#3a3a3a" stroke-width="1.1" />
<line x1="633.9" y1="1270" x2="639.9" y2="1270" stroke="#3a3a3a" stroke-width="1.1" />
<text x="627.5" y="1274.4" font-size="12.5" text-anchor="end" textLength="8.34" lengthAdjust="spacingAndGlyphs" >0</text>
<line x1="633.9" y1="1240.84" x2="639.9" y2="1240.84" stroke="#3a3a3a" stroke-width="1.1" />
<text x="627.5" y="1245.24" font-size="12.5" text-anchor="end" textLength="8.34" lengthAdjust="spacingAndGlyphs" >2</text>
<line x1="633.9" y1="1211.68" x2="639.9" y2="1211.68" stroke="#3a3a3a" stroke-width="1.1" />
<text x="627.5" y="1216.08" font-size="12.5" text-anchor="end" textLength="8.34" lengthAdjust="spacingAndGlyphs" >4</text>
<line x1="633.9" y1="1182.52" x2="639.9" y2="1182.52" stroke="#3a3a3a" stroke-width="1.1" />
<text x="627.5" y="1186.92" font-size="12.5" text-anchor="end" textLength="8.34" lengthAdjust="spacingAndGlyphs" >6</text>
<line x1="633.9" y1="1153.36" x2="639.9" y2="1153.36" stroke="#3a3a3a" stroke-width="1.1" />
<text x="627.5" y="1157.76" font-size="12.5" text-anchor="end" textLength="8.34" lengthAdjust="spacingAndGlyphs" >8</text>
<line x1="633.9" y1="1124.2" x2="639.9" y2="1124.2" stroke="#3a3a3a" stroke-width="1.1" />
<text x="627.5" y="1128.6" font-size="12.5" text-anchor="end" textLength="16.69" lengthAdjust="spacingAndGlyphs" >10</text>
<line x1="633.9" y1="1095.04" x2="639.9" y2="1095.04" stroke="#3a3a3a" stroke-width="1.1" />
<text x="627.5" y="1099.44" font-size="12.5" text-anchor="end" textLength="16.69" lengthAdjust="spacingAndGlyphs" >12</text>
<line x1="633.9" y1="1065.88" x2="639.9" y2="1065.88" stroke="#3a3a3a" stroke-width="1.1" />
<text x="627.5" y="1070.28" font-size="12.5" text-anchor="end" textLength="16.69" lengthAdjust="spacingAndGlyphs" >14</text>
<line x1="663.1" y1="1270" x2="663.1" y2="1275.5" stroke="#3a3a3a" stroke-width="1.1" />
<text x="663.1" y="1293.2" font-size="12.5" text-anchor="middle" textLength="8.34" lengthAdjust="spacingAndGlyphs" >0</text>
<line x1="694.99" y1="1270" x2="694.99" y2="1275.5" stroke="#3a3a3a" stroke-width="1.1" />
<text x="694.99" y="1293.2" font-size="12.5" text-anchor="middle" textLength="16.69" lengthAdjust="spacingAndGlyphs" >50</text>
<line x1="726.88" y1="1270" x2="726.88" y2="1275.5" stroke="#3a3a3a" stroke-width="1.1" />
<text x="726.88" y="1293.2" font-size="12.5" text-anchor="middle" textLength="25.03" lengthAdjust="spacingAndGlyphs" >100</text>
<line x1="758.77" y1="1270" x2="758.77" y2="1275.5" stroke="#3a3a3a" stroke-width="1.1" />
<text x="758.77" y="1293.2" font-size="12.5" text-anchor="middle" textLength="25.03" lengthAdjust="spacingAndGlyphs" >150</text>
<line x1="790.66" y1="1270" x2="790.66" y2="1275.5" stroke="#3a3a3a" stroke-width="1.1" />
<text x="790.66" y="1293.2" font-size="12.5" text-anchor="middle" textLength="25.03" lengthAdjust="spacingAndGlyphs" >200</text>
<line x1="822.55" y1="1270" x2="822.55" y2="1275.5" stroke="#3a3a3a" stroke-width="1.1" />
<text x="822.55" y="1293.2" font-size="12.5" text-anchor="middle" textLength="25.03" lengthAdjust="spacingAndGlyphs" >250</text>
<line x1="854.44" y1="1270" x2="854.44" y2="1275.5" stroke="#3a3a3a" stroke-width="1.1" />
<text x="854.44" y="1293.2" font-size="12.5" text-anchor="middle" textLength="25.03" lengthAdjust="spacingAndGlyphs" >300</text>
<line x1="886.33" y1="1270" x2="886.33" y2="1275.5" stroke="#3a3a3a" stroke-width="1.1" />
<text x="886.33" y="1293.2" font-size="12.5" text-anchor="middle" textLength="25.03" lengthAdjust="spacingAndGlyphs" >350</text>
<line x1="918.22" y1="1270" x2="918.22" y2="1275.5" stroke="#3a3a3a" stroke-width="1.1" />
<text x="918.22" y="1293.2" font-size="12.5" text-anchor="middle" textLength="25.03" lengthAdjust="spacingAndGlyphs" >400</text>
<line x1="950.11" y1="1270" x2="950.11" y2="1275.5" stroke="#3a3a3a" stroke-width="1.1" />
<text x="950.11" y="1293.2" font-size="12.5" text-anchor="middle" textLength="25.03" lengthAdjust="spacingAndGlyphs" >450</text>
<line x1="982" y1="1270" x2="982" y2="1275.5" stroke="#3a3a3a" stroke-width="1.1" />
<text x="982" y="1293.2" font-size="12.5" text-anchor="middle" textLength="25.03" lengthAdjust="spacingAndGlyphs" >500</text>
<line x1="1013.89" y1="1270" x2="1013.89" y2="1275.5" stroke="#3a3a3a" stroke-width="1.1" />
<text x="1013.89" y="1293.2" font-size="12.5" text-anchor="middle" textLength="25.03" lengthAdjust="spacingAndGlyphs" >550</text>
<line x1="1045.78" y1="1270" x2="1045.78" y2="1275.5" stroke="#3a3a3a" stroke-width="1.1" />
<text x="1045.78" y="1293.2" font-size="12.5" text-anchor="middle" textLength="25.03" lengthAdjust="spacingAndGlyphs" >600</text>
<line x1="1077.67" y1="1270" x2="1077.67" y2="1275.5" stroke="#3a3a3a" stroke-width="1.1" />
<text x="1077.67" y="1293.2" font-size="12.5" text-anchor="middle" textLength="25.03" lengthAdjust="spacingAndGlyphs" >650</text>
<text x="788.9" y="1316.4" font-size="14.6" textLength="181" lengthAdjust="spacingAndGlyphs" >Days after treatment start</text>
<text x="600.5" y="1157.5" font-size="15" text-anchor="middle" textLength="127" lengthAdjust="spacingAndGlyphs" transform="rotate(-90 600.5 1157.5)" >TRB frequency (%)</text>
<text x="1082.3" y="1083" font-size="12.2" textLength="66" lengthAdjust="spacingAndGlyphs" >Specificity</text>
<rect x="1081.6" y="1093.3" width="13.3" height="12.4" fill="#add8e6" stroke="#9a9a9a" stroke-width="0.6" />
<text x="1103" y="1104.6" font-size="12.2" textLength="95" lengthAdjust="spacingAndGlyphs" >GALNT6 (E579K)</text>
<rect x="1081.6" y="1109.4" width="13.3" height="12.4" fill="#ffff00" stroke="#9a9a9a" stroke-width="0.6" />
<text x="1103" y="1120.7" font-size="12.2" textLength="86" lengthAdjust="spacingAndGlyphs" >TTC13 (N144Y)</text>
<text x="1082.3" y="1195.7" font-size="12.2" textLength="102" lengthAdjust="spacingAndGlyphs" >Clinical response</text>
<circle cx="1088" cy="1208.6" r="4.2" fill="#ff0000" />
<text x="1099.5" y="1213.4" font-size="12.2" >PD</text>
<circle cx="1088" cy="1224" r="4.2" fill="#0000ff" />
<text x="1099.5" y="1228.8" font-size="12.2" >PR</text>
<text x="0" y="1099" font-size="19.5" font-weight="bold" style="stroke-width:0.7px">d</text>
<text x="29" y="1099" font-size="14.6" textLength="467.5" lengthAdjust="spacingAndGlyphs" >Patient 38—RCC, autogene cevumeran (25 µg) + atezolizumab</text>
<text x="92" y="1136" font-size="14.6" text-anchor="middle" textLength="71" lengthAdjust="spacingAndGlyphs" >Screening</text>
<text x="225" y="1136" font-size="14.6" text-anchor="middle" textLength="19.5" lengthAdjust="spacingAndGlyphs" >C4</text>
<text x="370" y="1136" font-size="14.6" text-anchor="middle" textLength="19.5" lengthAdjust="spacingAndGlyphs" >C8</text>
<text x="506.5" y="1136" font-size="14.6" text-anchor="middle" textLength="28" lengthAdjust="spacingAndGlyphs" >C16</text>
<g clip-path="url(#cpd1)"><rect x="22" y="1142.8" width="134.5" height="97.4" fill="#000" /><g transform="translate(22 1142.8) scale(1.3450 0.9740)"><g filter="url(#bl05)"><path d="M1.7 53.4 C1.9 50.0 2.2 46.8 3.3 43.2 C4.4 39.6 5.8 35.8 8.3 31.8 C10.8 27.8 14.1 22.9 18.3 19.3 C22.5 15.7 28.0 12.1 33.3 10.2 C38.6 8.3 44.4 8.2 50.0 8.0 C55.6 7.8 61.4 7.6 66.7 9.1 C72.0 10.6 77.5 13.6 81.7 17.0 C85.9 20.4 89.1 24.8 91.7 29.5 C94.3 34.2 96.4 40.6 97.5 45.5 C98.6 50.4 98.6 54.4 98.3 59.1 C98.0 63.8 97.6 69.7 95.8 73.9 C94.0 78.1 91.0 81.3 87.5 84.1 C84.0 86.9 79.9 89.2 75.0 90.9 C70.1 92.6 63.8 93.7 58.3 94.3 C52.8 94.9 47.2 94.9 41.7 94.3 C36.2 93.7 29.9 92.6 25.0 90.9 C20.1 89.2 15.8 87.1 12.5 84.1 C9.2 81.1 6.7 76.1 5.0 72.7 C3.3 69.3 2.6 66.8 2.1 63.6 C1.6 60.4 1.5 56.8 1.7 53.4Z" fill="#5c5c5c"/><path d="M3.1 53.4 C3.3 50.1 3.6 47.0 4.7 43.5 C5.8 40.0 7.1 36.3 9.6 32.4 C12.0 28.5 15.2 23.8 19.3 20.3 C23.3 16.8 28.7 13.3 33.8 11.5 C38.9 9.6 44.6 9.5 50.0 9.3 C55.4 9.1 61.1 8.9 66.2 10.4 C71.3 11.8 76.7 14.8 80.7 18.1 C84.8 21.3 87.9 25.6 90.4 30.2 C93.0 34.8 95.0 40.9 96.1 45.7 C97.1 50.5 97.1 54.3 96.9 58.9 C96.6 63.5 96.2 69.2 94.4 73.2 C92.7 77.3 89.7 80.4 86.4 83.1 C83.0 85.9 79.0 88.1 74.2 89.7 C69.5 91.4 63.4 92.5 58.1 93.0 C52.7 93.6 47.3 93.6 41.9 93.0 C36.6 92.5 30.5 91.4 25.8 89.7 C21.0 88.1 16.9 86.1 13.6 83.1 C10.4 80.2 8.0 75.4 6.4 72.1 C4.7 68.8 4.1 66.4 3.5 63.3 C3.0 60.1 3.0 56.7 3.1 53.4Z" fill="#262626"/><path d="M4 50 C8 45 16 45 19 50 L19 72 C14 76 6 74 4 66Z" fill="#7a7a7a"/><path d="M96 52 C92 46 84 46 82 52 L82 70 C86 76 94 74 96 66Z" fill="#767676"/><path d="M24 80 C36 86 64 86 76 80 L74 90 C60 94 40 94 26 90Z" fill="#6a6a6a"/><path d="M20 22 C35 12 65 12 80 22 L78 27 C64 18 36 18 22 27Z" fill="#6a6a6a"/><path d="M15.6 25.8 C17.8 20.5 21.1 17.5 26.8 15.6 C32.6 13.7 42.4 14.3 50.1 14.4 C57.9 14.5 68.1 14.4 73.4 16.3 C78.7 18.2 80.1 21.0 81.8 25.8 C83.5 30.6 83.6 37.5 83.7 45.0 C83.9 52.4 83.8 64.2 82.8 70.4 C81.9 76.5 82.0 79.3 78.1 81.8 C74.2 84.3 64.1 85.6 59.4 85.6 C54.7 85.6 53.2 81.8 50.1 81.8 C47.0 81.8 45.5 85.6 40.8 85.6 C36.2 85.6 26.3 84.3 22.1 81.8 C17.9 79.3 17.0 76.1 15.6 70.4 C14.2 64.7 13.7 54.9 13.7 47.4 C13.7 40.0 13.4 31.1 15.6 25.8Z" fill="#5a5a5a"/><path d="M18.2 27.6 C20.2 22.7 23.2 20.0 28.5 18.2 C33.8 16.5 42.9 17.0 50.0 17.1 C57.2 17.2 66.7 17.1 71.6 18.8 C76.4 20.6 77.7 23.2 79.3 27.6 C80.9 32.1 80.9 38.5 81.1 45.3 C81.2 52.2 81.1 63.2 80.3 68.8 C79.4 74.5 79.5 77.0 75.9 79.4 C72.3 81.7 62.9 82.9 58.6 82.9 C54.3 82.9 52.9 79.4 50.0 79.4 C47.2 79.4 45.8 82.9 41.4 82.9 C37.1 82.9 28.0 81.7 24.2 79.4 C20.3 77.0 19.5 74.1 18.2 68.8 C16.9 63.5 16.4 54.5 16.4 47.6 C16.4 40.8 16.1 32.5 18.2 27.6Z" fill="#bbbbbb"/><path d="M19.2 28.4 C21.1 23.7 24.1 21.0 29.2 19.3 C34.3 17.6 43.1 18.1 50.0 18.2 C56.9 18.3 66.1 18.2 70.8 19.9 C75.5 21.6 76.8 24.1 78.3 28.4 C79.8 32.7 79.8 38.9 80.0 45.5 C80.2 52.1 80.0 62.7 79.2 68.2 C78.4 73.7 78.5 76.1 75.0 78.4 C71.5 80.7 62.5 81.8 58.3 81.8 C54.1 81.8 52.8 78.4 50.0 78.4 C47.2 78.4 45.9 81.8 41.7 81.8 C37.5 81.8 28.8 80.7 25.0 78.4 C21.2 76.1 20.4 73.3 19.2 68.2 C17.9 63.1 17.5 54.3 17.5 47.7 C17.5 41.1 17.2 33.1 19.2 28.4Z" fill="#000"/><path d="M42.0 27.0 C43.3 24.3 45.5 20.7 48.0 19.0 C50.5 17.3 54.2 16.7 57.0 17.0 C59.8 17.3 63.0 19.0 65.0 21.0 C67.0 23.0 68.5 26.0 69.0 29.0 C69.5 32.0 69.0 36.0 68.0 39.0 C67.0 42.0 64.3 44.7 63.0 47.0 C61.7 49.3 61.8 51.7 60.0 53.0 C58.2 54.3 54.5 55.0 52.0 55.0 C49.5 55.0 46.8 54.7 45.0 53.0 C43.2 51.3 41.8 48.0 41.0 45.0 C40.2 42.0 39.8 38.0 40.0 35.0 C40.2 32.0 40.7 29.7 42.0 27.0Z" fill="#9c9c9c"/><path d="M38 50 C44 48 56 48 64 50 L62 58 C56 60 46 60 40 58Z" fill="#8e8e8e"/><path d="M60 52 C64 50 68 52 68 56 L64 60 C62 58 60 56 60 52Z" fill="#8a8a8a"/><ellipse cx="50" cy="37" rx="4.3" ry="5.3" fill="#bcbcbc"/><ellipse cx="58" cy="28" rx="3.5" ry="4.2" fill="#b4b4b4"/><ellipse cx="44" cy="33" rx="2.5" ry="4" fill="#a8a8a8"/><ellipse cx="58.5" cy="65" rx="3.2" ry="4.3" fill="#a4a4a4"/><ellipse cx="50" cy="69" rx="4.5" ry="5.2" fill="#ececec"/><ellipse cx="50" cy="69" rx="2.5" ry="3" fill="#c8c8c8"/><path d="M41 78 C44 73 48 73 50 75 C52 73 56 73 59 78 L57 81 C54 78 52 79 51 86 L49 86 C48 79 46 78 43 81Z" fill="#ececec"/><path d="M40 80 C32 81 26 78 21 72 M60 80 C68 81 74 78 79 72" stroke="#e4e4e4" stroke-width="1.6" fill="none"/><rect x="46.7" y="12.5" width="7.5" height="4.5" fill="#dcdcdc"/><ellipse cx="82.5" cy="50" rx="8.5" ry="13.5" fill="#8e8e8e"/></g><g fill="none" stroke="#e6e6e6" stroke-width="0.9"><ellipse cx="19" cy="33" rx="1.6" ry="4" transform="rotate(30 19 33)"/><ellipse cx="10.5" cy="58" rx="1.6" ry="4" transform="rotate(-30 10.5 58)"/><ellipse cx="81" cy="29" rx="1.6" ry="4" transform="rotate(-30 81 29)"/><ellipse cx="88" cy="66" rx="1.6" ry="4" transform="rotate(30 88 66)"/><ellipse cx="19" cy="55" rx="1.5" ry="5"/></g><path d="M0 89.8 C8 92 14 95 18.3 99 M80 99 C86 95 92 92 100 89.8" stroke="#d8d8d8" stroke-width="0.6" fill="none"/></g></g><line x1="143.1" y1="1183.6" x2="154" y2="1177.8" stroke="#ff1a1a" stroke-width="3.2" stroke-linecap="butt"/>
<g clip-path="url(#cpd2)"><rect x="162.3" y="1142.8" width="133.8" height="98" fill="#000" /><g transform="translate(162.3 1142.8) scale(1.3380 0.9800)"><g filter="url(#bl05)"><path d="M1.7 53.4 C1.9 50.0 2.2 46.8 3.3 43.2 C4.4 39.6 5.8 35.8 8.3 31.8 C10.8 27.8 14.1 22.9 18.3 19.3 C22.5 15.7 28.0 12.1 33.3 10.2 C38.6 8.3 44.4 8.2 50.0 8.0 C55.6 7.8 61.4 7.6 66.7 9.1 C72.0 10.6 77.5 13.6 81.7 17.0 C85.9 20.4 89.1 24.8 91.7 29.5 C94.3 34.2 96.4 40.6 97.5 45.5 C98.6 50.4 98.6 54.4 98.3 59.1 C98.0 63.8 97.6 69.7 95.8 73.9 C94.0 78.1 91.0 81.3 87.5 84.1 C84.0 86.9 79.9 89.2 75.0 90.9 C70.1 92.6 63.8 93.7 58.3 94.3 C52.8 94.9 47.2 94.9 41.7 94.3 C36.2 93.7 29.9 92.6 25.0 90.9 C20.1 89.2 15.8 87.1 12.5 84.1 C9.2 81.1 6.7 76.1 5.0 72.7 C3.3 69.3 2.6 66.8 2.1 63.6 C1.6 60.4 1.5 56.8 1.7 53.4Z" fill="#5c5c5c"/><path d="M3.1 53.4 C3.3 50.1 3.6 47.0 4.7 43.5 C5.8 40.0 7.1 36.3 9.6 32.4 C12.0 28.5 15.2 23.8 19.3 20.3 C23.3 16.8 28.7 13.3 33.8 11.5 C38.9 9.6 44.6 9.5 50.0 9.3 C55.4 9.1 61.1 8.9 66.2 10.4 C71.3 11.8 76.7 14.8 80.7 18.1 C84.8 21.3 87.9 25.6 90.4 30.2 C93.0 34.8 95.0 40.9 96.1 45.7 C97.1 50.5 97.1 54.3 96.9 58.9 C96.6 63.5 96.2 69.2 94.4 73.2 C92.7 77.3 89.7 80.4 86.4 83.1 C83.0 85.9 79.0 88.1 74.2 89.7 C69.5 91.4 63.4 92.5 58.1 93.0 C52.7 93.6 47.3 93.6 41.9 93.0 C36.6 92.5 30.5 91.4 25.8 89.7 C21.0 88.1 16.9 86.1 13.6 83.1 C10.4 80.2 8.0 75.4 6.4 72.1 C4.7 68.8 4.1 66.4 3.5 63.3 C3.0 60.1 3.0 56.7 3.1 53.4Z" fill="#262626"/><path d="M4 50 C8 45 16 45 19 50 L19 72 C14 76 6 74 4 66Z" fill="#7a7a7a"/><path d="M96 52 C92 46 84 46 82 52 L82 70 C86 76 94 74 96 66Z" fill="#767676"/><path d="M24 80 C36 86 64 86 76 80 L74 90 C60 94 40 94 26 90Z" fill="#6a6a6a"/><path d="M20 22 C35 12 65 12 80 22 L78 27 C64 18 36 18 22 27Z" fill="#6a6a6a"/><path d="M15.6 25.8 C17.8 20.5 21.1 17.5 26.8 15.6 C32.6 13.7 42.4 14.3 50.1 14.4 C57.9 14.5 68.1 14.4 73.4 16.3 C78.7 18.2 80.1 21.0 81.8 25.8 C83.5 30.6 83.6 37.5 83.7 45.0 C83.9 52.4 83.8 64.2 82.8 70.4 C81.9 76.5 82.0 79.3 78.1 81.8 C74.2 84.3 64.1 85.6 59.4 85.6 C54.7 85.6 53.2 81.8 50.1 81.8 C47.0 81.8 45.5 85.6 40.8 85.6 C36.2 85.6 26.3 84.3 22.1 81.8 C17.9 79.3 17.0 76.1 15.6 70.4 C14.2 64.7 13.7 54.9 13.7 47.4 C13.7 40.0 13.4 31.1 15.6 25.8Z" fill="#5a5a5a"/><path d="M18.2 27.6 C20.2 22.7 23.2 20.0 28.5 18.2 C33.8 16.5 42.9 17.0 50.0 17.1 C57.2 17.2 66.7 17.1 71.6 18.8 C76.4 20.6 77.7 23.2 79.3 27.6 C80.9 32.1 80.9 38.5 81.1 45.3 C81.2 52.2 81.1 63.2 80.3 68.8 C79.4 74.5 79.5 77.0 75.9 79.4 C72.3 81.7 62.9 82.9 58.6 82.9 C54.3 82.9 52.9 79.4 50.0 79.4 C47.2 79.4 45.8 82.9 41.4 82.9 C37.1 82.9 28.0 81.7 24.2 79.4 C20.3 77.0 19.5 74.1 18.2 68.8 C16.9 63.5 16.4 54.5 16.4 47.6 C16.4 40.8 16.1 32.5 18.2 27.6Z" fill="#bbbbbb"/><path d="M19.2 28.4 C21.1 23.7 24.1 21.0 29.2 19.3 C34.3 17.6 43.1 18.1 50.0 18.2 C56.9 18.3 66.1 18.2 70.8 19.9 C75.5 21.6 76.8 24.1 78.3 28.4 C79.8 32.7 79.8 38.9 80.0 45.5 C80.2 52.1 80.0 62.7 79.2 68.2 C78.4 73.7 78.5 76.1 75.0 78.4 C71.5 80.7 62.5 81.8 58.3 81.8 C54.1 81.8 52.8 78.4 50.0 78.4 C47.2 78.4 45.9 81.8 41.7 81.8 C37.5 81.8 28.8 80.7 25.0 78.4 C21.2 76.1 20.4 73.3 19.2 68.2 C17.9 63.1 17.5 54.3 17.5 47.7 C17.5 41.1 17.2 33.1 19.2 28.4Z" fill="#000"/><path d="M42.0 27.0 C43.3 24.3 45.5 20.7 48.0 19.0 C50.5 17.3 54.2 16.7 57.0 17.0 C59.8 17.3 63.0 19.0 65.0 21.0 C67.0 23.0 68.5 26.0 69.0 29.0 C69.5 32.0 69.0 36.0 68.0 39.0 C67.0 42.0 64.3 44.7 63.0 47.0 C61.7 49.3 61.8 51.7 60.0 53.0 C58.2 54.3 54.5 55.0 52.0 55.0 C49.5 55.0 46.8 54.7 45.0 53.0 C43.2 51.3 41.8 48.0 41.0 45.0 C40.2 42.0 39.8 38.0 40.0 35.0 C40.2 32.0 40.7 29.7 42.0 27.0Z" fill="#9c9c9c"/><path d="M38 50 C44 48 56 48 64 50 L62 58 C56 60 46 60 40 58Z" fill="#8e8e8e"/><path d="M60 52 C64 50 68 52 68 56 L64 60 C62 58 60 56 60 52Z" fill="#8a8a8a"/><ellipse cx="50" cy="37" rx="4.3" ry="5.3" fill="#bcbcbc"/><ellipse cx="58" cy="28" rx="3.5" ry="4.2" fill="#b4b4b4"/><ellipse cx="44" cy="33" rx="2.5" ry="4" fill="#a8a8a8"/><ellipse cx="58.5" cy="65" rx="3.2" ry="4.3" fill="#a4a4a4"/><ellipse cx="50" cy="69" rx="4.5" ry="5.2" fill="#ececec"/><ellipse cx="50" cy="69" rx="2.5" ry="3" fill="#c8c8c8"/><path d="M41 78 C44 73 48 73 50 75 C52 73 56 73 59 78 L57 81 C54 78 52 79 51 86 L49 86 C48 79 46 78 43 81Z" fill="#ececec"/><path d="M40 80 C32 81 26 78 21 72 M60 80 C68 81 74 78 79 72" stroke="#e4e4e4" stroke-width="1.6" fill="none"/><rect x="46.7" y="12.5" width="7.5" height="4.5" fill="#dcdcdc"/><ellipse cx="81.0" cy="50" rx="10.0" ry="15.0" fill="#8e8e8e"/></g><g fill="none" stroke="#e6e6e6" stroke-width="0.9"><ellipse cx="19" cy="33" rx="1.6" ry="4" transform="rotate(30 19 33)"/><ellipse cx="10.5" cy="58" rx="1.6" ry="4" transform="rotate(-30 10.5 58)"/><ellipse cx="81" cy="29" rx="1.6" ry="4" transform="rotate(-30 81 29)"/><ellipse cx="88" cy="66" rx="1.6" ry="4" transform="rotate(30 88 66)"/><ellipse cx="19" cy="55" rx="1.5" ry="5"/></g><path d="M0 89.8 C8 92 14 95 18.3 99 M80 99 C86 95 92 92 100 89.8" stroke="#d8d8d8" stroke-width="0.6" fill="none"/></g></g><line x1="284.8" y1="1183.4" x2="295.3" y2="1177.8" stroke="#ff1a1a" stroke-width="3.2" stroke-linecap="butt"/>
<g clip-path="url(#cpd3)"><rect x="302" y="1141.2" width="134" height="99" fill="#000" /><g transform="translate(302 1141.2) scale(1.3400 0.9900)"><g filter="url(#bl05)"><path d="M1.7 53.4 C1.9 50.0 2.2 46.8 3.3 43.2 C4.4 39.6 5.8 35.8 8.3 31.8 C10.8 27.8 14.1 22.9 18.3 19.3 C22.5 15.7 28.0 12.1 33.3 10.2 C38.6 8.3 44.4 8.2 50.0 8.0 C55.6 7.8 61.4 7.6 66.7 9.1 C72.0 10.6 77.5 13.6 81.7 17.0 C85.9 20.4 89.1 24.8 91.7 29.5 C94.3 34.2 96.4 40.6 97.5 45.5 C98.6 50.4 98.6 54.4 98.3 59.1 C98.0 63.8 97.6 69.7 95.8 73.9 C94.0 78.1 91.0 81.3 87.5 84.1 C84.0 86.9 79.9 89.2 75.0 90.9 C70.1 92.6 63.8 93.7 58.3 94.3 C52.8 94.9 47.2 94.9 41.7 94.3 C36.2 93.7 29.9 92.6 25.0 90.9 C20.1 89.2 15.8 87.1 12.5 84.1 C9.2 81.1 6.7 76.1 5.0 72.7 C3.3 69.3 2.6 66.8 2.1 63.6 C1.6 60.4 1.5 56.8 1.7 53.4Z" fill="#5c5c5c"/><path d="M3.1 53.4 C3.3 50.1 3.6 47.0 4.7 43.5 C5.8 40.0 7.1 36.3 9.6 32.4 C12.0 28.5 15.2 23.8 19.3 20.3 C23.3 16.8 28.7 13.3 33.8 11.5 C38.9 9.6 44.6 9.5 50.0 9.3 C55.4 9.1 61.1 8.9 66.2 10.4 C71.3 11.8 76.7 14.8 80.7 18.1 C84.8 21.3 87.9 25.6 90.4 30.2 C93.0 34.8 95.0 40.9 96.1 45.7 C97.1 50.5 97.1 54.3 96.9 58.9 C96.6 63.5 96.2 69.2 94.4 73.2 C92.7 77.3 89.7 80.4 86.4 83.1 C83.0 85.9 79.0 88.1 74.2 89.7 C69.5 91.4 63.4 92.5 58.1 93.0 C52.7 93.6 47.3 93.6 41.9 93.0 C36.6 92.5 30.5 91.4 25.8 89.7 C21.0 88.1 16.9 86.1 13.6 83.1 C10.4 80.2 8.0 75.4 6.4 72.1 C4.7 68.8 4.1 66.4 3.5 63.3 C3.0 60.1 3.0 56.7 3.1 53.4Z" fill="#262626"/><path d="M4 50 C8 45 16 45 19 50 L19 72 C14 76 6 74 4 66Z" fill="#7a7a7a"/><path d="M96 52 C92 46 84 46 82 52 L82 70 C86 76 94 74 96 66Z" fill="#767676"/><path d="M24 80 C36 86 64 86 76 80 L74 90 C60 94 40 94 26 90Z" fill="#6a6a6a"/><path d="M20 22 C35 12 65 12 80 22 L78 27 C64 18 36 18 22 27Z" fill="#6a6a6a"/><path d="M15.6 25.8 C17.8 20.5 21.1 17.5 26.8 15.6 C32.6 13.7 42.4 14.3 50.1 14.4 C57.9 14.5 68.1 14.4 73.4 16.3 C78.7 18.2 80.1 21.0 81.8 25.8 C83.5 30.6 83.6 37.5 83.7 45.0 C83.9 52.4 83.8 64.2 82.8 70.4 C81.9 76.5 82.0 79.3 78.1 81.8 C74.2 84.3 64.1 85.6 59.4 85.6 C54.7 85.6 53.2 81.8 50.1 81.8 C47.0 81.8 45.5 85.6 40.8 85.6 C36.2 85.6 26.3 84.3 22.1 81.8 C17.9 79.3 17.0 76.1 15.6 70.4 C14.2 64.7 13.7 54.9 13.7 47.4 C13.7 40.0 13.4 31.1 15.6 25.8Z" fill="#5a5a5a"/><path d="M18.2 27.6 C20.2 22.7 23.2 20.0 28.5 18.2 C33.8 16.5 42.9 17.0 50.0 17.1 C57.2 17.2 66.7 17.1 71.6 18.8 C76.4 20.6 77.7 23.2 79.3 27.6 C80.9 32.1 80.9 38.5 81.1 45.3 C81.2 52.2 81.1 63.2 80.3 68.8 C79.4 74.5 79.5 77.0 75.9 79.4 C72.3 81.7 62.9 82.9 58.6 82.9 C54.3 82.9 52.9 79.4 50.0 79.4 C47.2 79.4 45.8 82.9 41.4 82.9 C37.1 82.9 28.0 81.7 24.2 79.4 C20.3 77.0 19.5 74.1 18.2 68.8 C16.9 63.5 16.4 54.5 16.4 47.6 C16.4 40.8 16.1 32.5 18.2 27.6Z" fill="#bbbbbb"/><path d="M19.2 28.4 C21.1 23.7 24.1 21.0 29.2 19.3 C34.3 17.6 43.1 18.1 50.0 18.2 C56.9 18.3 66.1 18.2 70.8 19.9 C75.5 21.6 76.8 24.1 78.3 28.4 C79.8 32.7 79.8 38.9 80.0 45.5 C80.2 52.1 80.0 62.7 79.2 68.2 C78.4 73.7 78.5 76.1 75.0 78.4 C71.5 80.7 62.5 81.8 58.3 81.8 C54.1 81.8 52.8 78.4 50.0 78.4 C47.2 78.4 45.9 81.8 41.7 81.8 C37.5 81.8 28.8 80.7 25.0 78.4 C21.2 76.1 20.4 73.3 19.2 68.2 C17.9 63.1 17.5 54.3 17.5 47.7 C17.5 41.1 17.2 33.1 19.2 28.4Z" fill="#000"/><path d="M42.0 27.0 C43.3 24.3 45.5 20.7 48.0 19.0 C50.5 17.3 54.2 16.7 57.0 17.0 C59.8 17.3 63.0 19.0 65.0 21.0 C67.0 23.0 68.5 26.0 69.0 29.0 C69.5 32.0 69.0 36.0 68.0 39.0 C67.0 42.0 64.3 44.7 63.0 47.0 C61.7 49.3 61.8 51.7 60.0 53.0 C58.2 54.3 54.5 55.0 52.0 55.0 C49.5 55.0 46.8 54.7 45.0 53.0 C43.2 51.3 41.8 48.0 41.0 45.0 C40.2 42.0 39.8 38.0 40.0 35.0 C40.2 32.0 40.7 29.7 42.0 27.0Z" fill="#9c9c9c"/><path d="M38 50 C44 48 56 48 64 50 L62 58 C56 60 46 60 40 58Z" fill="#8e8e8e"/><path d="M60 52 C64 50 68 52 68 56 L64 60 C62 58 60 56 60 52Z" fill="#8a8a8a"/><ellipse cx="50" cy="37" rx="4.3" ry="5.3" fill="#bcbcbc"/><ellipse cx="58" cy="28" rx="3.5" ry="4.2" fill="#b4b4b4"/><ellipse cx="44" cy="33" rx="2.5" ry="4" fill="#a8a8a8"/><ellipse cx="58.5" cy="65" rx="3.2" ry="4.3" fill="#a4a4a4"/><ellipse cx="50" cy="69" rx="4.5" ry="5.2" fill="#ececec"/><ellipse cx="50" cy="69" rx="2.5" ry="3" fill="#c8c8c8"/><path d="M41 78 C44 73 48 73 50 75 C52 73 56 73 59 78 L57 81 C54 78 52 79 51 86 L49 86 C48 79 46 78 43 81Z" fill="#ececec"/><path d="M40 80 C32 81 26 78 21 72 M60 80 C68 81 74 78 79 72" stroke="#e4e4e4" stroke-width="1.6" fill="none"/><rect x="46.7" y="12.5" width="7.5" height="4.5" fill="#dcdcdc"/></g><g fill="none" stroke="#e6e6e6" stroke-width="0.9"><ellipse cx="19" cy="33" rx="1.6" ry="4" transform="rotate(30 19 33)"/><ellipse cx="10.5" cy="58" rx="1.6" ry="4" transform="rotate(-30 10.5 58)"/><ellipse cx="81" cy="29" rx="1.6" ry="4" transform="rotate(-30 81 29)"/><ellipse cx="88" cy="66" rx="1.6" ry="4" transform="rotate(30 88 66)"/><ellipse cx="19" cy="55" rx="1.5" ry="5"/></g><path d="M0 89.8 C8 92 14 95 18.3 99 M80 99 C86 95 92 92 100 89.8" stroke="#d8d8d8" stroke-width="0.6" fill="none"/></g></g><line x1="419.5" y1="1186" x2="431.2" y2="1180.5" stroke="#ff1a1a" stroke-width="3.2" stroke-linecap="butt"/>
<g clip-path="url(#cpd4)"><rect x="442.5" y="1142.5" width="134" height="99.5" fill="#000" /><g transform="translate(442.5 1142.5) scale(1.3400 0.9950)"><g filter="url(#bl05)"><path d="M1.7 53.4 C1.9 50.0 2.2 46.8 3.3 43.2 C4.4 39.6 5.8 35.8 8.3 31.8 C10.8 27.8 14.1 22.9 18.3 19.3 C22.5 15.7 28.0 12.1 33.3 10.2 C38.6 8.3 44.4 8.2 50.0 8.0 C55.6 7.8 61.4 7.6 66.7 9.1 C72.0 10.6 77.5 13.6 81.7 17.0 C85.9 20.4 89.1 24.8 91.7 29.5 C94.3 34.2 96.4 40.6 97.5 45.5 C98.6 50.4 98.6 54.4 98.3 59.1 C98.0 63.8 97.6 69.7 95.8 73.9 C94.0 78.1 91.0 81.3 87.5 84.1 C84.0 86.9 79.9 89.2 75.0 90.9 C70.1 92.6 63.8 93.7 58.3 94.3 C52.8 94.9 47.2 94.9 41.7 94.3 C36.2 93.7 29.9 92.6 25.0 90.9 C20.1 89.2 15.8 87.1 12.5 84.1 C9.2 81.1 6.7 76.1 5.0 72.7 C3.3 69.3 2.6 66.8 2.1 63.6 C1.6 60.4 1.5 56.8 1.7 53.4Z" fill="#5c5c5c"/><path d="M3.1 53.4 C3.3 50.1 3.6 47.0 4.7 43.5 C5.8 40.0 7.1 36.3 9.6 32.4 C12.0 28.5 15.2 23.8 19.3 20.3 C23.3 16.8 28.7 13.3 33.8 11.5 C38.9 9.6 44.6 9.5 50.0 9.3 C55.4 9.1 61.1 8.9 66.2 10.4 C71.3 11.8 76.7 14.8 80.7 18.1 C84.8 21.3 87.9 25.6 90.4 30.2 C93.0 34.8 95.0 40.9 96.1 45.7 C97.1 50.5 97.1 54.3 96.9 58.9 C96.6 63.5 96.2 69.2 94.4 73.2 C92.7 77.3 89.7 80.4 86.4 83.1 C83.0 85.9 79.0 88.1 74.2 89.7 C69.5 91.4 63.4 92.5 58.1 93.0 C52.7 93.6 47.3 93.6 41.9 93.0 C36.6 92.5 30.5 91.4 25.8 89.7 C21.0 88.1 16.9 86.1 13.6 83.1 C10.4 80.2 8.0 75.4 6.4 72.1 C4.7 68.8 4.1 66.4 3.5 63.3 C3.0 60.1 3.0 56.7 3.1 53.4Z" fill="#262626"/><path d="M4 50 C8 45 16 45 19 50 L19 72 C14 76 6 74 4 66Z" fill="#7a7a7a"/><path d="M96 52 C92 46 84 46 82 52 L82 70 C86 76 94 74 96 66Z" fill="#767676"/><path d="M24 80 C36 86 64 86 76 80 L74 90 C60 94 40 94 26 90Z" fill="#6a6a6a"/><path d="M20 22 C35 12 65 12 80 22 L78 27 C64 18 36 18 22 27Z" fill="#6a6a6a"/><path d="M15.6 25.8 C17.8 20.5 21.1 17.5 26.8 15.6 C32.6 13.7 42.4 14.3 50.1 14.4 C57.9 14.5 68.1 14.4 73.4 16.3 C78.7 18.2 80.1 21.0 81.8 25.8 C83.5 30.6 83.6 37.5 83.7 45.0 C83.9 52.4 83.8 64.2 82.8 70.4 C81.9 76.5 82.0 79.3 78.1 81.8 C74.2 84.3 64.1 85.6 59.4 85.6 C54.7 85.6 53.2 81.8 50.1 81.8 C47.0 81.8 45.5 85.6 40.8 85.6 C36.2 85.6 26.3 84.3 22.1 81.8 C17.9 79.3 17.0 76.1 15.6 70.4 C14.2 64.7 13.7 54.9 13.7 47.4 C13.7 40.0 13.4 31.1 15.6 25.8Z" fill="#5a5a5a"/><path d="M18.2 27.6 C20.2 22.7 23.2 20.0 28.5 18.2 C33.8 16.5 42.9 17.0 50.0 17.1 C57.2 17.2 66.7 17.1 71.6 18.8 C76.4 20.6 77.7 23.2 79.3 27.6 C80.9 32.1 80.9 38.5 81.1 45.3 C81.2 52.2 81.1 63.2 80.3 68.8 C79.4 74.5 79.5 77.0 75.9 79.4 C72.3 81.7 62.9 82.9 58.6 82.9 C54.3 82.9 52.9 79.4 50.0 79.4 C47.2 79.4 45.8 82.9 41.4 82.9 C37.1 82.9 28.0 81.7 24.2 79.4 C20.3 77.0 19.5 74.1 18.2 68.8 C16.9 63.5 16.4 54.5 16.4 47.6 C16.4 40.8 16.1 32.5 18.2 27.6Z" fill="#bbbbbb"/><path d="M19.2 28.4 C21.1 23.7 24.1 21.0 29.2 19.3 C34.3 17.6 43.1 18.1 50.0 18.2 C56.9 18.3 66.1 18.2 70.8 19.9 C75.5 21.6 76.8 24.1 78.3 28.4 C79.8 32.7 79.8 38.9 80.0 45.5 C80.2 52.1 80.0 62.7 79.2 68.2 C78.4 73.7 78.5 76.1 75.0 78.4 C71.5 80.7 62.5 81.8 58.3 81.8 C54.1 81.8 52.8 78.4 50.0 78.4 C47.2 78.4 45.9 81.8 41.7 81.8 C37.5 81.8 28.8 80.7 25.0 78.4 C21.2 76.1 20.4 73.3 19.2 68.2 C17.9 63.1 17.5 54.3 17.5 47.7 C17.5 41.1 17.2 33.1 19.2 28.4Z" fill="#000"/><path d="M42.0 27.0 C43.3 24.3 45.5 20.7 48.0 19.0 C50.5 17.3 54.2 16.7 57.0 17.0 C59.8 17.3 63.0 19.0 65.0 21.0 C67.0 23.0 68.5 26.0 69.0 29.0 C69.5 32.0 69.0 36.0 68.0 39.0 C67.0 42.0 64.3 44.7 63.0 47.0 C61.7 49.3 61.8 51.7 60.0 53.0 C58.2 54.3 54.5 55.0 52.0 55.0 C49.5 55.0 46.8 54.7 45.0 53.0 C43.2 51.3 41.8 48.0 41.0 45.0 C40.2 42.0 39.8 38.0 40.0 35.0 C40.2 32.0 40.7 29.7 42.0 27.0Z" fill="#9c9c9c"/><path d="M38 50 C44 48 56 48 64 50 L62 58 C56 60 46 60 40 58Z" fill="#8e8e8e"/><path d="M60 52 C64 50 68 52 68 56 L64 60 C62 58 60 56 60 52Z" fill="#8a8a8a"/><ellipse cx="50" cy="37" rx="4.3" ry="5.3" fill="#bcbcbc"/><ellipse cx="58" cy="28" rx="3.5" ry="4.2" fill="#b4b4b4"/><ellipse cx="44" cy="33" rx="2.5" ry="4" fill="#a8a8a8"/><ellipse cx="58.5" cy="65" rx="3.2" ry="4.3" fill="#a4a4a4"/><ellipse cx="50" cy="69" rx="4.5" ry="5.2" fill="#ececec"/><ellipse cx="50" cy="69" rx="2.5" ry="3" fill="#c8c8c8"/><path d="M41 78 C44 73 48 73 50 75 C52 73 56 73 59 78 L57 81 C54 78 52 79 51 86 L49 86 C48 79 46 78 43 81Z" fill="#ececec"/><path d="M40 80 C32 81 26 78 21 72 M60 80 C68 81 74 78 79 72" stroke="#e4e4e4" stroke-width="1.6" fill="none"/><rect x="46.7" y="12.5" width="7.5" height="4.5" fill="#dcdcdc"/></g><g fill="none" stroke="#e6e6e6" stroke-width="0.9"><ellipse cx="19" cy="33" rx="1.6" ry="4" transform="rotate(30 19 33)"/><ellipse cx="10.5" cy="58" rx="1.6" ry="4" transform="rotate(-30 10.5 58)"/><ellipse cx="81" cy="29" rx="1.6" ry="4" transform="rotate(-30 81 29)"/><ellipse cx="88" cy="66" rx="1.6" ry="4" transform="rotate(30 88 66)"/><ellipse cx="19" cy="55" rx="1.5" ry="5"/></g><path d="M0 89.8 C8 92 14 95 18.3 99 M80 99 C86 95 92 92 100 89.8" stroke="#d8d8d8" stroke-width="0.6" fill="none"/></g></g><line x1="561.3" y1="1183.8" x2="572.5" y2="1177.8" stroke="#ff1a1a" stroke-width="3.2" stroke-linecap="butt"/>
<line x1="298" y1="1264" x2="298" y2="1237" stroke="#111" stroke-width="1.6" />
<polygon points="298,1230 294.6,1240 298,1238 301.4,1240" fill="#111"/>
<text x="199" y="1283.5" font-size="14.6" textLength="193.5" lengthAdjust="spacingAndGlyphs" >Tumor TCRseq analysis (C7)</text>
</svg>
</body></html>
